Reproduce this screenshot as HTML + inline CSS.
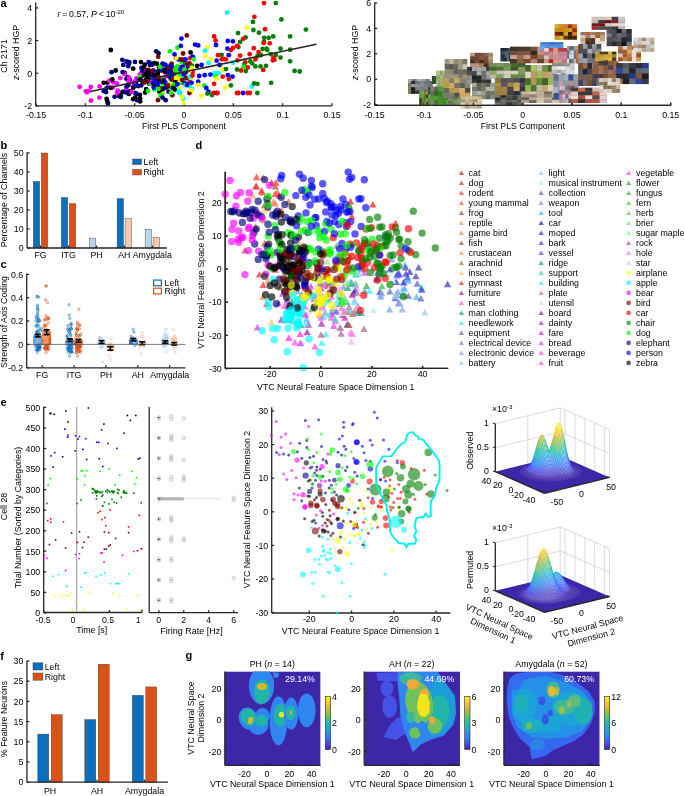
<!DOCTYPE html>
<html><head><meta charset="utf-8"><style>
html,body{margin:0;padding:0;background:#fff;}
body{width:685px;height:796px;overflow:hidden;}
svg{display:block;font-family:"Liberation Sans", sans-serif;font-size:8.8px;will-change:transform;}
</style></head><body>
<svg width="685" height="796" viewBox="0 0 685 796">
<text x="0.5" y="7.3" font-weight="bold" font-size="11">a</text>
<text x="0.6" y="148.7" font-weight="bold" font-size="11">b</text>
<text x="0.6" y="268.2" font-weight="bold" font-size="11">c</text>
<text x="195.4" y="148.9" font-weight="bold" font-size="11">d</text>
<text x="0.4" y="405.8" font-weight="bold" font-size="11">e</text>
<text x="0.2" y="659.7" font-weight="bold" font-size="11">f</text>
<text x="185.4" y="659.3" font-weight="bold" font-size="11">g</text>
<line x1="35.7" y1="105.8" x2="332" y2="105.8" stroke="#262626" stroke-width="1.3"/>
<line x1="35.7" y1="105.8" x2="35.7" y2="2.5" stroke="#262626" stroke-width="1.3"/>
<line x1="36" y1="105.8" x2="36" y2="103.3" stroke="#262626" stroke-width="1.3"/>
<text x="36" y="118.4" text-anchor="middle">-0.15</text>
<line x1="85.3" y1="105.8" x2="85.3" y2="103.3" stroke="#262626" stroke-width="1.3"/>
<text x="85.3" y="118.4" text-anchor="middle">-0.1</text>
<line x1="134.7" y1="105.8" x2="134.7" y2="103.3" stroke="#262626" stroke-width="1.3"/>
<text x="134.7" y="118.4" text-anchor="middle">-0.05</text>
<line x1="184" y1="105.8" x2="184" y2="103.3" stroke="#262626" stroke-width="1.3"/>
<text x="184" y="118.4" text-anchor="middle">0</text>
<line x1="233.3" y1="105.8" x2="233.3" y2="103.3" stroke="#262626" stroke-width="1.3"/>
<text x="233.3" y="118.4" text-anchor="middle">0.05</text>
<line x1="282.7" y1="105.8" x2="282.7" y2="103.3" stroke="#262626" stroke-width="1.3"/>
<text x="282.7" y="118.4" text-anchor="middle">0.1</text>
<line x1="332" y1="105.8" x2="332" y2="103.3" stroke="#262626" stroke-width="1.3"/>
<text x="332" y="118.4" text-anchor="middle">0.15</text>
<line x1="35.7" y1="7.9" x2="38.2" y2="7.9" stroke="#262626" stroke-width="1.3"/>
<text x="32.2" y="11.1" text-anchor="end">4</text>
<line x1="35.7" y1="40.6" x2="38.2" y2="40.6" stroke="#262626" stroke-width="1.3"/>
<text x="32.2" y="43.8" text-anchor="end">2</text>
<line x1="35.7" y1="73.3" x2="38.2" y2="73.3" stroke="#262626" stroke-width="1.3"/>
<text x="32.2" y="76.5" text-anchor="end">0</text>
<line x1="35.7" y1="106" x2="38.2" y2="106" stroke="#262626" stroke-width="1.3"/>
<text x="32.2" y="109.2" text-anchor="end">-2</text>
<text x="184" y="128.6" text-anchor="middle">First PLS Component</text>
<circle cx="168.1" cy="73" r="2.4" fill="#00ffff"/>
<circle cx="183.6" cy="102.5" r="2.4" fill="#ffff00"/>
<circle cx="189.7" cy="79.8" r="2.4" fill="#ff0000"/>
<circle cx="177.5" cy="47.7" r="2.4" fill="#00ff00"/>
<circle cx="162.1" cy="93.5" r="2.4" fill="#00ff00"/>
<circle cx="153.2" cy="85.7" r="2.4" fill="#00ff00"/>
<circle cx="162.7" cy="63.7" r="2.4" fill="#00008b"/>
<circle cx="179.8" cy="92.8" r="2.4" fill="#0000ff"/>
<circle cx="142.6" cy="75.6" r="2.4" fill="#000000"/>
<circle cx="126.4" cy="78.8" r="2.4" fill="#00008b"/>
<circle cx="192" cy="88.8" r="2.4" fill="#00ffff"/>
<circle cx="174" cy="87.9" r="2.4" fill="#ff0000"/>
<circle cx="173.2" cy="79.3" r="2.4" fill="#00ffff"/>
<circle cx="79.6" cy="86.8" r="2.4" fill="#ff00ff"/>
<circle cx="187.7" cy="84.1" r="2.4" fill="#ffff00"/>
<circle cx="168.8" cy="88.2" r="2.4" fill="#ffff00"/>
<circle cx="120.3" cy="78.1" r="2.4" fill="#ff00ff"/>
<circle cx="107.9" cy="103.4" r="2.4" fill="#00008b"/>
<circle cx="152.5" cy="64.5" r="2.4" fill="#00008b"/>
<circle cx="134.6" cy="84.9" r="2.4" fill="#ff00ff"/>
<circle cx="158.1" cy="83.1" r="2.4" fill="#00008b"/>
<circle cx="184.3" cy="78.8" r="2.4" fill="#008000"/>
<circle cx="175.2" cy="85.2" r="2.4" fill="#00008b"/>
<circle cx="136.6" cy="78.5" r="2.4" fill="#ff00ff"/>
<circle cx="163.8" cy="78.8" r="2.4" fill="#800000"/>
<circle cx="153.5" cy="74.9" r="2.4" fill="#000000"/>
<circle cx="149.2" cy="74" r="2.4" fill="#00008b"/>
<circle cx="158.5" cy="53.2" r="2.4" fill="#000000"/>
<circle cx="191.1" cy="67.1" r="2.4" fill="#ff0000"/>
<circle cx="164.5" cy="88" r="2.4" fill="#ffff00"/>
<circle cx="159.8" cy="92.3" r="2.4" fill="#000000"/>
<circle cx="112.9" cy="87.6" r="2.4" fill="#ff00ff"/>
<circle cx="103.8" cy="91.2" r="2.4" fill="#00008b"/>
<circle cx="186.1" cy="71.7" r="2.4" fill="#ffff00"/>
<circle cx="163.1" cy="84.5" r="2.4" fill="#00ff00"/>
<circle cx="190.6" cy="52.4" r="2.4" fill="#000000"/>
<circle cx="179.6" cy="79.4" r="2.4" fill="#0000ff"/>
<circle cx="162.7" cy="88.3" r="2.4" fill="#ffff00"/>
<circle cx="181.2" cy="67.2" r="2.4" fill="#0000ff"/>
<circle cx="168.7" cy="75.1" r="2.4" fill="#00ff00"/>
<circle cx="175.8" cy="74.4" r="2.4" fill="#0000ff"/>
<circle cx="181.2" cy="61.6" r="2.4" fill="#00ff00"/>
<circle cx="129.9" cy="79.8" r="2.4" fill="#00008b"/>
<circle cx="169.9" cy="51.3" r="2.4" fill="#00ff00"/>
<circle cx="186" cy="72.1" r="2.4" fill="#800000"/>
<circle cx="157.2" cy="74.2" r="2.4" fill="#00008b"/>
<circle cx="174.1" cy="84.6" r="2.4" fill="#00ff00"/>
<circle cx="168.9" cy="74.5" r="2.4" fill="#000000"/>
<circle cx="165.6" cy="100.2" r="2.4" fill="#00008b"/>
<circle cx="176.4" cy="80.3" r="2.4" fill="#800000"/>
<circle cx="188.4" cy="85.5" r="2.4" fill="#00ffff"/>
<circle cx="128.9" cy="63.6" r="2.4" fill="#000000"/>
<circle cx="154.1" cy="77.2" r="2.4" fill="#00008b"/>
<circle cx="178.7" cy="77.9" r="2.4" fill="#00ffff"/>
<circle cx="153.1" cy="70.9" r="2.4" fill="#00008b"/>
<circle cx="156.8" cy="63.7" r="2.4" fill="#000000"/>
<circle cx="85.9" cy="91.2" r="2.4" fill="#ff00ff"/>
<circle cx="186.8" cy="84" r="2.4" fill="#800000"/>
<circle cx="176" cy="57.9" r="2.4" fill="#800000"/>
<circle cx="175" cy="89.6" r="2.4" fill="#000000"/>
<circle cx="158.7" cy="79.7" r="2.4" fill="#0000ff"/>
<circle cx="103.7" cy="82.8" r="2.4" fill="#000000"/>
<circle cx="149.3" cy="79.1" r="2.4" fill="#00008b"/>
<circle cx="167.3" cy="87.1" r="2.4" fill="#00ffff"/>
<circle cx="160.7" cy="93.7" r="2.4" fill="#00ff00"/>
<circle cx="107.5" cy="82.6" r="2.4" fill="#000000"/>
<circle cx="185" cy="82.8" r="2.4" fill="#00ffff"/>
<circle cx="155.1" cy="84.3" r="2.4" fill="#800000"/>
<circle cx="158" cy="100.2" r="2.4" fill="#800000"/>
<circle cx="120.9" cy="95" r="2.4" fill="#00008b"/>
<circle cx="109.3" cy="80.7" r="2.4" fill="#ff00ff"/>
<circle cx="190.6" cy="69.6" r="2.4" fill="#00ff00"/>
<circle cx="106.1" cy="92.1" r="2.4" fill="#00008b"/>
<circle cx="146.2" cy="73.4" r="2.4" fill="#000000"/>
<circle cx="158.4" cy="85.1" r="2.4" fill="#00ff00"/>
<circle cx="124.7" cy="72.9" r="2.4" fill="#000000"/>
<circle cx="162.1" cy="78.9" r="2.4" fill="#00ff00"/>
<circle cx="149" cy="83.5" r="2.4" fill="#00008b"/>
<circle cx="182.5" cy="76.2" r="2.4" fill="#800000"/>
<circle cx="171.3" cy="63.6" r="2.4" fill="#00ff00"/>
<circle cx="182.8" cy="74.6" r="2.4" fill="#800000"/>
<circle cx="171.1" cy="65.8" r="2.4" fill="#0000ff"/>
<circle cx="178.5" cy="67.3" r="2.4" fill="#800000"/>
<circle cx="120.8" cy="97" r="2.4" fill="#00008b"/>
<circle cx="167.2" cy="69.8" r="2.4" fill="#000000"/>
<circle cx="182.9" cy="66.7" r="2.4" fill="#0000ff"/>
<circle cx="171.7" cy="64" r="2.4" fill="#800000"/>
<circle cx="122.3" cy="59.8" r="2.4" fill="#00008b"/>
<circle cx="166.7" cy="66.8" r="2.4" fill="#00008b"/>
<circle cx="135.2" cy="86" r="2.4" fill="#00008b"/>
<circle cx="178.7" cy="87.3" r="2.4" fill="#00ffff"/>
<circle cx="168.5" cy="91.6" r="2.4" fill="#00008b"/>
<circle cx="156.3" cy="81.9" r="2.4" fill="#800000"/>
<circle cx="123.3" cy="64.9" r="2.4" fill="#00008b"/>
<circle cx="154.4" cy="89.4" r="2.4" fill="#00ff00"/>
<circle cx="128.4" cy="85.1" r="2.4" fill="#000000"/>
<circle cx="113.1" cy="82.3" r="2.4" fill="#ff00ff"/>
<circle cx="162.7" cy="91.1" r="2.4" fill="#ffff00"/>
<circle cx="191" cy="91.7" r="2.4" fill="#ffff00"/>
<circle cx="183" cy="59.8" r="2.4" fill="#800000"/>
<circle cx="148.6" cy="62.1" r="2.4" fill="#0000ff"/>
<circle cx="170.9" cy="86.4" r="2.4" fill="#0000ff"/>
<circle cx="136" cy="83.1" r="2.4" fill="#000000"/>
<circle cx="115.7" cy="70.5" r="2.4" fill="#000000"/>
<circle cx="157.7" cy="74.4" r="2.4" fill="#000000"/>
<circle cx="176.4" cy="73.6" r="2.4" fill="#00ff00"/>
<circle cx="171" cy="67.3" r="2.4" fill="#000000"/>
<circle cx="162.4" cy="89.3" r="2.4" fill="#000000"/>
<circle cx="86.9" cy="92.3" r="2.4" fill="#ff00ff"/>
<circle cx="152.9" cy="78.6" r="2.4" fill="#00008b"/>
<circle cx="173.6" cy="73.4" r="2.4" fill="#0000ff"/>
<circle cx="190.1" cy="58.1" r="2.4" fill="#ff0000"/>
<circle cx="188.6" cy="84.1" r="2.4" fill="#800000"/>
<circle cx="108.1" cy="86.9" r="2.4" fill="#ff00ff"/>
<circle cx="149.9" cy="75.3" r="2.4" fill="#00008b"/>
<circle cx="185.2" cy="63.2" r="2.4" fill="#008000"/>
<circle cx="183.1" cy="75.3" r="2.4" fill="#000000"/>
<circle cx="147.2" cy="76" r="2.4" fill="#000000"/>
<circle cx="171.2" cy="78.9" r="2.4" fill="#000000"/>
<circle cx="141" cy="62.1" r="2.4" fill="#000000"/>
<circle cx="189.4" cy="93" r="2.4" fill="#800000"/>
<circle cx="99.6" cy="86.5" r="2.4" fill="#ff00ff"/>
<circle cx="116.8" cy="83.3" r="2.4" fill="#ff00ff"/>
<circle cx="146.1" cy="75.6" r="2.4" fill="#000000"/>
<circle cx="174.8" cy="77.5" r="2.4" fill="#800000"/>
<circle cx="138.9" cy="78.7" r="2.4" fill="#00008b"/>
<circle cx="163.1" cy="80.4" r="2.4" fill="#0000ff"/>
<circle cx="145.2" cy="70.4" r="2.4" fill="#ff00ff"/>
<circle cx="141.2" cy="85.4" r="2.4" fill="#00008b"/>
<circle cx="127.6" cy="77.2" r="2.4" fill="#000000"/>
<circle cx="170.9" cy="78.5" r="2.4" fill="#00ff00"/>
<circle cx="135.2" cy="92.8" r="2.4" fill="#00008b"/>
<circle cx="171.2" cy="71.1" r="2.4" fill="#00008b"/>
<circle cx="139.9" cy="94.9" r="2.4" fill="#000000"/>
<circle cx="191.7" cy="65.4" r="2.4" fill="#000000"/>
<circle cx="170.8" cy="85.3" r="2.4" fill="#00ff00"/>
<circle cx="155.5" cy="76.8" r="2.4" fill="#000000"/>
<circle cx="192.6" cy="72" r="2.4" fill="#ff0000"/>
<circle cx="186.8" cy="35.4" r="2.4" fill="#800000"/>
<circle cx="153" cy="80.5" r="2.4" fill="#00ff00"/>
<circle cx="159.4" cy="90.7" r="2.4" fill="#000000"/>
<circle cx="148.2" cy="69.8" r="2.4" fill="#800000"/>
<circle cx="153.7" cy="82.6" r="2.4" fill="#800000"/>
<circle cx="149.7" cy="83.1" r="2.4" fill="#00ff00"/>
<circle cx="151.3" cy="79.8" r="2.4" fill="#00ff00"/>
<circle cx="189.3" cy="67" r="2.4" fill="#00ffff"/>
<circle cx="125.1" cy="91.4" r="2.4" fill="#00008b"/>
<circle cx="110.8" cy="87.8" r="2.4" fill="#000000"/>
<circle cx="181.4" cy="38.6" r="2.4" fill="#0000ff"/>
<circle cx="177.5" cy="66.5" r="2.4" fill="#00ff00"/>
<circle cx="160.1" cy="88.4" r="2.4" fill="#800000"/>
<circle cx="130.5" cy="91.7" r="2.4" fill="#000000"/>
<circle cx="90.9" cy="100.6" r="2.4" fill="#ff00ff"/>
<circle cx="179.1" cy="77.8" r="2.4" fill="#00008b"/>
<circle cx="129" cy="91.4" r="2.4" fill="#000000"/>
<circle cx="140.1" cy="101.4" r="2.4" fill="#000000"/>
<circle cx="173.3" cy="75.8" r="2.4" fill="#0000ff"/>
<circle cx="174.1" cy="68.4" r="2.4" fill="#800000"/>
<circle cx="180.8" cy="45.9" r="2.4" fill="#0000ff"/>
<circle cx="186.8" cy="78" r="2.4" fill="#800000"/>
<circle cx="161.6" cy="81.7" r="2.4" fill="#00008b"/>
<circle cx="183.3" cy="83.1" r="2.4" fill="#800000"/>
<circle cx="126.8" cy="90.6" r="2.4" fill="#00008b"/>
<circle cx="181.3" cy="78" r="2.4" fill="#0000ff"/>
<circle cx="161.8" cy="66.8" r="2.4" fill="#000000"/>
<circle cx="180.1" cy="82.5" r="2.4" fill="#00ff00"/>
<circle cx="163.5" cy="80.9" r="2.4" fill="#800000"/>
<circle cx="122.5" cy="91.9" r="2.4" fill="#000000"/>
<circle cx="141.5" cy="67.9" r="2.4" fill="#00008b"/>
<circle cx="142.1" cy="71.4" r="2.4" fill="#00008b"/>
<circle cx="119.1" cy="95.9" r="2.4" fill="#000000"/>
<circle cx="180.1" cy="71.3" r="2.4" fill="#ff00ff"/>
<circle cx="170.4" cy="79.3" r="2.4" fill="#00ffff"/>
<circle cx="190.6" cy="89.8" r="2.4" fill="#ffff00"/>
<circle cx="153.8" cy="87.6" r="2.4" fill="#0000ff"/>
<circle cx="177.6" cy="79.3" r="2.4" fill="#000000"/>
<circle cx="165.7" cy="76.3" r="2.4" fill="#ff00ff"/>
<circle cx="134.4" cy="82.3" r="2.4" fill="#000000"/>
<circle cx="179.2" cy="79.9" r="2.4" fill="#ffff00"/>
<circle cx="181.4" cy="77.6" r="2.4" fill="#800000"/>
<circle cx="147.7" cy="80.9" r="2.4" fill="#00008b"/>
<circle cx="170.3" cy="66" r="2.4" fill="#0000ff"/>
<circle cx="178.3" cy="59.3" r="2.4" fill="#0000ff"/>
<circle cx="128.2" cy="66.2" r="2.4" fill="#00008b"/>
<circle cx="191.1" cy="76.4" r="2.4" fill="#00ffff"/>
<circle cx="180.2" cy="93.1" r="2.4" fill="#00ffff"/>
<circle cx="146.1" cy="73.7" r="2.4" fill="#000000"/>
<circle cx="177.3" cy="84.2" r="2.4" fill="#0000ff"/>
<circle cx="153.6" cy="70.6" r="2.4" fill="#0000ff"/>
<circle cx="166.8" cy="85.9" r="2.4" fill="#0000ff"/>
<circle cx="148.1" cy="79.5" r="2.4" fill="#000000"/>
<circle cx="151.9" cy="81.1" r="2.4" fill="#ff00ff"/>
<circle cx="182.2" cy="75.8" r="2.4" fill="#00ffff"/>
<circle cx="154.2" cy="63.2" r="2.4" fill="#000000"/>
<circle cx="133.7" cy="85.8" r="2.4" fill="#ff00ff"/>
<circle cx="126.1" cy="89.2" r="2.4" fill="#ff00ff"/>
<circle cx="142.5" cy="81.3" r="2.4" fill="#000000"/>
<circle cx="170.4" cy="73.6" r="2.4" fill="#00008b"/>
<circle cx="147.1" cy="81.5" r="2.4" fill="#800000"/>
<circle cx="167.6" cy="67.2" r="2.4" fill="#800000"/>
<circle cx="161.1" cy="70.5" r="2.4" fill="#800000"/>
<circle cx="139.4" cy="78.1" r="2.4" fill="#00008b"/>
<circle cx="158.4" cy="88.8" r="2.4" fill="#00ff00"/>
<circle cx="151" cy="71.4" r="2.4" fill="#000000"/>
<circle cx="110.8" cy="50" r="2.4" fill="#000000"/>
<circle cx="112.3" cy="79.5" r="2.4" fill="#000000"/>
<circle cx="139.9" cy="74.4" r="2.4" fill="#ff00ff"/>
<circle cx="181.2" cy="59.5" r="2.4" fill="#800000"/>
<circle cx="174.7" cy="68.4" r="2.4" fill="#0000ff"/>
<circle cx="164.5" cy="81.7" r="2.4" fill="#000000"/>
<circle cx="164.6" cy="70.2" r="2.4" fill="#000000"/>
<circle cx="174.9" cy="72.6" r="2.4" fill="#00ffff"/>
<circle cx="117" cy="92.7" r="2.4" fill="#ff00ff"/>
<circle cx="180.1" cy="69" r="2.4" fill="#0000ff"/>
<circle cx="136.9" cy="100.2" r="2.4" fill="#00008b"/>
<circle cx="185.3" cy="83.6" r="2.4" fill="#0000ff"/>
<circle cx="158.2" cy="56.8" r="2.4" fill="#800000"/>
<circle cx="128.9" cy="93.9" r="2.4" fill="#000000"/>
<circle cx="183.1" cy="98.4" r="2.4" fill="#00ffff"/>
<circle cx="154.8" cy="78.9" r="2.4" fill="#0000ff"/>
<circle cx="185.3" cy="85.2" r="2.4" fill="#00ffff"/>
<circle cx="190.9" cy="77.9" r="2.4" fill="#ffff00"/>
<circle cx="135" cy="61.9" r="2.4" fill="#00008b"/>
<circle cx="177.4" cy="73.7" r="2.4" fill="#00ffff"/>
<circle cx="181" cy="74.4" r="2.4" fill="#0000ff"/>
<circle cx="170.5" cy="76.6" r="2.4" fill="#00008b"/>
<circle cx="107.2" cy="101" r="2.4" fill="#000000"/>
<circle cx="160.7" cy="69.5" r="2.4" fill="#0000ff"/>
<circle cx="180" cy="78.1" r="2.4" fill="#ffff00"/>
<circle cx="160.6" cy="96.2" r="2.4" fill="#00ff00"/>
<circle cx="176.2" cy="67.3" r="2.4" fill="#00ff00"/>
<circle cx="88.7" cy="91.1" r="2.4" fill="#ff00ff"/>
<circle cx="182" cy="97" r="2.4" fill="#ffff00"/>
<circle cx="136.6" cy="93.8" r="2.4" fill="#00008b"/>
<circle cx="190.3" cy="63.7" r="2.4" fill="#ffff00"/>
<circle cx="156.2" cy="51.3" r="2.4" fill="#00008b"/>
<circle cx="145.9" cy="80" r="2.4" fill="#000000"/>
<circle cx="144.8" cy="64.7" r="2.4" fill="#000000"/>
<circle cx="179.8" cy="88.3" r="2.4" fill="#ffff00"/>
<circle cx="159" cy="67" r="2.4" fill="#800000"/>
<circle cx="189.4" cy="63.3" r="2.4" fill="#800000"/>
<circle cx="187.8" cy="68.2" r="2.4" fill="#0000ff"/>
<circle cx="161.2" cy="96.8" r="2.4" fill="#00ff00"/>
<circle cx="124.4" cy="73.9" r="2.4" fill="#ff00ff"/>
<circle cx="190.1" cy="70.3" r="2.4" fill="#ffff00"/>
<circle cx="170.8" cy="77.7" r="2.4" fill="#800000"/>
<circle cx="175" cy="80.4" r="2.4" fill="#000000"/>
<circle cx="175.1" cy="77.5" r="2.4" fill="#ffff00"/>
<circle cx="152" cy="70.9" r="2.4" fill="#800000"/>
<circle cx="176.4" cy="58.1" r="2.4" fill="#ffff00"/>
<circle cx="172.3" cy="95.2" r="2.4" fill="#800000"/>
<circle cx="129.3" cy="62.1" r="2.4" fill="#00008b"/>
<circle cx="187.4" cy="64.5" r="2.4" fill="#800000"/>
<circle cx="166.6" cy="87.3" r="2.4" fill="#000000"/>
<circle cx="171.8" cy="79.6" r="2.4" fill="#800000"/>
<circle cx="173.1" cy="88" r="2.4" fill="#000000"/>
<circle cx="133.1" cy="87.7" r="2.4" fill="#000000"/>
<circle cx="165.6" cy="82.9" r="2.4" fill="#0000ff"/>
<circle cx="155.5" cy="81.6" r="2.4" fill="#800000"/>
<circle cx="146.2" cy="89.1" r="2.4" fill="#000000"/>
<circle cx="185.5" cy="59.5" r="2.4" fill="#0000ff"/>
<circle cx="163.9" cy="88.3" r="2.4" fill="#00008b"/>
<circle cx="157.9" cy="71.7" r="2.4" fill="#000000"/>
<circle cx="176.4" cy="71.5" r="2.4" fill="#00ff00"/>
<circle cx="166.3" cy="71.4" r="2.4" fill="#0000ff"/>
<circle cx="126" cy="92.4" r="2.4" fill="#00008b"/>
<circle cx="149.7" cy="62.8" r="2.4" fill="#00008b"/>
<circle cx="177.3" cy="76" r="2.4" fill="#ffff00"/>
<circle cx="174.5" cy="54.3" r="2.4" fill="#0000ff"/>
<circle cx="180.1" cy="74.6" r="2.4" fill="#00ff00"/>
<circle cx="131.6" cy="92.1" r="2.4" fill="#ff00ff"/>
<circle cx="126.6" cy="86.6" r="2.4" fill="#00008b"/>
<circle cx="171" cy="92.9" r="2.4" fill="#00ff00"/>
<circle cx="145.1" cy="92.6" r="2.4" fill="#000000"/>
<circle cx="133.2" cy="68.7" r="2.4" fill="#000000"/>
<circle cx="161.9" cy="65.9" r="2.4" fill="#00ff00"/>
<circle cx="135.2" cy="97.4" r="2.4" fill="#000000"/>
<circle cx="99.4" cy="97.6" r="2.4" fill="#ff00ff"/>
<circle cx="106.8" cy="87.8" r="2.4" fill="#00008b"/>
<circle cx="135.1" cy="84.5" r="2.4" fill="#0000ff"/>
<circle cx="174.5" cy="75.8" r="2.4" fill="#0000ff"/>
<circle cx="189.6" cy="85.9" r="2.4" fill="#00ffff"/>
<circle cx="148" cy="91" r="2.4" fill="#00ff00"/>
<circle cx="191.5" cy="66" r="2.4" fill="#008000"/>
<circle cx="143.7" cy="67.3" r="2.4" fill="#000000"/>
<circle cx="168.8" cy="84.3" r="2.4" fill="#ffff00"/>
<circle cx="122.6" cy="72.1" r="2.4" fill="#00008b"/>
<circle cx="168.1" cy="85.4" r="2.4" fill="#800000"/>
<circle cx="147.4" cy="70.9" r="2.4" fill="#000000"/>
<circle cx="106.6" cy="98.9" r="2.4" fill="#000000"/>
<circle cx="185.6" cy="71" r="2.4" fill="#000000"/>
<circle cx="162.6" cy="97.6" r="2.4" fill="#00008b"/>
<circle cx="90.8" cy="87" r="2.4" fill="#ff00ff"/>
<circle cx="140.1" cy="98.6" r="2.4" fill="#000000"/>
<circle cx="189.8" cy="77" r="2.4" fill="#00ffff"/>
<circle cx="170.4" cy="74.9" r="2.4" fill="#000000"/>
<circle cx="134.6" cy="81.7" r="2.4" fill="#ff00ff"/>
<circle cx="157.6" cy="84.5" r="2.4" fill="#0000ff"/>
<circle cx="178.8" cy="91.2" r="2.4" fill="#00ffff"/>
<circle cx="162.4" cy="64.7" r="2.4" fill="#00008b"/>
<circle cx="154.1" cy="84.4" r="2.4" fill="#000000"/>
<circle cx="176.1" cy="77.7" r="2.4" fill="#ffff00"/>
<circle cx="114.6" cy="96.8" r="2.4" fill="#00008b"/>
<circle cx="133.1" cy="99.2" r="2.4" fill="#000000"/>
<circle cx="183.1" cy="53.5" r="2.4" fill="#800000"/>
<circle cx="192" cy="67.9" r="2.4" fill="#ffff00"/>
<circle cx="139.5" cy="77" r="2.4" fill="#00ff00"/>
<circle cx="164.6" cy="71.7" r="2.4" fill="#000000"/>
<circle cx="169.6" cy="75.8" r="2.4" fill="#00ff00"/>
<circle cx="138.2" cy="86.1" r="2.4" fill="#00008b"/>
<circle cx="160.1" cy="66.8" r="2.4" fill="#00ff00"/>
<circle cx="182.2" cy="79.8" r="2.4" fill="#800000"/>
<circle cx="184.5" cy="69.4" r="2.4" fill="#00ff00"/>
<circle cx="128.9" cy="78" r="2.4" fill="#ff00ff"/>
<circle cx="152.9" cy="83.3" r="2.4" fill="#00008b"/>
<circle cx="117.7" cy="90.7" r="2.4" fill="#ff00ff"/>
<circle cx="169.4" cy="76.7" r="2.4" fill="#00008b"/>
<circle cx="171" cy="73.9" r="2.4" fill="#0000ff"/>
<circle cx="187" cy="85.1" r="2.4" fill="#0000ff"/>
<circle cx="173.7" cy="70.7" r="2.4" fill="#800000"/>
<circle cx="158.1" cy="78.8" r="2.4" fill="#000000"/>
<circle cx="150" cy="65" r="2.4" fill="#00008b"/>
<circle cx="128.5" cy="82" r="2.4" fill="#ff00ff"/>
<circle cx="144.2" cy="82.5" r="2.4" fill="#800000"/>
<circle cx="126.5" cy="61.5" r="2.4" fill="#00008b"/>
<circle cx="193" cy="57.2" r="2.4" fill="#0000ff"/>
<circle cx="140.4" cy="79.2" r="2.4" fill="#000000"/>
<circle cx="154.6" cy="81.4" r="2.4" fill="#0000ff"/>
<circle cx="158.8" cy="77.4" r="2.4" fill="#800000"/>
<circle cx="175" cy="69.8" r="2.4" fill="#00ff00"/>
<circle cx="192.3" cy="56.6" r="2.4" fill="#0000ff"/>
<circle cx="111.6" cy="72.2" r="2.4" fill="#00008b"/>
<circle cx="183.9" cy="74.3" r="2.4" fill="#0000ff"/>
<circle cx="165.3" cy="64.7" r="2.4" fill="#0000ff"/>
<circle cx="264" cy="3.1" r="2.4" fill="#ff0000"/>
<circle cx="275.8" cy="3.1" r="2.4" fill="#008000"/>
<circle cx="227" cy="12.7" r="2.4" fill="#00ffff"/>
<circle cx="254.4" cy="16.8" r="2.4" fill="#ff0000"/>
<circle cx="252.9" cy="21.9" r="2.4" fill="#008000"/>
<circle cx="281.4" cy="19.4" r="2.4" fill="#008000"/>
<circle cx="246.6" cy="27.6" r="2.4" fill="#ffff00"/>
<circle cx="265" cy="29.2" r="2.4" fill="#ff0000"/>
<circle cx="253.4" cy="30" r="2.4" fill="#008000"/>
<circle cx="258.9" cy="32.7" r="2.4" fill="#008000"/>
<circle cx="238" cy="33.1" r="2.4" fill="#008000"/>
<circle cx="305.9" cy="29.6" r="2.4" fill="#008000"/>
<circle cx="214.1" cy="36.4" r="2.4" fill="#ff0000"/>
<circle cx="215.5" cy="40.5" r="2.4" fill="#ff0000"/>
<circle cx="245.6" cy="37.4" r="2.4" fill="#008000"/>
<circle cx="243.1" cy="38.8" r="2.4" fill="#ff0000"/>
<circle cx="264.2" cy="37.8" r="2.4" fill="#008000"/>
<circle cx="268.7" cy="37.8" r="2.4" fill="#008000"/>
<circle cx="273.2" cy="36.4" r="2.4" fill="#008000"/>
<circle cx="290.1" cy="36.4" r="2.4" fill="#008000"/>
<circle cx="264" cy="41.9" r="2.4" fill="#008000"/>
<circle cx="263.6" cy="42.9" r="2.4" fill="#ff0000"/>
<circle cx="269.7" cy="43.3" r="2.4" fill="#ff0000"/>
<circle cx="227.8" cy="40.9" r="2.4" fill="#0000ff"/>
<circle cx="232.9" cy="41.3" r="2.4" fill="#0000ff"/>
<circle cx="216" cy="45" r="2.4" fill="#0000ff"/>
<circle cx="195.1" cy="44.6" r="2.4" fill="#0000ff"/>
<circle cx="198.2" cy="45.4" r="2.4" fill="#0000ff"/>
<circle cx="240.1" cy="41.9" r="2.4" fill="#008000"/>
<circle cx="238.4" cy="47" r="2.4" fill="#008000"/>
<circle cx="237" cy="46" r="2.4" fill="#ff0000"/>
<circle cx="232.9" cy="48" r="2.4" fill="#ff0000"/>
<circle cx="230.9" cy="50.1" r="2.4" fill="#ff0000"/>
<circle cx="227.4" cy="48.6" r="2.4" fill="#0000ff"/>
<circle cx="262.6" cy="49" r="2.4" fill="#008000"/>
<circle cx="266.6" cy="48.6" r="2.4" fill="#008000"/>
<circle cx="267.3" cy="50.1" r="2.4" fill="#008000"/>
<circle cx="280.5" cy="48.6" r="2.4" fill="#008000"/>
<circle cx="290.1" cy="49.7" r="2.4" fill="#008000"/>
<circle cx="253.8" cy="48.2" r="2.4" fill="#ff0000"/>
<circle cx="207.4" cy="47.4" r="2.4" fill="#ffff00"/>
<circle cx="204.9" cy="50.7" r="2.4" fill="#00ffff"/>
<circle cx="205.3" cy="56.2" r="2.4" fill="#ffff00"/>
<circle cx="221.7" cy="54.8" r="2.4" fill="#008000"/>
<circle cx="218" cy="55.2" r="2.4" fill="#ff0000"/>
<circle cx="240.1" cy="55.6" r="2.4" fill="#ff0000"/>
<circle cx="249.7" cy="54.2" r="2.4" fill="#ff0000"/>
<circle cx="228.8" cy="55.2" r="2.4" fill="#0000ff"/>
<circle cx="259.5" cy="54.2" r="2.4" fill="#008000"/>
<circle cx="261.1" cy="55.2" r="2.4" fill="#008000"/>
<circle cx="257.4" cy="56.2" r="2.4" fill="#008000"/>
<circle cx="258.5" cy="52.1" r="2.4" fill="#ff0000"/>
<circle cx="270.7" cy="54.2" r="2.4" fill="#008000"/>
<circle cx="275.8" cy="55.2" r="2.4" fill="#008000"/>
<circle cx="280.5" cy="57.6" r="2.4" fill="#008000"/>
<circle cx="273.4" cy="57.6" r="2.4" fill="#ff0000"/>
<circle cx="274.4" cy="59.7" r="2.4" fill="#ff0000"/>
<circle cx="272.8" cy="60.3" r="2.4" fill="#ff0000"/>
<circle cx="255.4" cy="59.3" r="2.4" fill="#ff0000"/>
<circle cx="290.1" cy="61.3" r="2.4" fill="#008000"/>
<circle cx="211.1" cy="59.3" r="2.4" fill="#ffff00"/>
<circle cx="193.5" cy="59.3" r="2.4" fill="#00ff00"/>
<circle cx="221.7" cy="59.3" r="2.4" fill="#ff0000"/>
<circle cx="223.7" cy="58.9" r="2.4" fill="#ff0000"/>
<circle cx="225.8" cy="59.3" r="2.4" fill="#ff0000"/>
<circle cx="216.6" cy="60.7" r="2.4" fill="#0000ff"/>
<circle cx="208.4" cy="62.9" r="2.4" fill="#00ffff"/>
<circle cx="232.9" cy="62.7" r="2.4" fill="#00ffff"/>
<circle cx="237.4" cy="60.3" r="2.4" fill="#ff0000"/>
<circle cx="250.3" cy="61.3" r="2.4" fill="#008000"/>
<circle cx="252.3" cy="63.4" r="2.4" fill="#008000"/>
<circle cx="245.2" cy="62.3" r="2.4" fill="#ff0000"/>
<circle cx="244.2" cy="65" r="2.4" fill="#008000"/>
<circle cx="255.4" cy="66.4" r="2.4" fill="#008000"/>
<circle cx="260.5" cy="66.4" r="2.4" fill="#008000"/>
<circle cx="266" cy="65.8" r="2.4" fill="#008000"/>
<circle cx="243.5" cy="66.8" r="2.4" fill="#00ff00"/>
<circle cx="247.8" cy="67.4" r="2.4" fill="#ff0000"/>
<circle cx="219.6" cy="65" r="2.4" fill="#0000ff"/>
<circle cx="201.6" cy="65" r="2.4" fill="#0000ff"/>
<circle cx="197.2" cy="65.8" r="2.4" fill="#000000"/>
<circle cx="237" cy="69.5" r="2.4" fill="#008000"/>
<circle cx="241.1" cy="70.5" r="2.4" fill="#ff0000"/>
<circle cx="263.2" cy="69.9" r="2.4" fill="#ff0000"/>
<circle cx="245.8" cy="71.1" r="2.4" fill="#008000"/>
<circle cx="222.7" cy="69.5" r="2.4" fill="#ffff00"/>
<circle cx="226" cy="69.1" r="2.4" fill="#008000"/>
<circle cx="214.5" cy="73.2" r="2.4" fill="#00ffff"/>
<circle cx="218.6" cy="73.2" r="2.4" fill="#00ffff"/>
<circle cx="215.5" cy="76.2" r="2.4" fill="#00ff00"/>
<circle cx="222.7" cy="76.6" r="2.4" fill="#ff0000"/>
<circle cx="216.6" cy="78.7" r="2.4" fill="#ffff00"/>
<circle cx="227.8" cy="75.2" r="2.4" fill="#0000ff"/>
<circle cx="232.5" cy="76.6" r="2.4" fill="#0000ff"/>
<circle cx="228.8" cy="79.1" r="2.4" fill="#ff0000"/>
<circle cx="210.4" cy="74.6" r="2.4" fill="#0000ff"/>
<circle cx="204.7" cy="75.2" r="2.4" fill="#0000ff"/>
<circle cx="199.2" cy="76" r="2.4" fill="#0000ff"/>
<circle cx="192.5" cy="75.6" r="2.4" fill="#ff0000"/>
<circle cx="294.6" cy="70.9" r="2.4" fill="#008000"/>
<circle cx="299.7" cy="71.5" r="2.4" fill="#008000"/>
<circle cx="230.9" cy="85.4" r="2.4" fill="#008000"/>
<circle cx="214.1" cy="83.8" r="2.4" fill="#ff0000"/>
<circle cx="198.2" cy="81.7" r="2.4" fill="#0000ff"/>
<circle cx="191.6" cy="82.8" r="2.4" fill="#0000ff"/>
<circle cx="198.2" cy="84.8" r="2.4" fill="#ffff00"/>
<circle cx="204.3" cy="85.4" r="2.4" fill="#00ff00"/>
<circle cx="206.3" cy="87.9" r="2.4" fill="#0000ff"/>
<circle cx="251.9" cy="86.5" r="2.4" fill="#00ffff"/>
<circle cx="254" cy="83.4" r="2.4" fill="#008000"/>
<circle cx="257.4" cy="83.8" r="2.4" fill="#008000"/>
<circle cx="271.1" cy="82.8" r="2.4" fill="#008000"/>
<circle cx="225.2" cy="87.5" r="2.4" fill="#ffff00"/>
<circle cx="208.4" cy="91.6" r="2.4" fill="#0000ff"/>
<circle cx="207.4" cy="93.6" r="2.4" fill="#008000"/>
<circle cx="211.9" cy="95" r="2.4" fill="#008000"/>
<circle cx="201.2" cy="95.6" r="2.4" fill="#ffff00"/>
<circle cx="213.5" cy="93" r="2.4" fill="#ff0000"/>
<circle cx="216.6" cy="93" r="2.4" fill="#800000"/>
<circle cx="217.6" cy="93" r="2.4" fill="#ff0000"/>
<circle cx="237" cy="93" r="2.4" fill="#ff0000"/>
<circle cx="238.4" cy="93" r="2.4" fill="#ff0000"/>
<circle cx="243.1" cy="93" r="2.4" fill="#0000ff"/>
<circle cx="247.6" cy="93" r="2.4" fill="#ff0000"/>
<circle cx="249.7" cy="93" r="2.4" fill="#ff0000"/>
<circle cx="257.4" cy="93" r="2.4" fill="#008000"/>
<line x1="90.3" y1="91.5" x2="316.5" y2="44.2" stroke="#262626" stroke-width="1.6"/>
<text x="6.8" y="56" text-anchor="middle" transform="rotate(-90 6.8 56)">Ch 2171</text>
<text x="18.7" y="52.5" text-anchor="middle" transform="rotate(-90 18.7 52.5)"><tspan font-style="italic">z</tspan>-scored HGP</text>
<text x="57.5" y="17.4"><tspan font-style="italic">r</tspan> = 0.57, <tspan font-style="italic">P</tspan> &lt; 10<tspan font-size="6" dy="-3.5">-20</tspan></text>
<line x1="374.7" y1="105.3" x2="670.7" y2="105.3" stroke="#262626" stroke-width="1.3"/>
<line x1="374.7" y1="105.3" x2="374.7" y2="2.5" stroke="#262626" stroke-width="1.3"/>
<line x1="374.7" y1="105.3" x2="374.7" y2="102.8" stroke="#262626" stroke-width="1.3"/>
<text x="374.7" y="117.9" text-anchor="middle">-0.15</text>
<line x1="424" y1="105.3" x2="424" y2="102.8" stroke="#262626" stroke-width="1.3"/>
<text x="424" y="117.9" text-anchor="middle">-0.1</text>
<line x1="473.4" y1="105.3" x2="473.4" y2="102.8" stroke="#262626" stroke-width="1.3"/>
<text x="473.4" y="117.9" text-anchor="middle">-0.05</text>
<line x1="522.7" y1="105.3" x2="522.7" y2="102.8" stroke="#262626" stroke-width="1.3"/>
<text x="522.7" y="117.9" text-anchor="middle">0</text>
<line x1="572" y1="105.3" x2="572" y2="102.8" stroke="#262626" stroke-width="1.3"/>
<text x="572" y="117.9" text-anchor="middle">0.05</text>
<line x1="621.3" y1="105.3" x2="621.3" y2="102.8" stroke="#262626" stroke-width="1.3"/>
<text x="621.3" y="117.9" text-anchor="middle">0.1</text>
<line x1="670.7" y1="105.3" x2="670.7" y2="102.8" stroke="#262626" stroke-width="1.3"/>
<text x="670.7" y="117.9" text-anchor="middle">0.15</text>
<line x1="374.7" y1="3" x2="377.2" y2="3" stroke="#262626" stroke-width="1.3"/>
<text x="371.2" y="6.2" text-anchor="end">6</text>
<line x1="374.7" y1="28.4" x2="377.2" y2="28.4" stroke="#262626" stroke-width="1.3"/>
<text x="371.2" y="31.6" text-anchor="end">4</text>
<line x1="374.7" y1="53.8" x2="377.2" y2="53.8" stroke="#262626" stroke-width="1.3"/>
<text x="371.2" y="57" text-anchor="end">2</text>
<line x1="374.7" y1="79.2" x2="377.2" y2="79.2" stroke="#262626" stroke-width="1.3"/>
<text x="371.2" y="82.4" text-anchor="end">0</text>
<line x1="374.7" y1="104.6" x2="377.2" y2="104.6" stroke="#262626" stroke-width="1.3"/>
<text x="371.2" y="107.8" text-anchor="end">-2</text>
<rect x="408" y="79.1" width="22" height="14.8" fill="#8a9098"/>
<rect x="408" y="79.1" width="4.5" height="3.8" fill="#a5adb5"/>
<rect x="408" y="82.8" width="4.5" height="3.8" fill="#6e7e5c"/>
<rect x="408" y="86.5" width="4.5" height="3.8" fill="#768664"/>
<rect x="408" y="90.2" width="4.5" height="3.8" fill="#758563"/>
<rect x="412.4" y="79.1" width="4.5" height="3.8" fill="#6e747c"/>
<rect x="412.4" y="82.8" width="4.5" height="3.8" fill="#70767e"/>
<rect x="412.4" y="86.5" width="4.5" height="3.8" fill="#787e86"/>
<rect x="412.4" y="90.2" width="4.5" height="3.8" fill="#777d85"/>
<rect x="416.8" y="79.1" width="4.5" height="3.8" fill="#b2bac2"/>
<rect x="416.8" y="82.8" width="4.5" height="3.8" fill="#b7bfc7"/>
<rect x="416.8" y="86.5" width="4.5" height="3.8" fill="#878d95"/>
<rect x="416.8" y="90.2" width="4.5" height="3.8" fill="#6e7e5c"/>
<rect x="421.2" y="79.1" width="4.5" height="3.8" fill="#9aa0a8"/>
<rect x="421.2" y="82.8" width="4.5" height="3.8" fill="#797f87"/>
<rect x="421.2" y="86.5" width="4.5" height="3.8" fill="#8f959d"/>
<rect x="421.2" y="90.2" width="4.5" height="3.8" fill="#281e16"/>
<rect x="425.6" y="79.1" width="4.5" height="3.8" fill="#7c828a"/>
<rect x="425.6" y="82.8" width="4.5" height="3.8" fill="#888e96"/>
<rect x="425.6" y="86.5" width="4.5" height="3.8" fill="#828890"/>
<rect x="425.6" y="90.2" width="4.5" height="3.8" fill="#697957"/>
<rect x="411" y="81" width="21.6" height="12.5" fill="#7a8088"/>
<rect x="411" y="81" width="4.4" height="3.2" fill="#332f2b"/>
<rect x="411" y="84.1" width="4.4" height="3.2" fill="#979b9f"/>
<rect x="411" y="87.2" width="4.4" height="3.2" fill="#1e1a16"/>
<rect x="411" y="90.4" width="4.4" height="3.2" fill="#231f1b"/>
<rect x="415.3" y="81" width="4.4" height="3.2" fill="#6c727a"/>
<rect x="415.3" y="84.1" width="4.4" height="3.2" fill="#8c9094"/>
<rect x="415.3" y="87.2" width="4.4" height="3.2" fill="#7f8387"/>
<rect x="415.3" y="90.4" width="4.4" height="3.2" fill="#3b3733"/>
<rect x="419.7" y="81" width="4.4" height="3.2" fill="#82868a"/>
<rect x="419.7" y="84.1" width="4.4" height="3.2" fill="#8a8e92"/>
<rect x="419.7" y="87.2" width="4.4" height="3.2" fill="#7b7b79"/>
<rect x="419.7" y="90.4" width="4.4" height="3.2" fill="#818589"/>
<rect x="424" y="81" width="4.4" height="3.2" fill="#6d737b"/>
<rect x="424" y="84.1" width="4.4" height="3.2" fill="#787c80"/>
<rect x="424" y="87.2" width="4.4" height="3.2" fill="#7b8189"/>
<rect x="424" y="90.4" width="4.4" height="3.2" fill="#302c28"/>
<rect x="428.3" y="81" width="4.4" height="3.2" fill="#6c6c6a"/>
<rect x="428.3" y="84.1" width="4.4" height="3.2" fill="#6e747c"/>
<rect x="428.3" y="87.2" width="4.4" height="3.2" fill="#322e2a"/>
<rect x="428.3" y="90.4" width="4.4" height="3.2" fill="#646462"/>
<rect x="431.9" y="76" width="4.6" height="8" fill="#2a4a2a"/>
<rect x="431.9" y="76" width="1" height="2" fill="#305030"/>
<rect x="431.9" y="78" width="1" height="2" fill="#1a3a1a"/>
<rect x="431.9" y="80" width="1" height="2" fill="#335333"/>
<rect x="431.9" y="82" width="1" height="2" fill="#2d4d2d"/>
<rect x="432.8" y="76" width="1" height="2" fill="#305030"/>
<rect x="432.8" y="78" width="1" height="2" fill="#264626"/>
<rect x="432.8" y="80" width="1" height="2" fill="#3a5a3a"/>
<rect x="432.8" y="82" width="1" height="2" fill="#375737"/>
<rect x="433.7" y="76" width="1" height="2" fill="#3a5a3a"/>
<rect x="433.7" y="78" width="1" height="2" fill="#395939"/>
<rect x="433.7" y="80" width="1" height="2" fill="#1d3d1d"/>
<rect x="433.7" y="82" width="1" height="2" fill="#274727"/>
<rect x="434.6" y="76" width="1" height="2" fill="#436343"/>
<rect x="434.6" y="78" width="1" height="2" fill="#2a4a2a"/>
<rect x="434.6" y="80" width="1" height="2" fill="#294929"/>
<rect x="434.6" y="82" width="1" height="2" fill="#3f5f3f"/>
<rect x="435.5" y="76" width="1" height="2" fill="#274727"/>
<rect x="435.5" y="78" width="1" height="2" fill="#264626"/>
<rect x="435.5" y="80" width="1" height="2" fill="#3f5f3f"/>
<rect x="435.5" y="82" width="1" height="2" fill="#3b5b3b"/>
<rect x="436.4" y="70.7" width="9.9" height="17.1" fill="#a0b070"/>
<rect x="436.4" y="70.7" width="2" height="4.3" fill="#b8c098"/>
<rect x="436.4" y="75" width="2" height="4.3" fill="#97a767"/>
<rect x="436.4" y="79.3" width="2" height="4.3" fill="#b0b890"/>
<rect x="436.4" y="83.5" width="2" height="4.3" fill="#afb78f"/>
<rect x="438.4" y="70.7" width="2" height="4.3" fill="#aebe7e"/>
<rect x="438.4" y="75" width="2" height="4.3" fill="#94aa6a"/>
<rect x="438.4" y="79.3" width="2" height="4.3" fill="#8da363"/>
<rect x="438.4" y="83.5" width="2" height="4.3" fill="#899f5f"/>
<rect x="440.4" y="70.7" width="2" height="4.3" fill="#839959"/>
<rect x="440.4" y="75" width="2" height="4.3" fill="#b3bb93"/>
<rect x="440.4" y="79.3" width="2" height="4.3" fill="#a9b979"/>
<rect x="440.4" y="83.5" width="2" height="4.3" fill="#9bab6b"/>
<rect x="442.4" y="70.7" width="2" height="4.3" fill="#b0c080"/>
<rect x="442.4" y="75" width="2" height="4.3" fill="#97a767"/>
<rect x="442.4" y="79.3" width="2" height="4.3" fill="#8fa565"/>
<rect x="442.4" y="83.5" width="2" height="4.3" fill="#adb58d"/>
<rect x="444.3" y="70.7" width="2" height="4.3" fill="#acb48c"/>
<rect x="444.3" y="75" width="2" height="4.3" fill="#92a262"/>
<rect x="444.3" y="79.3" width="2" height="4.3" fill="#9cac6c"/>
<rect x="444.3" y="83.5" width="2" height="4.3" fill="#8e9e5e"/>
<rect x="419.4" y="90.8" width="11" height="14.8" fill="#4a8a2a"/>
<rect x="419.4" y="90.8" width="2.3" height="3.8" fill="#66a63e"/>
<rect x="419.4" y="94.5" width="2.3" height="3.8" fill="#579737"/>
<rect x="419.4" y="98.2" width="2.3" height="3.8" fill="#2c2212"/>
<rect x="419.4" y="101.9" width="2.3" height="3.8" fill="#362c1c"/>
<rect x="421.6" y="90.8" width="2.3" height="3.8" fill="#ac9474"/>
<rect x="421.6" y="94.5" width="2.3" height="3.8" fill="#9c8464"/>
<rect x="421.6" y="98.2" width="2.3" height="3.8" fill="#519129"/>
<rect x="421.6" y="101.9" width="2.3" height="3.8" fill="#4d8d2d"/>
<rect x="423.8" y="90.8" width="2.3" height="3.8" fill="#549434"/>
<rect x="423.8" y="94.5" width="2.3" height="3.8" fill="#458525"/>
<rect x="423.8" y="98.2" width="2.3" height="3.8" fill="#468626"/>
<rect x="423.8" y="101.9" width="2.3" height="3.8" fill="#b49c7c"/>
<rect x="426" y="90.8" width="2.3" height="3.8" fill="#9f8767"/>
<rect x="426" y="94.5" width="2.3" height="3.8" fill="#423828"/>
<rect x="426" y="98.2" width="2.3" height="3.8" fill="#a38b6b"/>
<rect x="426" y="101.9" width="2.3" height="3.8" fill="#423828"/>
<rect x="428.2" y="90.8" width="2.3" height="3.8" fill="#453b2b"/>
<rect x="428.2" y="94.5" width="2.3" height="3.8" fill="#6cac44"/>
<rect x="428.2" y="98.2" width="2.3" height="3.8" fill="#4b8b2b"/>
<rect x="428.2" y="101.9" width="2.3" height="3.8" fill="#4a8a2a"/>
<rect x="430.4" y="86.7" width="19.7" height="18.2" fill="#4a9a30"/>
<rect x="430.4" y="86.7" width="4" height="4.6" fill="#808080"/>
<rect x="430.4" y="91.2" width="4" height="4.6" fill="#686868"/>
<rect x="430.4" y="95.8" width="4" height="4.6" fill="#4a9828"/>
<rect x="430.4" y="100.3" width="4" height="4.6" fill="#818181"/>
<rect x="434.3" y="86.7" width="4" height="4.6" fill="#606060"/>
<rect x="434.3" y="91.2" width="4" height="4.6" fill="#2b6b19"/>
<rect x="434.3" y="95.8" width="4" height="4.6" fill="#4f9f35"/>
<rect x="434.3" y="100.3" width="4" height="4.6" fill="#3a7a28"/>
<rect x="438.3" y="86.7" width="4" height="4.6" fill="#50a036"/>
<rect x="438.3" y="91.2" width="4" height="4.6" fill="#387826"/>
<rect x="438.3" y="95.8" width="4" height="4.6" fill="#478735"/>
<rect x="438.3" y="100.3" width="4" height="4.6" fill="#409026"/>
<rect x="442.2" y="86.7" width="4" height="4.6" fill="#4f9f35"/>
<rect x="442.2" y="91.2" width="4" height="4.6" fill="#409026"/>
<rect x="442.2" y="95.8" width="4" height="4.6" fill="#428230"/>
<rect x="442.2" y="100.3" width="4" height="4.6" fill="#448432"/>
<rect x="446.1" y="86.7" width="4" height="4.6" fill="#357523"/>
<rect x="446.1" y="91.2" width="4" height="4.6" fill="#30701e"/>
<rect x="446.1" y="95.8" width="4" height="4.6" fill="#39891f"/>
<rect x="446.1" y="100.3" width="4" height="4.6" fill="#59a737"/>
<rect x="444.8" y="59" width="22.4" height="20.9" fill="#a09880"/>
<rect x="444.8" y="59" width="4.5" height="5.3" fill="#98987e"/>
<rect x="444.8" y="64.2" width="4.5" height="5.3" fill="#5e5e54"/>
<rect x="444.8" y="69.4" width="4.5" height="5.3" fill="#909076"/>
<rect x="444.8" y="74.6" width="4.5" height="5.3" fill="#919177"/>
<rect x="449.3" y="59" width="4.5" height="5.3" fill="#beb69e"/>
<rect x="449.3" y="64.2" width="4.5" height="5.3" fill="#55554b"/>
<rect x="449.3" y="69.4" width="4.5" height="5.3" fill="#85856b"/>
<rect x="449.3" y="74.6" width="4.5" height="5.3" fill="#9a9a80"/>
<rect x="453.7" y="59" width="4.5" height="5.3" fill="#938b73"/>
<rect x="453.7" y="64.2" width="4.5" height="5.3" fill="#696959"/>
<rect x="453.7" y="69.4" width="4.5" height="5.3" fill="#616157"/>
<rect x="453.7" y="74.6" width="4.5" height="5.3" fill="#a19981"/>
<rect x="458.2" y="59" width="4.5" height="5.3" fill="#a09880"/>
<rect x="458.2" y="64.2" width="4.5" height="5.3" fill="#99997f"/>
<rect x="458.2" y="69.4" width="4.5" height="5.3" fill="#6b6b61"/>
<rect x="458.2" y="74.6" width="4.5" height="5.3" fill="#777767"/>
<rect x="462.7" y="59" width="4.5" height="5.3" fill="#767666"/>
<rect x="462.7" y="64.2" width="4.5" height="5.3" fill="#cdc5ad"/>
<rect x="462.7" y="69.4" width="4.5" height="5.3" fill="#676757"/>
<rect x="462.7" y="74.6" width="4.5" height="5.3" fill="#999179"/>
<rect x="470.2" y="52.9" width="22.8" height="14" fill="#8a6a50"/>
<rect x="470.2" y="52.9" width="4.6" height="3.6" fill="#c0a080"/>
<rect x="470.2" y="56.4" width="4.6" height="3.6" fill="#684838"/>
<rect x="470.2" y="59.9" width="4.6" height="3.6" fill="#503020"/>
<rect x="470.2" y="63.4" width="4.6" height="3.6" fill="#b79777"/>
<rect x="474.8" y="52.9" width="4.6" height="3.6" fill="#694939"/>
<rect x="474.8" y="56.4" width="4.6" height="3.6" fill="#6c4634"/>
<rect x="474.8" y="59.9" width="4.6" height="3.6" fill="#744e3c"/>
<rect x="474.8" y="63.4" width="4.6" height="3.6" fill="#b69676"/>
<rect x="479.3" y="52.9" width="4.6" height="3.6" fill="#744e3c"/>
<rect x="479.3" y="56.4" width="4.6" height="3.6" fill="#7e5e44"/>
<rect x="479.3" y="59.9" width="4.6" height="3.6" fill="#492919"/>
<rect x="479.3" y="63.4" width="4.6" height="3.6" fill="#9e7e5e"/>
<rect x="483.9" y="52.9" width="4.6" height="3.6" fill="#86664c"/>
<rect x="483.9" y="56.4" width="4.6" height="3.6" fill="#77513f"/>
<rect x="483.9" y="59.9" width="4.6" height="3.6" fill="#6b4b3b"/>
<rect x="483.9" y="63.4" width="4.6" height="3.6" fill="#4b2b1b"/>
<rect x="488.4" y="52.9" width="4.6" height="3.6" fill="#a48464"/>
<rect x="488.4" y="56.4" width="4.6" height="3.6" fill="#be9e7e"/>
<rect x="488.4" y="59.9" width="4.6" height="3.6" fill="#a38363"/>
<rect x="488.4" y="63.4" width="4.6" height="3.6" fill="#714b39"/>
<rect x="443.6" y="78.3" width="26.6" height="19.4" fill="#c8a060"/>
<rect x="443.6" y="78.3" width="5.4" height="4.9" fill="#c19959"/>
<rect x="443.6" y="83.1" width="5.4" height="4.9" fill="#b49c4c"/>
<rect x="443.6" y="88" width="5.4" height="4.9" fill="#66665e"/>
<rect x="443.6" y="92.8" width="5.4" height="4.9" fill="#7a7a72"/>
<rect x="449" y="78.3" width="5.4" height="4.9" fill="#7f7f77"/>
<rect x="449" y="83.1" width="5.4" height="4.9" fill="#cda565"/>
<rect x="449" y="88" width="5.4" height="4.9" fill="#b89050"/>
<rect x="449" y="92.8" width="5.4" height="4.9" fill="#7d7b6b"/>
<rect x="454.3" y="78.3" width="5.4" height="4.9" fill="#c3ab5b"/>
<rect x="454.3" y="83.1" width="5.4" height="4.9" fill="#717169"/>
<rect x="454.3" y="88" width="5.4" height="4.9" fill="#b69e4e"/>
<rect x="454.3" y="92.8" width="5.4" height="4.9" fill="#4d4d43"/>
<rect x="459.6" y="78.3" width="5.4" height="4.9" fill="#848272"/>
<rect x="459.6" y="83.1" width="5.4" height="4.9" fill="#5f5f55"/>
<rect x="459.6" y="88" width="5.4" height="4.9" fill="#d6ae6e"/>
<rect x="459.6" y="92.8" width="5.4" height="4.9" fill="#cea666"/>
<rect x="464.9" y="78.3" width="5.4" height="4.9" fill="#8a8878"/>
<rect x="464.9" y="83.1" width="5.4" height="4.9" fill="#848272"/>
<rect x="464.9" y="88" width="5.4" height="4.9" fill="#4a4a40"/>
<rect x="464.9" y="92.8" width="5.4" height="4.9" fill="#cba363"/>
<rect x="448.2" y="96.9" width="22" height="8" fill="#5a8a40"/>
<rect x="448.2" y="96.9" width="4.5" height="2" fill="#767676"/>
<rect x="448.2" y="98.9" width="4.5" height="2" fill="#86966c"/>
<rect x="448.2" y="100.9" width="4.5" height="2" fill="#4b7b31"/>
<rect x="448.2" y="102.9" width="4.5" height="2" fill="#717171"/>
<rect x="452.6" y="96.9" width="4.5" height="2" fill="#656565"/>
<rect x="452.6" y="98.9" width="4.5" height="2" fill="#629248"/>
<rect x="452.6" y="100.9" width="4.5" height="2" fill="#87976d"/>
<rect x="452.6" y="102.9" width="4.5" height="2" fill="#7b7b7b"/>
<rect x="457" y="96.9" width="4.5" height="2" fill="#5a8a40"/>
<rect x="457" y="98.9" width="4.5" height="2" fill="#84946a"/>
<rect x="457" y="100.9" width="4.5" height="2" fill="#8e9e74"/>
<rect x="457" y="102.9" width="4.5" height="2" fill="#7e8e64"/>
<rect x="461.4" y="96.9" width="4.5" height="2" fill="#85956b"/>
<rect x="461.4" y="98.9" width="4.5" height="2" fill="#636363"/>
<rect x="461.4" y="100.9" width="4.5" height="2" fill="#7b7b7b"/>
<rect x="461.4" y="102.9" width="4.5" height="2" fill="#767676"/>
<rect x="465.8" y="96.9" width="4.5" height="2" fill="#609046"/>
<rect x="465.8" y="98.9" width="4.5" height="2" fill="#98a87e"/>
<rect x="465.8" y="100.9" width="4.5" height="2" fill="#8d9d73"/>
<rect x="465.8" y="102.9" width="4.5" height="2" fill="#6a9a50"/>
<rect x="467.2" y="66.9" width="23.9" height="17.1" fill="#606060"/>
<rect x="467.2" y="66.9" width="4.8" height="4.3" fill="#353535"/>
<rect x="467.2" y="71.2" width="4.8" height="4.3" fill="#4f4f4f"/>
<rect x="467.2" y="75.5" width="4.8" height="4.3" fill="#8e8e8e"/>
<rect x="467.2" y="79.7" width="4.8" height="4.3" fill="#949494"/>
<rect x="472" y="66.9" width="4.8" height="4.3" fill="#a3a3a3"/>
<rect x="472" y="71.2" width="4.8" height="4.3" fill="#454545"/>
<rect x="472" y="75.5" width="4.8" height="4.3" fill="#1e1e1e"/>
<rect x="472" y="79.7" width="4.8" height="4.3" fill="#353535"/>
<rect x="476.7" y="66.9" width="4.8" height="4.3" fill="#a9a9a9"/>
<rect x="476.7" y="71.2" width="4.8" height="4.3" fill="#aeaeae"/>
<rect x="476.7" y="75.5" width="4.8" height="4.3" fill="#262626"/>
<rect x="476.7" y="79.7" width="4.8" height="4.3" fill="#242424"/>
<rect x="481.5" y="66.9" width="4.8" height="4.3" fill="#a2a2a2"/>
<rect x="481.5" y="71.2" width="4.8" height="4.3" fill="#6e6e6e"/>
<rect x="481.5" y="75.5" width="4.8" height="4.3" fill="#717171"/>
<rect x="481.5" y="79.7" width="4.8" height="4.3" fill="#323232"/>
<rect x="486.3" y="66.9" width="4.8" height="4.3" fill="#393939"/>
<rect x="486.3" y="71.2" width="4.8" height="4.3" fill="#aeaeae"/>
<rect x="486.3" y="75.5" width="4.8" height="4.3" fill="#929292"/>
<rect x="486.3" y="79.7" width="4.8" height="4.3" fill="#2f2f2f"/>
<rect x="472.1" y="82.9" width="22.8" height="16.3" fill="#8a9080"/>
<rect x="472.1" y="82.9" width="4.6" height="4.1" fill="#a5ad9d"/>
<rect x="472.1" y="86.9" width="4.6" height="4.1" fill="#737969"/>
<rect x="472.1" y="91" width="4.6" height="4.1" fill="#959d8d"/>
<rect x="472.1" y="95.1" width="4.6" height="4.1" fill="#878d7d"/>
<rect x="476.7" y="82.9" width="4.6" height="4.1" fill="#606656"/>
<rect x="476.7" y="86.9" width="4.6" height="4.1" fill="#616757"/>
<rect x="476.7" y="91" width="4.6" height="4.1" fill="#acb4a4"/>
<rect x="476.7" y="95.1" width="4.6" height="4.1" fill="#797f6f"/>
<rect x="481.2" y="82.9" width="4.6" height="4.1" fill="#6d7363"/>
<rect x="481.2" y="86.9" width="4.6" height="4.1" fill="#727868"/>
<rect x="481.2" y="91" width="4.6" height="4.1" fill="#959d8d"/>
<rect x="481.2" y="95.1" width="4.6" height="4.1" fill="#858b7b"/>
<rect x="485.8" y="82.9" width="4.6" height="4.1" fill="#595f4f"/>
<rect x="485.8" y="86.9" width="4.6" height="4.1" fill="#adb5a5"/>
<rect x="485.8" y="91" width="4.6" height="4.1" fill="#6c7262"/>
<rect x="485.8" y="95.1" width="4.6" height="4.1" fill="#5f6555"/>
<rect x="490.3" y="82.9" width="4.6" height="4.1" fill="#979d8d"/>
<rect x="490.3" y="86.9" width="4.6" height="4.1" fill="#abb3a3"/>
<rect x="490.3" y="91" width="4.6" height="4.1" fill="#707666"/>
<rect x="490.3" y="95.1" width="4.6" height="4.1" fill="#858b7b"/>
<rect x="460.7" y="96.5" width="20.9" height="12" fill="#c8b890"/>
<rect x="460.7" y="96.5" width="4.2" height="3" fill="#c7b78f"/>
<rect x="460.7" y="99.5" width="4.2" height="3" fill="#9a9272"/>
<rect x="460.7" y="102.5" width="4.2" height="3" fill="#dcd4bc"/>
<rect x="460.7" y="105.5" width="4.2" height="3" fill="#dfd7bf"/>
<rect x="464.9" y="96.5" width="4.2" height="3" fill="#d5c59d"/>
<rect x="464.9" y="99.5" width="4.2" height="3" fill="#c3b38b"/>
<rect x="464.9" y="102.5" width="4.2" height="3" fill="#a8a080"/>
<rect x="464.9" y="105.5" width="4.2" height="3" fill="#aaa282"/>
<rect x="469.1" y="96.5" width="4.2" height="3" fill="#cbbb93"/>
<rect x="469.1" y="99.5" width="4.2" height="3" fill="#aea686"/>
<rect x="469.1" y="102.5" width="4.2" height="3" fill="#d0c098"/>
<rect x="469.1" y="105.5" width="4.2" height="3" fill="#ccbc94"/>
<rect x="473.2" y="96.5" width="4.2" height="3" fill="#d1c199"/>
<rect x="473.2" y="99.5" width="4.2" height="3" fill="#918969"/>
<rect x="473.2" y="102.5" width="4.2" height="3" fill="#d0c8b0"/>
<rect x="473.2" y="105.5" width="4.2" height="3" fill="#c8b890"/>
<rect x="477.4" y="96.5" width="4.2" height="3" fill="#c7b78f"/>
<rect x="477.4" y="99.5" width="4.2" height="3" fill="#d7cfb7"/>
<rect x="477.4" y="102.5" width="4.2" height="3" fill="#cebe96"/>
<rect x="477.4" y="105.5" width="4.2" height="3" fill="#afa787"/>
<rect x="489.2" y="63.1" width="36.1" height="15.2" fill="#6a8a50"/>
<rect x="489.2" y="63.1" width="7.3" height="3.8" fill="#788e56"/>
<rect x="489.2" y="66.9" width="7.3" height="3.8" fill="#426230"/>
<rect x="489.2" y="70.7" width="7.3" height="3.8" fill="#91a76f"/>
<rect x="489.2" y="74.5" width="7.3" height="3.8" fill="#b8b8a0"/>
<rect x="496.4" y="63.1" width="7.3" height="3.8" fill="#7b9b61"/>
<rect x="496.4" y="66.9" width="7.3" height="3.8" fill="#4d6d3b"/>
<rect x="496.4" y="70.7" width="7.3" height="3.8" fill="#c7c7af"/>
<rect x="496.4" y="74.5" width="7.3" height="3.8" fill="#879d65"/>
<rect x="503.6" y="63.1" width="7.3" height="3.8" fill="#6e8e54"/>
<rect x="503.6" y="66.9" width="7.3" height="3.8" fill="#7d935b"/>
<rect x="503.6" y="70.7" width="7.3" height="3.8" fill="#d1d1b9"/>
<rect x="503.6" y="74.5" width="7.3" height="3.8" fill="#cfcfb7"/>
<rect x="510.8" y="63.1" width="7.3" height="3.8" fill="#476735"/>
<rect x="510.8" y="66.9" width="7.3" height="3.8" fill="#385826"/>
<rect x="510.8" y="70.7" width="7.3" height="3.8" fill="#d4d4bc"/>
<rect x="510.8" y="74.5" width="7.3" height="3.8" fill="#64844a"/>
<rect x="518" y="63.1" width="7.3" height="3.8" fill="#3d5d2b"/>
<rect x="518" y="66.9" width="7.3" height="3.8" fill="#839961"/>
<rect x="518" y="70.7" width="7.3" height="3.8" fill="#829860"/>
<rect x="518" y="74.5" width="7.3" height="3.8" fill="#68884e"/>
<rect x="494.9" y="78.3" width="31.1" height="17.1" fill="#505058"/>
<rect x="494.9" y="78.3" width="6.3" height="4.3" fill="#937333"/>
<rect x="494.9" y="82.6" width="6.3" height="4.3" fill="#ac8c4c"/>
<rect x="494.9" y="86.9" width="6.3" height="4.3" fill="#a18141"/>
<rect x="494.9" y="91.1" width="6.3" height="4.3" fill="#a18141"/>
<rect x="501.1" y="78.3" width="6.3" height="4.3" fill="#54545c"/>
<rect x="501.1" y="82.6" width="6.3" height="4.3" fill="#595961"/>
<rect x="501.1" y="86.9" width="6.3" height="4.3" fill="#a78747"/>
<rect x="501.1" y="91.1" width="6.3" height="4.3" fill="#a18141"/>
<rect x="507.3" y="78.3" width="6.3" height="4.3" fill="#5a5a62"/>
<rect x="507.3" y="82.6" width="6.3" height="4.3" fill="#a38343"/>
<rect x="507.3" y="86.9" width="6.3" height="4.3" fill="#46464e"/>
<rect x="507.3" y="91.1" width="6.3" height="4.3" fill="#42424a"/>
<rect x="513.5" y="78.3" width="6.3" height="4.3" fill="#4c4c54"/>
<rect x="513.5" y="82.6" width="6.3" height="4.3" fill="#cba353"/>
<rect x="513.5" y="86.9" width="6.3" height="4.3" fill="#cda555"/>
<rect x="513.5" y="91.1" width="6.3" height="4.3" fill="#2f2f37"/>
<rect x="519.8" y="78.3" width="6.3" height="4.3" fill="#2f2f37"/>
<rect x="519.8" y="82.6" width="6.3" height="4.3" fill="#494951"/>
<rect x="519.8" y="86.9" width="6.3" height="4.3" fill="#34343c"/>
<rect x="519.8" y="91.1" width="6.3" height="4.3" fill="#5a5a62"/>
<rect x="494.9" y="95.4" width="28.5" height="9.5" fill="#505050"/>
<rect x="494.9" y="95.4" width="5.7" height="2.4" fill="#797971"/>
<rect x="494.9" y="97.8" width="5.7" height="2.4" fill="#272727"/>
<rect x="494.9" y="100.1" width="5.7" height="2.4" fill="#484848"/>
<rect x="494.9" y="102.5" width="5.7" height="2.4" fill="#75756d"/>
<rect x="500.6" y="95.4" width="5.7" height="2.4" fill="#272727"/>
<rect x="500.6" y="97.8" width="5.7" height="2.4" fill="#5f5f57"/>
<rect x="500.6" y="100.1" width="5.7" height="2.4" fill="#73736b"/>
<rect x="500.6" y="102.5" width="5.7" height="2.4" fill="#696961"/>
<rect x="506.3" y="95.4" width="5.7" height="2.4" fill="#595959"/>
<rect x="506.3" y="97.8" width="5.7" height="2.4" fill="#494949"/>
<rect x="506.3" y="100.1" width="5.7" height="2.4" fill="#62625a"/>
<rect x="506.3" y="102.5" width="5.7" height="2.4" fill="#363636"/>
<rect x="512" y="95.4" width="5.7" height="2.4" fill="#3f3f3f"/>
<rect x="512" y="97.8" width="5.7" height="2.4" fill="#3d3d3d"/>
<rect x="512" y="100.1" width="5.7" height="2.4" fill="#707068"/>
<rect x="512" y="102.5" width="5.7" height="2.4" fill="#545454"/>
<rect x="517.6" y="95.4" width="5.7" height="2.4" fill="#65655d"/>
<rect x="517.6" y="97.8" width="5.7" height="2.4" fill="#787870"/>
<rect x="517.6" y="100.1" width="5.7" height="2.4" fill="#4f4f4f"/>
<rect x="517.6" y="102.5" width="5.7" height="2.4" fill="#73736b"/>
<rect x="500.6" y="48" width="10.2" height="13.3" fill="#404858"/>
<rect x="500.6" y="48" width="2.1" height="3.4" fill="#1e2434"/>
<rect x="500.6" y="51.3" width="2.1" height="3.4" fill="#3d4555"/>
<rect x="500.6" y="54.6" width="2.1" height="3.4" fill="#333b4b"/>
<rect x="500.6" y="57.9" width="2.1" height="3.4" fill="#353d4d"/>
<rect x="502.6" y="48" width="2.1" height="3.4" fill="#181e2e"/>
<rect x="502.6" y="51.3" width="2.1" height="3.4" fill="#4c5464"/>
<rect x="502.6" y="54.6" width="2.1" height="3.4" fill="#202636"/>
<rect x="502.6" y="57.9" width="2.1" height="3.4" fill="#2b3141"/>
<rect x="504.7" y="48" width="2.1" height="3.4" fill="#1e2434"/>
<rect x="504.7" y="51.3" width="2.1" height="3.4" fill="#636b7b"/>
<rect x="504.7" y="54.6" width="2.1" height="3.4" fill="#464e5e"/>
<rect x="504.7" y="57.9" width="2.1" height="3.4" fill="#1d2333"/>
<rect x="506.7" y="48" width="2.1" height="3.4" fill="#383e4e"/>
<rect x="506.7" y="51.3" width="2.1" height="3.4" fill="#535b6b"/>
<rect x="506.7" y="54.6" width="2.1" height="3.4" fill="#697181"/>
<rect x="506.7" y="57.9" width="2.1" height="3.4" fill="#666e7e"/>
<rect x="508.8" y="48" width="2.1" height="3.4" fill="#4d5565"/>
<rect x="508.8" y="51.3" width="2.1" height="3.4" fill="#474f5f"/>
<rect x="508.8" y="54.6" width="2.1" height="3.4" fill="#232939"/>
<rect x="508.8" y="57.9" width="2.1" height="3.4" fill="#353b4b"/>
<rect x="510.1" y="46.8" width="34.2" height="16.3" fill="#6a4a38"/>
<rect x="510.1" y="46.8" width="6.9" height="4.1" fill="#413127"/>
<rect x="510.1" y="50.9" width="6.9" height="4.1" fill="#6e4e3c"/>
<rect x="510.1" y="55" width="6.9" height="4.1" fill="#ce9e8e"/>
<rect x="510.1" y="59.1" width="6.9" height="4.1" fill="#44342a"/>
<rect x="516.9" y="46.8" width="6.9" height="4.1" fill="#44342a"/>
<rect x="516.9" y="50.9" width="6.9" height="4.1" fill="#785846"/>
<rect x="516.9" y="55" width="6.9" height="4.1" fill="#9b6b51"/>
<rect x="516.9" y="59.1" width="6.9" height="4.1" fill="#8f5f45"/>
<rect x="523.7" y="46.8" width="6.9" height="4.1" fill="#4a3a30"/>
<rect x="523.7" y="50.9" width="6.9" height="4.1" fill="#85553b"/>
<rect x="523.7" y="55" width="6.9" height="4.1" fill="#c99989"/>
<rect x="523.7" y="59.1" width="6.9" height="4.1" fill="#79492f"/>
<rect x="530.6" y="46.8" width="6.9" height="4.1" fill="#735341"/>
<rect x="530.6" y="50.9" width="6.9" height="4.1" fill="#38281e"/>
<rect x="530.6" y="55" width="6.9" height="4.1" fill="#79492f"/>
<rect x="530.6" y="59.1" width="6.9" height="4.1" fill="#b28272"/>
<rect x="537.4" y="46.8" width="6.9" height="4.1" fill="#c59585"/>
<rect x="537.4" y="50.9" width="6.9" height="4.1" fill="#bc8c7c"/>
<rect x="537.4" y="55" width="6.9" height="4.1" fill="#9a6a50"/>
<rect x="537.4" y="59.1" width="6.9" height="4.1" fill="#624230"/>
<rect x="540.4" y="42.3" width="22.8" height="7.6" fill="#4080d0"/>
<rect x="540.4" y="42.3" width="4.6" height="1.9" fill="#4787d7"/>
<rect x="540.4" y="44.2" width="4.6" height="1.9" fill="#5e96de"/>
<rect x="540.4" y="46.1" width="4.6" height="1.9" fill="#6da5ed"/>
<rect x="540.4" y="48" width="4.6" height="1.9" fill="#6ca4ec"/>
<rect x="545" y="42.3" width="4.6" height="1.9" fill="#4181d1"/>
<rect x="545" y="44.2" width="4.6" height="1.9" fill="#558dd5"/>
<rect x="545" y="46.1" width="4.6" height="1.9" fill="#4b8bdb"/>
<rect x="545" y="48" width="4.6" height="1.9" fill="#6aa2ea"/>
<rect x="549.5" y="42.3" width="4.6" height="1.9" fill="#2e6ebe"/>
<rect x="549.5" y="44.2" width="4.6" height="1.9" fill="#4f87cf"/>
<rect x="549.5" y="46.1" width="4.6" height="1.9" fill="#669ee6"/>
<rect x="549.5" y="48" width="4.6" height="1.9" fill="#2f6fbf"/>
<rect x="554.1" y="42.3" width="4.6" height="1.9" fill="#3474c4"/>
<rect x="554.1" y="44.2" width="4.6" height="1.9" fill="#4c8cdc"/>
<rect x="554.1" y="46.1" width="4.6" height="1.9" fill="#649ce4"/>
<rect x="554.1" y="48" width="4.6" height="1.9" fill="#4383d3"/>
<rect x="558.6" y="42.3" width="4.6" height="1.9" fill="#3171c1"/>
<rect x="558.6" y="44.2" width="4.6" height="1.9" fill="#5c94dc"/>
<rect x="558.6" y="46.1" width="4.6" height="1.9" fill="#558dd5"/>
<rect x="558.6" y="48" width="4.6" height="1.9" fill="#5b93db"/>
<rect x="544.2" y="48" width="22.8" height="15.2" fill="#c08090"/>
<rect x="544.2" y="48" width="4.6" height="3.8" fill="#e8d8d8"/>
<rect x="544.2" y="51.7" width="4.6" height="3.8" fill="#b67686"/>
<rect x="544.2" y="55.5" width="4.6" height="3.8" fill="#d6c6c6"/>
<rect x="544.2" y="59.3" width="4.6" height="3.8" fill="#c99979"/>
<rect x="548.8" y="48" width="4.6" height="3.8" fill="#c14151"/>
<rect x="548.8" y="51.7" width="4.6" height="3.8" fill="#c48494"/>
<rect x="548.8" y="55.5" width="4.6" height="3.8" fill="#be8e6e"/>
<rect x="548.8" y="59.3" width="4.6" height="3.8" fill="#a42434"/>
<rect x="553.3" y="48" width="4.6" height="3.8" fill="#d1a181"/>
<rect x="553.3" y="51.7" width="4.6" height="3.8" fill="#ce9e7e"/>
<rect x="553.3" y="55.5" width="4.6" height="3.8" fill="#ce8e9e"/>
<rect x="553.3" y="59.3" width="4.6" height="3.8" fill="#ce9e7e"/>
<rect x="557.9" y="48" width="4.6" height="3.8" fill="#bb3b4b"/>
<rect x="557.9" y="51.7" width="4.6" height="3.8" fill="#c48494"/>
<rect x="557.9" y="55.5" width="4.6" height="3.8" fill="#c88898"/>
<rect x="557.9" y="59.3" width="4.6" height="3.8" fill="#d191a1"/>
<rect x="562.4" y="48" width="4.6" height="3.8" fill="#b73747"/>
<rect x="562.4" y="51.7" width="4.6" height="3.8" fill="#c48494"/>
<rect x="562.4" y="55.5" width="4.6" height="3.8" fill="#cd8d9d"/>
<rect x="562.4" y="59.3" width="4.6" height="3.8" fill="#b18161"/>
<rect x="525.2" y="65" width="28.5" height="26.6" fill="#6a8a40"/>
<rect x="525.2" y="65" width="5.7" height="6.7" fill="#45652b"/>
<rect x="525.2" y="71.7" width="5.7" height="6.7" fill="#ddd5bd"/>
<rect x="525.2" y="78.3" width="5.7" height="6.7" fill="#49692f"/>
<rect x="525.2" y="85" width="5.7" height="6.7" fill="#94b454"/>
<rect x="530.9" y="65" width="5.7" height="6.7" fill="#a5c565"/>
<rect x="530.9" y="71.7" width="5.7" height="6.7" fill="#b89868"/>
<rect x="530.9" y="78.3" width="5.7" height="6.7" fill="#b39363"/>
<rect x="530.9" y="85" width="5.7" height="6.7" fill="#4f6f35"/>
<rect x="536.6" y="65" width="5.7" height="6.7" fill="#c7bfa7"/>
<rect x="536.6" y="71.7" width="5.7" height="6.7" fill="#9cbc5c"/>
<rect x="536.6" y="78.3" width="5.7" height="6.7" fill="#65853b"/>
<rect x="536.6" y="85" width="5.7" height="6.7" fill="#bfb79f"/>
<rect x="542.3" y="65" width="5.7" height="6.7" fill="#6f8f45"/>
<rect x="542.3" y="71.7" width="5.7" height="6.7" fill="#be9e6e"/>
<rect x="542.3" y="78.3" width="5.7" height="6.7" fill="#426228"/>
<rect x="542.3" y="85" width="5.7" height="6.7" fill="#c5a575"/>
<rect x="548" y="65" width="5.7" height="6.7" fill="#426228"/>
<rect x="548" y="71.7" width="5.7" height="6.7" fill="#c6a676"/>
<rect x="548" y="78.3" width="5.7" height="6.7" fill="#99b959"/>
<rect x="548" y="85" width="5.7" height="6.7" fill="#d8d0b8"/>
<rect x="521.4" y="91.6" width="38" height="11.4" fill="#a09080"/>
<rect x="521.4" y="91.6" width="7.6" height="2.9" fill="#c5b59d"/>
<rect x="521.4" y="94.4" width="7.6" height="2.9" fill="#a49484"/>
<rect x="521.4" y="97.3" width="7.6" height="2.9" fill="#655d55"/>
<rect x="521.4" y="100.1" width="7.6" height="2.9" fill="#b1a191"/>
<rect x="529" y="91.6" width="7.6" height="2.9" fill="#d8c8b0"/>
<rect x="529" y="94.4" width="7.6" height="2.9" fill="#918171"/>
<rect x="529" y="97.3" width="7.6" height="2.9" fill="#bcac94"/>
<rect x="529" y="100.1" width="7.6" height="2.9" fill="#6d655d"/>
<rect x="536.6" y="91.6" width="7.6" height="2.9" fill="#bfaf97"/>
<rect x="536.6" y="94.4" width="7.6" height="2.9" fill="#bfaf97"/>
<rect x="536.6" y="97.3" width="7.6" height="2.9" fill="#cdbda5"/>
<rect x="536.6" y="100.1" width="7.6" height="2.9" fill="#d6c6ae"/>
<rect x="544.2" y="91.6" width="7.6" height="2.9" fill="#726a62"/>
<rect x="544.2" y="94.4" width="7.6" height="2.9" fill="#958575"/>
<rect x="544.2" y="97.3" width="7.6" height="2.9" fill="#bcac94"/>
<rect x="544.2" y="100.1" width="7.6" height="2.9" fill="#a09080"/>
<rect x="551.8" y="91.6" width="7.6" height="2.9" fill="#c8b8a0"/>
<rect x="551.8" y="94.4" width="7.6" height="2.9" fill="#beae96"/>
<rect x="551.8" y="97.3" width="7.6" height="2.9" fill="#776f67"/>
<rect x="551.8" y="100.1" width="7.6" height="2.9" fill="#d4c4ac"/>
<rect x="551.8" y="63.1" width="22.8" height="13.3" fill="#d0d0d0"/>
<rect x="551.8" y="63.1" width="4.6" height="3.4" fill="#878787"/>
<rect x="551.8" y="66.5" width="4.6" height="3.4" fill="#dcdcdc"/>
<rect x="551.8" y="69.8" width="4.6" height="3.4" fill="#bebebe"/>
<rect x="551.8" y="73.1" width="4.6" height="3.4" fill="#a0a0a0"/>
<rect x="556.4" y="63.1" width="4.6" height="3.4" fill="#858585"/>
<rect x="556.4" y="66.5" width="4.6" height="3.4" fill="#ededed"/>
<rect x="556.4" y="69.8" width="4.6" height="3.4" fill="#9f9f9f"/>
<rect x="556.4" y="73.1" width="4.6" height="3.4" fill="#ededed"/>
<rect x="560.9" y="63.1" width="4.6" height="3.4" fill="#8f8f8f"/>
<rect x="560.9" y="66.5" width="4.6" height="3.4" fill="#f0f0f0"/>
<rect x="560.9" y="69.8" width="4.6" height="3.4" fill="#c0c0c0"/>
<rect x="560.9" y="73.1" width="4.6" height="3.4" fill="#878787"/>
<rect x="565.5" y="63.1" width="4.6" height="3.4" fill="#919191"/>
<rect x="565.5" y="66.5" width="4.6" height="3.4" fill="#d8d8d8"/>
<rect x="565.5" y="69.8" width="4.6" height="3.4" fill="#dbdbdb"/>
<rect x="565.5" y="73.1" width="4.6" height="3.4" fill="#dddddd"/>
<rect x="570" y="63.1" width="4.6" height="3.4" fill="#cacaca"/>
<rect x="570" y="66.5" width="4.6" height="3.4" fill="#c4c4c4"/>
<rect x="570" y="69.8" width="4.6" height="3.4" fill="#dcdcdc"/>
<rect x="570" y="73.1" width="4.6" height="3.4" fill="#e8e8e8"/>
<rect x="553.7" y="74.5" width="24.7" height="24.7" fill="#7080a0"/>
<rect x="553.7" y="74.5" width="5" height="6.2" fill="#5f6f8f"/>
<rect x="553.7" y="80.7" width="5" height="6.2" fill="#7c8cac"/>
<rect x="553.7" y="86.9" width="5" height="6.2" fill="#abb3c3"/>
<rect x="553.7" y="93" width="5" height="6.2" fill="#345494"/>
<rect x="558.6" y="74.5" width="5" height="6.2" fill="#9ba3b3"/>
<rect x="558.6" y="80.7" width="5" height="6.2" fill="#be9e9e"/>
<rect x="558.6" y="86.9" width="5" height="6.2" fill="#8191b1"/>
<rect x="558.6" y="93" width="5" height="6.2" fill="#345494"/>
<rect x="563.6" y="74.5" width="5" height="6.2" fill="#a5adbd"/>
<rect x="563.6" y="80.7" width="5" height="6.2" fill="#939bab"/>
<rect x="563.6" y="86.9" width="5" height="6.2" fill="#9aa2b2"/>
<rect x="563.6" y="93" width="5" height="6.2" fill="#4565a5"/>
<rect x="568.5" y="74.5" width="5" height="6.2" fill="#315191"/>
<rect x="568.5" y="80.7" width="5" height="6.2" fill="#af8f8f"/>
<rect x="568.5" y="86.9" width="5" height="6.2" fill="#aab2c2"/>
<rect x="568.5" y="93" width="5" height="6.2" fill="#c1a1a1"/>
<rect x="573.4" y="74.5" width="5" height="6.2" fill="#979faf"/>
<rect x="573.4" y="80.7" width="5" height="6.2" fill="#8f97a7"/>
<rect x="573.4" y="86.9" width="5" height="6.2" fill="#b39393"/>
<rect x="573.4" y="93" width="5" height="6.2" fill="#9199a9"/>
<rect x="567" y="46.1" width="11.4" height="17.1" fill="#a0a8b0"/>
<rect x="567" y="46.1" width="2.3" height="4.3" fill="#9ea6ae"/>
<rect x="567" y="50.3" width="2.3" height="4.3" fill="#656d75"/>
<rect x="567" y="54.6" width="2.3" height="4.3" fill="#697179"/>
<rect x="567" y="58.9" width="2.3" height="4.3" fill="#dae2ea"/>
<rect x="569.3" y="46.1" width="2.3" height="4.3" fill="#565e66"/>
<rect x="569.3" y="50.3" width="2.3" height="4.3" fill="#a9b1b9"/>
<rect x="569.3" y="54.6" width="2.3" height="4.3" fill="#d7dfe7"/>
<rect x="569.3" y="58.9" width="2.3" height="4.3" fill="#565e66"/>
<rect x="571.5" y="46.1" width="2.3" height="4.3" fill="#575f67"/>
<rect x="571.5" y="50.3" width="2.3" height="4.3" fill="#cdd5dd"/>
<rect x="571.5" y="54.6" width="2.3" height="4.3" fill="#d9e1e9"/>
<rect x="571.5" y="58.9" width="2.3" height="4.3" fill="#6e767e"/>
<rect x="573.8" y="46.1" width="2.3" height="4.3" fill="#99a1a9"/>
<rect x="573.8" y="50.3" width="2.3" height="4.3" fill="#697179"/>
<rect x="573.8" y="54.6" width="2.3" height="4.3" fill="#666e76"/>
<rect x="573.8" y="58.9" width="2.3" height="4.3" fill="#b0b8c0"/>
<rect x="576.1" y="46.1" width="2.3" height="4.3" fill="#b1b9c1"/>
<rect x="576.1" y="50.3" width="2.3" height="4.3" fill="#a5adb5"/>
<rect x="576.1" y="54.6" width="2.3" height="4.3" fill="#707880"/>
<rect x="576.1" y="58.9" width="2.3" height="4.3" fill="#596169"/>
<rect x="576.5" y="46.1" width="7.6" height="17.1" fill="#e06020"/>
<rect x="576.5" y="46.1" width="1.6" height="4.3" fill="#e99919"/>
<rect x="576.5" y="50.3" width="1.6" height="4.3" fill="#e06020"/>
<rect x="576.5" y="54.6" width="1.6" height="4.3" fill="#ea6a2a"/>
<rect x="576.5" y="58.9" width="1.6" height="4.3" fill="#d45414"/>
<rect x="578" y="46.1" width="1.6" height="4.3" fill="#cf4f1f"/>
<rect x="578" y="50.3" width="1.6" height="4.3" fill="#db5b1b"/>
<rect x="578" y="54.6" width="1.6" height="4.3" fill="#f1a121"/>
<rect x="578" y="58.9" width="1.6" height="4.3" fill="#bc3c0c"/>
<rect x="579.5" y="46.1" width="1.6" height="4.3" fill="#ee6e2e"/>
<rect x="579.5" y="50.3" width="1.6" height="4.3" fill="#d15111"/>
<rect x="579.5" y="54.6" width="1.6" height="4.3" fill="#bc3c0c"/>
<rect x="579.5" y="58.9" width="1.6" height="4.3" fill="#d05020"/>
<rect x="581" y="46.1" width="1.6" height="4.3" fill="#e49414"/>
<rect x="581" y="50.3" width="1.6" height="4.3" fill="#d65616"/>
<rect x="581" y="54.6" width="1.6" height="4.3" fill="#ce4e0e"/>
<rect x="581" y="58.9" width="1.6" height="4.3" fill="#c84818"/>
<rect x="582.5" y="46.1" width="1.6" height="4.3" fill="#da5a1a"/>
<rect x="582.5" y="50.3" width="1.6" height="4.3" fill="#f3a323"/>
<rect x="582.5" y="54.6" width="1.6" height="4.3" fill="#b53505"/>
<rect x="582.5" y="58.9" width="1.6" height="4.3" fill="#ef6f2f"/>
<rect x="559.4" y="85.9" width="15.2" height="17.1" fill="#a08090"/>
<rect x="559.4" y="85.9" width="3.1" height="4.3" fill="#d4c4cc"/>
<rect x="559.4" y="90.2" width="3.1" height="4.3" fill="#7e6e7e"/>
<rect x="559.4" y="94.4" width="3.1" height="4.3" fill="#a68696"/>
<rect x="559.4" y="98.7" width="3.1" height="4.3" fill="#af8f9f"/>
<rect x="562.4" y="85.9" width="3.1" height="4.3" fill="#c5b5bd"/>
<rect x="562.4" y="90.2" width="3.1" height="4.3" fill="#9b7b8b"/>
<rect x="562.4" y="94.4" width="3.1" height="4.3" fill="#d0c0c8"/>
<rect x="562.4" y="98.7" width="3.1" height="4.3" fill="#b6a6ae"/>
<rect x="565.5" y="85.9" width="3.1" height="4.3" fill="#7e6e7e"/>
<rect x="565.5" y="90.2" width="3.1" height="4.3" fill="#b090a0"/>
<rect x="565.5" y="94.4" width="3.1" height="4.3" fill="#807080"/>
<rect x="565.5" y="98.7" width="3.1" height="4.3" fill="#c1b1b9"/>
<rect x="568.5" y="85.9" width="3.1" height="4.3" fill="#6e5e6e"/>
<rect x="568.5" y="90.2" width="3.1" height="4.3" fill="#a28292"/>
<rect x="568.5" y="94.4" width="3.1" height="4.3" fill="#d3c3cb"/>
<rect x="568.5" y="98.7" width="3.1" height="4.3" fill="#5f4f5f"/>
<rect x="571.5" y="85.9" width="3.1" height="4.3" fill="#695969"/>
<rect x="571.5" y="90.2" width="3.1" height="4.3" fill="#a78797"/>
<rect x="571.5" y="94.4" width="3.1" height="4.3" fill="#b090a0"/>
<rect x="571.5" y="98.7" width="3.1" height="4.3" fill="#a28292"/>
<rect x="570.8" y="87.8" width="36.1" height="15.2" fill="#c06050"/>
<rect x="570.8" y="87.8" width="7.3" height="3.8" fill="#404040"/>
<rect x="570.8" y="91.6" width="7.3" height="3.8" fill="#dbcbcb"/>
<rect x="570.8" y="95.4" width="7.3" height="3.8" fill="#eadada"/>
<rect x="570.8" y="99.2" width="7.3" height="3.8" fill="#b75747"/>
<rect x="578" y="87.8" width="7.3" height="3.8" fill="#ca6a5a"/>
<rect x="578" y="91.6" width="7.3" height="3.8" fill="#3b3b3b"/>
<rect x="578" y="95.4" width="7.3" height="3.8" fill="#aa4a3a"/>
<rect x="578" y="99.2" width="7.3" height="3.8" fill="#303030"/>
<rect x="585.2" y="87.8" width="7.3" height="3.8" fill="#363636"/>
<rect x="585.2" y="91.6" width="7.3" height="3.8" fill="#353535"/>
<rect x="585.2" y="95.4" width="7.3" height="3.8" fill="#eadada"/>
<rect x="585.2" y="99.2" width="7.3" height="3.8" fill="#b05040"/>
<rect x="592.4" y="87.8" width="7.3" height="3.8" fill="#cebebe"/>
<rect x="592.4" y="91.6" width="7.3" height="3.8" fill="#bf5f4f"/>
<rect x="592.4" y="95.4" width="7.3" height="3.8" fill="#4f4f4f"/>
<rect x="592.4" y="99.2" width="7.3" height="3.8" fill="#b35343"/>
<rect x="599.6" y="87.8" width="7.3" height="3.8" fill="#4b4b4b"/>
<rect x="599.6" y="91.6" width="7.3" height="3.8" fill="#e5d5d5"/>
<rect x="599.6" y="95.4" width="7.3" height="3.8" fill="#dfcfcf"/>
<rect x="599.6" y="99.2" width="7.3" height="3.8" fill="#d5c5c5"/>
<rect x="554.8" y="24.4" width="22" height="15.2" fill="#c07020"/>
<rect x="554.8" y="24.4" width="4.5" height="3.8" fill="#dcac2c"/>
<rect x="554.8" y="28.2" width="4.5" height="3.8" fill="#bf8f0f"/>
<rect x="554.8" y="32" width="4.5" height="3.8" fill="#921a0a"/>
<rect x="554.8" y="35.8" width="4.5" height="3.8" fill="#c89818"/>
<rect x="559.2" y="24.4" width="4.5" height="3.8" fill="#c89818"/>
<rect x="559.2" y="28.2" width="4.5" height="3.8" fill="#db7b1b"/>
<rect x="559.2" y="32" width="4.5" height="3.8" fill="#442404"/>
<rect x="559.2" y="35.8" width="4.5" height="3.8" fill="#ddad2d"/>
<rect x="563.6" y="24.4" width="4.5" height="3.8" fill="#cd7d2d"/>
<rect x="563.6" y="28.2" width="4.5" height="3.8" fill="#c69616"/>
<rect x="563.6" y="32" width="4.5" height="3.8" fill="#d4a424"/>
<rect x="563.6" y="35.8" width="4.5" height="3.8" fill="#5c3c1c"/>
<rect x="568" y="24.4" width="4.5" height="3.8" fill="#a52d1d"/>
<rect x="568" y="28.2" width="4.5" height="3.8" fill="#ca9a1a"/>
<rect x="568" y="32" width="4.5" height="3.8" fill="#3e1e00"/>
<rect x="568" y="35.8" width="4.5" height="3.8" fill="#3f1f00"/>
<rect x="572.4" y="24.4" width="4.5" height="3.8" fill="#ca7a2a"/>
<rect x="572.4" y="28.2" width="4.5" height="3.8" fill="#9f2717"/>
<rect x="572.4" y="32" width="4.5" height="3.8" fill="#de7e1e"/>
<rect x="572.4" y="35.8" width="4.5" height="3.8" fill="#432303"/>
<rect x="580.6" y="32" width="24.3" height="12.1" fill="#c8a880"/>
<rect x="580.6" y="32" width="4.9" height="3.1" fill="#9d6d4d"/>
<rect x="580.6" y="35" width="4.9" height="3.1" fill="#d3cbc3"/>
<rect x="580.6" y="38.1" width="4.9" height="3.1" fill="#c2a27a"/>
<rect x="580.6" y="41.1" width="4.9" height="3.1" fill="#d8b890"/>
<rect x="585.5" y="32" width="4.9" height="3.1" fill="#996949"/>
<rect x="585.5" y="35" width="4.9" height="3.1" fill="#af7f5f"/>
<rect x="585.5" y="38.1" width="4.9" height="3.1" fill="#5e3e2e"/>
<rect x="585.5" y="41.1" width="4.9" height="3.1" fill="#462616"/>
<rect x="590.4" y="32" width="4.9" height="3.1" fill="#ab7b5b"/>
<rect x="590.4" y="35" width="4.9" height="3.1" fill="#d0c8c0"/>
<rect x="590.4" y="38.1" width="4.9" height="3.1" fill="#4e2e1e"/>
<rect x="590.4" y="41.1" width="4.9" height="3.1" fill="#4d2d1d"/>
<rect x="595.2" y="32" width="4.9" height="3.1" fill="#9a6a4a"/>
<rect x="595.2" y="35" width="4.9" height="3.1" fill="#966646"/>
<rect x="595.2" y="38.1" width="4.9" height="3.1" fill="#f1e9e1"/>
<rect x="595.2" y="41.1" width="4.9" height="3.1" fill="#e7dfd7"/>
<rect x="600.1" y="32" width="4.9" height="3.1" fill="#ac7c5c"/>
<rect x="600.1" y="35" width="4.9" height="3.1" fill="#c3a37b"/>
<rect x="600.1" y="38.1" width="4.9" height="3.1" fill="#c2a27a"/>
<rect x="600.1" y="41.1" width="4.9" height="3.1" fill="#ebe3db"/>
<rect x="578.4" y="44.2" width="22.8" height="19" fill="#707880"/>
<rect x="578.4" y="44.2" width="4.6" height="4.8" fill="#4c4c54"/>
<rect x="578.4" y="48.9" width="4.6" height="4.8" fill="#4e4e56"/>
<rect x="578.4" y="53.6" width="4.6" height="4.8" fill="#9ba3ab"/>
<rect x="578.4" y="58.4" width="4.6" height="4.8" fill="#9098a0"/>
<rect x="582.9" y="44.2" width="4.6" height="4.8" fill="#99a1a9"/>
<rect x="582.9" y="48.9" width="4.6" height="4.8" fill="#4b4b53"/>
<rect x="582.9" y="53.6" width="4.6" height="4.8" fill="#303038"/>
<rect x="582.9" y="58.4" width="4.6" height="4.8" fill="#9ba3ab"/>
<rect x="587.5" y="44.2" width="4.6" height="4.8" fill="#414149"/>
<rect x="587.5" y="48.9" width="4.6" height="4.8" fill="#a3abb3"/>
<rect x="587.5" y="53.6" width="4.6" height="4.8" fill="#646c74"/>
<rect x="587.5" y="58.4" width="4.6" height="4.8" fill="#6b737b"/>
<rect x="592" y="44.2" width="4.6" height="4.8" fill="#929aa2"/>
<rect x="592" y="48.9" width="4.6" height="4.8" fill="#767e86"/>
<rect x="592" y="53.6" width="4.6" height="4.8" fill="#303038"/>
<rect x="592" y="58.4" width="4.6" height="4.8" fill="#666e76"/>
<rect x="596.6" y="44.2" width="4.6" height="4.8" fill="#4f4f57"/>
<rect x="596.6" y="48.9" width="4.6" height="4.8" fill="#818991"/>
<rect x="596.6" y="53.6" width="4.6" height="4.8" fill="#3c3c44"/>
<rect x="596.6" y="58.4" width="4.6" height="4.8" fill="#35353d"/>
<rect x="578.4" y="63.1" width="22.8" height="22.8" fill="#505060"/>
<rect x="578.4" y="63.1" width="4.6" height="5.7" fill="#784e2e"/>
<rect x="578.4" y="68.8" width="4.6" height="5.7" fill="#5a5a6a"/>
<rect x="578.4" y="74.5" width="4.6" height="5.7" fill="#865c3c"/>
<rect x="578.4" y="80.2" width="4.6" height="5.7" fill="#424252"/>
<rect x="582.9" y="63.1" width="4.6" height="5.7" fill="#986e4e"/>
<rect x="582.9" y="68.8" width="4.6" height="5.7" fill="#22222a"/>
<rect x="582.9" y="74.5" width="4.6" height="5.7" fill="#616171"/>
<rect x="582.9" y="80.2" width="4.6" height="5.7" fill="#6c6c72"/>
<rect x="587.5" y="63.1" width="4.6" height="5.7" fill="#292931"/>
<rect x="587.5" y="68.8" width="4.6" height="5.7" fill="#484858"/>
<rect x="587.5" y="74.5" width="4.6" height="5.7" fill="#845a3a"/>
<rect x="587.5" y="80.2" width="4.6" height="5.7" fill="#7a5030"/>
<rect x="592" y="63.1" width="4.6" height="5.7" fill="#838389"/>
<rect x="592" y="68.8" width="4.6" height="5.7" fill="#875d3d"/>
<rect x="592" y="74.5" width="4.6" height="5.7" fill="#4d4d5d"/>
<rect x="592" y="80.2" width="4.6" height="5.7" fill="#424252"/>
<rect x="596.6" y="63.1" width="4.6" height="5.7" fill="#8e6444"/>
<rect x="596.6" y="68.8" width="4.6" height="5.7" fill="#966c4c"/>
<rect x="596.6" y="74.5" width="4.6" height="5.7" fill="#7f7f85"/>
<rect x="596.6" y="80.2" width="4.6" height="5.7" fill="#75757b"/>
<rect x="591.7" y="16.8" width="33.4" height="12.9" fill="#c8c0b8"/>
<rect x="591.7" y="16.8" width="6.7" height="3.3" fill="#cbc3bb"/>
<rect x="591.7" y="20.1" width="6.7" height="3.3" fill="#c1b9b1"/>
<rect x="591.7" y="23.3" width="6.7" height="3.3" fill="#771717"/>
<rect x="591.7" y="26.5" width="6.7" height="3.3" fill="#8d2d2d"/>
<rect x="598.3" y="16.8" width="6.7" height="3.3" fill="#cec6be"/>
<rect x="598.3" y="20.1" width="6.7" height="3.3" fill="#3a3a42"/>
<rect x="598.3" y="23.3" width="6.7" height="3.3" fill="#6e0e0e"/>
<rect x="598.3" y="26.5" width="6.7" height="3.3" fill="#4b4b53"/>
<rect x="605" y="16.8" width="6.7" height="3.3" fill="#d2cac2"/>
<rect x="605" y="20.1" width="6.7" height="3.3" fill="#711111"/>
<rect x="605" y="23.3" width="6.7" height="3.3" fill="#d0c8c0"/>
<rect x="605" y="26.5" width="6.7" height="3.3" fill="#484850"/>
<rect x="611.7" y="16.8" width="6.7" height="3.3" fill="#3e3e46"/>
<rect x="611.7" y="20.1" width="6.7" height="3.3" fill="#802020"/>
<rect x="611.7" y="23.3" width="6.7" height="3.3" fill="#ded6ce"/>
<rect x="611.7" y="26.5" width="6.7" height="3.3" fill="#33333b"/>
<rect x="618.4" y="16.8" width="6.7" height="3.3" fill="#d0c8c0"/>
<rect x="618.4" y="20.1" width="6.7" height="3.3" fill="#c0b8b0"/>
<rect x="618.4" y="23.3" width="6.7" height="3.3" fill="#e5ddd5"/>
<rect x="618.4" y="26.5" width="6.7" height="3.3" fill="#bdb5ad"/>
<rect x="606.8" y="29" width="24.7" height="17.1" fill="#383840"/>
<rect x="606.8" y="29" width="5" height="4.3" fill="#53535b"/>
<rect x="606.8" y="33.2" width="5" height="4.3" fill="#79797f"/>
<rect x="606.8" y="37.5" width="5" height="4.3" fill="#4f4f57"/>
<rect x="606.8" y="41.8" width="5" height="4.3" fill="#44444c"/>
<rect x="611.8" y="29" width="5" height="4.3" fill="#4d4d55"/>
<rect x="611.8" y="33.2" width="5" height="4.3" fill="#4d4d55"/>
<rect x="611.8" y="37.5" width="5" height="4.3" fill="#58585e"/>
<rect x="611.8" y="41.8" width="5" height="4.3" fill="#2a2a34"/>
<rect x="616.7" y="29" width="5" height="4.3" fill="#15151f"/>
<rect x="616.7" y="33.2" width="5" height="4.3" fill="#6b6b71"/>
<rect x="616.7" y="37.5" width="5" height="4.3" fill="#5d5d65"/>
<rect x="616.7" y="41.8" width="5" height="4.3" fill="#414149"/>
<rect x="621.6" y="29" width="5" height="4.3" fill="#68686e"/>
<rect x="621.6" y="33.2" width="5" height="4.3" fill="#5c5c62"/>
<rect x="621.6" y="37.5" width="5" height="4.3" fill="#24242e"/>
<rect x="621.6" y="41.8" width="5" height="4.3" fill="#15151f"/>
<rect x="626.6" y="29" width="5" height="4.3" fill="#282830"/>
<rect x="626.6" y="33.2" width="5" height="4.3" fill="#3d3d45"/>
<rect x="626.6" y="37.5" width="5" height="4.3" fill="#2f2f39"/>
<rect x="626.6" y="41.8" width="5" height="4.3" fill="#737379"/>
<rect x="595.4" y="51.7" width="20.9" height="11.4" fill="#d0b040"/>
<rect x="595.4" y="51.7" width="4.2" height="2.9" fill="#bb9b3b"/>
<rect x="595.4" y="54.6" width="4.2" height="2.9" fill="#b09030"/>
<rect x="595.4" y="57.4" width="4.2" height="2.9" fill="#bf9f3f"/>
<rect x="595.4" y="60.3" width="4.2" height="2.9" fill="#dcbc4c"/>
<rect x="599.6" y="51.7" width="4.2" height="2.9" fill="#4a3a1a"/>
<rect x="599.6" y="54.6" width="4.2" height="2.9" fill="#ba9a3a"/>
<rect x="599.6" y="57.4" width="4.2" height="2.9" fill="#caaa3a"/>
<rect x="599.6" y="60.3" width="4.2" height="2.9" fill="#b49434"/>
<rect x="603.8" y="51.7" width="4.2" height="2.9" fill="#4f3f1f"/>
<rect x="603.8" y="54.6" width="4.2" height="2.9" fill="#cdad3d"/>
<rect x="603.8" y="57.4" width="4.2" height="2.9" fill="#d0b040"/>
<rect x="603.8" y="60.3" width="4.2" height="2.9" fill="#4b3b1b"/>
<rect x="608" y="51.7" width="4.2" height="2.9" fill="#cdad3d"/>
<rect x="608" y="54.6" width="4.2" height="2.9" fill="#c7a737"/>
<rect x="608" y="57.4" width="4.2" height="2.9" fill="#dbbb4b"/>
<rect x="608" y="60.3" width="4.2" height="2.9" fill="#c3a333"/>
<rect x="612.1" y="51.7" width="4.2" height="2.9" fill="#3b2b0b"/>
<rect x="612.1" y="54.6" width="4.2" height="2.9" fill="#a48424"/>
<rect x="612.1" y="57.4" width="4.2" height="2.9" fill="#4c3c1c"/>
<rect x="612.1" y="60.3" width="4.2" height="2.9" fill="#4e3e1e"/>
<rect x="593.5" y="61.2" width="24.7" height="17.1" fill="#8a6040"/>
<rect x="593.5" y="61.2" width="5" height="4.3" fill="#926242"/>
<rect x="593.5" y="65.5" width="5" height="4.3" fill="#865c3c"/>
<rect x="593.5" y="69.8" width="5" height="4.3" fill="#885e3e"/>
<rect x="593.5" y="74" width="5" height="4.3" fill="#433b43"/>
<rect x="598.5" y="61.2" width="5" height="4.3" fill="#463e46"/>
<rect x="598.5" y="65.5" width="5" height="4.3" fill="#a37353"/>
<rect x="598.5" y="69.8" width="5" height="4.3" fill="#a67656"/>
<rect x="598.5" y="74" width="5" height="4.3" fill="#443c44"/>
<rect x="603.4" y="61.2" width="5" height="4.3" fill="#3f373f"/>
<rect x="603.4" y="65.5" width="5" height="4.3" fill="#855b3b"/>
<rect x="603.4" y="69.8" width="5" height="4.3" fill="#8b6141"/>
<rect x="603.4" y="74" width="5" height="4.3" fill="#784e2e"/>
<rect x="608.3" y="61.2" width="5" height="4.3" fill="#825838"/>
<rect x="608.3" y="65.5" width="5" height="4.3" fill="#484048"/>
<rect x="608.3" y="69.8" width="5" height="4.3" fill="#a17151"/>
<rect x="608.3" y="74" width="5" height="4.3" fill="#916747"/>
<rect x="613.3" y="61.2" width="5" height="4.3" fill="#976747"/>
<rect x="613.3" y="65.5" width="5" height="4.3" fill="#9c6c4c"/>
<rect x="613.3" y="69.8" width="5" height="4.3" fill="#8e5e3e"/>
<rect x="613.3" y="74" width="5" height="4.3" fill="#8d6343"/>
<rect x="618.2" y="46.1" width="22.8" height="15.2" fill="#d09858"/>
<rect x="618.2" y="46.1" width="4.6" height="3.8" fill="#af6f3f"/>
<rect x="618.2" y="49.8" width="4.6" height="3.8" fill="#9c5c2c"/>
<rect x="618.2" y="53.6" width="4.6" height="3.8" fill="#d1c9c1"/>
<rect x="618.2" y="57.4" width="4.6" height="3.8" fill="#985828"/>
<rect x="622.8" y="46.1" width="4.6" height="3.8" fill="#d9d1c9"/>
<rect x="622.8" y="49.8" width="4.6" height="3.8" fill="#9e5e2e"/>
<rect x="622.8" y="53.6" width="4.6" height="3.8" fill="#985828"/>
<rect x="622.8" y="57.4" width="4.6" height="3.8" fill="#c08848"/>
<rect x="627.3" y="46.1" width="4.6" height="3.8" fill="#bf8747"/>
<rect x="627.3" y="49.8" width="4.6" height="3.8" fill="#dba363"/>
<rect x="627.3" y="53.6" width="4.6" height="3.8" fill="#bf8747"/>
<rect x="627.3" y="57.4" width="4.6" height="3.8" fill="#a76737"/>
<rect x="631.9" y="46.1" width="4.6" height="3.8" fill="#a36333"/>
<rect x="631.9" y="49.8" width="4.6" height="3.8" fill="#eee6de"/>
<rect x="631.9" y="53.6" width="4.6" height="3.8" fill="#ebe3db"/>
<rect x="631.9" y="57.4" width="4.6" height="3.8" fill="#ebe3db"/>
<rect x="636.4" y="46.1" width="4.6" height="3.8" fill="#af6f3f"/>
<rect x="636.4" y="49.8" width="4.6" height="3.8" fill="#c38b4b"/>
<rect x="636.4" y="53.6" width="4.6" height="3.8" fill="#915121"/>
<rect x="636.4" y="57.4" width="4.6" height="3.8" fill="#d19959"/>
<rect x="633.4" y="37.7" width="20.9" height="14" fill="#d8d8d8"/>
<rect x="633.4" y="37.7" width="4.2" height="3.6" fill="#dcdcdc"/>
<rect x="633.4" y="41.2" width="4.2" height="3.6" fill="#c2c2c2"/>
<rect x="633.4" y="44.7" width="4.2" height="3.6" fill="#b79777"/>
<rect x="633.4" y="48.2" width="4.2" height="3.6" fill="#dfdfdf"/>
<rect x="637.6" y="37.7" width="4.2" height="3.6" fill="#bebebe"/>
<rect x="637.6" y="41.2" width="4.2" height="3.6" fill="#c4c4c4"/>
<rect x="637.6" y="44.7" width="4.2" height="3.6" fill="#a98969"/>
<rect x="637.6" y="48.2" width="4.2" height="3.6" fill="#d2d2d2"/>
<rect x="641.7" y="37.7" width="4.2" height="3.6" fill="#a38363"/>
<rect x="641.7" y="41.2" width="4.2" height="3.6" fill="#d6d6d6"/>
<rect x="641.7" y="44.7" width="4.2" height="3.6" fill="#9e7e5e"/>
<rect x="641.7" y="48.2" width="4.2" height="3.6" fill="#c1a181"/>
<rect x="645.9" y="37.7" width="4.2" height="3.6" fill="#cacaca"/>
<rect x="645.9" y="41.2" width="4.2" height="3.6" fill="#d8d8d8"/>
<rect x="645.9" y="44.7" width="4.2" height="3.6" fill="#b9b9b9"/>
<rect x="645.9" y="48.2" width="4.2" height="3.6" fill="#b7b7b7"/>
<rect x="650.1" y="37.7" width="4.2" height="3.6" fill="#b6b6b6"/>
<rect x="650.1" y="41.2" width="4.2" height="3.6" fill="#ba9a7a"/>
<rect x="650.1" y="44.7" width="4.2" height="3.6" fill="#cecece"/>
<rect x="650.1" y="48.2" width="4.2" height="3.6" fill="#be9e7e"/>
<rect x="616.3" y="63.1" width="32.3" height="20.9" fill="#505868"/>
<rect x="616.3" y="63.1" width="6.5" height="5.3" fill="#36363c"/>
<rect x="616.3" y="68.3" width="6.5" height="5.3" fill="#3545a5"/>
<rect x="616.3" y="73.6" width="6.5" height="5.3" fill="#28282e"/>
<rect x="616.3" y="78.8" width="6.5" height="5.3" fill="#996f4f"/>
<rect x="622.8" y="63.1" width="6.5" height="5.3" fill="#525a6a"/>
<rect x="622.8" y="68.3" width="6.5" height="5.3" fill="#626878"/>
<rect x="622.8" y="73.6" width="6.5" height="5.3" fill="#29292f"/>
<rect x="622.8" y="78.8" width="6.5" height="5.3" fill="#1f1f25"/>
<rect x="629.2" y="63.1" width="6.5" height="5.3" fill="#3a3a40"/>
<rect x="629.2" y="68.3" width="6.5" height="5.3" fill="#24242a"/>
<rect x="629.2" y="73.6" width="6.5" height="5.3" fill="#273797"/>
<rect x="629.2" y="78.8" width="6.5" height="5.3" fill="#646a7a"/>
<rect x="635.7" y="63.1" width="6.5" height="5.3" fill="#2b2b31"/>
<rect x="635.7" y="68.3" width="6.5" height="5.3" fill="#5e6676"/>
<rect x="635.7" y="73.6" width="6.5" height="5.3" fill="#7f5535"/>
<rect x="635.7" y="78.8" width="6.5" height="5.3" fill="#3141a1"/>
<rect x="642.1" y="63.1" width="6.5" height="5.3" fill="#293999"/>
<rect x="642.1" y="68.3" width="6.5" height="5.3" fill="#626878"/>
<rect x="642.1" y="73.6" width="6.5" height="5.3" fill="#1c1c22"/>
<rect x="642.1" y="78.8" width="6.5" height="5.3" fill="#39393f"/>
<rect x="599.2" y="78.3" width="20.9" height="14.4" fill="#d0c8b8"/>
<rect x="599.2" y="78.3" width="4.2" height="3.7" fill="#d4ccbc"/>
<rect x="599.2" y="81.9" width="4.2" height="3.7" fill="#8e765e"/>
<rect x="599.2" y="85.5" width="4.2" height="3.7" fill="#ebe3db"/>
<rect x="599.2" y="89.1" width="4.2" height="3.7" fill="#cec6be"/>
<rect x="603.4" y="78.3" width="4.2" height="3.7" fill="#c4bcac"/>
<rect x="603.4" y="81.9" width="4.2" height="3.7" fill="#7e664e"/>
<rect x="603.4" y="85.5" width="4.2" height="3.7" fill="#846c54"/>
<rect x="603.4" y="89.1" width="4.2" height="3.7" fill="#ded6ce"/>
<rect x="607.6" y="78.3" width="4.2" height="3.7" fill="#ddd5cd"/>
<rect x="607.6" y="81.9" width="4.2" height="3.7" fill="#ebe3db"/>
<rect x="607.6" y="85.5" width="4.2" height="3.7" fill="#846c54"/>
<rect x="607.6" y="89.1" width="4.2" height="3.7" fill="#dad2c2"/>
<rect x="611.8" y="78.3" width="4.2" height="3.7" fill="#917961"/>
<rect x="611.8" y="81.9" width="4.2" height="3.7" fill="#ddd5c5"/>
<rect x="611.8" y="85.5" width="4.2" height="3.7" fill="#9b836b"/>
<rect x="611.8" y="89.1" width="4.2" height="3.7" fill="#9f876f"/>
<rect x="615.9" y="78.3" width="4.2" height="3.7" fill="#c6beae"/>
<rect x="615.9" y="81.9" width="4.2" height="3.7" fill="#dbd3c3"/>
<rect x="615.9" y="85.5" width="4.2" height="3.7" fill="#beb6a6"/>
<rect x="615.9" y="89.1" width="4.2" height="3.7" fill="#947c64"/>
<line x1="374.7" y1="105.3" x2="670.7" y2="105.3" stroke="#262626" stroke-width="1.3"/>
<line x1="424" y1="105.3" x2="424" y2="102.8" stroke="#262626" stroke-width="1.3"/>
<line x1="473.4" y1="105.3" x2="473.4" y2="102.8" stroke="#262626" stroke-width="1.3"/>
<line x1="522.7" y1="105.3" x2="522.7" y2="102.8" stroke="#262626" stroke-width="1.3"/>
<line x1="572" y1="105.3" x2="572" y2="102.8" stroke="#262626" stroke-width="1.3"/>
<line x1="621.3" y1="105.3" x2="621.3" y2="102.8" stroke="#262626" stroke-width="1.3"/>
<line x1="670.7" y1="105.3" x2="670.7" y2="102.8" stroke="#262626" stroke-width="1.3"/>
<text x="522.8" y="128.6" text-anchor="middle">First PLS Component</text>
<text x="358.3" y="52.5" text-anchor="middle" transform="rotate(-90 358.3 52.5)"><tspan font-style="italic">z</tspan>-scored HGP</text>
<rect x="33.3" y="181.5" width="6.4" height="66.5" fill="#0b6fbd" stroke="#3a3a3a" stroke-width="0.4"/>
<rect x="41.3" y="153" width="6.4" height="95" fill="#d95319" stroke="#3a3a3a" stroke-width="0.4"/>
<rect x="61.3" y="197.5" width="6.4" height="50.5" fill="#0b6fbd" stroke="#3a3a3a" stroke-width="0.4"/>
<rect x="69.3" y="203.7" width="6.4" height="44.3" fill="#d95319" stroke="#3a3a3a" stroke-width="0.4"/>
<rect x="89.3" y="238.1" width="6.4" height="9.9" fill="#b9d4ec" stroke="#3a3a3a" stroke-width="0.4"/>
<rect x="117.1" y="198.6" width="6.4" height="49.4" fill="#0b6fbd" stroke="#3a3a3a" stroke-width="0.4"/>
<rect x="125.1" y="218.6" width="6.4" height="29.4" fill="#f6c8ae" stroke="#3a3a3a" stroke-width="0.4"/>
<rect x="145.1" y="229.2" width="6.4" height="18.8" fill="#b9d4ec" stroke="#3a3a3a" stroke-width="0.4"/>
<rect x="153.1" y="237.4" width="6.4" height="10.6" fill="#f6c8ae" stroke="#3a3a3a" stroke-width="0.4"/>
<line x1="27.1" y1="248" x2="166.9" y2="248" stroke="#262626" stroke-width="1.3"/>
<line x1="27.1" y1="248" x2="27.1" y2="152.2" stroke="#262626" stroke-width="1.3"/>
<line x1="40.5" y1="248" x2="40.5" y2="245.5" stroke="#262626" stroke-width="1.3"/>
<text x="40.5" y="257.5" text-anchor="middle">FG</text>
<line x1="68.5" y1="248" x2="68.5" y2="245.5" stroke="#262626" stroke-width="1.3"/>
<text x="68.5" y="257.5" text-anchor="middle">ITG</text>
<line x1="96.5" y1="248" x2="96.5" y2="245.5" stroke="#262626" stroke-width="1.3"/>
<text x="96.5" y="257.5" text-anchor="middle">PH</text>
<line x1="124.3" y1="248" x2="124.3" y2="245.5" stroke="#262626" stroke-width="1.3"/>
<text x="124.3" y="257.5" text-anchor="middle">AH</text>
<line x1="152.3" y1="248" x2="152.3" y2="245.5" stroke="#262626" stroke-width="1.3"/>
<text x="152.3" y="257.5" text-anchor="middle">Amygdala</text>
<line x1="27.1" y1="248" x2="29.6" y2="248" stroke="#262626" stroke-width="1.3"/>
<text x="23.6" y="251.2" text-anchor="end">0</text>
<line x1="27.1" y1="229" x2="29.6" y2="229" stroke="#262626" stroke-width="1.3"/>
<text x="23.6" y="232.2" text-anchor="end">10</text>
<line x1="27.1" y1="210" x2="29.6" y2="210" stroke="#262626" stroke-width="1.3"/>
<text x="23.6" y="213.2" text-anchor="end">20</text>
<line x1="27.1" y1="191" x2="29.6" y2="191" stroke="#262626" stroke-width="1.3"/>
<text x="23.6" y="194.2" text-anchor="end">30</text>
<line x1="27.1" y1="172" x2="29.6" y2="172" stroke="#262626" stroke-width="1.3"/>
<text x="23.6" y="175.2" text-anchor="end">40</text>
<line x1="27.1" y1="153" x2="29.6" y2="153" stroke="#262626" stroke-width="1.3"/>
<text x="23.6" y="156.2" text-anchor="end">50</text>
<text x="7.3" y="200" text-anchor="middle" transform="rotate(-90 7.3 200)">Percentage of Channels</text>
<rect x="132.6" y="159" width="9" height="5.6" fill="#0b6fbd" stroke="#3a3a3a" stroke-width="0.4"/>
<rect x="132.6" y="169.4" width="9" height="5.6" fill="#d95319" stroke="#3a3a3a" stroke-width="0.4"/>
<text x="143.5" y="164.7">Left</text>
<text x="143.5" y="175">Right</text>
<rect x="33.4" y="335.6" width="8.8" height="8.8" fill="#0b6fbd"/>
<circle cx="37.4" cy="296.5" r="1.15" fill="none" stroke="#0b6fbd" stroke-width=".6"/>
<circle cx="37.4" cy="352.6" r="1.15" fill="none" stroke="#0b6fbd" stroke-width=".6"/>
<circle cx="35.8" cy="325.4" r="1.15" fill="none" stroke="#0b6fbd" stroke-width=".6"/>
<circle cx="39.7" cy="342.8" r="1.15" fill="none" stroke="#7fb3e0" stroke-width=".6"/>
<circle cx="37.4" cy="313.2" r="1.15" fill="none" stroke="#0b6fbd" stroke-width=".6"/>
<circle cx="35.1" cy="342.7" r="1.15" fill="none" stroke="#7fb3e0" stroke-width=".6"/>
<circle cx="38.5" cy="341.5" r="1.15" fill="none" stroke="#7fb3e0" stroke-width=".6"/>
<circle cx="36" cy="349.9" r="1.15" fill="none" stroke="#0b6fbd" stroke-width=".6"/>
<circle cx="38" cy="345.7" r="1.15" fill="none" stroke="#0b6fbd" stroke-width=".6"/>
<circle cx="37.5" cy="305.2" r="1.15" fill="none" stroke="#0b6fbd" stroke-width=".6"/>
<circle cx="38.1" cy="318.7" r="1.15" fill="none" stroke="#0b6fbd" stroke-width=".6"/>
<circle cx="40.7" cy="340.4" r="1.15" fill="none" stroke="#7fb3e0" stroke-width=".6"/>
<circle cx="39.2" cy="350.1" r="1.15" fill="none" stroke="#0b6fbd" stroke-width=".6"/>
<circle cx="37.6" cy="309.1" r="1.15" fill="none" stroke="#0b6fbd" stroke-width=".6"/>
<circle cx="39.4" cy="346.7" r="1.15" fill="none" stroke="#0b6fbd" stroke-width=".6"/>
<circle cx="38.5" cy="325.5" r="1.15" fill="none" stroke="#0b6fbd" stroke-width=".6"/>
<circle cx="37.1" cy="325.2" r="1.15" fill="none" stroke="#0b6fbd" stroke-width=".6"/>
<circle cx="35.5" cy="339.4" r="1.15" fill="none" stroke="#7fb3e0" stroke-width=".6"/>
<circle cx="38.5" cy="335.3" r="1.15" fill="none" stroke="#0b6fbd" stroke-width=".6"/>
<circle cx="38.3" cy="334.9" r="1.15" fill="none" stroke="#0b6fbd" stroke-width=".6"/>
<circle cx="40.6" cy="330.6" r="1.15" fill="none" stroke="#0b6fbd" stroke-width=".6"/>
<circle cx="40.1" cy="347.8" r="1.15" fill="none" stroke="#0b6fbd" stroke-width=".6"/>
<circle cx="38.4" cy="345.4" r="1.15" fill="none" stroke="#0b6fbd" stroke-width=".6"/>
<circle cx="37.1" cy="350.1" r="1.15" fill="none" stroke="#0b6fbd" stroke-width=".6"/>
<circle cx="39.9" cy="344.8" r="1.15" fill="none" stroke="#0b6fbd" stroke-width=".6"/>
<circle cx="34.4" cy="337.2" r="1.15" fill="none" stroke="#7fb3e0" stroke-width=".6"/>
<circle cx="35.7" cy="345.1" r="1.15" fill="none" stroke="#0b6fbd" stroke-width=".6"/>
<circle cx="38.2" cy="339" r="1.15" fill="none" stroke="#7fb3e0" stroke-width=".6"/>
<circle cx="38.6" cy="334.7" r="1.15" fill="none" stroke="#0b6fbd" stroke-width=".6"/>
<circle cx="35.4" cy="338.3" r="1.15" fill="none" stroke="#7fb3e0" stroke-width=".6"/>
<circle cx="38.3" cy="319.8" r="1.15" fill="none" stroke="#0b6fbd" stroke-width=".6"/>
<circle cx="40.5" cy="337.7" r="1.15" fill="none" stroke="#7fb3e0" stroke-width=".6"/>
<circle cx="37" cy="341" r="1.15" fill="none" stroke="#7fb3e0" stroke-width=".6"/>
<circle cx="37.5" cy="349.4" r="1.15" fill="none" stroke="#0b6fbd" stroke-width=".6"/>
<circle cx="35.9" cy="335" r="1.15" fill="none" stroke="#0b6fbd" stroke-width=".6"/>
<circle cx="36.4" cy="338.2" r="1.15" fill="none" stroke="#7fb3e0" stroke-width=".6"/>
<circle cx="39.8" cy="320.5" r="1.15" fill="none" stroke="#0b6fbd" stroke-width=".6"/>
<circle cx="37.1" cy="341.8" r="1.15" fill="none" stroke="#7fb3e0" stroke-width=".6"/>
<circle cx="40.6" cy="329.9" r="1.15" fill="none" stroke="#0b6fbd" stroke-width=".6"/>
<circle cx="40.6" cy="338.3" r="1.15" fill="none" stroke="#7fb3e0" stroke-width=".6"/>
<circle cx="38.4" cy="332.6" r="1.15" fill="none" stroke="#0b6fbd" stroke-width=".6"/>
<circle cx="36.2" cy="331.9" r="1.15" fill="none" stroke="#0b6fbd" stroke-width=".6"/>
<circle cx="40.4" cy="344.7" r="1.15" fill="none" stroke="#0b6fbd" stroke-width=".6"/>
<circle cx="37.8" cy="335.6" r="1.15" fill="none" stroke="#0b6fbd" stroke-width=".6"/>
<circle cx="37.2" cy="335.5" r="1.15" fill="none" stroke="#0b6fbd" stroke-width=".6"/>
<circle cx="36.8" cy="345.2" r="1.15" fill="none" stroke="#0b6fbd" stroke-width=".6"/>
<circle cx="40.2" cy="347.3" r="1.15" fill="none" stroke="#0b6fbd" stroke-width=".6"/>
<circle cx="37.8" cy="347.8" r="1.15" fill="none" stroke="#0b6fbd" stroke-width=".6"/>
<circle cx="36.3" cy="334.4" r="1.15" fill="none" stroke="#0b6fbd" stroke-width=".6"/>
<circle cx="37.7" cy="349.4" r="1.15" fill="none" stroke="#0b6fbd" stroke-width=".6"/>
<circle cx="36.4" cy="318.1" r="1.15" fill="none" stroke="#0b6fbd" stroke-width=".6"/>
<circle cx="38.6" cy="340.7" r="1.15" fill="none" stroke="#7fb3e0" stroke-width=".6"/>
<circle cx="37.4" cy="331.9" r="1.15" fill="none" stroke="#0b6fbd" stroke-width=".6"/>
<circle cx="36.6" cy="343.5" r="1.15" fill="none" stroke="#7fb3e0" stroke-width=".6"/>
<circle cx="39.8" cy="335.7" r="1.15" fill="none" stroke="#7fb3e0" stroke-width=".6"/>
<circle cx="39.7" cy="342.3" r="1.15" fill="none" stroke="#7fb3e0" stroke-width=".6"/>
<circle cx="36.1" cy="316.2" r="1.15" fill="none" stroke="#0b6fbd" stroke-width=".6"/>
<circle cx="37.9" cy="314.8" r="1.15" fill="none" stroke="#0b6fbd" stroke-width=".6"/>
<circle cx="36.3" cy="337.7" r="1.15" fill="none" stroke="#7fb3e0" stroke-width=".6"/>
<circle cx="40.3" cy="343.3" r="1.15" fill="none" stroke="#7fb3e0" stroke-width=".6"/>
<circle cx="39.8" cy="336.8" r="1.15" fill="none" stroke="#7fb3e0" stroke-width=".6"/>
<circle cx="36.3" cy="343" r="1.15" fill="none" stroke="#7fb3e0" stroke-width=".6"/>
<circle cx="37.4" cy="306.8" r="1.15" fill="none" stroke="#0b6fbd" stroke-width=".6"/>
<circle cx="35.8" cy="342.4" r="1.15" fill="none" stroke="#7fb3e0" stroke-width=".6"/>
<circle cx="38.7" cy="297.2" r="1.15" fill="none" stroke="#0b6fbd" stroke-width=".6"/>
<circle cx="36.7" cy="345.5" r="1.15" fill="none" stroke="#0b6fbd" stroke-width=".6"/>
<circle cx="38.3" cy="347.8" r="1.15" fill="none" stroke="#0b6fbd" stroke-width=".6"/>
<circle cx="37.6" cy="334.5" r="1.15" fill="none" stroke="#0b6fbd" stroke-width=".6"/>
<circle cx="38.4" cy="321.2" r="1.15" fill="none" stroke="#0b6fbd" stroke-width=".6"/>
<circle cx="38.3" cy="348.7" r="1.15" fill="none" stroke="#0b6fbd" stroke-width=".6"/>
<circle cx="39.5" cy="337.8" r="1.15" fill="none" stroke="#7fb3e0" stroke-width=".6"/>
<circle cx="36.1" cy="320.8" r="1.15" fill="none" stroke="#0b6fbd" stroke-width=".6"/>
<circle cx="39.6" cy="337.7" r="1.15" fill="none" stroke="#7fb3e0" stroke-width=".6"/>
<circle cx="36.7" cy="326.8" r="1.15" fill="none" stroke="#0b6fbd" stroke-width=".6"/>
<circle cx="37.9" cy="311.2" r="1.15" fill="none" stroke="#0b6fbd" stroke-width=".6"/>
<circle cx="36.7" cy="339" r="1.15" fill="none" stroke="#7fb3e0" stroke-width=".6"/>
<circle cx="36.6" cy="342.5" r="1.15" fill="none" stroke="#7fb3e0" stroke-width=".6"/>
<circle cx="38" cy="330.3" r="1.15" fill="none" stroke="#0b6fbd" stroke-width=".6"/>
<circle cx="37.6" cy="322" r="1.15" fill="none" stroke="#0b6fbd" stroke-width=".6"/>
<circle cx="36.9" cy="341" r="1.15" fill="none" stroke="#7fb3e0" stroke-width=".6"/>
<circle cx="39.3" cy="341.5" r="1.15" fill="none" stroke="#7fb3e0" stroke-width=".6"/>
<circle cx="38.4" cy="339.5" r="1.15" fill="none" stroke="#7fb3e0" stroke-width=".6"/>
<circle cx="34.6" cy="337.2" r="1.15" fill="none" stroke="#7fb3e0" stroke-width=".6"/>
<circle cx="36.1" cy="337.5" r="1.15" fill="none" stroke="#7fb3e0" stroke-width=".6"/>
<circle cx="37.5" cy="340" r="1.15" fill="none" stroke="#7fb3e0" stroke-width=".6"/>
<circle cx="40.2" cy="327.9" r="1.15" fill="none" stroke="#0b6fbd" stroke-width=".6"/>
<circle cx="39.5" cy="321.2" r="1.15" fill="none" stroke="#0b6fbd" stroke-width=".6"/>
<circle cx="38" cy="317.5" r="1.15" fill="none" stroke="#0b6fbd" stroke-width=".6"/>
<circle cx="36.9" cy="296.5" r="1.15" fill="none" stroke="#0b6fbd" stroke-width=".6"/>
<circle cx="39.5" cy="341.8" r="1.15" fill="none" stroke="#7fb3e0" stroke-width=".6"/>
<circle cx="37.3" cy="336.9" r="1.15" fill="none" stroke="#7fb3e0" stroke-width=".6"/>
<circle cx="38" cy="308.9" r="1.15" fill="none" stroke="#0b6fbd" stroke-width=".6"/>
<circle cx="39.2" cy="338.6" r="1.15" fill="none" stroke="#7fb3e0" stroke-width=".6"/>
<circle cx="38.7" cy="337.8" r="1.15" fill="none" stroke="#7fb3e0" stroke-width=".6"/>
<circle cx="37.7" cy="339.6" r="1.15" fill="none" stroke="#7fb3e0" stroke-width=".6"/>
<circle cx="40.4" cy="340.3" r="1.15" fill="none" stroke="#7fb3e0" stroke-width=".6"/>
<circle cx="37.1" cy="331.8" r="1.15" fill="none" stroke="#0b6fbd" stroke-width=".6"/>
<circle cx="37.1" cy="338.7" r="1.15" fill="none" stroke="#7fb3e0" stroke-width=".6"/>
<circle cx="39.5" cy="347.6" r="1.15" fill="none" stroke="#0b6fbd" stroke-width=".6"/>
<circle cx="35.9" cy="339.9" r="1.15" fill="none" stroke="#7fb3e0" stroke-width=".6"/>
<circle cx="36.5" cy="339.3" r="1.15" fill="none" stroke="#7fb3e0" stroke-width=".6"/>
<circle cx="39.3" cy="349.5" r="1.15" fill="none" stroke="#0b6fbd" stroke-width=".6"/>
<circle cx="35.6" cy="346.5" r="1.15" fill="none" stroke="#0b6fbd" stroke-width=".6"/>
<circle cx="39.4" cy="348" r="1.15" fill="none" stroke="#0b6fbd" stroke-width=".6"/>
<circle cx="38.8" cy="347.3" r="1.15" fill="none" stroke="#0b6fbd" stroke-width=".6"/>
<circle cx="37.5" cy="349.6" r="1.15" fill="none" stroke="#0b6fbd" stroke-width=".6"/>
<circle cx="36.6" cy="344.1" r="1.15" fill="none" stroke="#7fb3e0" stroke-width=".6"/>
<circle cx="39.5" cy="340.8" r="1.15" fill="none" stroke="#7fb3e0" stroke-width=".6"/>
<circle cx="40.7" cy="335.9" r="1.15" fill="none" stroke="#7fb3e0" stroke-width=".6"/>
<circle cx="35.8" cy="343.7" r="1.15" fill="none" stroke="#7fb3e0" stroke-width=".6"/>
<line x1="37.8" y1="336.9" x2="37.8" y2="334.4" stroke="#000" stroke-width="1.6"/>
<line x1="34.8" y1="336.9" x2="40.8" y2="336.9" stroke="#000" stroke-width="1.6"/>
<line x1="34.8" y1="334.4" x2="40.8" y2="334.4" stroke="#000" stroke-width="1.6"/>
<rect x="42.2" y="332.3" width="8.8" height="12.1" fill="#d95319"/>
<circle cx="45.8" cy="286" r="1.15" fill="none" stroke="#d95319" stroke-width=".6"/>
<circle cx="46.2" cy="352.6" r="1.15" fill="none" stroke="#d95319" stroke-width=".6"/>
<circle cx="43.9" cy="338.6" r="1.15" fill="none" stroke="#f0a078" stroke-width=".6"/>
<circle cx="45.4" cy="318.6" r="1.15" fill="none" stroke="#d95319" stroke-width=".6"/>
<circle cx="46" cy="326" r="1.15" fill="none" stroke="#d95319" stroke-width=".6"/>
<circle cx="45.3" cy="329.8" r="1.15" fill="none" stroke="#d95319" stroke-width=".6"/>
<circle cx="43.7" cy="328.2" r="1.15" fill="none" stroke="#d95319" stroke-width=".6"/>
<circle cx="45.7" cy="299.9" r="1.15" fill="none" stroke="#d95319" stroke-width=".6"/>
<circle cx="49.9" cy="333.5" r="1.15" fill="none" stroke="#f0a078" stroke-width=".6"/>
<circle cx="44.6" cy="337.4" r="1.15" fill="none" stroke="#f0a078" stroke-width=".6"/>
<circle cx="46.7" cy="331.9" r="1.15" fill="none" stroke="#d95319" stroke-width=".6"/>
<circle cx="46.1" cy="347.5" r="1.15" fill="none" stroke="#d95319" stroke-width=".6"/>
<circle cx="46.8" cy="332.1" r="1.15" fill="none" stroke="#d95319" stroke-width=".6"/>
<circle cx="44" cy="338.1" r="1.15" fill="none" stroke="#f0a078" stroke-width=".6"/>
<circle cx="45.7" cy="346.9" r="1.15" fill="none" stroke="#d95319" stroke-width=".6"/>
<circle cx="44.9" cy="349.3" r="1.15" fill="none" stroke="#d95319" stroke-width=".6"/>
<circle cx="46.8" cy="342.7" r="1.15" fill="none" stroke="#f0a078" stroke-width=".6"/>
<circle cx="48.5" cy="349" r="1.15" fill="none" stroke="#d95319" stroke-width=".6"/>
<circle cx="47.3" cy="335.5" r="1.15" fill="none" stroke="#f0a078" stroke-width=".6"/>
<circle cx="48.3" cy="317.6" r="1.15" fill="none" stroke="#d95319" stroke-width=".6"/>
<circle cx="44.8" cy="338.3" r="1.15" fill="none" stroke="#f0a078" stroke-width=".6"/>
<circle cx="43.2" cy="331.6" r="1.15" fill="none" stroke="#d95319" stroke-width=".6"/>
<circle cx="46.8" cy="349" r="1.15" fill="none" stroke="#d95319" stroke-width=".6"/>
<circle cx="46.5" cy="347.1" r="1.15" fill="none" stroke="#d95319" stroke-width=".6"/>
<circle cx="47" cy="340.2" r="1.15" fill="none" stroke="#f0a078" stroke-width=".6"/>
<circle cx="46" cy="315.7" r="1.15" fill="none" stroke="#d95319" stroke-width=".6"/>
<circle cx="47.4" cy="337.9" r="1.15" fill="none" stroke="#f0a078" stroke-width=".6"/>
<circle cx="48" cy="339.3" r="1.15" fill="none" stroke="#f0a078" stroke-width=".6"/>
<circle cx="49.4" cy="335.3" r="1.15" fill="none" stroke="#f0a078" stroke-width=".6"/>
<circle cx="45.7" cy="347.5" r="1.15" fill="none" stroke="#d95319" stroke-width=".6"/>
<circle cx="46.3" cy="342.8" r="1.15" fill="none" stroke="#f0a078" stroke-width=".6"/>
<circle cx="48.2" cy="318.1" r="1.15" fill="none" stroke="#d95319" stroke-width=".6"/>
<circle cx="45.3" cy="348.4" r="1.15" fill="none" stroke="#d95319" stroke-width=".6"/>
<circle cx="44.8" cy="348.3" r="1.15" fill="none" stroke="#d95319" stroke-width=".6"/>
<circle cx="45.4" cy="338.4" r="1.15" fill="none" stroke="#f0a078" stroke-width=".6"/>
<circle cx="43.7" cy="332.9" r="1.15" fill="none" stroke="#f0a078" stroke-width=".6"/>
<circle cx="48.1" cy="343.8" r="1.15" fill="none" stroke="#f0a078" stroke-width=".6"/>
<circle cx="47.4" cy="302.6" r="1.15" fill="none" stroke="#d95319" stroke-width=".6"/>
<circle cx="45.4" cy="335.8" r="1.15" fill="none" stroke="#f0a078" stroke-width=".6"/>
<circle cx="44.8" cy="347.2" r="1.15" fill="none" stroke="#d95319" stroke-width=".6"/>
<circle cx="44" cy="326.1" r="1.15" fill="none" stroke="#d95319" stroke-width=".6"/>
<circle cx="44.8" cy="331" r="1.15" fill="none" stroke="#d95319" stroke-width=".6"/>
<circle cx="43.7" cy="334" r="1.15" fill="none" stroke="#f0a078" stroke-width=".6"/>
<circle cx="46.2" cy="337.8" r="1.15" fill="none" stroke="#f0a078" stroke-width=".6"/>
<circle cx="47" cy="345.5" r="1.15" fill="none" stroke="#d95319" stroke-width=".6"/>
<circle cx="45" cy="338" r="1.15" fill="none" stroke="#f0a078" stroke-width=".6"/>
<circle cx="44.2" cy="342.5" r="1.15" fill="none" stroke="#f0a078" stroke-width=".6"/>
<circle cx="48" cy="333.8" r="1.15" fill="none" stroke="#f0a078" stroke-width=".6"/>
<circle cx="43.5" cy="334.3" r="1.15" fill="none" stroke="#f0a078" stroke-width=".6"/>
<circle cx="44.5" cy="333.4" r="1.15" fill="none" stroke="#f0a078" stroke-width=".6"/>
<circle cx="45.3" cy="338.5" r="1.15" fill="none" stroke="#f0a078" stroke-width=".6"/>
<circle cx="45.8" cy="335.6" r="1.15" fill="none" stroke="#f0a078" stroke-width=".6"/>
<circle cx="44.7" cy="348.2" r="1.15" fill="none" stroke="#d95319" stroke-width=".6"/>
<circle cx="46.2" cy="346.1" r="1.15" fill="none" stroke="#d95319" stroke-width=".6"/>
<circle cx="45.3" cy="332.6" r="1.15" fill="none" stroke="#f0a078" stroke-width=".6"/>
<circle cx="48.3" cy="335.2" r="1.15" fill="none" stroke="#f0a078" stroke-width=".6"/>
<circle cx="46.9" cy="340.9" r="1.15" fill="none" stroke="#f0a078" stroke-width=".6"/>
<circle cx="48.6" cy="318.8" r="1.15" fill="none" stroke="#d95319" stroke-width=".6"/>
<circle cx="47.5" cy="341.7" r="1.15" fill="none" stroke="#f0a078" stroke-width=".6"/>
<circle cx="47.8" cy="348.2" r="1.15" fill="none" stroke="#d95319" stroke-width=".6"/>
<circle cx="47" cy="347" r="1.15" fill="none" stroke="#d95319" stroke-width=".6"/>
<circle cx="46.3" cy="342.5" r="1.15" fill="none" stroke="#f0a078" stroke-width=".6"/>
<circle cx="48.4" cy="323.1" r="1.15" fill="none" stroke="#d95319" stroke-width=".6"/>
<circle cx="47.3" cy="346.9" r="1.15" fill="none" stroke="#d95319" stroke-width=".6"/>
<circle cx="48.9" cy="345.5" r="1.15" fill="none" stroke="#d95319" stroke-width=".6"/>
<circle cx="47.6" cy="349.5" r="1.15" fill="none" stroke="#d95319" stroke-width=".6"/>
<circle cx="47.6" cy="319.2" r="1.15" fill="none" stroke="#d95319" stroke-width=".6"/>
<circle cx="45" cy="331.7" r="1.15" fill="none" stroke="#d95319" stroke-width=".6"/>
<circle cx="48.6" cy="336.9" r="1.15" fill="none" stroke="#f0a078" stroke-width=".6"/>
<circle cx="45.8" cy="331.5" r="1.15" fill="none" stroke="#d95319" stroke-width=".6"/>
<circle cx="44.2" cy="337" r="1.15" fill="none" stroke="#f0a078" stroke-width=".6"/>
<circle cx="43.8" cy="336.8" r="1.15" fill="none" stroke="#f0a078" stroke-width=".6"/>
<circle cx="44.6" cy="325" r="1.15" fill="none" stroke="#d95319" stroke-width=".6"/>
<circle cx="45.4" cy="345.6" r="1.15" fill="none" stroke="#d95319" stroke-width=".6"/>
<circle cx="47.6" cy="342.2" r="1.15" fill="none" stroke="#f0a078" stroke-width=".6"/>
<circle cx="45.5" cy="320.3" r="1.15" fill="none" stroke="#d95319" stroke-width=".6"/>
<circle cx="44.3" cy="344" r="1.15" fill="none" stroke="#f0a078" stroke-width=".6"/>
<circle cx="48" cy="344.5" r="1.15" fill="none" stroke="#d95319" stroke-width=".6"/>
<circle cx="47" cy="329.8" r="1.15" fill="none" stroke="#d95319" stroke-width=".6"/>
<circle cx="43.6" cy="336.9" r="1.15" fill="none" stroke="#f0a078" stroke-width=".6"/>
<circle cx="44.3" cy="320.1" r="1.15" fill="none" stroke="#d95319" stroke-width=".6"/>
<circle cx="44.5" cy="341.6" r="1.15" fill="none" stroke="#f0a078" stroke-width=".6"/>
<circle cx="45.7" cy="324.9" r="1.15" fill="none" stroke="#d95319" stroke-width=".6"/>
<circle cx="49.2" cy="332" r="1.15" fill="none" stroke="#d95319" stroke-width=".6"/>
<circle cx="48.6" cy="349.2" r="1.15" fill="none" stroke="#d95319" stroke-width=".6"/>
<circle cx="47.4" cy="330.6" r="1.15" fill="none" stroke="#d95319" stroke-width=".6"/>
<circle cx="45.1" cy="343.2" r="1.15" fill="none" stroke="#f0a078" stroke-width=".6"/>
<circle cx="46.3" cy="348.7" r="1.15" fill="none" stroke="#d95319" stroke-width=".6"/>
<circle cx="46.4" cy="286" r="1.15" fill="none" stroke="#d95319" stroke-width=".6"/>
<circle cx="45.7" cy="345.3" r="1.15" fill="none" stroke="#d95319" stroke-width=".6"/>
<line x1="46.6" y1="334.6" x2="46.6" y2="329.9" stroke="#000" stroke-width="1.6"/>
<line x1="43.6" y1="334.6" x2="49.6" y2="334.6" stroke="#000" stroke-width="1.6"/>
<line x1="43.6" y1="329.9" x2="49.6" y2="329.9" stroke="#000" stroke-width="1.6"/>
<rect x="65.3" y="340.2" width="8.8" height="4.2" fill="#0b6fbd"/>
<circle cx="68.9" cy="304.7" r="1.15" fill="none" stroke="#0b6fbd" stroke-width=".6"/>
<circle cx="69.6" cy="356.1" r="1.15" fill="none" stroke="#0b6fbd" stroke-width=".6"/>
<circle cx="71" cy="324" r="1.15" fill="none" stroke="#0b6fbd" stroke-width=".6"/>
<circle cx="72.7" cy="343.3" r="1.15" fill="none" stroke="#7fb3e0" stroke-width=".6"/>
<circle cx="68.4" cy="340.4" r="1.15" fill="none" stroke="#7fb3e0" stroke-width=".6"/>
<circle cx="71.4" cy="329.1" r="1.15" fill="none" stroke="#0b6fbd" stroke-width=".6"/>
<circle cx="70.5" cy="348.4" r="1.15" fill="none" stroke="#0b6fbd" stroke-width=".6"/>
<circle cx="71.3" cy="323.7" r="1.15" fill="none" stroke="#0b6fbd" stroke-width=".6"/>
<circle cx="67.9" cy="342.6" r="1.15" fill="none" stroke="#7fb3e0" stroke-width=".6"/>
<circle cx="70.9" cy="336.1" r="1.15" fill="none" stroke="#0b6fbd" stroke-width=".6"/>
<circle cx="72.1" cy="340" r="1.15" fill="none" stroke="#0b6fbd" stroke-width=".6"/>
<circle cx="69.6" cy="351.2" r="1.15" fill="none" stroke="#0b6fbd" stroke-width=".6"/>
<circle cx="67.2" cy="335.6" r="1.15" fill="none" stroke="#0b6fbd" stroke-width=".6"/>
<circle cx="67.7" cy="337.7" r="1.15" fill="none" stroke="#0b6fbd" stroke-width=".6"/>
<circle cx="67.6" cy="345.1" r="1.15" fill="none" stroke="#0b6fbd" stroke-width=".6"/>
<circle cx="66.8" cy="341.1" r="1.15" fill="none" stroke="#7fb3e0" stroke-width=".6"/>
<circle cx="67.9" cy="349.8" r="1.15" fill="none" stroke="#0b6fbd" stroke-width=".6"/>
<circle cx="70.3" cy="350" r="1.15" fill="none" stroke="#0b6fbd" stroke-width=".6"/>
<circle cx="67.5" cy="347.9" r="1.15" fill="none" stroke="#0b6fbd" stroke-width=".6"/>
<circle cx="71.5" cy="339.4" r="1.15" fill="none" stroke="#0b6fbd" stroke-width=".6"/>
<circle cx="71.4" cy="339.8" r="1.15" fill="none" stroke="#0b6fbd" stroke-width=".6"/>
<circle cx="71" cy="325.3" r="1.15" fill="none" stroke="#0b6fbd" stroke-width=".6"/>
<circle cx="71.1" cy="328.3" r="1.15" fill="none" stroke="#0b6fbd" stroke-width=".6"/>
<circle cx="71.2" cy="341.8" r="1.15" fill="none" stroke="#7fb3e0" stroke-width=".6"/>
<circle cx="71.7" cy="352.1" r="1.15" fill="none" stroke="#0b6fbd" stroke-width=".6"/>
<circle cx="71.9" cy="351.3" r="1.15" fill="none" stroke="#0b6fbd" stroke-width=".6"/>
<circle cx="70.6" cy="340.9" r="1.15" fill="none" stroke="#7fb3e0" stroke-width=".6"/>
<circle cx="72.9" cy="342.2" r="1.15" fill="none" stroke="#7fb3e0" stroke-width=".6"/>
<circle cx="67.1" cy="343.7" r="1.15" fill="none" stroke="#7fb3e0" stroke-width=".6"/>
<circle cx="67.8" cy="329.3" r="1.15" fill="none" stroke="#0b6fbd" stroke-width=".6"/>
<circle cx="66.7" cy="342.2" r="1.15" fill="none" stroke="#7fb3e0" stroke-width=".6"/>
<circle cx="68.3" cy="352.4" r="1.15" fill="none" stroke="#0b6fbd" stroke-width=".6"/>
<circle cx="68.9" cy="344.9" r="1.15" fill="none" stroke="#0b6fbd" stroke-width=".6"/>
<circle cx="69.5" cy="347.5" r="1.15" fill="none" stroke="#0b6fbd" stroke-width=".6"/>
<circle cx="70.5" cy="352.2" r="1.15" fill="none" stroke="#0b6fbd" stroke-width=".6"/>
<circle cx="71.1" cy="347.6" r="1.15" fill="none" stroke="#0b6fbd" stroke-width=".6"/>
<circle cx="67" cy="343.4" r="1.15" fill="none" stroke="#7fb3e0" stroke-width=".6"/>
<circle cx="69" cy="339.8" r="1.15" fill="none" stroke="#0b6fbd" stroke-width=".6"/>
<circle cx="69.8" cy="318.4" r="1.15" fill="none" stroke="#0b6fbd" stroke-width=".6"/>
<circle cx="68.9" cy="345.6" r="1.15" fill="none" stroke="#0b6fbd" stroke-width=".6"/>
<circle cx="67.9" cy="328.9" r="1.15" fill="none" stroke="#0b6fbd" stroke-width=".6"/>
<circle cx="70.3" cy="344.9" r="1.15" fill="none" stroke="#0b6fbd" stroke-width=".6"/>
<circle cx="68.9" cy="345.8" r="1.15" fill="none" stroke="#0b6fbd" stroke-width=".6"/>
<circle cx="70.6" cy="351.6" r="1.15" fill="none" stroke="#0b6fbd" stroke-width=".6"/>
<circle cx="69.7" cy="347.9" r="1.15" fill="none" stroke="#0b6fbd" stroke-width=".6"/>
<circle cx="72.8" cy="342.7" r="1.15" fill="none" stroke="#7fb3e0" stroke-width=".6"/>
<circle cx="72.1" cy="348.6" r="1.15" fill="none" stroke="#0b6fbd" stroke-width=".6"/>
<circle cx="67" cy="336.3" r="1.15" fill="none" stroke="#0b6fbd" stroke-width=".6"/>
<circle cx="71.4" cy="342.8" r="1.15" fill="none" stroke="#7fb3e0" stroke-width=".6"/>
<circle cx="71.3" cy="340.1" r="1.15" fill="none" stroke="#0b6fbd" stroke-width=".6"/>
<circle cx="69.3" cy="315.2" r="1.15" fill="none" stroke="#0b6fbd" stroke-width=".6"/>
<circle cx="67.1" cy="341.7" r="1.15" fill="none" stroke="#7fb3e0" stroke-width=".6"/>
<circle cx="69.6" cy="331.8" r="1.15" fill="none" stroke="#0b6fbd" stroke-width=".6"/>
<circle cx="68.7" cy="340.9" r="1.15" fill="none" stroke="#7fb3e0" stroke-width=".6"/>
<circle cx="71.4" cy="339.9" r="1.15" fill="none" stroke="#0b6fbd" stroke-width=".6"/>
<circle cx="72.1" cy="347.5" r="1.15" fill="none" stroke="#0b6fbd" stroke-width=".6"/>
<circle cx="69" cy="347.5" r="1.15" fill="none" stroke="#0b6fbd" stroke-width=".6"/>
<circle cx="68.4" cy="344.1" r="1.15" fill="none" stroke="#7fb3e0" stroke-width=".6"/>
<circle cx="69.7" cy="333.2" r="1.15" fill="none" stroke="#0b6fbd" stroke-width=".6"/>
<circle cx="70.6" cy="328.3" r="1.15" fill="none" stroke="#0b6fbd" stroke-width=".6"/>
<circle cx="71.6" cy="343.6" r="1.15" fill="none" stroke="#7fb3e0" stroke-width=".6"/>
<circle cx="70.2" cy="343.3" r="1.15" fill="none" stroke="#7fb3e0" stroke-width=".6"/>
<circle cx="68.3" cy="341" r="1.15" fill="none" stroke="#7fb3e0" stroke-width=".6"/>
<circle cx="68.8" cy="348.6" r="1.15" fill="none" stroke="#0b6fbd" stroke-width=".6"/>
<circle cx="71.9" cy="344.5" r="1.15" fill="none" stroke="#0b6fbd" stroke-width=".6"/>
<circle cx="69.8" cy="329.9" r="1.15" fill="none" stroke="#0b6fbd" stroke-width=".6"/>
<circle cx="66.9" cy="344.3" r="1.15" fill="none" stroke="#7fb3e0" stroke-width=".6"/>
<circle cx="69.1" cy="339.3" r="1.15" fill="none" stroke="#0b6fbd" stroke-width=".6"/>
<circle cx="67.9" cy="341.8" r="1.15" fill="none" stroke="#7fb3e0" stroke-width=".6"/>
<circle cx="70.7" cy="334.5" r="1.15" fill="none" stroke="#0b6fbd" stroke-width=".6"/>
<circle cx="67.9" cy="325.6" r="1.15" fill="none" stroke="#0b6fbd" stroke-width=".6"/>
<circle cx="68.1" cy="340.8" r="1.15" fill="none" stroke="#7fb3e0" stroke-width=".6"/>
<circle cx="67.5" cy="348.9" r="1.15" fill="none" stroke="#0b6fbd" stroke-width=".6"/>
<circle cx="69.5" cy="340" r="1.15" fill="none" stroke="#0b6fbd" stroke-width=".6"/>
<circle cx="72" cy="352.2" r="1.15" fill="none" stroke="#0b6fbd" stroke-width=".6"/>
<circle cx="70" cy="345.3" r="1.15" fill="none" stroke="#0b6fbd" stroke-width=".6"/>
<circle cx="69.1" cy="350.2" r="1.15" fill="none" stroke="#0b6fbd" stroke-width=".6"/>
<circle cx="72.4" cy="344.8" r="1.15" fill="none" stroke="#0b6fbd" stroke-width=".6"/>
<circle cx="67.1" cy="343.6" r="1.15" fill="none" stroke="#7fb3e0" stroke-width=".6"/>
<circle cx="68.9" cy="331.8" r="1.15" fill="none" stroke="#0b6fbd" stroke-width=".6"/>
<line x1="69.7" y1="341.6" x2="69.7" y2="338.8" stroke="#000" stroke-width="1.6"/>
<line x1="66.7" y1="341.6" x2="72.7" y2="341.6" stroke="#000" stroke-width="1.6"/>
<line x1="66.7" y1="338.8" x2="72.7" y2="338.8" stroke="#000" stroke-width="1.6"/>
<rect x="74.1" y="340.9" width="8.8" height="3.5" fill="#d95319"/>
<circle cx="78.9" cy="309.4" r="1.15" fill="none" stroke="#d95319" stroke-width=".6"/>
<circle cx="77.6" cy="356.1" r="1.15" fill="none" stroke="#d95319" stroke-width=".6"/>
<circle cx="80.4" cy="347" r="1.15" fill="none" stroke="#d95319" stroke-width=".6"/>
<circle cx="79.2" cy="346.3" r="1.15" fill="none" stroke="#d95319" stroke-width=".6"/>
<circle cx="77.9" cy="349.9" r="1.15" fill="none" stroke="#d95319" stroke-width=".6"/>
<circle cx="79.4" cy="340.1" r="1.15" fill="none" stroke="#d95319" stroke-width=".6"/>
<circle cx="77" cy="346.8" r="1.15" fill="none" stroke="#d95319" stroke-width=".6"/>
<circle cx="77.2" cy="349.2" r="1.15" fill="none" stroke="#d95319" stroke-width=".6"/>
<circle cx="80.6" cy="334.4" r="1.15" fill="none" stroke="#d95319" stroke-width=".6"/>
<circle cx="78.2" cy="347.8" r="1.15" fill="none" stroke="#d95319" stroke-width=".6"/>
<circle cx="79.9" cy="325.3" r="1.15" fill="none" stroke="#d95319" stroke-width=".6"/>
<circle cx="76.5" cy="345.3" r="1.15" fill="none" stroke="#d95319" stroke-width=".6"/>
<circle cx="76.9" cy="328.6" r="1.15" fill="none" stroke="#d95319" stroke-width=".6"/>
<circle cx="76.5" cy="352.3" r="1.15" fill="none" stroke="#d95319" stroke-width=".6"/>
<circle cx="79.3" cy="325" r="1.15" fill="none" stroke="#d95319" stroke-width=".6"/>
<circle cx="78.9" cy="341.9" r="1.15" fill="none" stroke="#f0a078" stroke-width=".6"/>
<circle cx="76.3" cy="329" r="1.15" fill="none" stroke="#d95319" stroke-width=".6"/>
<circle cx="76" cy="333.9" r="1.15" fill="none" stroke="#d95319" stroke-width=".6"/>
<circle cx="80.4" cy="334.6" r="1.15" fill="none" stroke="#d95319" stroke-width=".6"/>
<circle cx="78.5" cy="335.8" r="1.15" fill="none" stroke="#d95319" stroke-width=".6"/>
<circle cx="81.2" cy="340.7" r="1.15" fill="none" stroke="#d95319" stroke-width=".6"/>
<circle cx="75.5" cy="337.8" r="1.15" fill="none" stroke="#d95319" stroke-width=".6"/>
<circle cx="79" cy="346.8" r="1.15" fill="none" stroke="#d95319" stroke-width=".6"/>
<circle cx="76.1" cy="344.4" r="1.15" fill="none" stroke="#d95319" stroke-width=".6"/>
<circle cx="79.6" cy="350.5" r="1.15" fill="none" stroke="#d95319" stroke-width=".6"/>
<circle cx="79" cy="351.7" r="1.15" fill="none" stroke="#d95319" stroke-width=".6"/>
<circle cx="79.3" cy="341.6" r="1.15" fill="none" stroke="#f0a078" stroke-width=".6"/>
<circle cx="77.4" cy="326.4" r="1.15" fill="none" stroke="#d95319" stroke-width=".6"/>
<circle cx="80.5" cy="352.3" r="1.15" fill="none" stroke="#d95319" stroke-width=".6"/>
<circle cx="77.4" cy="322.3" r="1.15" fill="none" stroke="#d95319" stroke-width=".6"/>
<circle cx="76.2" cy="349.7" r="1.15" fill="none" stroke="#d95319" stroke-width=".6"/>
<circle cx="79.6" cy="336.2" r="1.15" fill="none" stroke="#d95319" stroke-width=".6"/>
<circle cx="76.4" cy="332" r="1.15" fill="none" stroke="#d95319" stroke-width=".6"/>
<circle cx="76.2" cy="349.3" r="1.15" fill="none" stroke="#d95319" stroke-width=".6"/>
<circle cx="78.2" cy="339.1" r="1.15" fill="none" stroke="#d95319" stroke-width=".6"/>
<circle cx="79.5" cy="343.1" r="1.15" fill="none" stroke="#f0a078" stroke-width=".6"/>
<circle cx="80.8" cy="346.2" r="1.15" fill="none" stroke="#d95319" stroke-width=".6"/>
<circle cx="80" cy="339.1" r="1.15" fill="none" stroke="#d95319" stroke-width=".6"/>
<circle cx="75.8" cy="344.7" r="1.15" fill="none" stroke="#d95319" stroke-width=".6"/>
<circle cx="79.3" cy="348.1" r="1.15" fill="none" stroke="#d95319" stroke-width=".6"/>
<circle cx="80.6" cy="345.5" r="1.15" fill="none" stroke="#d95319" stroke-width=".6"/>
<circle cx="76.3" cy="335" r="1.15" fill="none" stroke="#d95319" stroke-width=".6"/>
<circle cx="80.1" cy="345.6" r="1.15" fill="none" stroke="#d95319" stroke-width=".6"/>
<circle cx="77" cy="345.9" r="1.15" fill="none" stroke="#d95319" stroke-width=".6"/>
<circle cx="77.6" cy="330" r="1.15" fill="none" stroke="#d95319" stroke-width=".6"/>
<circle cx="76.2" cy="352.5" r="1.15" fill="none" stroke="#d95319" stroke-width=".6"/>
<circle cx="79.6" cy="328.8" r="1.15" fill="none" stroke="#d95319" stroke-width=".6"/>
<circle cx="78.6" cy="346.4" r="1.15" fill="none" stroke="#d95319" stroke-width=".6"/>
<circle cx="81.2" cy="342.9" r="1.15" fill="none" stroke="#f0a078" stroke-width=".6"/>
<circle cx="78.3" cy="346.5" r="1.15" fill="none" stroke="#d95319" stroke-width=".6"/>
<circle cx="76.6" cy="347.9" r="1.15" fill="none" stroke="#d95319" stroke-width=".6"/>
<circle cx="77.2" cy="352.3" r="1.15" fill="none" stroke="#d95319" stroke-width=".6"/>
<circle cx="77.1" cy="347.1" r="1.15" fill="none" stroke="#d95319" stroke-width=".6"/>
<circle cx="81.7" cy="341.3" r="1.15" fill="none" stroke="#f0a078" stroke-width=".6"/>
<circle cx="76.7" cy="346.1" r="1.15" fill="none" stroke="#d95319" stroke-width=".6"/>
<circle cx="75.6" cy="341.1" r="1.15" fill="none" stroke="#f0a078" stroke-width=".6"/>
<circle cx="77.8" cy="328.9" r="1.15" fill="none" stroke="#d95319" stroke-width=".6"/>
<circle cx="75.5" cy="341.2" r="1.15" fill="none" stroke="#f0a078" stroke-width=".6"/>
<circle cx="78.1" cy="347.1" r="1.15" fill="none" stroke="#d95319" stroke-width=".6"/>
<circle cx="79.4" cy="340" r="1.15" fill="none" stroke="#d95319" stroke-width=".6"/>
<circle cx="79.3" cy="347.8" r="1.15" fill="none" stroke="#d95319" stroke-width=".6"/>
<circle cx="76.6" cy="335.4" r="1.15" fill="none" stroke="#d95319" stroke-width=".6"/>
<circle cx="77.3" cy="323.8" r="1.15" fill="none" stroke="#d95319" stroke-width=".6"/>
<circle cx="78.5" cy="348.3" r="1.15" fill="none" stroke="#d95319" stroke-width=".6"/>
<circle cx="79.6" cy="345.7" r="1.15" fill="none" stroke="#d95319" stroke-width=".6"/>
<circle cx="78.2" cy="347" r="1.15" fill="none" stroke="#d95319" stroke-width=".6"/>
<circle cx="78.8" cy="351.5" r="1.15" fill="none" stroke="#d95319" stroke-width=".6"/>
<circle cx="80.5" cy="350.8" r="1.15" fill="none" stroke="#d95319" stroke-width=".6"/>
<circle cx="76" cy="339.9" r="1.15" fill="none" stroke="#d95319" stroke-width=".6"/>
<circle cx="77.4" cy="329.5" r="1.15" fill="none" stroke="#d95319" stroke-width=".6"/>
<line x1="78.5" y1="342.2" x2="78.5" y2="339.6" stroke="#000" stroke-width="1.6"/>
<line x1="75.5" y1="342.2" x2="81.5" y2="342.2" stroke="#000" stroke-width="1.6"/>
<line x1="75.5" y1="339.6" x2="81.5" y2="339.6" stroke="#000" stroke-width="1.6"/>
<rect x="97.2" y="342.1" width="8.8" height="2.3" fill="#b6d3ec"/>
<circle cx="99.3" cy="337.4" r="1.15" fill="none" stroke="#9cc6ea" stroke-width=".6"/>
<circle cx="102.4" cy="361.9" r="1.15" fill="none" stroke="#9cc6ea" stroke-width=".6"/>
<circle cx="101" cy="347.4" r="1.15" fill="none" stroke="#9cc6ea" stroke-width=".6"/>
<circle cx="102.5" cy="340.3" r="1.15" fill="none" stroke="#9cc6ea" stroke-width=".6"/>
<circle cx="103" cy="340" r="1.15" fill="none" stroke="#9cc6ea" stroke-width=".6"/>
<circle cx="100.1" cy="340.4" r="1.15" fill="none" stroke="#9cc6ea" stroke-width=".6"/>
<circle cx="101" cy="341.8" r="1.15" fill="none" stroke="#9cc6ea" stroke-width=".6"/>
<circle cx="100.7" cy="337.4" r="1.15" fill="none" stroke="#9cc6ea" stroke-width=".6"/>
<circle cx="99.2" cy="339.4" r="1.15" fill="none" stroke="#9cc6ea" stroke-width=".6"/>
<circle cx="99.2" cy="338.1" r="1.15" fill="none" stroke="#9cc6ea" stroke-width=".6"/>
<circle cx="102.7" cy="346.6" r="1.15" fill="none" stroke="#9cc6ea" stroke-width=".6"/>
<circle cx="101.2" cy="347" r="1.15" fill="none" stroke="#9cc6ea" stroke-width=".6"/>
<line x1="101.6" y1="343.5" x2="101.6" y2="340.7" stroke="#000" stroke-width="1.6"/>
<line x1="98.6" y1="343.5" x2="104.6" y2="343.5" stroke="#000" stroke-width="1.6"/>
<line x1="98.6" y1="340.7" x2="104.6" y2="340.7" stroke="#000" stroke-width="1.6"/>
<rect x="106" y="344.4" width="8.8" height="4.1" fill="#f4c6ad"/>
<circle cx="111.4" cy="338.6" r="1.15" fill="none" stroke="#f2b89a" stroke-width=".6"/>
<circle cx="110.5" cy="359.6" r="1.15" fill="none" stroke="#f2b89a" stroke-width=".6"/>
<circle cx="110" cy="346.1" r="1.15" fill="none" stroke="#f2b89a" stroke-width=".6"/>
<circle cx="109.6" cy="355.7" r="1.15" fill="none" stroke="#f2b89a" stroke-width=".6"/>
<circle cx="110.7" cy="350.7" r="1.15" fill="none" stroke="#f2b89a" stroke-width=".6"/>
<circle cx="113.5" cy="347.2" r="1.15" fill="none" stroke="#f2b89a" stroke-width=".6"/>
<circle cx="109.9" cy="348.9" r="1.15" fill="none" stroke="#f2b89a" stroke-width=".6"/>
<circle cx="108.5" cy="346.9" r="1.15" fill="none" stroke="#f2b89a" stroke-width=".6"/>
<circle cx="110.5" cy="343.8" r="1.15" fill="none" stroke="#f2b89a" stroke-width=".6"/>
<circle cx="113.1" cy="349.8" r="1.15" fill="none" stroke="#f2b89a" stroke-width=".6"/>
<circle cx="109.8" cy="344.3" r="1.15" fill="none" stroke="#f2b89a" stroke-width=".6"/>
<circle cx="111.2" cy="345.6" r="1.15" fill="none" stroke="#f2b89a" stroke-width=".6"/>
<line x1="110.4" y1="350.2" x2="110.4" y2="346.7" stroke="#000" stroke-width="1.6"/>
<line x1="107.4" y1="350.2" x2="113.4" y2="350.2" stroke="#000" stroke-width="1.6"/>
<line x1="107.4" y1="346.7" x2="113.4" y2="346.7" stroke="#000" stroke-width="1.6"/>
<rect x="129" y="339.7" width="8.8" height="4.7" fill="#0b6fbd"/>
<circle cx="133.2" cy="329.2" r="1.15" fill="none" stroke="#0b6fbd" stroke-width=".6"/>
<circle cx="135" cy="345.6" r="1.15" fill="none" stroke="#0b6fbd" stroke-width=".6"/>
<circle cx="130.8" cy="339.4" r="1.15" fill="none" stroke="#0b6fbd" stroke-width=".6"/>
<circle cx="134.2" cy="342.5" r="1.15" fill="none" stroke="#7fb3e0" stroke-width=".6"/>
<circle cx="133.9" cy="332.1" r="1.15" fill="none" stroke="#0b6fbd" stroke-width=".6"/>
<circle cx="134.7" cy="342.1" r="1.15" fill="none" stroke="#7fb3e0" stroke-width=".6"/>
<circle cx="130.1" cy="340.6" r="1.15" fill="none" stroke="#7fb3e0" stroke-width=".6"/>
<circle cx="135.8" cy="342.3" r="1.15" fill="none" stroke="#7fb3e0" stroke-width=".6"/>
<circle cx="132.3" cy="337.7" r="1.15" fill="none" stroke="#0b6fbd" stroke-width=".6"/>
<circle cx="135.7" cy="340.9" r="1.15" fill="none" stroke="#7fb3e0" stroke-width=".6"/>
<circle cx="134.4" cy="338.2" r="1.15" fill="none" stroke="#0b6fbd" stroke-width=".6"/>
<circle cx="132.9" cy="339" r="1.15" fill="none" stroke="#0b6fbd" stroke-width=".6"/>
<circle cx="134.8" cy="344.2" r="1.15" fill="none" stroke="#7fb3e0" stroke-width=".6"/>
<circle cx="134.3" cy="342.5" r="1.15" fill="none" stroke="#7fb3e0" stroke-width=".6"/>
<circle cx="132.3" cy="339.9" r="1.15" fill="none" stroke="#7fb3e0" stroke-width=".6"/>
<circle cx="134.9" cy="340.9" r="1.15" fill="none" stroke="#7fb3e0" stroke-width=".6"/>
<circle cx="133.4" cy="341.6" r="1.15" fill="none" stroke="#7fb3e0" stroke-width=".6"/>
<circle cx="134.5" cy="343" r="1.15" fill="none" stroke="#7fb3e0" stroke-width=".6"/>
<circle cx="134.1" cy="340.8" r="1.15" fill="none" stroke="#7fb3e0" stroke-width=".6"/>
<circle cx="135.4" cy="340.5" r="1.15" fill="none" stroke="#7fb3e0" stroke-width=".6"/>
<circle cx="131.4" cy="341.6" r="1.15" fill="none" stroke="#7fb3e0" stroke-width=".6"/>
<circle cx="133.4" cy="342.2" r="1.15" fill="none" stroke="#7fb3e0" stroke-width=".6"/>
<circle cx="130.9" cy="336.4" r="1.15" fill="none" stroke="#0b6fbd" stroke-width=".6"/>
<circle cx="135.5" cy="339.8" r="1.15" fill="none" stroke="#7fb3e0" stroke-width=".6"/>
<circle cx="134.8" cy="342.6" r="1.15" fill="none" stroke="#7fb3e0" stroke-width=".6"/>
<line x1="133.4" y1="340.9" x2="133.4" y2="338.6" stroke="#000" stroke-width="1.6"/>
<line x1="130.4" y1="340.9" x2="136.4" y2="340.9" stroke="#000" stroke-width="1.6"/>
<line x1="130.4" y1="338.6" x2="136.4" y2="338.6" stroke="#000" stroke-width="1.6"/>
<rect x="137.8" y="343.2" width="8.8" height="1.2" fill="#f4c6ad"/>
<circle cx="142.2" cy="332.7" r="1.15" fill="none" stroke="#f2b89a" stroke-width=".6"/>
<circle cx="141.3" cy="353.7" r="1.15" fill="none" stroke="#f2b89a" stroke-width=".6"/>
<circle cx="144.2" cy="344.1" r="1.15" fill="none" stroke="#f2b89a" stroke-width=".6"/>
<circle cx="143.2" cy="336.5" r="1.15" fill="none" stroke="#f2b89a" stroke-width=".6"/>
<circle cx="143" cy="344.3" r="1.15" fill="none" stroke="#f2b89a" stroke-width=".6"/>
<circle cx="144.1" cy="340.5" r="1.15" fill="none" stroke="#f2b89a" stroke-width=".6"/>
<circle cx="142.9" cy="346" r="1.15" fill="none" stroke="#f2b89a" stroke-width=".6"/>
<circle cx="143.7" cy="343.3" r="1.15" fill="none" stroke="#f2b89a" stroke-width=".6"/>
<circle cx="144.6" cy="342.7" r="1.15" fill="none" stroke="#f2b89a" stroke-width=".6"/>
<circle cx="143" cy="343.4" r="1.15" fill="none" stroke="#f2b89a" stroke-width=".6"/>
<circle cx="139.8" cy="347.4" r="1.15" fill="none" stroke="#f2b89a" stroke-width=".6"/>
<circle cx="144.9" cy="343.5" r="1.15" fill="none" stroke="#f2b89a" stroke-width=".6"/>
<circle cx="144.9" cy="346.6" r="1.15" fill="none" stroke="#f2b89a" stroke-width=".6"/>
<circle cx="141.1" cy="336.5" r="1.15" fill="none" stroke="#f2b89a" stroke-width=".6"/>
<circle cx="139.5" cy="341.4" r="1.15" fill="none" stroke="#f2b89a" stroke-width=".6"/>
<circle cx="141.1" cy="342.2" r="1.15" fill="none" stroke="#f2b89a" stroke-width=".6"/>
<circle cx="139.7" cy="344.9" r="1.15" fill="none" stroke="#f2b89a" stroke-width=".6"/>
<circle cx="141.3" cy="343.1" r="1.15" fill="none" stroke="#f2b89a" stroke-width=".6"/>
<circle cx="139.6" cy="344.9" r="1.15" fill="none" stroke="#f2b89a" stroke-width=".6"/>
<circle cx="140.4" cy="341.9" r="1.15" fill="none" stroke="#f2b89a" stroke-width=".6"/>
<line x1="142.2" y1="344.6" x2="142.2" y2="341.8" stroke="#000" stroke-width="1.6"/>
<line x1="139.2" y1="344.6" x2="145.2" y2="344.6" stroke="#000" stroke-width="1.6"/>
<line x1="139.2" y1="341.8" x2="145.2" y2="341.8" stroke="#000" stroke-width="1.6"/>
<rect x="160.9" y="342.1" width="8.8" height="2.3" fill="#b6d3ec"/>
<circle cx="166.1" cy="329.2" r="1.15" fill="none" stroke="#9cc6ea" stroke-width=".6"/>
<circle cx="166.2" cy="351.4" r="1.15" fill="none" stroke="#9cc6ea" stroke-width=".6"/>
<circle cx="164.5" cy="336.7" r="1.15" fill="none" stroke="#9cc6ea" stroke-width=".6"/>
<circle cx="166.9" cy="335" r="1.15" fill="none" stroke="#9cc6ea" stroke-width=".6"/>
<circle cx="162.7" cy="344.2" r="1.15" fill="none" stroke="#9cc6ea" stroke-width=".6"/>
<circle cx="163.3" cy="345.2" r="1.15" fill="none" stroke="#9cc6ea" stroke-width=".6"/>
<circle cx="162.3" cy="339.9" r="1.15" fill="none" stroke="#9cc6ea" stroke-width=".6"/>
<circle cx="163.4" cy="347.8" r="1.15" fill="none" stroke="#9cc6ea" stroke-width=".6"/>
<circle cx="166" cy="340.4" r="1.15" fill="none" stroke="#9cc6ea" stroke-width=".6"/>
<circle cx="166.6" cy="338.1" r="1.15" fill="none" stroke="#9cc6ea" stroke-width=".6"/>
<circle cx="165.2" cy="333.1" r="1.15" fill="none" stroke="#9cc6ea" stroke-width=".6"/>
<circle cx="167.2" cy="340.5" r="1.15" fill="none" stroke="#9cc6ea" stroke-width=".6"/>
<circle cx="165" cy="345.6" r="1.15" fill="none" stroke="#9cc6ea" stroke-width=".6"/>
<circle cx="167.5" cy="338" r="1.15" fill="none" stroke="#9cc6ea" stroke-width=".6"/>
<circle cx="165.9" cy="345.8" r="1.15" fill="none" stroke="#9cc6ea" stroke-width=".6"/>
<circle cx="165.5" cy="343.3" r="1.15" fill="none" stroke="#9cc6ea" stroke-width=".6"/>
<circle cx="163.3" cy="339.7" r="1.15" fill="none" stroke="#9cc6ea" stroke-width=".6"/>
<circle cx="164.9" cy="339.5" r="1.15" fill="none" stroke="#9cc6ea" stroke-width=".6"/>
<circle cx="165.1" cy="335.4" r="1.15" fill="none" stroke="#9cc6ea" stroke-width=".6"/>
<circle cx="167" cy="338.1" r="1.15" fill="none" stroke="#9cc6ea" stroke-width=".6"/>
<circle cx="163.7" cy="339.4" r="1.15" fill="none" stroke="#9cc6ea" stroke-width=".6"/>
<circle cx="163.8" cy="342.2" r="1.15" fill="none" stroke="#9cc6ea" stroke-width=".6"/>
<circle cx="167.5" cy="341.7" r="1.15" fill="none" stroke="#9cc6ea" stroke-width=".6"/>
<circle cx="162.3" cy="341.8" r="1.15" fill="none" stroke="#9cc6ea" stroke-width=".6"/>
<circle cx="165.6" cy="341.8" r="1.15" fill="none" stroke="#9cc6ea" stroke-width=".6"/>
<line x1="165.3" y1="343.2" x2="165.3" y2="340.9" stroke="#000" stroke-width="1.6"/>
<line x1="162.3" y1="343.2" x2="168.3" y2="343.2" stroke="#000" stroke-width="1.6"/>
<line x1="162.3" y1="340.9" x2="168.3" y2="340.9" stroke="#000" stroke-width="1.6"/>
<rect x="169.7" y="343.8" width="8.8" height="0.6" fill="#f4c6ad"/>
<circle cx="173.4" cy="329.2" r="1.15" fill="none" stroke="#f2b89a" stroke-width=".6"/>
<circle cx="175.2" cy="352.6" r="1.15" fill="none" stroke="#f2b89a" stroke-width=".6"/>
<circle cx="173.2" cy="339" r="1.15" fill="none" stroke="#f2b89a" stroke-width=".6"/>
<circle cx="175.2" cy="340.6" r="1.15" fill="none" stroke="#f2b89a" stroke-width=".6"/>
<circle cx="173.8" cy="340.2" r="1.15" fill="none" stroke="#f2b89a" stroke-width=".6"/>
<circle cx="175.9" cy="338.9" r="1.15" fill="none" stroke="#f2b89a" stroke-width=".6"/>
<circle cx="171.8" cy="339.5" r="1.15" fill="none" stroke="#f2b89a" stroke-width=".6"/>
<circle cx="172.7" cy="339.2" r="1.15" fill="none" stroke="#f2b89a" stroke-width=".6"/>
<circle cx="173" cy="339.8" r="1.15" fill="none" stroke="#f2b89a" stroke-width=".6"/>
<circle cx="172.5" cy="342.8" r="1.15" fill="none" stroke="#f2b89a" stroke-width=".6"/>
<circle cx="176.2" cy="342.2" r="1.15" fill="none" stroke="#f2b89a" stroke-width=".6"/>
<circle cx="174.1" cy="341.5" r="1.15" fill="none" stroke="#f2b89a" stroke-width=".6"/>
<circle cx="173.1" cy="345" r="1.15" fill="none" stroke="#f2b89a" stroke-width=".6"/>
<circle cx="174.1" cy="346.1" r="1.15" fill="none" stroke="#f2b89a" stroke-width=".6"/>
<circle cx="176.2" cy="346.4" r="1.15" fill="none" stroke="#f2b89a" stroke-width=".6"/>
<circle cx="174.4" cy="336.2" r="1.15" fill="none" stroke="#f2b89a" stroke-width=".6"/>
<circle cx="173.9" cy="348.6" r="1.15" fill="none" stroke="#f2b89a" stroke-width=".6"/>
<circle cx="174.7" cy="336.9" r="1.15" fill="none" stroke="#f2b89a" stroke-width=".6"/>
<circle cx="174.9" cy="342.5" r="1.15" fill="none" stroke="#f2b89a" stroke-width=".6"/>
<circle cx="173.6" cy="338.7" r="1.15" fill="none" stroke="#f2b89a" stroke-width=".6"/>
<line x1="174.1" y1="345" x2="174.1" y2="342.6" stroke="#000" stroke-width="1.6"/>
<line x1="171.1" y1="345" x2="177.1" y2="345" stroke="#000" stroke-width="1.6"/>
<line x1="171.1" y1="342.6" x2="177.1" y2="342.6" stroke="#000" stroke-width="1.6"/>
<line x1="26.7" y1="344.4" x2="185.5" y2="344.4" stroke="#444" stroke-width="0.7"/>
<line x1="26.7" y1="367.8" x2="185.5" y2="367.8" stroke="#262626" stroke-width="1.3"/>
<line x1="26.7" y1="367.8" x2="26.7" y2="273.8" stroke="#262626" stroke-width="1.3"/>
<line x1="42.2" y1="367.8" x2="42.2" y2="365.3" stroke="#262626" stroke-width="1.3"/>
<text x="42.2" y="378.3" text-anchor="middle">FG</text>
<line x1="74.1" y1="367.8" x2="74.1" y2="365.3" stroke="#262626" stroke-width="1.3"/>
<text x="74.1" y="378.3" text-anchor="middle">ITG</text>
<line x1="106" y1="367.8" x2="106" y2="365.3" stroke="#262626" stroke-width="1.3"/>
<text x="106" y="378.3" text-anchor="middle">PH</text>
<line x1="137.8" y1="367.8" x2="137.8" y2="365.3" stroke="#262626" stroke-width="1.3"/>
<text x="137.8" y="378.3" text-anchor="middle">AH</text>
<line x1="169.7" y1="367.8" x2="169.7" y2="365.3" stroke="#262626" stroke-width="1.3"/>
<text x="169.7" y="378.3" text-anchor="middle">Amygdala</text>
<line x1="26.7" y1="274.3" x2="29.2" y2="274.3" stroke="#262626" stroke-width="1.3"/>
<text x="23.2" y="277.5" text-anchor="end">0.6</text>
<line x1="26.7" y1="297.7" x2="29.2" y2="297.7" stroke="#262626" stroke-width="1.3"/>
<text x="23.2" y="300.9" text-anchor="end">0.4</text>
<line x1="26.7" y1="321" x2="29.2" y2="321" stroke="#262626" stroke-width="1.3"/>
<text x="23.2" y="324.2" text-anchor="end">0.2</text>
<line x1="26.7" y1="344.4" x2="29.2" y2="344.4" stroke="#262626" stroke-width="1.3"/>
<text x="23.2" y="347.6" text-anchor="end">0</text>
<line x1="26.7" y1="367.8" x2="29.2" y2="367.8" stroke="#262626" stroke-width="1.3"/>
<text x="23.2" y="370.9" text-anchor="end">-0.2</text>
<text x="7.3" y="322" text-anchor="middle" transform="rotate(-90 7.3 322)">Strength of Axis Coding</text>
<rect x="153.6" y="280.1" width="7.8" height="5.7" fill="none" stroke="#0b6fbd" stroke-width="1.2"/>
<rect x="153.6" y="288.2" width="7.8" height="5.7" fill="none" stroke="#d95319" stroke-width="1.2"/>
<text x="164.6" y="286.2">Left</text>
<text x="164.6" y="294.3">Right</text>
<line x1="225.2" y1="368.4" x2="448.2" y2="368.4" stroke="#262626" stroke-width="1.3"/>
<line x1="225.2" y1="368.4" x2="225.2" y2="171.8" stroke="#262626" stroke-width="1.3"/>
<line x1="270.2" y1="368.4" x2="270.2" y2="365.9" stroke="#262626" stroke-width="1.3"/>
<text x="270.2" y="377.3" text-anchor="middle">-20</text>
<line x1="321" y1="368.4" x2="321" y2="365.9" stroke="#262626" stroke-width="1.3"/>
<text x="321" y="377.3" text-anchor="middle">0</text>
<line x1="371.8" y1="368.4" x2="371.8" y2="365.9" stroke="#262626" stroke-width="1.3"/>
<text x="371.8" y="377.3" text-anchor="middle">20</text>
<line x1="422.6" y1="368.4" x2="422.6" y2="365.9" stroke="#262626" stroke-width="1.3"/>
<text x="422.6" y="377.3" text-anchor="middle">40</text>
<line x1="225.2" y1="202.8" x2="227.7" y2="202.8" stroke="#262626" stroke-width="1.3"/>
<text x="221.7" y="206" text-anchor="end">20</text>
<line x1="225.2" y1="236" x2="227.7" y2="236" stroke="#262626" stroke-width="1.3"/>
<text x="221.7" y="239.2" text-anchor="end">10</text>
<line x1="225.2" y1="269.1" x2="227.7" y2="269.1" stroke="#262626" stroke-width="1.3"/>
<text x="221.7" y="272.3" text-anchor="end">0</text>
<line x1="225.2" y1="302.2" x2="227.7" y2="302.2" stroke="#262626" stroke-width="1.3"/>
<text x="221.7" y="305.4" text-anchor="end">-10</text>
<line x1="225.2" y1="335.4" x2="227.7" y2="335.4" stroke="#262626" stroke-width="1.3"/>
<text x="221.7" y="338.6" text-anchor="end">-20</text>
<line x1="225.2" y1="368.6" x2="227.7" y2="368.6" stroke="#262626" stroke-width="1.3"/>
<text x="221.7" y="371.8" text-anchor="end">-30</text>
<text x="335.8" y="390" text-anchor="middle">VTC Neural Feature Space Dimension 1</text>
<text x="203.5" y="270" text-anchor="middle" transform="rotate(-90 203.5 270)">VTC Neural Feature Space Dimension 2</text>
<path d="M458.8,175L461.4,170.4L464,175Z" fill="#d46464"/>
<text x="468.6" y="176">cat</text>
<path d="M458.8,185L461.4,180.4L464,185Z" fill="#e87070"/>
<text x="468.6" y="186">dog</text>
<path d="M458.8,195L461.4,190.4L464,195Z" fill="#f27a72"/>
<text x="468.6" y="196">rodent</text>
<path d="M458.8,205L461.4,200.4L464,205Z" fill="#f48a7c"/>
<text x="468.6" y="206">young mammal</text>
<path d="M458.8,215L461.4,210.4L464,215Z" fill="#c87a72"/>
<text x="468.6" y="216">frog</text>
<path d="M458.8,225L461.4,220.4L464,225Z" fill="#f8b4a2"/>
<text x="468.6" y="226">reptile</text>
<path d="M458.8,235L461.4,230.4L464,235Z" fill="#f8a282"/>
<text x="468.6" y="236">game bird</text>
<path d="M458.8,245L461.4,240.4L464,245Z" fill="#b68a6a"/>
<text x="468.6" y="246">fish</text>
<path d="M458.8,255L461.4,250.4L464,255Z" fill="#f8b888"/>
<text x="468.6" y="256">crustacean</text>
<path d="M458.8,265L461.4,260.4L464,265Z" fill="#c8a27a"/>
<text x="468.6" y="266">arachnid</text>
<path d="M458.8,275L461.4,270.4L464,275Z" fill="#f8da92"/>
<text x="468.6" y="276">insect</text>
<path d="M458.8,285L461.4,280.4L464,285Z" fill="#f86a6a"/>
<text x="468.6" y="286">gymnast</text>
<path d="M458.8,295L461.4,290.4L464,295Z" fill="#c062c0"/>
<text x="468.6" y="296">furniture</text>
<path d="M458.8,305L461.4,300.4L464,305Z" fill="#f88af2"/>
<text x="468.6" y="306">nest</text>
<path d="M458.8,315L461.4,310.4L464,315Z" fill="#5ac2a2"/>
<text x="468.6" y="316">man clothing</text>
<path d="M458.8,325L461.4,320.4L464,325Z" fill="#72f0f8"/>
<text x="468.6" y="326">needlework</text>
<path d="M458.8,335L461.4,330.4L464,335Z" fill="#8a9ac8"/>
<text x="468.6" y="336">equipment</text>
<path d="M458.8,345L461.4,340.4L464,345Z" fill="#9ab2e2"/>
<text x="468.6" y="346">electrical device</text>
<path d="M458.8,355L461.4,350.4L464,355Z" fill="#aac2f2"/>
<text x="468.6" y="356">electronic device</text>
<path d="M458.8,365L461.4,360.4L464,365Z" fill="#bad8f8"/>
<text x="468.6" y="366">battery</text>
<path d="M538.6,175L541.2,170.4L543.8,175Z" fill="#b2dcf8"/>
<text x="548.6" y="176">light</text>
<path d="M538.6,185L541.2,180.4L543.8,185Z" fill="#caf2f8"/>
<text x="548.6" y="186">musical instrument</text>
<path d="M538.6,195L541.2,190.4L543.8,195Z" fill="#8e8ad8"/>
<text x="548.6" y="196">collection</text>
<path d="M538.6,205L541.2,200.4L543.8,205Z" fill="#a2b2e2"/>
<text x="548.6" y="206">weapon</text>
<path d="M538.6,215L541.2,210.4L543.8,215Z" fill="#7acaf8"/>
<text x="548.6" y="216">tool</text>
<path d="M538.6,225L541.2,220.4L543.8,225Z" fill="#5c5ad8"/>
<text x="548.6" y="226">car</text>
<path d="M538.6,235L541.2,230.4L543.8,235Z" fill="#6a68f0"/>
<text x="548.6" y="236">moped</text>
<path d="M538.6,245L541.2,240.4L543.8,245Z" fill="#7272f8"/>
<text x="548.6" y="246">bark</text>
<path d="M538.6,255L541.2,250.4L543.8,255Z" fill="#8282f8"/>
<text x="548.6" y="256">vessel</text>
<path d="M538.6,265L541.2,260.4L543.8,265Z" fill="#52c2a2"/>
<text x="548.6" y="266">ridge</text>
<path d="M538.6,275L541.2,270.4L543.8,275Z" fill="#62eaca"/>
<text x="548.6" y="276">support</text>
<path d="M538.6,285L541.2,280.4L543.8,285Z" fill="#72f2f8"/>
<text x="548.6" y="286">building</text>
<path d="M538.6,295L541.2,290.4L543.8,295Z" fill="#d8a2b2"/>
<text x="548.6" y="296">plate</text>
<path d="M538.6,305L541.2,300.4L543.8,305Z" fill="#f8daf2"/>
<text x="548.6" y="306">utensil</text>
<path d="M538.6,315L541.2,310.4L543.8,315Z" fill="#c25ac8"/>
<text x="548.6" y="316">board</text>
<path d="M538.6,325L541.2,320.4L543.8,325Z" fill="#d262e2"/>
<text x="548.6" y="326">dainty</text>
<path d="M538.6,335L541.2,330.4L543.8,335Z" fill="#e262f2"/>
<text x="548.6" y="336">fare</text>
<path d="M538.6,345L541.2,340.4L543.8,345Z" fill="#f272f2"/>
<text x="548.6" y="346">bread</text>
<path d="M538.6,355L541.2,350.4L543.8,355Z" fill="#f47af4"/>
<text x="548.6" y="356">beverage</text>
<path d="M538.6,365L541.2,360.4L543.8,365Z" fill="#f882f8"/>
<text x="548.6" y="366">fruit</text>
<path d="M626,175L628.6,170.4L631.2,175Z" fill="#f882f2"/>
<text x="636" y="176">vegetable</text>
<path d="M626,185L628.6,180.4L631.2,185Z" fill="#72c272"/>
<text x="636" y="186">flower</text>
<path d="M626,195L628.6,190.4L631.2,195Z" fill="#70d272"/>
<text x="636" y="196">fungus</text>
<path d="M626,205L628.6,200.4L631.2,205Z" fill="#7ede7e"/>
<text x="636" y="206">fern</text>
<path d="M626,215L628.6,210.4L631.2,215Z" fill="#8ae88a"/>
<text x="636" y="216">herb</text>
<path d="M626,225L628.6,220.4L631.2,225Z" fill="#9aec9a"/>
<text x="636" y="226">brier</text>
<path d="M626,235L628.6,230.4L631.2,235Z" fill="#b2f2b2"/>
<text x="636" y="236">sugar maple</text>
<path d="M626,245L628.6,240.4L631.2,245Z" fill="#c88ac8"/>
<text x="636" y="246">rock</text>
<path d="M626,255L628.6,250.4L631.2,255Z" fill="#f6a2f2"/>
<text x="636" y="256">hole</text>
<path d="M626,265L628.6,260.4L631.2,265Z" fill="#f8caf6"/>
<text x="636" y="266">star</text>
<circle cx="628.6" cy="272.9" r="2.3" fill="#ffff58"/>
<text x="636" y="276">airplane</text>
<circle cx="628.6" cy="282.9" r="2.3" fill="#58ffff"/>
<text x="636" y="286">apple</text>
<circle cx="628.6" cy="292.9" r="2.3" fill="#ff58ff"/>
<text x="636" y="296">bear</text>
<circle cx="628.6" cy="302.9" r="2.3" fill="#ac5858"/>
<text x="636" y="306">bird</text>
<circle cx="628.6" cy="312.9" r="2.3" fill="#ff5858"/>
<text x="636" y="316">car</text>
<circle cx="628.6" cy="322.9" r="2.3" fill="#58ac58"/>
<text x="636" y="326">chair</text>
<circle cx="628.6" cy="332.9" r="2.3" fill="#58ff58"/>
<text x="636" y="336">dog</text>
<circle cx="628.6" cy="342.9" r="2.3" fill="#5858ac"/>
<text x="636" y="346">elephant</text>
<circle cx="628.6" cy="352.9" r="2.3" fill="#5858ff"/>
<text x="636" y="356">person</text>
<circle cx="628.6" cy="362.9" r="2.3" fill="#585858"/>
<text x="636" y="366">zebra</text>
<g fill-opacity=".8">
<path d="M252.9,180.2L256.6,173.5L260.3,180.2Z" fill="#ff4a3a"/>
<path d="M335.9,300.7L339.6,294.1L343.3,300.7Z" fill="#81e781"/>
<path d="M303.4,335.2L307.1,328.5L310.8,335.2Z" fill="#b331ba"/>
<path d="M351.3,314L355,307.3L358.7,314Z" fill="#6d81ba"/>
<path d="M241.1,253.5L244.8,246.9L248.5,253.5Z" fill="#ef594f"/>
<path d="M267.7,325.4L271.4,318.7L275.1,325.4Z" fill="#f6d177"/>
<path d="M302.7,322.5L306.4,315.8L310.1,322.5Z" fill="#59bdf6"/>
<path d="M421.1,315.4L424.8,308.7L428.5,315.4Z" fill="#9fd3f6"/>
<path d="M277,247.3L280.7,240.6L284.4,247.3Z" fill="#f16d5b"/>
<path d="M392.2,297.9L395.9,291.2L399.6,297.9Z" fill="#6d81ba"/>
<path d="M259.4,288L263.1,281.3L266.8,288Z" fill="#f64545"/>
<path d="M336.5,293.4L340.2,286.7L343.9,293.4Z" fill="#ba6dba"/>
<path d="M332.4,314.4L336.1,307.8L339.8,314.4Z" fill="#4f4ff6"/>
<path d="M352.3,277.4L356,270.7L359.7,277.4Z" fill="#27b38b"/>
<path d="M373.9,275.7L377.6,269.1L381.3,275.7Z" fill="#6363f6"/>
<path d="M354.2,309.1L357.9,302.5L361.6,309.1Z" fill="#c07890"/>
<path d="M288,304.3L291.7,297.6L295.4,304.3Z" fill="#31b38b"/>
<path d="M293,305.1L296.7,298.5L300.4,305.1Z" fill="#ce8b9f"/>
<path d="M263.1,307.1L266.8,300.4L270.5,307.1Z" fill="#e24c4c"/>
<path d="M361,293.9L364.7,287.2L368.4,293.9Z" fill="#59bdf6"/>
<path d="M248.6,198.5L252.3,191.8L256,198.5Z" fill="#f6a66a"/>
<path d="M348.2,336.7L351.9,330L355.6,336.7Z" fill="#f663ef"/>
<path d="M277.2,290.7L280.9,284.1L284.6,290.7Z" fill="#ba8b59"/>
<path d="M318.3,308.7L322,302L325.7,308.7Z" fill="#db3bef"/>
<path d="M293.7,288.8L297.4,282.1L301.1,288.8Z" fill="#ba6dba"/>
<path d="M351.1,305L354.8,298.3L358.5,305Z" fill="#4fecf6"/>
<path d="M337.9,299.6L341.6,292.9L345.3,299.6Z" fill="#3331ce"/>
<path d="M306.2,313.9L309.9,307.2L313.6,313.9Z" fill="#f6d1ef"/>
<path d="M316,318.1L319.7,311.4L323.4,318.1Z" fill="#f663ef"/>
<path d="M304.6,327.8L308.3,321.2L312,327.8Z" fill="#b331ba"/>
<path d="M271.6,189.6L275.3,182.9L279,189.6Z" fill="#a46d45"/>
<path d="M386.2,272.5L389.9,265.9L393.6,272.5Z" fill="#3331ce"/>
<path d="M393.4,278.8L397.1,272.2L400.8,278.8Z" fill="#95b3ef"/>
<path d="M336.3,330.1L340,323.5L343.7,330.1Z" fill="#9fd3f6"/>
<path d="M353.7,311.3L357.4,304.7L361.1,311.3Z" fill="#f6bdf4"/>
<path d="M327.7,316.9L331.4,310.3L335.1,316.9Z" fill="#b331ba"/>
<path d="M307.1,289.5L310.8,282.8L314.5,289.5Z" fill="#db3bef"/>
<path d="M347.5,344.8L351.2,338.1L354.9,344.8Z" fill="#f6bdf4"/>
<path d="M305.9,270.9L309.6,264.3L313.3,270.9Z" fill="#f6d177"/>
<path d="M317.3,291.2L321,284.5L324.7,291.2Z" fill="#b03bb0"/>
<path d="M260.4,213.6L264.1,206.9L267.8,213.6Z" fill="#f6d177"/>
<path d="M346.8,204.5L350.5,197.8L354.2,204.5Z" fill="#ff3030"/>
<path d="M400.9,298.2L404.6,291.6L408.3,298.2Z" fill="#819fdb"/>
<path d="M402.3,276.8L406,270.1L409.7,276.8Z" fill="#4f4ff6"/>
<path d="M377,299.5L380.7,292.8L384.4,299.5Z" fill="#60a0f0"/>
<path d="M362.9,244.3L366.6,237.6L370.3,244.3Z" fill="#5ed65e"/>
<path d="M311.7,298.3L315.4,291.6L319.1,298.3Z" fill="#ce8b9f"/>
<path d="M323.5,277.4L327.2,270.7L330.9,277.4Z" fill="#f16d5b"/>
<path d="M319.1,299.6L322.8,292.9L326.5,299.6Z" fill="#6de26d"/>
<path d="M252.3,189.3L256,182.6L259.7,189.3Z" fill="#c93d3d"/>
<path d="M301.1,309.6L304.8,303L308.5,309.6Z" fill="#f663f6"/>
<path d="M394.7,275.5L398.4,268.9L402.1,275.5Z" fill="#6d81ba"/>
<path d="M385,276.9L388.7,270.2L392.4,276.9Z" fill="#bdeff6"/>
<path d="M394.1,295L397.8,288.3L401.5,295Z" fill="#819fdb"/>
<path d="M316.7,285.7L320.4,279.1L324.1,285.7Z" fill="#a46d45"/>
<path d="M260.9,246.5L264.6,239.8L268.3,246.5Z" fill="#ef594f"/>
<path d="M328.7,285.4L332.4,278.7L336.1,285.4Z" fill="#4542ec"/>
<path d="M379.4,277.3L383.1,270.7L386.8,277.3Z" fill="#a9cef6"/>
<path d="M291.2,290.8L294.9,284.2L298.6,290.8Z" fill="#9fef9f"/>
<path d="M443.9,287.2L447.6,280.6L451.3,287.2Z" fill="#5050c0"/>
<path d="M297.4,328.1L301.1,321.4L304.8,328.1Z" fill="#27b38b"/>
<path d="M406.1,275L409.8,268.3L413.5,275Z" fill="#5050c0"/>
<path d="M331,290.3L334.7,283.7L338.4,290.3Z" fill="#f663ef"/>
<path d="M277.8,322.8L281.5,316.1L285.2,322.8Z" fill="#b03bb0"/>
<path d="M298.6,252.5L302.3,245.8L306,252.5Z" fill="#f6a66a"/>
<path d="M277.9,213.7L281.6,207L285.3,213.7Z" fill="#ef594f"/>
<path d="M340.1,299.5L343.8,292.9L347.5,299.5Z" fill="#ba6dba"/>
<path d="M348.2,286.9L351.9,280.2L355.6,286.9Z" fill="#4fb34f"/>
<path d="M292.5,292.5L296.2,285.8L299.9,292.5Z" fill="#f68b63"/>
<path d="M374.7,282.1L378.4,275.4L382.1,282.1Z" fill="#a9cef6"/>
<path d="M331.8,268L335.5,261.4L339.2,268Z" fill="#ba8b59"/>
<path d="M392,226.4L395.7,219.7L399.4,226.4Z" fill="#ff3030"/>
<path d="M311.6,281.3L315.3,274.6L319,281.3Z" fill="#4cc74f"/>
<path d="M315.8,279.3L319.5,272.7L323.2,279.3Z" fill="#4542ec"/>
<path d="M343.7,327.9L347.4,321.2L351.1,327.9Z" fill="#f6a18b"/>
<path d="M331.1,294.4L334.8,287.8L338.5,294.4Z" fill="#4feff6"/>
<path d="M289.3,250.6L293,243.9L296.7,250.6Z" fill="#f64545"/>
<path d="M391.5,301.3L395.2,294.7L398.9,301.3Z" fill="#6363f6"/>
<path d="M313.6,304.3L317.3,297.6L321,304.3Z" fill="#5ed65e"/>
<path d="M291.5,286.4L295.2,279.7L298.9,286.4Z" fill="#31b38b"/>
<path d="M326.8,293L330.5,286.4L334.2,293Z" fill="#c73bdb"/>
<path d="M320,306.3L323.7,299.6L327.4,306.3Z" fill="#4fecf6"/>
<path d="M404.6,298.9L408.3,292.2L412,298.9Z" fill="#726dce"/>
<path d="M298.1,298L301.8,291.3L305.5,298Z" fill="#6363f6"/>
<path d="M297.6,309.7L301.3,303L305,309.7Z" fill="#f48bef"/>
<path d="M321.5,315.8L325.2,309.2L328.9,315.8Z" fill="#726dce"/>
<path d="M350.6,303.2L354.3,296.5L358,303.2Z" fill="#a9cef6"/>
<path d="M273.5,195.5L277.2,188.8L280.9,195.5Z" fill="#f16d5b"/>
<path d="M280.3,283.3L284,276.6L287.7,283.3Z" fill="#31b38b"/>
<path d="M413.5,286.8L417.2,280.2L420.9,286.8Z" fill="#726dce"/>
<path d="M285.6,280.7L289.3,274.1L293,280.7Z" fill="#a46d45"/>
<path d="M283.2,303.5L286.9,296.9L290.6,303.5Z" fill="#c73bdb"/>
<path d="M255.7,277.6L259.4,270.9L263.1,277.6Z" fill="#e24c4c"/>
<path d="M386.2,294.5L389.9,287.8L393.6,294.5Z" fill="#6d81ba"/>
<path d="M353.6,291.6L357.3,284.9L361,291.6Z" fill="#f6d1ef"/>
<path d="M271.5,206.6L275.2,199.9L278.9,206.6Z" fill="#f16d5b"/>
<path d="M264.1,211.3L267.8,204.7L271.5,211.3Z" fill="#f6a18b"/>
<path d="M305.8,295.6L309.5,288.9L313.2,295.6Z" fill="#31b38b"/>
<path d="M334.9,262.5L338.6,255.9L342.3,262.5Z" fill="#81e781"/>
<path d="M296.8,246.4L300.5,239.8L304.2,246.4Z" fill="#f6d177"/>
<path d="M267.9,185.9L271.6,179.2L275.3,185.9Z" fill="#c93d3d"/>
<path d="M324.3,301L328,294.3L331.7,301Z" fill="#c73bdb"/>
<path d="M300.1,288.7L303.8,282L307.5,288.7Z" fill="#ef4fef"/>
<path d="M400,285.4L403.7,278.7L407.4,285.4Z" fill="#3331ce"/>
<path d="M331,270.6L334.7,263.9L338.4,270.6Z" fill="#6de26d"/>
<path d="M362.9,288.9L366.6,282.3L370.3,288.9Z" fill="#4fb34f"/>
<path d="M289.8,284.2L293.5,277.6L297.2,284.2Z" fill="#ba594f"/>
<path d="M377.8,294.4L381.5,287.7L385.2,294.4Z" fill="#bdeff6"/>
<path d="M291.2,276.7L294.9,270L298.6,276.7Z" fill="#f68b63"/>
<path d="M253.7,330.6L257.4,323.9L261.1,330.6Z" fill="#f040f0"/>
<path d="M412.8,300L416.5,293.3L420.2,300Z" fill="#59bdf6"/>
<path d="M258.5,195.4L262.2,188.8L265.9,195.4Z" fill="#ff4a3a"/>
<path d="M398.1,292.8L401.8,286.1L405.5,292.8Z" fill="#9fd3f6"/>
<path d="M335.1,298.3L338.8,291.6L342.5,298.3Z" fill="#3be5bd"/>
<path d="M348,219.4L351.7,212.7L355.4,219.4Z" fill="#ff3030"/>
<path d="M329.2,311.4L332.9,304.7L336.6,311.4Z" fill="#4cc74f"/>
<path d="M339,318.1L342.7,311.5L346.4,318.1Z" fill="#ba594f"/>
<path d="M387.9,262.3L391.6,255.6L395.3,262.3Z" fill="#8b9fdb"/>
<path d="M299.6,193.8L303.3,187.2L307,193.8Z" fill="#ff4a3a"/>
<path d="M336.6,331L340.3,324.4L344,331Z" fill="#c07890"/>
<path d="M315.3,291.9L319,285.3L322.7,291.9Z" fill="#6363f6"/>
<path d="M319.4,319.8L323.1,313.2L326.8,319.8Z" fill="#3be5bd"/>
<path d="M351.7,286.6L355.4,279.9L359.1,286.6Z" fill="#5ed65e"/>
<path d="M315.9,282L319.6,275.3L323.3,282Z" fill="#f663ef"/>
<path d="M259.4,180.6L263.1,173.9L266.8,180.6Z" fill="#f68b63"/>
<path d="M284.2,323L287.9,316.4L291.6,323Z" fill="#ef594f"/>
<path d="M403.8,280.6L407.5,273.9L411.2,280.6Z" fill="#4542ec"/>
<path d="M331.7,323.7L335.4,317L339.1,323.7Z" fill="#f159f1"/>
<path d="M395.5,277.6L399.2,270.9L402.9,277.6Z" fill="#5050c0"/>
<path d="M308,297.4L311.7,290.8L315.4,297.4Z" fill="#f663ef"/>
<path d="M281,309L284.7,302.4L288.4,309Z" fill="#f159f1"/>
<path d="M295.9,255.1L299.6,248.5L303.3,255.1Z" fill="#c93d3d"/>
<path d="M291.2,345.4L294.9,338.8L298.6,345.4Z" fill="#f663f6"/>
<path d="M341.2,320.8L344.9,314.2L348.6,320.8Z" fill="#c73bdb"/>
<path d="M417.5,290.7L421.2,284.1L424.9,290.7Z" fill="#20d8a0"/>
<path d="M401.2,268L404.9,261.3L408.6,268Z" fill="#59bdf6"/>
<path d="M339.6,290.3L343.3,283.6L347,290.3Z" fill="#819fdb"/>
<path d="M376.1,295.1L379.8,288.5L383.5,295.1Z" fill="#4f4ff6"/>
<path d="M325.4,318.3L329.1,311.6L332.8,318.3Z" fill="#4fecf6"/>
<path d="M264.3,203L268,196.4L271.7,203Z" fill="#ba8b59"/>
<path d="M349.3,316.4L353,309.7L356.7,316.4Z" fill="#f68b63"/>
<path d="M269.7,205.3L273.4,198.6L277.1,205.3Z" fill="#f68b63"/>
<path d="M345.4,310L349.1,303.3L352.8,310Z" fill="#c07890"/>
<path d="M377.8,296.5L381.5,289.8L385.2,296.5Z" fill="#8b9fdb"/>
<path d="M295,263.9L298.7,257.2L302.4,263.9Z" fill="#f6a18b"/>
<path d="M344,291L347.7,284.3L351.4,291Z" fill="#31b38b"/>
<path d="M327.6,285.1L331.3,278.5L335,285.1Z" fill="#6d81ba"/>
<path d="M284.8,204.7L288.5,198L292.2,204.7Z" fill="#ba8b59"/>
<path d="M284.7,309.7L288.4,303L292.1,309.7Z" fill="#b331ba"/>
<path d="M276.3,217.5L280,210.9L283.7,217.5Z" fill="#f6a18b"/>
<path d="M343.6,327.5L347.3,320.9L351,327.5Z" fill="#5050c0"/>
<path d="M351.6,293.6L355.3,286.9L359,293.6Z" fill="#4f4ff6"/>
<path d="M322,337.3L325.7,330.6L329.4,337.3Z" fill="#4fecf6"/>
<path d="M310.7,301.9L314.4,295.2L318.1,301.9Z" fill="#c73bdb"/>
<path d="M321.4,287.1L325.1,280.5L328.8,287.1Z" fill="#5ed65e"/>
<path d="M311.3,349.5L315,342.9L318.7,349.5Z" fill="#f159f1"/>
<path d="M253.8,216.5L257.5,209.8L261.2,216.5Z" fill="#f6a66a"/>
<path d="M271.4,197L275.1,190.4L278.8,197Z" fill="#ff4a3a"/>
<path d="M293.3,263.4L297,256.8L300.7,263.4Z" fill="#f68b63"/>
<path d="M337.4,336.7L341.1,330.1L344.8,336.7Z" fill="#ba6dba"/>
<path d="M312.1,290L315.8,283.4L319.5,290Z" fill="#f6d1ef"/>
<path d="M369.7,313.1L373.4,306.4L377.1,313.1Z" fill="#bdeff6"/>
<path d="M315.8,254.3L319.5,247.7L323.2,254.3Z" fill="#6de26d"/>
<path d="M344.2,315.1L347.9,308.5L351.6,315.1Z" fill="#4fb34f"/>
<path d="M337.9,311.3L341.6,304.6L345.3,311.3Z" fill="#ce8b9f"/>
<path d="M325.8,253.4L329.5,246.7L333.2,253.4Z" fill="#4fb34f"/>
<path d="M342.8,304.8L346.5,298.2L350.2,304.8Z" fill="#27b38b"/>
<path d="M303.3,299.3L307,292.6L310.7,299.3Z" fill="#f66def"/>
<path d="M308.5,296.5L312.2,289.9L315.9,296.5Z" fill="#6de26d"/>
<path d="M330,329L333.7,322.3L337.4,329Z" fill="#f159f1"/>
<path d="M317.1,320.7L320.8,314L324.5,320.7Z" fill="#f66def"/>
<path d="M308.9,311.7L312.6,305L316.3,311.7Z" fill="#4fb34f"/>
<path d="M287.3,322.7L291,316L294.7,322.7Z" fill="#ce8b9f"/>
<path d="M272.2,185.8L275.9,179.1L279.6,185.8Z" fill="#ff4a3a"/>
<path d="M345.3,327.9L349,321.3L352.7,327.9Z" fill="#ba594f"/>
<path d="M347.7,286.2L351.4,279.6L355.1,286.2Z" fill="#726dce"/>
<path d="M318,302.5L321.7,295.8L325.4,302.5Z" fill="#b03bb0"/>
<path d="M357.7,316.1L361.4,309.5L365.1,316.1Z" fill="#40a8f0"/>
<path d="M354.3,276.5L358,269.9L361.7,276.5Z" fill="#4feff6"/>
<path d="M264.1,283.8L267.8,277.1L271.5,283.8Z" fill="#f6a66a"/>
<path d="M414.9,270.6L418.6,263.9L422.3,270.6Z" fill="#5050c0"/>
<path d="M284.7,265L288.4,258.3L292.1,265Z" fill="#f6a18b"/>
<path d="M268.2,256.5L271.9,249.9L275.6,256.5Z" fill="#ba8b59"/>
<path d="M395.1,306.2L398.8,299.5L402.5,306.2Z" fill="#6363f6"/>
<path d="M297.8,277.4L301.5,270.8L305.2,277.4Z" fill="#f64545"/>
<path d="M377.9,268.8L381.6,262.2L385.3,268.8Z" fill="#6de26d"/>
<path d="M331.2,310L334.9,303.4L338.6,310Z" fill="#f6bdf4"/>
<path d="M324.3,284.2L328,277.5L331.7,284.2Z" fill="#4cc74f"/>
<path d="M354.5,271.8L358.2,265.1L361.9,271.8Z" fill="#9fef9f"/>
<path d="M295,310L298.7,303.3L302.4,310Z" fill="#ef4fef"/>
<path d="M354.2,275.6L357.9,269L361.6,275.6Z" fill="#9fd3f6"/>
<path d="M275.4,198.7L279.1,192L282.8,198.7Z" fill="#ff4a3a"/>
<path d="M320.8,288.2L324.5,281.6L328.2,288.2Z" fill="#f663f6"/>
<path d="M321.6,315.7L325.3,309.1L329,315.7Z" fill="#9fd3f6"/>
<path d="M323.5,264.5L327.2,257.8L330.9,264.5Z" fill="#9fef9f"/>
<path d="M331.3,322.3L335,315.6L338.7,322.3Z" fill="#3be5bd"/>
<path d="M320.4,280.1L324.1,273.5L327.8,280.1Z" fill="#27b38b"/>
<path d="M333,248.8L336.7,242.2L340.4,248.8Z" fill="#4cc74f"/>
<path d="M293.7,294.4L297.4,287.8L301.1,294.4Z" fill="#8b9fdb"/>
<path d="M329.6,290.5L333.3,283.8L337,290.5Z" fill="#5ed65e"/>
<path d="M339,300.4L342.7,293.7L346.4,300.4Z" fill="#59bdf6"/>
<path d="M393.3,277.6L397,270.9L400.7,277.6Z" fill="#4f4ff6"/>
<path d="M412.2,279.3L415.9,272.7L419.6,279.3Z" fill="#5050c0"/>
<path d="M301.8,300.7L305.5,294.1L309.2,300.7Z" fill="#f66def"/>
<path d="M252,230.2L255.7,223.5L259.4,230.2Z" fill="#ba594f"/>
<path d="M259.3,300.1L263,293.4L266.7,300.1Z" fill="#ff9050"/>
<path d="M271.9,218.1L275.6,211.5L279.3,218.1Z" fill="#a46d45"/>
<path d="M401.7,270.6L405.4,263.9L409.1,270.6Z" fill="#5050c0"/>
<path d="M339.2,316L342.9,309.3L346.6,316Z" fill="#f6d1ef"/>
<path d="M417.2,301.6L420.9,295L424.6,301.6Z" fill="#726dce"/>
<path d="M400.8,291.6L404.5,285L408.2,291.6Z" fill="#40a8f0"/>
<path d="M265.3,199.3L269,192.6L272.7,199.3Z" fill="#ef594f"/>
<path d="M346.6,285.3L350.3,278.6L354,285.3Z" fill="#3be5bd"/>
<path d="M259.8,223.4L263.5,216.7L267.2,223.4Z" fill="#f6d177"/>
<path d="M340.6,303.1L344.3,296.4L348,303.1Z" fill="#f66def"/>
<path d="M286.8,318.8L290.5,312.2L294.2,318.8Z" fill="#ef594f"/>
<path d="M398.1,298.6L401.8,292L405.5,298.6Z" fill="#60a0f0"/>
<path d="M352.1,288.6L355.8,281.9L359.5,288.6Z" fill="#95b3ef"/>
<path d="M279,296.7L282.7,290L286.4,296.7Z" fill="#db3bef"/>
<path d="M325.1,282.1L328.8,275.5L332.5,282.1Z" fill="#f6a66a"/>
<path d="M274.8,306.2L278.5,299.5L282.2,306.2Z" fill="#f159f1"/>
<path d="M378.2,289.2L381.9,282.5L385.6,289.2Z" fill="#4cc74f"/>
<path d="M318,311.3L321.7,304.7L325.4,311.3Z" fill="#f48bef"/>
<path d="M392.5,285.1L396.2,278.5L399.9,285.1Z" fill="#4542ec"/>
<path d="M360.9,275.8L364.6,269.2L368.3,275.8Z" fill="#ef4fef"/>
<path d="M404.3,283.4L408,276.7L411.7,283.4Z" fill="#40a8f0"/>
<path d="M317.8,326.8L321.5,320.1L325.2,326.8Z" fill="#b03bb0"/>
<path d="M348.9,317L352.6,310.4L356.3,317Z" fill="#c07890"/>
<path d="M398.4,297.4L402.1,290.8L405.8,297.4Z" fill="#a9cef6"/>
<path d="M260.2,256.5L263.9,249.9L267.6,256.5Z" fill="#f6a66a"/>
<path d="M278.3,283.3L282,276.6L285.7,283.3Z" fill="#f6d177"/>
<path d="M286.6,309.3L290.3,302.6L294,309.3Z" fill="#ef4fef"/>
<path d="M317.4,337.8L321.1,331.2L324.8,337.8Z" fill="#c07090"/>
<path d="M323.8,301.1L327.5,294.5L331.2,301.1Z" fill="#f663f6"/>
<path d="M257.8,193.8L261.5,187.1L265.2,193.8Z" fill="#f64545"/>
<path d="M336.1,306.9L339.8,300.2L343.5,306.9Z" fill="#b03bb0"/>
<path d="M327.4,299.4L331.1,292.7L334.8,299.4Z" fill="#ef4fef"/>
<path d="M418,292.8L421.7,286.1L425.4,292.8Z" fill="#4542ec"/>
<path d="M377,272.2L380.7,265.5L384.4,272.2Z" fill="#819fdb"/>
<path d="M398.6,312.4L402.3,305.7L406,312.4Z" fill="#95b3ef"/>
<path d="M260.9,208.3L264.6,201.6L268.3,208.3Z" fill="#e24c4c"/>
<path d="M343.3,286.2L347,279.5L350.7,286.2Z" fill="#81e781"/>
<path d="M285.1,341L288.8,334.4L292.5,341Z" fill="#f040f0"/>
<path d="M391.7,298.8L395.4,292.1L399.1,298.8Z" fill="#a9cef6"/>
<path d="M373.2,281.7L376.9,275L380.6,281.7Z" fill="#3331ce"/>
<path d="M327.6,289.8L331.3,283.1L335,289.8Z" fill="#8b9fdb"/>
<path d="M340.5,303.3L344.2,296.6L347.9,303.3Z" fill="#bdeff6"/>
<path d="M296.4,337L300.1,330.4L303.8,337Z" fill="#f040f0"/>
<path d="M354.8,316.1L358.5,309.5L362.2,316.1Z" fill="#27b38b"/>
<path d="M345.7,312.9L349.4,306.2L353.1,312.9Z" fill="#95b3ef"/>
<path d="M296.8,346.3L300.5,339.6L304.2,346.3Z" fill="#db3bef"/>
<path d="M340.6,314.4L344.3,307.8L348,314.4Z" fill="#f66def"/>
<path d="M357.5,272.5L361.2,265.8L364.9,272.5Z" fill="#8b9fdb"/>
<path d="M281.9,286.1L285.6,279.4L289.3,286.1Z" fill="#f16d5b"/>
<path d="M338.6,306.9L342.3,300.2L346,306.9Z" fill="#81e781"/>
<path d="M335.7,290.8L339.4,284.1L343.1,290.8Z" fill="#f6bdf4"/>
<path d="M301.8,317.8L305.5,311.1L309.2,317.8Z" fill="#db3bef"/>
<path d="M335.7,250.1L339.4,243.4L343.1,250.1Z" fill="#f6a18b"/>
<path d="M316.6,297.4L320.3,290.8L324,297.4Z" fill="#f48bef"/>
<path d="M345.2,268.4L348.9,261.7L352.6,268.4Z" fill="#c93d3d"/>
<path d="M365.8,293.9L369.5,287.2L373.2,293.9Z" fill="#4feff6"/>
<path d="M318.2,345.8L321.9,339.2L325.6,345.8Z" fill="#40f0f0"/>
<path d="M396.1,306.4L399.8,299.8L403.5,306.4Z" fill="#95b3ef"/>
<path d="M290.3,256.8L294,250.1L297.7,256.8Z" fill="#f64545"/>
<path d="M360.3,331.9L364,325.2L367.7,331.9Z" fill="#c07890"/>
<path d="M327.6,320.7L331.3,314L335,320.7Z" fill="#f663f6"/>
<path d="M321.4,300.6L325.1,293.9L328.8,300.6Z" fill="#819fdb"/>
<path d="M263.4,204.4L267.1,197.7L270.8,204.4Z" fill="#a46d45"/>
<path d="M350.1,295.7L353.8,289L357.5,295.7Z" fill="#3331ce"/>
<path d="M389.2,283.7L392.9,277L396.6,283.7Z" fill="#bdeff6"/>
<path d="M290.9,278.1L294.6,271.4L298.3,278.1Z" fill="#ba8b59"/>
<path d="M271.9,273.1L275.6,266.4L279.3,273.1Z" fill="#f16d5b"/>
<path d="M353.5,296.3L357.2,289.6L360.9,296.3Z" fill="#ce8b9f"/>
<path d="M346.3,259.8L350,253.1L353.7,259.8Z" fill="#a46d45"/>
<path d="M324.3,302.9L328,296.2L331.7,302.9Z" fill="#4fecf6"/>
<path d="M252.5,189.4L256.2,182.7L259.9,189.4Z" fill="#f64545"/>
<path d="M385.8,312.6L389.5,306L393.2,312.6Z" fill="#80b0f8"/>
<path d="M332.9,305.7L336.6,299L340.3,305.7Z" fill="#4feff6"/>
<path d="M346.9,335.5L350.6,328.8L354.3,335.5Z" fill="#f48bef"/>
<path d="M316.6,282.4L320.3,275.8L324,282.4Z" fill="#81e781"/>
<path d="M302.3,326.5L306,319.9L309.7,326.5Z" fill="#4feff6"/>
<path d="M323.4,303.5L327.1,296.9L330.8,303.5Z" fill="#3be5bd"/>
<path d="M348.6,297.8L352.3,291.1L356,297.8Z" fill="#b331ba"/>
<path d="M238,216.9L241.7,210.3L245.4,216.9Z" fill="#ba594f"/>
<path d="M275.5,215.4L279.2,208.7L282.9,215.4Z" fill="#e24c4c"/>
<path d="M305,251.2L308.7,244.6L312.4,251.2Z" fill="#9fef9f"/>
<path d="M369.1,207.6L372.8,201L376.5,207.6Z" fill="#ff3030"/>
<path d="M324.2,289L327.9,282.4L331.6,289Z" fill="#ba594f"/>
<path d="M290.4,278.1L294.1,271.5L297.8,278.1Z" fill="#c93d3d"/>
<path d="M340.7,300.5L344.4,293.8L348.1,300.5Z" fill="#9fef9f"/>
<path d="M298.7,303.1L302.4,296.4L306.1,303.1Z" fill="#e24c4c"/>
<path d="M325.6,272.8L329.3,266.1L333,272.8Z" fill="#c93d3d"/>
<path d="M292.6,279.5L296.3,272.8L300,279.5Z" fill="#e24c4c"/>
<path d="M324.8,292.7L328.5,286L332.2,292.7Z" fill="#f6d1ef"/>
</g><g fill-opacity=".65">
<circle cx="331.6" cy="305.4" r="3.7" fill="#ffff00"/>
<circle cx="361.5" cy="266" r="3.7" fill="#008000"/>
<circle cx="341.9" cy="243.4" r="3.7" fill="#0000ff"/>
<circle cx="322.1" cy="251.3" r="3.7" fill="#00ff00"/>
<circle cx="435.3" cy="248" r="3.7" fill="#008000"/>
<circle cx="325.6" cy="276" r="3.7" fill="#ffff00"/>
<circle cx="349.5" cy="179.3" r="3.7" fill="#0000ff"/>
<circle cx="265.8" cy="274.1" r="3.7" fill="#ff00ff"/>
<circle cx="311.4" cy="186.1" r="3.7" fill="#0000ff"/>
<circle cx="367.6" cy="243" r="3.7" fill="#008000"/>
<circle cx="324.7" cy="252.8" r="3.7" fill="#ff0000"/>
<circle cx="379.4" cy="238.3" r="3.7" fill="#008000"/>
<circle cx="287.2" cy="351.7" r="3.7" fill="#00ffff"/>
<circle cx="358.5" cy="266.8" r="3.7" fill="#0000ff"/>
<circle cx="253.8" cy="232.7" r="3.7" fill="#000080"/>
<circle cx="341.8" cy="279.6" r="3.7" fill="#800000"/>
<circle cx="280.3" cy="256.9" r="3.7" fill="#000080"/>
<circle cx="360.3" cy="310.5" r="3.7" fill="#ff0000"/>
<circle cx="272" cy="268.4" r="3.7" fill="#00ff00"/>
<circle cx="294.4" cy="308.3" r="3.7" fill="#00ffff"/>
<circle cx="277.3" cy="235.7" r="3.7" fill="#000080"/>
<circle cx="299.3" cy="221.6" r="3.7" fill="#00ff00"/>
<circle cx="318.6" cy="290.2" r="3.7" fill="#ffff00"/>
<circle cx="362.4" cy="246.2" r="3.7" fill="#008000"/>
<circle cx="291.1" cy="264.6" r="3.7" fill="#000000"/>
<circle cx="284.9" cy="283.1" r="3.7" fill="#000000"/>
<circle cx="360.9" cy="253.6" r="3.7" fill="#ff0000"/>
<circle cx="258.6" cy="251.1" r="3.7" fill="#ff00ff"/>
<circle cx="303.1" cy="302.7" r="3.7" fill="#00ffff"/>
<circle cx="297.6" cy="279.4" r="3.7" fill="#000000"/>
<circle cx="388.3" cy="233.8" r="3.7" fill="#008000"/>
<circle cx="335.5" cy="283.3" r="3.7" fill="#ffff00"/>
<circle cx="377" cy="263.3" r="3.7" fill="#008000"/>
<circle cx="283.1" cy="258.7" r="3.7" fill="#000000"/>
<circle cx="356.4" cy="242.9" r="3.7" fill="#ff0000"/>
<circle cx="275.9" cy="213.4" r="3.7" fill="#000080"/>
<circle cx="377.3" cy="280.3" r="3.7" fill="#ff0000"/>
<circle cx="347.6" cy="260.6" r="3.7" fill="#008000"/>
<circle cx="320.5" cy="297.9" r="3.7" fill="#ffff00"/>
<circle cx="295.1" cy="268.3" r="3.7" fill="#000000"/>
<circle cx="304.7" cy="296.3" r="3.7" fill="#ffff00"/>
<circle cx="276.8" cy="266.2" r="3.7" fill="#ff00ff"/>
<circle cx="292.5" cy="305.7" r="3.7" fill="#00ffff"/>
<circle cx="280" cy="265.5" r="3.7" fill="#000000"/>
<circle cx="290.7" cy="221.8" r="3.7" fill="#0000ff"/>
<circle cx="262.2" cy="330.8" r="3.7" fill="#00ffff"/>
<circle cx="298.2" cy="216" r="3.7" fill="#0000ff"/>
<circle cx="307.6" cy="191.7" r="3.7" fill="#00ff00"/>
<circle cx="274.6" cy="225.8" r="3.7" fill="#00ff00"/>
<circle cx="299.3" cy="312" r="3.7" fill="#00ffff"/>
<circle cx="352" cy="244.6" r="3.7" fill="#00ff00"/>
<circle cx="258.2" cy="259.4" r="3.7" fill="#000080"/>
<circle cx="338.8" cy="224.6" r="3.7" fill="#0000ff"/>
<circle cx="361.1" cy="226.4" r="3.7" fill="#0000ff"/>
<circle cx="290" cy="221.1" r="3.7" fill="#000000"/>
<circle cx="279.5" cy="279.1" r="3.7" fill="#000080"/>
<circle cx="307.1" cy="265.4" r="3.7" fill="#0000ff"/>
<circle cx="319.3" cy="280.5" r="3.7" fill="#ffff00"/>
<circle cx="294.3" cy="256.8" r="3.7" fill="#000080"/>
<circle cx="302.5" cy="250.6" r="3.7" fill="#000000"/>
<circle cx="270.7" cy="255" r="3.7" fill="#00ff00"/>
<circle cx="305.5" cy="288" r="3.7" fill="#800000"/>
<circle cx="274.2" cy="268.3" r="3.7" fill="#000000"/>
<circle cx="361.3" cy="258.2" r="3.7" fill="#ff0000"/>
<circle cx="316.5" cy="263.3" r="3.7" fill="#000000"/>
<circle cx="305.4" cy="230.2" r="3.7" fill="#00ff00"/>
<circle cx="277.4" cy="252.3" r="3.7" fill="#000080"/>
<circle cx="274.3" cy="339.7" r="3.7" fill="#00ffff"/>
<circle cx="275.1" cy="267.5" r="3.7" fill="#000000"/>
<circle cx="268.1" cy="265.1" r="3.7" fill="#ff00ff"/>
<circle cx="385.9" cy="236.6" r="3.7" fill="#0000ff"/>
<circle cx="272.9" cy="279.1" r="3.7" fill="#00ffff"/>
<circle cx="385.3" cy="278.3" r="3.7" fill="#ff0000"/>
<circle cx="342.9" cy="198.9" r="3.7" fill="#0000ff"/>
<circle cx="306.3" cy="248.9" r="3.7" fill="#800000"/>
<circle cx="319.4" cy="352.5" r="3.7" fill="#00ffff"/>
<circle cx="233.6" cy="223.2" r="3.7" fill="#ff00ff"/>
<circle cx="378.1" cy="263.5" r="3.7" fill="#008000"/>
<circle cx="310.5" cy="249.8" r="3.7" fill="#00ff00"/>
<circle cx="303.2" cy="178.2" r="3.7" fill="#0000ff"/>
<circle cx="384.2" cy="245.5" r="3.7" fill="#008000"/>
<circle cx="401.1" cy="258.6" r="3.7" fill="#008000"/>
<circle cx="309" cy="338.9" r="3.7" fill="#00ffff"/>
<circle cx="340.2" cy="260.5" r="3.7" fill="#ff0000"/>
<circle cx="336.6" cy="210.4" r="3.7" fill="#0000ff"/>
<circle cx="336.3" cy="266.6" r="3.7" fill="#00ff00"/>
<circle cx="290.8" cy="314.6" r="3.7" fill="#800000"/>
<circle cx="320.1" cy="303.7" r="3.7" fill="#ffff00"/>
<circle cx="346.4" cy="226.4" r="3.7" fill="#0000ff"/>
<circle cx="274.4" cy="283" r="3.7" fill="#000000"/>
<circle cx="276.3" cy="303.7" r="3.7" fill="#000080"/>
<circle cx="240.4" cy="192.5" r="3.7" fill="#ff00ff"/>
<circle cx="326.2" cy="240.2" r="3.7" fill="#00ff00"/>
<circle cx="323.9" cy="299.5" r="3.7" fill="#ffff00"/>
<circle cx="290.6" cy="243" r="3.7" fill="#000000"/>
<circle cx="385.9" cy="241.3" r="3.7" fill="#008000"/>
<circle cx="238.1" cy="239.3" r="3.7" fill="#ff00ff"/>
<circle cx="338.4" cy="268.9" r="3.7" fill="#ffff00"/>
<circle cx="280.1" cy="254.5" r="3.7" fill="#000000"/>
<circle cx="267" cy="255" r="3.7" fill="#000000"/>
<circle cx="286.8" cy="285" r="3.7" fill="#000000"/>
<circle cx="256.2" cy="229.1" r="3.7" fill="#000080"/>
<circle cx="295.8" cy="195.6" r="3.7" fill="#0000ff"/>
<circle cx="296.5" cy="225.7" r="3.7" fill="#0000ff"/>
<circle cx="293.6" cy="271.6" r="3.7" fill="#000080"/>
<circle cx="317.7" cy="268.1" r="3.7" fill="#800000"/>
<circle cx="348.2" cy="172.1" r="3.7" fill="#0000ff"/>
<circle cx="386" cy="245.9" r="3.7" fill="#008000"/>
<circle cx="388" cy="236.5" r="3.7" fill="#008000"/>
<circle cx="291" cy="270.1" r="3.7" fill="#800000"/>
<circle cx="299.6" cy="313.2" r="3.7" fill="#00ffff"/>
<circle cx="346.5" cy="222.8" r="3.7" fill="#0000ff"/>
<circle cx="334.7" cy="221.6" r="3.7" fill="#0000ff"/>
<circle cx="314" cy="277.4" r="3.7" fill="#000000"/>
<circle cx="305.7" cy="197.3" r="3.7" fill="#0000ff"/>
<circle cx="241.5" cy="237.4" r="3.7" fill="#ff00ff"/>
<circle cx="277.3" cy="211.3" r="3.7" fill="#000080"/>
<circle cx="252.5" cy="235.8" r="3.7" fill="#ff00ff"/>
<circle cx="352.3" cy="271.4" r="3.7" fill="#00ff00"/>
<circle cx="376.7" cy="248.8" r="3.7" fill="#008000"/>
<circle cx="369.7" cy="219.4" r="3.7" fill="#008000"/>
<circle cx="380.7" cy="246.6" r="3.7" fill="#ff0000"/>
<circle cx="261.4" cy="216.6" r="3.7" fill="#000080"/>
<circle cx="315.2" cy="217.9" r="3.7" fill="#0000ff"/>
<circle cx="290.7" cy="286.7" r="3.7" fill="#000000"/>
<circle cx="329.5" cy="254.1" r="3.7" fill="#00ff00"/>
<circle cx="304.4" cy="283.6" r="3.7" fill="#000000"/>
<circle cx="346.3" cy="270.8" r="3.7" fill="#00ff00"/>
<circle cx="294.9" cy="270.9" r="3.7" fill="#000000"/>
<circle cx="345.9" cy="248.4" r="3.7" fill="#0000ff"/>
<circle cx="288.1" cy="232.7" r="3.7" fill="#00ff00"/>
<circle cx="326.4" cy="202.5" r="3.7" fill="#0000ff"/>
<circle cx="379.4" cy="274.3" r="3.7" fill="#008000"/>
<circle cx="315.8" cy="217.4" r="3.7" fill="#0000ff"/>
<circle cx="254.7" cy="244" r="3.7" fill="#000080"/>
<circle cx="298.4" cy="323.1" r="3.7" fill="#00ffff"/>
<circle cx="364.4" cy="243.4" r="3.7" fill="#ff0000"/>
<circle cx="301" cy="312.2" r="3.7" fill="#00ffff"/>
<circle cx="323" cy="255" r="3.7" fill="#800000"/>
<circle cx="280.7" cy="261.5" r="3.7" fill="#000000"/>
<circle cx="299.7" cy="272.6" r="3.7" fill="#800000"/>
<circle cx="256.4" cy="213.1" r="3.7" fill="#ff00ff"/>
<circle cx="415.7" cy="254.8" r="3.7" fill="#008000"/>
<circle cx="277.5" cy="328.4" r="3.7" fill="#00ffff"/>
<circle cx="290.3" cy="253.6" r="3.7" fill="#000000"/>
<circle cx="382" cy="226.9" r="3.7" fill="#008000"/>
<circle cx="281.2" cy="197.3" r="3.7" fill="#000080"/>
<circle cx="342.4" cy="301.7" r="3.7" fill="#00ff00"/>
<circle cx="279.7" cy="242.1" r="3.7" fill="#000000"/>
<circle cx="320.6" cy="304.1" r="3.7" fill="#ffff00"/>
<circle cx="327.5" cy="201.3" r="3.7" fill="#0000ff"/>
<circle cx="341" cy="209.8" r="3.7" fill="#0000ff"/>
<circle cx="285.6" cy="217.4" r="3.7" fill="#000080"/>
<circle cx="264.6" cy="179.6" r="3.7" fill="#000080"/>
<circle cx="253.3" cy="218.2" r="3.7" fill="#ff00ff"/>
<circle cx="268.2" cy="236.1" r="3.7" fill="#00ff00"/>
<circle cx="338.5" cy="213.3" r="3.7" fill="#0000ff"/>
<circle cx="331.3" cy="207.3" r="3.7" fill="#0000ff"/>
<circle cx="286.7" cy="297.5" r="3.7" fill="#000000"/>
<circle cx="371.5" cy="227.6" r="3.7" fill="#ff0000"/>
<circle cx="285.4" cy="271.2" r="3.7" fill="#000000"/>
<circle cx="291.4" cy="316.4" r="3.7" fill="#00ffff"/>
<circle cx="329.7" cy="249.6" r="3.7" fill="#00ff00"/>
<circle cx="286.1" cy="280.2" r="3.7" fill="#000000"/>
<circle cx="280.7" cy="178.8" r="3.7" fill="#0000ff"/>
<circle cx="302" cy="306.5" r="3.7" fill="#00ffff"/>
<circle cx="285.6" cy="318.6" r="3.7" fill="#00ffff"/>
<circle cx="408.7" cy="250.8" r="3.7" fill="#008000"/>
<circle cx="358.8" cy="198.9" r="3.7" fill="#0000ff"/>
<circle cx="291.6" cy="233.9" r="3.7" fill="#00ff00"/>
<circle cx="322.7" cy="193.5" r="3.7" fill="#0000ff"/>
<circle cx="333.3" cy="289.9" r="3.7" fill="#800000"/>
<circle cx="350.7" cy="221.6" r="3.7" fill="#0000ff"/>
<circle cx="284.8" cy="291.4" r="3.7" fill="#000000"/>
<circle cx="293.1" cy="265.5" r="3.7" fill="#000000"/>
<circle cx="379.4" cy="254.6" r="3.7" fill="#ff0000"/>
<circle cx="288.2" cy="255.7" r="3.7" fill="#000000"/>
<circle cx="301.4" cy="259.5" r="3.7" fill="#800000"/>
<circle cx="316.2" cy="225.4" r="3.7" fill="#0000ff"/>
<circle cx="365.8" cy="207.7" r="3.7" fill="#0000ff"/>
<circle cx="242.9" cy="237.4" r="3.7" fill="#ff00ff"/>
<circle cx="364.7" cy="268.3" r="3.7" fill="#ff0000"/>
<circle cx="291" cy="235.3" r="3.7" fill="#000000"/>
<circle cx="309.3" cy="262.7" r="3.7" fill="#000080"/>
<circle cx="269.2" cy="232.2" r="3.7" fill="#000080"/>
<circle cx="290.2" cy="254.6" r="3.7" fill="#000000"/>
<circle cx="381.8" cy="266.3" r="3.7" fill="#008000"/>
<circle cx="268.6" cy="244.3" r="3.7" fill="#000000"/>
<circle cx="268.7" cy="307.1" r="3.7" fill="#00ffff"/>
<circle cx="327.1" cy="276.3" r="3.7" fill="#ff0000"/>
<circle cx="345.6" cy="204.2" r="3.7" fill="#0000ff"/>
<circle cx="230.8" cy="211.4" r="3.7" fill="#000080"/>
<circle cx="398.6" cy="266.3" r="3.7" fill="#008000"/>
<circle cx="302.7" cy="260.1" r="3.7" fill="#800000"/>
<circle cx="308.8" cy="264.9" r="3.7" fill="#00ff00"/>
<circle cx="385.5" cy="234.9" r="3.7" fill="#008000"/>
<circle cx="283.8" cy="278.8" r="3.7" fill="#800000"/>
<circle cx="267.2" cy="246.8" r="3.7" fill="#000080"/>
<circle cx="299.7" cy="251.3" r="3.7" fill="#000080"/>
<circle cx="370.2" cy="253" r="3.7" fill="#ff0000"/>
<circle cx="265.6" cy="294.8" r="3.7" fill="#000000"/>
<circle cx="281.6" cy="175.5" r="3.7" fill="#0000ff"/>
<circle cx="367.4" cy="262.4" r="3.7" fill="#ff0000"/>
<circle cx="302.2" cy="266.5" r="3.7" fill="#000000"/>
<circle cx="383.5" cy="273.5" r="3.7" fill="#008000"/>
<circle cx="369.7" cy="257.5" r="3.7" fill="#008000"/>
<circle cx="345" cy="262.5" r="3.7" fill="#ff0000"/>
<circle cx="322.7" cy="183.7" r="3.7" fill="#0000ff"/>
<circle cx="272.7" cy="215" r="3.7" fill="#000080"/>
<circle cx="306.9" cy="273.5" r="3.7" fill="#800000"/>
<circle cx="298.7" cy="271.9" r="3.7" fill="#000000"/>
<circle cx="282.4" cy="266.8" r="3.7" fill="#000000"/>
<circle cx="375.7" cy="250.2" r="3.7" fill="#ff0000"/>
<circle cx="236.4" cy="195.7" r="3.7" fill="#ff00ff"/>
<circle cx="333.2" cy="237.6" r="3.7" fill="#ff0000"/>
<circle cx="318.7" cy="249.2" r="3.7" fill="#0000ff"/>
<circle cx="379.7" cy="255.3" r="3.7" fill="#0000ff"/>
<circle cx="295.4" cy="312.9" r="3.7" fill="#00ffff"/>
<circle cx="280.2" cy="213.9" r="3.7" fill="#000000"/>
<circle cx="351.7" cy="256.2" r="3.7" fill="#ff0000"/>
<circle cx="317.2" cy="272.6" r="3.7" fill="#800000"/>
<circle cx="308.7" cy="248.2" r="3.7" fill="#00ff00"/>
<circle cx="289.6" cy="257.3" r="3.7" fill="#000000"/>
<circle cx="315.7" cy="251.8" r="3.7" fill="#00ff00"/>
<circle cx="360.9" cy="198.7" r="3.7" fill="#0000ff"/>
<circle cx="292" cy="222.5" r="3.7" fill="#000000"/>
<circle cx="366.1" cy="229" r="3.7" fill="#ff0000"/>
<circle cx="284.8" cy="204.5" r="3.7" fill="#000080"/>
<circle cx="303.4" cy="258.1" r="3.7" fill="#0000ff"/>
<circle cx="286.3" cy="313.9" r="3.7" fill="#00ffff"/>
<circle cx="285.1" cy="253.9" r="3.7" fill="#000080"/>
<circle cx="369.3" cy="247.3" r="3.7" fill="#008000"/>
<circle cx="281.3" cy="222.1" r="3.7" fill="#000000"/>
<circle cx="249.1" cy="227.2" r="3.7" fill="#ff00ff"/>
<circle cx="287.7" cy="313.4" r="3.7" fill="#00ffff"/>
<circle cx="331.4" cy="207.3" r="3.7" fill="#0000ff"/>
<circle cx="359.2" cy="249.7" r="3.7" fill="#008000"/>
<circle cx="347.3" cy="261.1" r="3.7" fill="#ff0000"/>
<circle cx="312.1" cy="296.6" r="3.7" fill="#00ffff"/>
<circle cx="248.5" cy="228.6" r="3.7" fill="#ff00ff"/>
<circle cx="278.2" cy="238.4" r="3.7" fill="#000000"/>
<circle cx="296.7" cy="309.6" r="3.7" fill="#00ffff"/>
<circle cx="267.9" cy="206.9" r="3.7" fill="#000080"/>
<circle cx="290.8" cy="271.8" r="3.7" fill="#000000"/>
<circle cx="367.4" cy="228.4" r="3.7" fill="#00ff00"/>
<circle cx="362.8" cy="261.1" r="3.7" fill="#008000"/>
<circle cx="300.2" cy="250.1" r="3.7" fill="#000000"/>
<circle cx="275.6" cy="229.7" r="3.7" fill="#000080"/>
<circle cx="319.4" cy="232.5" r="3.7" fill="#00ff00"/>
<circle cx="350.1" cy="211.6" r="3.7" fill="#0000ff"/>
<circle cx="380.1" cy="248.3" r="3.7" fill="#00ff00"/>
<circle cx="396.6" cy="232.2" r="3.7" fill="#008000"/>
<circle cx="245.3" cy="213.4" r="3.7" fill="#000080"/>
<circle cx="255" cy="210.1" r="3.7" fill="#000080"/>
<circle cx="298.5" cy="237.1" r="3.7" fill="#000000"/>
<circle cx="330.7" cy="203.7" r="3.7" fill="#0000ff"/>
<circle cx="325.7" cy="211.9" r="3.7" fill="#0000ff"/>
<circle cx="289.3" cy="255.4" r="3.7" fill="#800000"/>
<circle cx="410.6" cy="252.3" r="3.7" fill="#ff0000"/>
<circle cx="248.5" cy="250.7" r="3.7" fill="#ff00ff"/>
<circle cx="326.9" cy="221.4" r="3.7" fill="#0000ff"/>
<circle cx="372.1" cy="239.1" r="3.7" fill="#00ff00"/>
<circle cx="265.9" cy="256.1" r="3.7" fill="#000080"/>
<circle cx="396.5" cy="267.2" r="3.7" fill="#008000"/>
<circle cx="346.9" cy="212.3" r="3.7" fill="#0000ff"/>
<circle cx="377.3" cy="245.7" r="3.7" fill="#008000"/>
<circle cx="287" cy="249.4" r="3.7" fill="#000000"/>
<circle cx="324.4" cy="231.4" r="3.7" fill="#0000ff"/>
<circle cx="325.6" cy="223.8" r="3.7" fill="#00ff00"/>
<circle cx="297.5" cy="323.5" r="3.7" fill="#00ffff"/>
<circle cx="301.9" cy="270.2" r="3.7" fill="#000000"/>
<circle cx="283.6" cy="253.2" r="3.7" fill="#800000"/>
<circle cx="296.2" cy="286" r="3.7" fill="#000000"/>
<circle cx="363.7" cy="295.3" r="3.7" fill="#ff0000"/>
<circle cx="277.7" cy="286.1" r="3.7" fill="#000000"/>
<circle cx="238.6" cy="242.3" r="3.7" fill="#ff00ff"/>
<circle cx="261.9" cy="254.6" r="3.7" fill="#000080"/>
<circle cx="343.9" cy="276" r="3.7" fill="#00ff00"/>
<circle cx="267.6" cy="205.2" r="3.7" fill="#00ff00"/>
<circle cx="288.9" cy="311.1" r="3.7" fill="#00ffff"/>
<circle cx="306.5" cy="277.1" r="3.7" fill="#000000"/>
<circle cx="340.6" cy="257" r="3.7" fill="#ff0000"/>
<circle cx="341.1" cy="293.9" r="3.7" fill="#ffff00"/>
<circle cx="283.8" cy="268.6" r="3.7" fill="#000080"/>
<circle cx="288" cy="328.3" r="3.7" fill="#00ffff"/>
<circle cx="287.3" cy="267" r="3.7" fill="#000000"/>
<circle cx="341.9" cy="221.2" r="3.7" fill="#00ff00"/>
<circle cx="284.8" cy="320.2" r="3.7" fill="#00ffff"/>
<circle cx="268.2" cy="302" r="3.7" fill="#00ffff"/>
<circle cx="311.4" cy="180.4" r="3.7" fill="#0000ff"/>
<circle cx="304.9" cy="285.4" r="3.7" fill="#0000ff"/>
<circle cx="408" cy="241.8" r="3.7" fill="#008000"/>
<circle cx="312" cy="277.4" r="3.7" fill="#ffff00"/>
<circle cx="399.4" cy="239.1" r="3.7" fill="#008000"/>
<circle cx="290.4" cy="249.9" r="3.7" fill="#000080"/>
<circle cx="357.8" cy="257.5" r="3.7" fill="#ff0000"/>
<circle cx="377.6" cy="217.3" r="3.7" fill="#008000"/>
<circle cx="250.1" cy="218.3" r="3.7" fill="#000080"/>
<circle cx="304.9" cy="277.9" r="3.7" fill="#ffff00"/>
<circle cx="310" cy="205" r="3.7" fill="#0000ff"/>
<circle cx="307.6" cy="221.4" r="3.7" fill="#00ff00"/>
<circle cx="299.2" cy="316.4" r="3.7" fill="#00ffff"/>
<circle cx="327" cy="269.8" r="3.7" fill="#800000"/>
<circle cx="270.2" cy="250.5" r="3.7" fill="#00ff00"/>
<circle cx="379.7" cy="227.1" r="3.7" fill="#008000"/>
<circle cx="400.1" cy="252.7" r="3.7" fill="#ff0000"/>
<circle cx="272.7" cy="328.4" r="3.7" fill="#00ffff"/>
<circle cx="380.4" cy="267.9" r="3.7" fill="#008000"/>
<circle cx="306.6" cy="277.7" r="3.7" fill="#800000"/>
<circle cx="323.9" cy="271.4" r="3.7" fill="#800000"/>
<circle cx="266" cy="258.8" r="3.7" fill="#000080"/>
<circle cx="347.6" cy="225.2" r="3.7" fill="#ff0000"/>
<circle cx="279.8" cy="242.7" r="3.7" fill="#00ff00"/>
<circle cx="308.3" cy="292.3" r="3.7" fill="#800000"/>
<circle cx="329.6" cy="279.6" r="3.7" fill="#ffff00"/>
<circle cx="333.9" cy="206.8" r="3.7" fill="#0000ff"/>
<circle cx="395.3" cy="227.8" r="3.7" fill="#008000"/>
<circle cx="401.2" cy="246.1" r="3.7" fill="#008000"/>
<circle cx="315.2" cy="260.9" r="3.7" fill="#00ff00"/>
<circle cx="394" cy="267.8" r="3.7" fill="#008000"/>
<circle cx="321" cy="268.8" r="3.7" fill="#0000ff"/>
<circle cx="330.2" cy="293.4" r="3.7" fill="#800000"/>
<circle cx="305.4" cy="252" r="3.7" fill="#000000"/>
<circle cx="386.1" cy="262.5" r="3.7" fill="#ff0000"/>
<circle cx="368.4" cy="251.2" r="3.7" fill="#00ff00"/>
<circle cx="289.5" cy="249.8" r="3.7" fill="#000000"/>
<circle cx="374.5" cy="256.2" r="3.7" fill="#008000"/>
<circle cx="320.7" cy="254" r="3.7" fill="#000000"/>
<circle cx="304" cy="247.3" r="3.7" fill="#000000"/>
<circle cx="232.1" cy="229.3" r="3.7" fill="#ff00ff"/>
<circle cx="358.6" cy="251.2" r="3.7" fill="#008000"/>
<circle cx="350" cy="244.1" r="3.7" fill="#ff0000"/>
<circle cx="341.1" cy="276.8" r="3.7" fill="#ff0000"/>
<circle cx="297.5" cy="248.3" r="3.7" fill="#000000"/>
<circle cx="334.2" cy="269.5" r="3.7" fill="#800000"/>
<circle cx="422.1" cy="233.1" r="3.7" fill="#008000"/>
<circle cx="318.3" cy="290.3" r="3.7" fill="#ffff00"/>
<circle cx="350.7" cy="247.2" r="3.7" fill="#0000ff"/>
<circle cx="339.6" cy="248.9" r="3.7" fill="#0000ff"/>
<circle cx="264.6" cy="276.2" r="3.7" fill="#202020"/>
<circle cx="327.8" cy="295.5" r="3.7" fill="#ffff00"/>
<circle cx="234.3" cy="210.8" r="3.7" fill="#000080"/>
<circle cx="295.3" cy="277.7" r="3.7" fill="#800000"/>
<circle cx="297.2" cy="299.6" r="3.7" fill="#00ffff"/>
<circle cx="301.2" cy="218.5" r="3.7" fill="#00ff00"/>
<circle cx="303.7" cy="299.9" r="3.7" fill="#00ffff"/>
<circle cx="265.4" cy="253.4" r="3.7" fill="#00ff00"/>
<circle cx="293.3" cy="236" r="3.7" fill="#00ff00"/>
<circle cx="374.4" cy="267.8" r="3.7" fill="#ff0000"/>
<circle cx="289.9" cy="284.3" r="3.7" fill="#000000"/>
<circle cx="347" cy="269.8" r="3.7" fill="#ff0000"/>
<circle cx="348.8" cy="207.6" r="3.7" fill="#008000"/>
<circle cx="340.5" cy="234" r="3.7" fill="#00ff00"/>
<circle cx="323.5" cy="236.3" r="3.7" fill="#00ff00"/>
<circle cx="235.9" cy="206.1" r="3.7" fill="#ff00ff"/>
<circle cx="376.3" cy="250.5" r="3.7" fill="#008000"/>
<circle cx="258.4" cy="215" r="3.7" fill="#000080"/>
<circle cx="267" cy="198.9" r="3.7" fill="#000080"/>
<circle cx="307.9" cy="232.6" r="3.7" fill="#0000ff"/>
<circle cx="373.8" cy="244" r="3.7" fill="#ff0000"/>
<circle cx="231.6" cy="241.6" r="3.7" fill="#ff00ff"/>
<circle cx="318.7" cy="198.9" r="3.7" fill="#0000ff"/>
<circle cx="362.1" cy="264.1" r="3.7" fill="#ff0000"/>
<circle cx="300.3" cy="277.5" r="3.7" fill="#000080"/>
<circle cx="296.7" cy="287.4" r="3.7" fill="#000000"/>
<circle cx="405.8" cy="248.7" r="3.7" fill="#0000ff"/>
<circle cx="238.8" cy="212.6" r="3.7" fill="#000080"/>
<circle cx="364.3" cy="179.7" r="3.7" fill="#0000ff"/>
<circle cx="330.8" cy="229" r="3.7" fill="#00ff00"/>
<circle cx="385.1" cy="261.9" r="3.7" fill="#ff0000"/>
<circle cx="303.3" cy="298" r="3.7" fill="#ffff00"/>
<circle cx="324.3" cy="198.3" r="3.7" fill="#0000ff"/>
<circle cx="286.3" cy="264.2" r="3.7" fill="#000000"/>
<circle cx="267.9" cy="196.5" r="3.7" fill="#00ff00"/>
<circle cx="314.7" cy="199.2" r="3.7" fill="#0000ff"/>
<circle cx="320.6" cy="262.2" r="3.7" fill="#800000"/>
<circle cx="281.8" cy="244.6" r="3.7" fill="#000000"/>
<circle cx="340.6" cy="206.4" r="3.7" fill="#0000ff"/>
<circle cx="355" cy="233.9" r="3.7" fill="#0000ff"/>
<circle cx="301.9" cy="265.1" r="3.7" fill="#800000"/>
<circle cx="293.7" cy="270" r="3.7" fill="#800000"/>
<circle cx="298.9" cy="324" r="3.7" fill="#00ffff"/>
<circle cx="296.8" cy="300.3" r="3.7" fill="#00ffff"/>
<circle cx="301.3" cy="231.2" r="3.7" fill="#00ff00"/>
<circle cx="314.3" cy="307.3" r="3.7" fill="#000000"/>
<circle cx="348.2" cy="211.4" r="3.7" fill="#0000ff"/>
<circle cx="331.9" cy="214.9" r="3.7" fill="#0000ff"/>
<circle cx="351.7" cy="177.4" r="3.7" fill="#0000ff"/>
<circle cx="339" cy="255.9" r="3.7" fill="#00ff00"/>
<circle cx="238.8" cy="231" r="3.7" fill="#ff00ff"/>
<circle cx="306.4" cy="295.9" r="3.7" fill="#ffff00"/>
<circle cx="309" cy="194.9" r="3.7" fill="#0000ff"/>
<circle cx="250.8" cy="212.5" r="3.7" fill="#000080"/>
<circle cx="298.2" cy="260.3" r="3.7" fill="#800000"/>
<circle cx="387.9" cy="241.2" r="3.7" fill="#008000"/>
<circle cx="289.6" cy="317.7" r="3.7" fill="#00ffff"/>
<circle cx="393.1" cy="255" r="3.7" fill="#008000"/>
<circle cx="297.6" cy="311.8" r="3.7" fill="#00ffff"/>
<circle cx="278.3" cy="234.4" r="3.7" fill="#000000"/>
<circle cx="294.5" cy="248" r="3.7" fill="#00ff00"/>
<circle cx="399" cy="239.8" r="3.7" fill="#008000"/>
<circle cx="334.5" cy="233.8" r="3.7" fill="#0000ff"/>
<circle cx="291" cy="275.7" r="3.7" fill="#00ff00"/>
<circle cx="311.6" cy="220.2" r="3.7" fill="#00ff00"/>
<circle cx="289.3" cy="316" r="3.7" fill="#00ffff"/>
<circle cx="225.1" cy="194.1" r="3.7" fill="#ff00ff"/>
<circle cx="291.7" cy="321.2" r="3.7" fill="#00ffff"/>
<circle cx="282.1" cy="234.7" r="3.7" fill="#000000"/>
<circle cx="303.3" cy="367.8" r="3.7" fill="#00ffff"/>
<circle cx="336.1" cy="262.4" r="3.7" fill="#ff0000"/>
<circle cx="247.7" cy="201.3" r="3.7" fill="#ff00ff"/>
<circle cx="291.4" cy="275.9" r="3.7" fill="#000000"/>
<circle cx="298.1" cy="322.3" r="3.7" fill="#00ffff"/>
<circle cx="364.5" cy="239.8" r="3.7" fill="#008000"/>
<circle cx="280.4" cy="249.5" r="3.7" fill="#00ff00"/>
<circle cx="369.9" cy="228.4" r="3.7" fill="#008000"/>
<circle cx="270.2" cy="285.6" r="3.7" fill="#000000"/>
<circle cx="269.5" cy="185.3" r="3.7" fill="#ff00ff"/>
<circle cx="365.7" cy="258.8" r="3.7" fill="#008000"/>
<circle cx="287.2" cy="291.8" r="3.7" fill="#800000"/>
<circle cx="292.7" cy="293.1" r="3.7" fill="#ffff00"/>
<circle cx="336.7" cy="279.1" r="3.7" fill="#800000"/>
<circle cx="361.8" cy="248.8" r="3.7" fill="#ff0000"/>
<circle cx="230" cy="180.4" r="3.7" fill="#ff00ff"/>
<circle cx="306" cy="212.9" r="3.7" fill="#0000ff"/>
<circle cx="390.3" cy="237.9" r="3.7" fill="#008000"/>
<circle cx="335.8" cy="260.3" r="3.7" fill="#0000ff"/>
<circle cx="282.2" cy="259" r="3.7" fill="#000000"/>
<circle cx="390.2" cy="255.5" r="3.7" fill="#008000"/>
<circle cx="309.2" cy="232.3" r="3.7" fill="#00ff00"/>
<circle cx="297.3" cy="307.9" r="3.7" fill="#000000"/>
<circle cx="264.1" cy="254.2" r="3.7" fill="#000080"/>
<circle cx="312.3" cy="187.6" r="3.7" fill="#0000ff"/>
<circle cx="284.8" cy="192.5" r="3.7" fill="#00ff00"/>
<circle cx="276.2" cy="216.2" r="3.7" fill="#000080"/>
<circle cx="289.8" cy="306" r="3.7" fill="#000000"/>
<circle cx="292.9" cy="294.6" r="3.7" fill="#00ffff"/>
<circle cx="244.9" cy="274.6" r="3.7" fill="#ff00ff"/>
<circle cx="258.2" cy="201.3" r="3.7" fill="#000080"/>
<circle cx="370.9" cy="251.4" r="3.7" fill="#008000"/>
<circle cx="232.5" cy="211.7" r="3.7" fill="#000080"/>
<circle cx="298.4" cy="269.4" r="3.7" fill="#800000"/>
<circle cx="295.6" cy="240.2" r="3.7" fill="#000080"/>
<circle cx="296.5" cy="327.9" r="3.7" fill="#00ffff"/>
<circle cx="296.4" cy="219.2" r="3.7" fill="#000000"/>
<circle cx="243.6" cy="213.8" r="3.7" fill="#000080"/>
<circle cx="378.6" cy="267.3" r="3.7" fill="#008000"/>
<circle cx="245.9" cy="211.3" r="3.7" fill="#000080"/>
<circle cx="328.9" cy="279.8" r="3.7" fill="#ffff00"/>
<circle cx="291.2" cy="248.5" r="3.7" fill="#000080"/>
<circle cx="247.3" cy="212.5" r="3.7" fill="#000080"/>
<circle cx="321" cy="299.4" r="3.7" fill="#ffff00"/>
<circle cx="317.2" cy="230" r="3.7" fill="#00ff00"/>
<circle cx="390" cy="284.5" r="3.7" fill="#008000"/>
<circle cx="408.5" cy="228.7" r="3.7" fill="#ff0000"/>
<circle cx="299.5" cy="174.2" r="3.7" fill="#0000ff"/>
<circle cx="353.2" cy="267.9" r="3.7" fill="#008000"/>
<circle cx="346.8" cy="245.3" r="3.7" fill="#00ff00"/>
<circle cx="262.2" cy="218.8" r="3.7" fill="#ff00ff"/>
<circle cx="290.4" cy="219.8" r="3.7" fill="#000080"/>
<circle cx="305" cy="189.5" r="3.7" fill="#00ff00"/>
<circle cx="291.2" cy="285.1" r="3.7" fill="#ffff00"/>
<circle cx="311.3" cy="226.3" r="3.7" fill="#0000ff"/>
<circle cx="330.3" cy="252.8" r="3.7" fill="#00ff00"/>
<circle cx="345.2" cy="233.7" r="3.7" fill="#00ff00"/>
<circle cx="316.4" cy="302" r="3.7" fill="#ffff00"/>
<circle cx="370.3" cy="272.5" r="3.7" fill="#008000"/>
<circle cx="305.5" cy="281.6" r="3.7" fill="#000080"/>
<circle cx="271.7" cy="297" r="3.7" fill="#000000"/>
<circle cx="301.8" cy="190.2" r="3.7" fill="#0000ff"/>
<circle cx="242.4" cy="222.4" r="3.7" fill="#000080"/>
<circle cx="345.1" cy="253.3" r="3.7" fill="#ff0000"/>
<circle cx="249.1" cy="192.7" r="3.7" fill="#ff00ff"/>
<circle cx="392.2" cy="226.9" r="3.7" fill="#ff0000"/>
<circle cx="335.8" cy="215.6" r="3.7" fill="#0000ff"/>
<circle cx="291.3" cy="309.9" r="3.7" fill="#00ffff"/>
<circle cx="287.3" cy="271" r="3.7" fill="#000000"/>
<circle cx="298.5" cy="325.3" r="3.7" fill="#00ffff"/>
<circle cx="252.3" cy="239.9" r="3.7" fill="#ff00ff"/>
<circle cx="344.4" cy="253.7" r="3.7" fill="#00ff00"/>
<circle cx="329.4" cy="223.1" r="3.7" fill="#0000ff"/>
<circle cx="252" cy="209.4" r="3.7" fill="#000080"/>
<circle cx="318.5" cy="268.6" r="3.7" fill="#800000"/>
<circle cx="270" cy="266.2" r="3.7" fill="#000000"/>
<circle cx="290.3" cy="318" r="3.7" fill="#00ffff"/>
<circle cx="318.4" cy="313.7" r="3.7" fill="#ffff00"/>
<circle cx="293.7" cy="265.3" r="3.7" fill="#000000"/>
<circle cx="299.5" cy="253" r="3.7" fill="#000000"/>
<circle cx="413.3" cy="211.2" r="3.7" fill="#008000"/>
<circle cx="403.3" cy="296.7" r="3.7" fill="#008000"/>
<circle cx="303.2" cy="254.2" r="3.7" fill="#000080"/>
<circle cx="319.7" cy="237.8" r="3.7" fill="#00ff00"/>
<circle cx="299.5" cy="263" r="3.7" fill="#000000"/>
<circle cx="292.2" cy="206.6" r="3.7" fill="#000000"/>
<circle cx="310.5" cy="276.2" r="3.7" fill="#800000"/>
<circle cx="342.8" cy="261.3" r="3.7" fill="#008000"/>
<circle cx="267.9" cy="224.2" r="3.7" fill="#000080"/>
</g>
<line x1="225.2" y1="368.4" x2="448.2" y2="368.4" stroke="#262626" stroke-width="1.3"/>
<line x1="225.2" y1="368.4" x2="225.2" y2="171.8" stroke="#262626" stroke-width="1.3"/>
<line x1="270.2" y1="368.4" x2="270.2" y2="365.9" stroke="#262626" stroke-width="1.3"/>
<line x1="321" y1="368.4" x2="321" y2="365.9" stroke="#262626" stroke-width="1.3"/>
<line x1="371.8" y1="368.4" x2="371.8" y2="365.9" stroke="#262626" stroke-width="1.3"/>
<line x1="422.6" y1="368.4" x2="422.6" y2="365.9" stroke="#262626" stroke-width="1.3"/>
<line x1="225.2" y1="202.8" x2="227.7" y2="202.8" stroke="#262626" stroke-width="1.3"/>
<line x1="225.2" y1="236" x2="227.7" y2="236" stroke="#262626" stroke-width="1.3"/>
<line x1="225.2" y1="269.1" x2="227.7" y2="269.1" stroke="#262626" stroke-width="1.3"/>
<line x1="225.2" y1="302.2" x2="227.7" y2="302.2" stroke="#262626" stroke-width="1.3"/>
<line x1="225.2" y1="335.4" x2="227.7" y2="335.4" stroke="#262626" stroke-width="1.3"/>
<line x1="225.2" y1="368.6" x2="227.7" y2="368.6" stroke="#262626" stroke-width="1.3"/>
<line x1="43.7" y1="612.5" x2="142" y2="612.5" stroke="#262626" stroke-width="1.3"/>
<line x1="43.7" y1="612.5" x2="43.7" y2="406.7" stroke="#262626" stroke-width="1.3"/>
<line x1="43.7" y1="612.5" x2="43.7" y2="610" stroke="#262626" stroke-width="1.3"/>
<line x1="109.4" y1="612.5" x2="109.4" y2="610" stroke="#262626" stroke-width="1.3"/>
<line x1="43.7" y1="612.9" x2="46.2" y2="612.9" stroke="#262626" stroke-width="1.3"/>
<text x="40.2" y="616.1" text-anchor="end">0</text>
<line x1="43.7" y1="592.4" x2="46.2" y2="592.4" stroke="#262626" stroke-width="1.3"/>
<text x="40.2" y="595.6" text-anchor="end">50</text>
<line x1="43.7" y1="571.8" x2="46.2" y2="571.8" stroke="#262626" stroke-width="1.3"/>
<text x="40.2" y="575" text-anchor="end">100</text>
<line x1="43.7" y1="551.2" x2="46.2" y2="551.2" stroke="#262626" stroke-width="1.3"/>
<text x="40.2" y="554.5" text-anchor="end">150</text>
<line x1="43.7" y1="530.7" x2="46.2" y2="530.7" stroke="#262626" stroke-width="1.3"/>
<text x="40.2" y="533.9" text-anchor="end">200</text>
<line x1="43.7" y1="510.1" x2="46.2" y2="510.1" stroke="#262626" stroke-width="1.3"/>
<text x="40.2" y="513.4" text-anchor="end">250</text>
<line x1="43.7" y1="489.6" x2="46.2" y2="489.6" stroke="#262626" stroke-width="1.3"/>
<text x="40.2" y="492.8" text-anchor="end">300</text>
<line x1="43.7" y1="469" x2="46.2" y2="469" stroke="#262626" stroke-width="1.3"/>
<text x="40.2" y="472.2" text-anchor="end">350</text>
<line x1="43.7" y1="448.5" x2="46.2" y2="448.5" stroke="#262626" stroke-width="1.3"/>
<text x="40.2" y="451.7" text-anchor="end">400</text>
<line x1="43.7" y1="427.9" x2="46.2" y2="427.9" stroke="#262626" stroke-width="1.3"/>
<text x="40.2" y="431.1" text-anchor="end">450</text>
<line x1="43.7" y1="407.4" x2="46.2" y2="407.4" stroke="#262626" stroke-width="1.3"/>
<text x="40.2" y="410.6" text-anchor="end">500</text>
<text x="43.1" y="622.6" text-anchor="middle">-0.5</text>
<text x="72.9" y="622.6" text-anchor="middle">0</text>
<text x="108" y="622.6" text-anchor="middle">0.5</text>
<text x="138.3" y="622.6" text-anchor="middle">1</text>
<line x1="142" y1="612.5" x2="142" y2="609.5" stroke="#262626" stroke-width="1.3"/>
<text x="91.7" y="633.2" text-anchor="middle">Time [s]</text>
<text x="7.2" y="506.5" text-anchor="middle" transform="rotate(-90 7.2 506.5)">Cell 28</text>
<text x="21.3" y="517.5" text-anchor="middle" transform="rotate(-90 21.3 517.5)">Trial Number (Sorted by Categories)</text>
<line x1="149.2" y1="612.7" x2="237.9" y2="612.7" stroke="#262626" stroke-width="1.3"/>
<line x1="149.2" y1="612.7" x2="149.2" y2="406.7" stroke="#262626" stroke-width="1.3"/>
<line x1="158.8" y1="612.7" x2="158.8" y2="610.2" stroke="#262626" stroke-width="1.3"/>
<text x="158.8" y="622.8" text-anchor="middle">0</text>
<line x1="183.7" y1="612.7" x2="183.7" y2="610.2" stroke="#262626" stroke-width="1.3"/>
<text x="183.7" y="622.8" text-anchor="middle">2</text>
<line x1="208.6" y1="612.7" x2="208.6" y2="610.2" stroke="#262626" stroke-width="1.3"/>
<text x="208.6" y="622.8" text-anchor="middle">4</text>
<line x1="233.6" y1="612.7" x2="233.6" y2="610.2" stroke="#262626" stroke-width="1.3"/>
<text x="233.6" y="622.8" text-anchor="middle">6</text>
<text x="191.5" y="633.8" text-anchor="middle" font-size="9">Firing Rate [Hz]</text>
<line x1="271.7" y1="613" x2="450.4" y2="613" stroke="#262626" stroke-width="1.3"/>
<line x1="271.7" y1="613" x2="271.7" y2="407.2" stroke="#262626" stroke-width="1.3"/>
<line x1="309.3" y1="613" x2="309.3" y2="610.5" stroke="#262626" stroke-width="1.3"/>
<text x="309.3" y="622.2" text-anchor="middle">-20</text>
<line x1="351.6" y1="613" x2="351.6" y2="610.5" stroke="#262626" stroke-width="1.3"/>
<text x="351.6" y="622.2" text-anchor="middle">0</text>
<line x1="393.9" y1="613" x2="393.9" y2="610.5" stroke="#262626" stroke-width="1.3"/>
<text x="393.9" y="622.2" text-anchor="middle">20</text>
<line x1="436.2" y1="613" x2="436.2" y2="610.5" stroke="#262626" stroke-width="1.3"/>
<text x="436.2" y="622.2" text-anchor="middle">40</text>
<line x1="271.7" y1="411" x2="274.2" y2="411" stroke="#262626" stroke-width="1.3"/>
<text x="268.2" y="414.2" text-anchor="end">30</text>
<line x1="271.7" y1="444.6" x2="274.2" y2="444.6" stroke="#262626" stroke-width="1.3"/>
<text x="268.2" y="447.8" text-anchor="end">20</text>
<line x1="271.7" y1="478.2" x2="274.2" y2="478.2" stroke="#262626" stroke-width="1.3"/>
<text x="268.2" y="481.4" text-anchor="end">10</text>
<line x1="271.7" y1="511.8" x2="274.2" y2="511.8" stroke="#262626" stroke-width="1.3"/>
<text x="268.2" y="515" text-anchor="end">0</text>
<line x1="271.7" y1="545.4" x2="274.2" y2="545.4" stroke="#262626" stroke-width="1.3"/>
<text x="268.2" y="548.6" text-anchor="end">-10</text>
<line x1="271.7" y1="579" x2="274.2" y2="579" stroke="#262626" stroke-width="1.3"/>
<text x="268.2" y="582.2" text-anchor="end">-20</text>
<line x1="271.7" y1="612.6" x2="274.2" y2="612.6" stroke="#262626" stroke-width="1.3"/>
<text x="268.2" y="615.8" text-anchor="end">-30</text>
<text x="360.6" y="633.6" text-anchor="middle">VTC Neural Feature Space Dimension 1</text>
<text x="249.7" y="509.6" text-anchor="middle" transform="rotate(-90 249.7 509.6)">VTC Neural Feature Space Dimension 2</text>
<line x1="76.6" y1="407" x2="76.6" y2="612" stroke="#aaaaaa" stroke-width="1.3"/>
<rect x="49.2" y="412.7" width="1.6" height="1.6" fill="#000000"/>
<rect x="50.2" y="412.7" width="1.6" height="1.6" fill="#000000"/>
<rect x="53.5" y="413.5" width="1.6" height="1.6" fill="#000000"/>
<rect x="65" y="410.2" width="1.6" height="1.6" fill="#000000"/>
<rect x="67.3" y="421" width="1.6" height="1.6" fill="#000000"/>
<rect x="87.6" y="407.2" width="1.6" height="1.6" fill="#000000"/>
<rect x="103.1" y="423.3" width="1.6" height="1.6" fill="#000000"/>
<rect x="126.6" y="414.7" width="1.6" height="1.6" fill="#000000"/>
<rect x="129.5" y="419.6" width="1.6" height="1.6" fill="#000000"/>
<rect x="135" y="414.7" width="1.6" height="1.6" fill="#000000"/>
<rect x="64" y="428.3" width="1.6" height="1.6" fill="#0000ff"/>
<rect x="67.1" y="434.5" width="1.6" height="1.6" fill="#0000ff"/>
<rect x="66.8" y="436.4" width="1.6" height="1.6" fill="#0000ff"/>
<rect x="74.8" y="434.9" width="1.6" height="1.6" fill="#0000ff"/>
<rect x="78.7" y="435.7" width="1.6" height="1.6" fill="#0000ff"/>
<rect x="77.2" y="438.3" width="1.6" height="1.6" fill="#0000ff"/>
<rect x="84.9" y="437.8" width="1.6" height="1.6" fill="#0000ff"/>
<rect x="100.8" y="429.1" width="1.6" height="1.6" fill="#0000ff"/>
<rect x="123.2" y="432.3" width="1.6" height="1.6" fill="#0000ff"/>
<rect x="95.9" y="441.5" width="1.6" height="1.6" fill="#0000ff"/>
<rect x="97.9" y="441.5" width="1.6" height="1.6" fill="#0000ff"/>
<rect x="107.1" y="442.7" width="1.6" height="1.6" fill="#0000ff"/>
<rect x="82.1" y="448.6" width="1.6" height="1.6" fill="#0000ff"/>
<rect x="116.1" y="447.6" width="1.6" height="1.6" fill="#0000ff"/>
<rect x="74.5" y="450.1" width="1.6" height="1.6" fill="#0000ff"/>
<rect x="53.8" y="451.8" width="1.6" height="1.6" fill="#00008b"/>
<rect x="50.2" y="455.1" width="1.6" height="1.6" fill="#00008b"/>
<rect x="61.9" y="455.9" width="1.6" height="1.6" fill="#00008b"/>
<rect x="52.4" y="466.2" width="1.6" height="1.6" fill="#00008b"/>
<rect x="85.8" y="458.7" width="1.6" height="1.6" fill="#00008b"/>
<rect x="98.4" y="457.9" width="1.6" height="1.6" fill="#00008b"/>
<rect x="102" y="465.7" width="1.6" height="1.6" fill="#00008b"/>
<rect x="137.3" y="458.2" width="1.6" height="1.6" fill="#00008b"/>
<rect x="139.1" y="457.4" width="1.6" height="1.6" fill="#00008b"/>
<rect x="49.6" y="477.7" width="1.6" height="1.6" fill="#00ff00"/>
<rect x="47.3" y="484.3" width="1.6" height="1.6" fill="#00ff00"/>
<rect x="80.3" y="470.2" width="1.6" height="1.6" fill="#00ff00"/>
<rect x="81.8" y="470" width="1.6" height="1.6" fill="#00ff00"/>
<rect x="86" y="469.9" width="1.6" height="1.6" fill="#00ff00"/>
<rect x="99.4" y="470.6" width="1.6" height="1.6" fill="#00ff00"/>
<rect x="108.5" y="468.3" width="1.6" height="1.6" fill="#00ff00"/>
<rect x="131.5" y="470.6" width="1.6" height="1.6" fill="#00ff00"/>
<rect x="118.9" y="474.3" width="1.6" height="1.6" fill="#00ff00"/>
<rect x="135.8" y="476.9" width="1.6" height="1.6" fill="#00ff00"/>
<rect x="133.9" y="483.2" width="1.6" height="1.6" fill="#00ff00"/>
<rect x="83.7" y="484.3" width="1.6" height="1.6" fill="#00ff00"/>
<rect x="84.1" y="474.8" width="1.6" height="1.6" fill="#00ff00"/>
<rect x="114.3" y="484.3" width="1.6" height="1.6" fill="#00ff00"/>
<rect x="76.4" y="478.1" width="1.6" height="1.6" fill="#00ff00"/>
<rect x="95.9" y="495" width="1.6" height="1.6" fill="#008000"/>
<rect x="95.6" y="498.1" width="1.6" height="1.6" fill="#008000"/>
<rect x="102" y="494.2" width="1.6" height="1.6" fill="#008000"/>
<rect x="111.2" y="498.5" width="1.6" height="1.6" fill="#008000"/>
<rect x="120.4" y="496.5" width="1.6" height="1.6" fill="#008000"/>
<rect x="80.3" y="499.1" width="1.6" height="1.6" fill="#008000"/>
<rect x="46.1" y="502.7" width="1.6" height="1.6" fill="#008000"/>
<rect x="76.4" y="502.7" width="1.6" height="1.6" fill="#008000"/>
<rect x="103.6" y="501.6" width="1.6" height="1.6" fill="#008000"/>
<rect x="108.2" y="503.1" width="1.6" height="1.6" fill="#008000"/>
<rect x="113.5" y="501.6" width="1.6" height="1.6" fill="#008000"/>
<rect x="115.8" y="502.2" width="1.6" height="1.6" fill="#008000"/>
<rect x="102" y="505" width="1.6" height="1.6" fill="#008000"/>
<rect x="140.4" y="501.9" width="1.6" height="1.6" fill="#008000"/>
<rect x="133" y="492.4" width="1.6" height="1.6" fill="#008000"/>
<rect x="108" y="490.2" width="1.6" height="1.6" fill="#008000"/>
<rect x="122.5" y="491.2" width="1.6" height="1.6" fill="#008000"/>
<rect x="91.5" y="487.8" width="1.6" height="1.6" fill="#008000"/>
<rect x="94.2" y="490.7" width="1.6" height="1.6" fill="#008000"/>
<rect x="111.3" y="490.4" width="1.6" height="1.6" fill="#008000"/>
<rect x="105" y="490.4" width="1.6" height="1.6" fill="#008000"/>
<rect x="116.7" y="488.6" width="1.6" height="1.6" fill="#008000"/>
<rect x="97" y="491.4" width="1.6" height="1.6" fill="#008000"/>
<rect x="99.9" y="492" width="1.6" height="1.6" fill="#008000"/>
<rect x="124.6" y="491.8" width="1.6" height="1.6" fill="#008000"/>
<rect x="112.6" y="490.9" width="1.6" height="1.6" fill="#008000"/>
<rect x="118.2" y="489.4" width="1.6" height="1.6" fill="#008000"/>
<rect x="95" y="490.2" width="1.6" height="1.6" fill="#008000"/>
<rect x="117.5" y="492.7" width="1.6" height="1.6" fill="#008000"/>
<rect x="106.5" y="491.6" width="1.6" height="1.6" fill="#008000"/>
<rect x="98.9" y="491.3" width="1.6" height="1.6" fill="#008000"/>
<rect x="101.4" y="491" width="1.6" height="1.6" fill="#008000"/>
<rect x="123.2" y="489.9" width="1.6" height="1.6" fill="#008000"/>
<rect x="123" y="492" width="1.6" height="1.6" fill="#008000"/>
<rect x="109" y="491.2" width="1.6" height="1.6" fill="#008000"/>
<rect x="92.2" y="488" width="1.6" height="1.6" fill="#008000"/>
<rect x="95.4" y="492.1" width="1.6" height="1.6" fill="#008000"/>
<rect x="112.8" y="492" width="1.6" height="1.6" fill="#008000"/>
<rect x="123.6" y="492" width="1.6" height="1.6" fill="#008000"/>
<rect x="98.6" y="491.3" width="1.6" height="1.6" fill="#008000"/>
<rect x="110.8" y="490.7" width="1.6" height="1.6" fill="#008000"/>
<rect x="91.9" y="492.1" width="1.6" height="1.6" fill="#008000"/>
<rect x="124.5" y="491.5" width="1.6" height="1.6" fill="#008000"/>
<rect x="106.4" y="489.1" width="1.6" height="1.6" fill="#008000"/>
<rect x="94.7" y="491.9" width="1.6" height="1.6" fill="#008000"/>
<rect x="112.2" y="491.6" width="1.6" height="1.6" fill="#008000"/>
<rect x="125.8" y="492.4" width="1.6" height="1.6" fill="#008000"/>
<rect x="93.3" y="488.9" width="1.6" height="1.6" fill="#008000"/>
<rect x="96.7" y="490.1" width="1.6" height="1.6" fill="#008000"/>
<rect x="101" y="495.6" width="1.6" height="1.6" fill="#008000"/>
<rect x="95.7" y="490.6" width="1.6" height="1.6" fill="#008000"/>
<rect x="116.7" y="491.7" width="1.6" height="1.6" fill="#008000"/>
<rect x="113.3" y="490.4" width="1.6" height="1.6" fill="#008000"/>
<rect x="46.9" y="519.8" width="1.6" height="1.6" fill="#ff0000"/>
<rect x="49.9" y="518" width="1.6" height="1.6" fill="#ff0000"/>
<rect x="49.9" y="521.4" width="1.6" height="1.6" fill="#ff0000"/>
<rect x="62.7" y="521.1" width="1.6" height="1.6" fill="#ff0000"/>
<rect x="97.1" y="511.9" width="1.6" height="1.6" fill="#ff0000"/>
<rect x="99.3" y="510.6" width="1.6" height="1.6" fill="#ff0000"/>
<rect x="109.2" y="509.1" width="1.6" height="1.6" fill="#ff0000"/>
<rect x="101" y="518.8" width="1.6" height="1.6" fill="#ff0000"/>
<rect x="104.2" y="516.8" width="1.6" height="1.6" fill="#ff0000"/>
<rect x="105.1" y="524.9" width="1.6" height="1.6" fill="#ff0000"/>
<rect x="127.8" y="526.1" width="1.6" height="1.6" fill="#ff0000"/>
<rect x="138.5" y="514.6" width="1.6" height="1.6" fill="#ff0000"/>
<rect x="70.8" y="532.3" width="1.6" height="1.6" fill="#800000"/>
<rect x="78.7" y="531" width="1.6" height="1.6" fill="#800000"/>
<rect x="54.8" y="539.1" width="1.6" height="1.6" fill="#800000"/>
<rect x="48.6" y="543.7" width="1.6" height="1.6" fill="#800000"/>
<rect x="64.8" y="547.1" width="1.6" height="1.6" fill="#800000"/>
<rect x="87.5" y="536.4" width="1.6" height="1.6" fill="#800000"/>
<rect x="76.6" y="541.6" width="1.6" height="1.6" fill="#800000"/>
<rect x="83.2" y="541.4" width="1.6" height="1.6" fill="#800000"/>
<rect x="81.7" y="546.7" width="1.6" height="1.6" fill="#800000"/>
<rect x="103.6" y="531.2" width="1.6" height="1.6" fill="#800000"/>
<rect x="108" y="531.8" width="1.6" height="1.6" fill="#800000"/>
<rect x="127.8" y="531.9" width="1.6" height="1.6" fill="#800000"/>
<rect x="114.9" y="537.6" width="1.6" height="1.6" fill="#800000"/>
<rect x="107.9" y="545.3" width="1.6" height="1.6" fill="#800000"/>
<rect x="109.4" y="544.1" width="1.6" height="1.6" fill="#800000"/>
<rect x="103.6" y="548.3" width="1.6" height="1.6" fill="#800000"/>
<rect x="105.4" y="548.3" width="1.6" height="1.6" fill="#800000"/>
<rect x="136.7" y="549.9" width="1.6" height="1.6" fill="#800000"/>
<rect x="140.7" y="548" width="1.6" height="1.6" fill="#800000"/>
<rect x="43.5" y="555.2" width="1.6" height="1.6" fill="#ff00ff"/>
<rect x="46.1" y="557.5" width="1.6" height="1.6" fill="#ff00ff"/>
<rect x="74.8" y="553.6" width="1.6" height="1.6" fill="#ff00ff"/>
<rect x="78.7" y="552.9" width="1.6" height="1.6" fill="#ff00ff"/>
<rect x="78.3" y="557.8" width="1.6" height="1.6" fill="#ff00ff"/>
<rect x="100.1" y="552.3" width="1.6" height="1.6" fill="#ff00ff"/>
<rect x="101.3" y="552" width="1.6" height="1.6" fill="#ff00ff"/>
<rect x="103.3" y="561.2" width="1.6" height="1.6" fill="#ff00ff"/>
<rect x="121.7" y="554.5" width="1.6" height="1.6" fill="#ff00ff"/>
<rect x="133" y="550.6" width="1.6" height="1.6" fill="#ff00ff"/>
<rect x="64.8" y="569.8" width="1.6" height="1.6" fill="#ff00ff"/>
<rect x="52.2" y="575.5" width="1.6" height="1.6" fill="#00ffff"/>
<rect x="57.6" y="573.9" width="1.6" height="1.6" fill="#00ffff"/>
<rect x="66" y="585.4" width="1.6" height="1.6" fill="#00ffff"/>
<rect x="84.1" y="572.1" width="1.6" height="1.6" fill="#00ffff"/>
<rect x="85.2" y="572.1" width="1.6" height="1.6" fill="#00ffff"/>
<rect x="95.3" y="575.6" width="1.6" height="1.6" fill="#00ffff"/>
<rect x="99.9" y="574.4" width="1.6" height="1.6" fill="#00ffff"/>
<rect x="103.9" y="572.1" width="1.6" height="1.6" fill="#00ffff"/>
<rect x="127.8" y="573.2" width="1.6" height="1.6" fill="#00ffff"/>
<rect x="80.3" y="586.5" width="1.6" height="1.6" fill="#00ffff"/>
<rect x="109.7" y="582.8" width="1.6" height="1.6" fill="#00ffff"/>
<rect x="114.8" y="582.8" width="1.6" height="1.6" fill="#00ffff"/>
<rect x="115.8" y="582.8" width="1.6" height="1.6" fill="#00ffff"/>
<rect x="116.9" y="582.8" width="1.6" height="1.6" fill="#00ffff"/>
<rect x="118.1" y="582.8" width="1.6" height="1.6" fill="#00ffff"/>
<rect x="54.8" y="594.6" width="1.6" height="1.6" fill="#ffff00"/>
<rect x="61.4" y="594.6" width="1.6" height="1.6" fill="#ffff00"/>
<rect x="65" y="594.6" width="1.6" height="1.6" fill="#ffff00"/>
<rect x="68.3" y="594.6" width="1.6" height="1.6" fill="#ffff00"/>
<rect x="70.6" y="592.3" width="1.6" height="1.6" fill="#ffff00"/>
<rect x="74.8" y="600.5" width="1.6" height="1.6" fill="#ffff00"/>
<rect x="88.2" y="591.6" width="1.6" height="1.6" fill="#ffff00"/>
<rect x="111.9" y="592.6" width="1.6" height="1.6" fill="#ffff00"/>
<rect x="118.1" y="594.6" width="1.6" height="1.6" fill="#ffff00"/>
<rect x="136.7" y="594.3" width="1.6" height="1.6" fill="#ffff00"/>
<rect x="71.4" y="609" width="1.6" height="1.6" fill="#ffff00"/>
<rect x="83.7" y="608.9" width="1.6" height="1.6" fill="#ffff00"/>
<rect x="126.3" y="608.1" width="1.6" height="1.6" fill="#ffff00"/>
<rect x="139.1" y="610" width="1.6" height="1.6" fill="#ffff00"/>
<rect x="101.7" y="505" width="1.6" height="1.6" fill="#008000"/>
<circle cx="158.8" cy="417.6" r="1.9" fill="none" stroke="#9a9a9a" stroke-width="0.6"/>
<circle cx="158.8" cy="417.6" r="0.8" fill="#000"/>
<circle cx="171.3" cy="416.1" r="1.6" fill="none" stroke="#9a9a9a" stroke-width="0.55"/>
<circle cx="171.3" cy="419.1" r="1.6" fill="none" stroke="#9a9a9a" stroke-width="0.55"/>
<circle cx="183.7" cy="418.4" r="1.6" fill="none" stroke="#9a9a9a" stroke-width="0.55"/>
<circle cx="158.8" cy="437.9" r="1.9" fill="none" stroke="#9a9a9a" stroke-width="0.6"/>
<circle cx="158.8" cy="437.9" r="0.8" fill="#000"/>
<circle cx="171.3" cy="435.9" r="1.6" fill="none" stroke="#9a9a9a" stroke-width="0.55"/>
<circle cx="171.3" cy="437.9" r="1.6" fill="none" stroke="#9a9a9a" stroke-width="0.55"/>
<circle cx="171.3" cy="439.9" r="1.6" fill="none" stroke="#9a9a9a" stroke-width="0.55"/>
<circle cx="183.7" cy="437.9" r="1.6" fill="none" stroke="#9a9a9a" stroke-width="0.55"/>
<circle cx="158.8" cy="458.2" r="1.9" fill="none" stroke="#9a9a9a" stroke-width="0.6"/>
<circle cx="158.8" cy="458.2" r="0.8" fill="#000"/>
<circle cx="171.3" cy="456.2" r="1.6" fill="none" stroke="#9a9a9a" stroke-width="0.55"/>
<circle cx="171.3" cy="458.2" r="1.6" fill="none" stroke="#9a9a9a" stroke-width="0.55"/>
<circle cx="171.3" cy="460.2" r="1.6" fill="none" stroke="#9a9a9a" stroke-width="0.55"/>
<circle cx="183.7" cy="460" r="1.6" fill="none" stroke="#9a9a9a" stroke-width="0.55"/>
<circle cx="158.8" cy="478.5" r="1.9" fill="none" stroke="#9a9a9a" stroke-width="0.6"/>
<circle cx="158.8" cy="478.5" r="0.8" fill="#000"/>
<circle cx="171.3" cy="477" r="1.6" fill="none" stroke="#9a9a9a" stroke-width="0.55"/>
<circle cx="171.3" cy="480" r="1.6" fill="none" stroke="#9a9a9a" stroke-width="0.55"/>
<circle cx="183.7" cy="476.5" r="1.6" fill="none" stroke="#9a9a9a" stroke-width="0.55"/>
<circle cx="183.7" cy="478.5" r="1.6" fill="none" stroke="#9a9a9a" stroke-width="0.55"/>
<circle cx="183.7" cy="480.5" r="1.6" fill="none" stroke="#9a9a9a" stroke-width="0.55"/>
<line x1="183.7" y1="498.8" x2="221.1" y2="498.8" stroke="#e2e2e2" stroke-width="1.0"/>
<rect x="158.8" y="497.2" width="24.9" height="3.2" fill="#b4b4b4"/>
<circle cx="158.8" cy="498.8" r="1.9" fill="none" stroke="#9a9a9a" stroke-width="0.6"/>
<circle cx="158.8" cy="498.8" r="0.8" fill="#000"/>
<circle cx="233.6" cy="497.6" r="1.6" fill="none" stroke="#9a9a9a" stroke-width="0.55"/>
<circle cx="233.6" cy="500" r="1.6" fill="none" stroke="#9a9a9a" stroke-width="0.55"/>
<circle cx="158.8" cy="519.1" r="1.9" fill="none" stroke="#9a9a9a" stroke-width="0.6"/>
<circle cx="158.8" cy="519.1" r="0.8" fill="#000"/>
<circle cx="171.3" cy="517.1" r="1.6" fill="none" stroke="#9a9a9a" stroke-width="0.55"/>
<circle cx="171.3" cy="519.1" r="1.6" fill="none" stroke="#9a9a9a" stroke-width="0.55"/>
<circle cx="171.3" cy="521.1" r="1.6" fill="none" stroke="#9a9a9a" stroke-width="0.55"/>
<circle cx="158.8" cy="539.4" r="1.9" fill="none" stroke="#9a9a9a" stroke-width="0.6"/>
<circle cx="158.8" cy="539.4" r="0.8" fill="#000"/>
<circle cx="171.3" cy="537.4" r="1.6" fill="none" stroke="#9a9a9a" stroke-width="0.55"/>
<circle cx="171.3" cy="539.4" r="1.6" fill="none" stroke="#9a9a9a" stroke-width="0.55"/>
<circle cx="171.3" cy="541.4" r="1.6" fill="none" stroke="#9a9a9a" stroke-width="0.55"/>
<circle cx="183.7" cy="538.4" r="1.6" fill="none" stroke="#9a9a9a" stroke-width="0.55"/>
<circle cx="183.7" cy="540.4" r="1.6" fill="none" stroke="#9a9a9a" stroke-width="0.55"/>
<circle cx="158.8" cy="559.7" r="1.9" fill="none" stroke="#9a9a9a" stroke-width="0.6"/>
<circle cx="158.8" cy="559.7" r="0.8" fill="#000"/>
<circle cx="171.3" cy="558.5" r="1.6" fill="none" stroke="#9a9a9a" stroke-width="0.55"/>
<circle cx="171.3" cy="560.9" r="1.6" fill="none" stroke="#9a9a9a" stroke-width="0.55"/>
<circle cx="158.8" cy="580" r="1.9" fill="none" stroke="#9a9a9a" stroke-width="0.6"/>
<circle cx="158.8" cy="580" r="0.8" fill="#000"/>
<circle cx="171.3" cy="578.8" r="1.6" fill="none" stroke="#9a9a9a" stroke-width="0.55"/>
<circle cx="171.3" cy="581.2" r="1.6" fill="none" stroke="#9a9a9a" stroke-width="0.55"/>
<circle cx="233.6" cy="578" r="1.6" fill="none" stroke="#9a9a9a" stroke-width="0.55"/>
<circle cx="158.8" cy="600.3" r="1.9" fill="none" stroke="#9a9a9a" stroke-width="0.6"/>
<circle cx="158.8" cy="600.3" r="0.8" fill="#000"/>
<circle cx="171.3" cy="599.1" r="1.6" fill="none" stroke="#9a9a9a" stroke-width="0.55"/>
<circle cx="171.3" cy="601.5" r="1.6" fill="none" stroke="#9a9a9a" stroke-width="0.55"/>
<circle cx="276.3" cy="421.5" r="1.5" fill="#ff00ff" fill-opacity="0.62"/>
<circle cx="308.5" cy="426.4" r="1.5" fill="#ff00ff" fill-opacity="0.62"/>
<circle cx="285.6" cy="434" r="1.5" fill="#ff00ff" fill-opacity="0.62"/>
<circle cx="281.2" cy="437.1" r="1.5" fill="#ff00ff" fill-opacity="0.62"/>
<circle cx="290.5" cy="443.3" r="1.5" fill="#ff00ff" fill-opacity="0.62"/>
<circle cx="281.2" cy="447.5" r="1.5" fill="#ff00ff" fill-opacity="0.62"/>
<circle cx="279.2" cy="454.5" r="1.5" fill="#ff00ff" fill-opacity="0.62"/>
<circle cx="291.8" cy="470.6" r="1.5" fill="#ff00ff" fill-opacity="0.62"/>
<circle cx="283.6" cy="473.9" r="1.5" fill="#ff00ff" fill-opacity="0.62"/>
<circle cx="286.9" cy="479.6" r="1.5" fill="#ff00ff" fill-opacity="0.62"/>
<circle cx="296.1" cy="477.8" r="1.5" fill="#ff00ff" fill-opacity="0.62"/>
<circle cx="294" cy="493.7" r="1.5" fill="#ff00ff" fill-opacity="0.62"/>
<circle cx="298.1" cy="495.1" r="1.5" fill="#ff00ff" fill-opacity="0.62"/>
<circle cx="294.1" cy="499.4" r="1.5" fill="#ff00ff" fill-opacity="0.62"/>
<circle cx="327.8" cy="454.1" r="1.5" fill="#ff00ff" fill-opacity="0.62"/>
<circle cx="325.4" cy="481.3" r="1.5" fill="#ff00ff" fill-opacity="0.62"/>
<circle cx="321.2" cy="480.9" r="1.5" fill="#ff00ff" fill-opacity="0.62"/>
<circle cx="303.7" cy="467.9" r="1.5" fill="#ff00ff" fill-opacity="0.62"/>
<circle cx="271.3" cy="435.1" r="1.5" fill="#ff00ff" fill-opacity="0.62"/>
<circle cx="305.4" cy="420.6" r="1.5" fill="#00008b" fill-opacity="0.62"/>
<circle cx="306.7" cy="440.6" r="1.5" fill="#00008b" fill-opacity="0.62"/>
<circle cx="299.7" cy="443.3" r="1.5" fill="#00008b" fill-opacity="0.62"/>
<circle cx="306.9" cy="447.5" r="1.5" fill="#00008b" fill-opacity="0.62"/>
<circle cx="297.4" cy="451.8" r="1.5" fill="#00008b" fill-opacity="0.62"/>
<circle cx="276.6" cy="452.5" r="1.5" fill="#00008b" fill-opacity="0.62"/>
<circle cx="283.5" cy="454.1" r="1.5" fill="#00008b" fill-opacity="0.62"/>
<circle cx="288.7" cy="455.1" r="1.5" fill="#00008b" fill-opacity="0.62"/>
<circle cx="301.9" cy="458.2" r="1.5" fill="#00008b" fill-opacity="0.62"/>
<circle cx="309.9" cy="457.5" r="1.5" fill="#00008b" fill-opacity="0.62"/>
<circle cx="313.5" cy="456.2" r="1.5" fill="#00008b" fill-opacity="0.62"/>
<circle cx="310.2" cy="468.1" r="1.5" fill="#00008b" fill-opacity="0.62"/>
<circle cx="312" cy="467" r="1.5" fill="#00008b" fill-opacity="0.62"/>
<circle cx="316.5" cy="470.3" r="1.5" fill="#00008b" fill-opacity="0.62"/>
<circle cx="314.6" cy="473" r="1.5" fill="#00008b" fill-opacity="0.62"/>
<circle cx="320.1" cy="469.3" r="1.5" fill="#00008b" fill-opacity="0.62"/>
<circle cx="316.8" cy="475.6" r="1.5" fill="#00008b" fill-opacity="0.62"/>
<circle cx="315.5" cy="480.2" r="1.5" fill="#00008b" fill-opacity="0.62"/>
<circle cx="322.8" cy="476.3" r="1.5" fill="#00008b" fill-opacity="0.62"/>
<circle cx="312.5" cy="483.9" r="1.5" fill="#00008b" fill-opacity="0.62"/>
<circle cx="299.3" cy="487.9" r="1.5" fill="#00008b" fill-opacity="0.62"/>
<circle cx="301.7" cy="500.7" r="1.5" fill="#00008b" fill-opacity="0.62"/>
<circle cx="312" cy="488.1" r="1.5" fill="#00008b" fill-opacity="0.62"/>
<circle cx="325.4" cy="493.1" r="1.5" fill="#00008b" fill-opacity="0.62"/>
<circle cx="329.4" cy="480.2" r="1.5" fill="#00008b" fill-opacity="0.62"/>
<circle cx="331.4" cy="485.2" r="1.5" fill="#00008b" fill-opacity="0.62"/>
<circle cx="321.5" cy="446.6" r="1.5" fill="#00008b" fill-opacity="0.62"/>
<circle cx="323" cy="459.4" r="1.5" fill="#00008b" fill-opacity="0.62"/>
<circle cx="326.1" cy="461.1" r="1.5" fill="#00008b" fill-opacity="0.62"/>
<circle cx="326.7" cy="463.1" r="1.5" fill="#00008b" fill-opacity="0.62"/>
<circle cx="334.4" cy="492.1" r="1.5" fill="#00008b" fill-opacity="0.62"/>
<circle cx="338" cy="452.2" r="1.5" fill="#00008b" fill-opacity="0.62"/>
<circle cx="341.5" cy="455.1" r="1.5" fill="#00008b" fill-opacity="0.62"/>
<circle cx="345.9" cy="449.2" r="1.5" fill="#00008b" fill-opacity="0.62"/>
<circle cx="344.2" cy="446.3" r="1.5" fill="#00008b" fill-opacity="0.62"/>
<circle cx="347.2" cy="467" r="1.5" fill="#00008b" fill-opacity="0.62"/>
<circle cx="345.5" cy="470.6" r="1.5" fill="#00008b" fill-opacity="0.62"/>
<circle cx="354.7" cy="472.3" r="1.5" fill="#00008b" fill-opacity="0.62"/>
<circle cx="357.1" cy="475.9" r="1.5" fill="#00008b" fill-opacity="0.62"/>
<circle cx="353.9" cy="458.6" r="1.5" fill="#00008b" fill-opacity="0.62"/>
<circle cx="318.6" cy="419.8" r="1.5" fill="#0000ff" fill-opacity="0.62"/>
<circle cx="343.6" cy="422.2" r="1.5" fill="#0000ff" fill-opacity="0.62"/>
<circle cx="343.6" cy="427.2" r="1.5" fill="#0000ff" fill-opacity="0.62"/>
<circle cx="352.5" cy="424.8" r="1.5" fill="#0000ff" fill-opacity="0.62"/>
<circle cx="353.1" cy="423.5" r="1.5" fill="#0000ff" fill-opacity="0.62"/>
<circle cx="342.3" cy="436" r="1.5" fill="#0000ff" fill-opacity="0.62"/>
<circle cx="339.3" cy="439" r="1.5" fill="#0000ff" fill-opacity="0.62"/>
<circle cx="321.5" cy="434" r="1.5" fill="#00ff00" fill-opacity="0.62"/>
<circle cx="307.6" cy="438.7" r="1.5" fill="#00ff00" fill-opacity="0.62"/>
<circle cx="308.5" cy="449.5" r="1.5" fill="#00ff00" fill-opacity="0.62"/>
<circle cx="316.8" cy="452.5" r="1.5" fill="#00ff00" fill-opacity="0.62"/>
<circle cx="313.9" cy="462.8" r="1.5" fill="#00ff00" fill-opacity="0.62"/>
<circle cx="330.4" cy="452.5" r="1.5" fill="#00ff00" fill-opacity="0.62"/>
<circle cx="330.7" cy="454.5" r="1.5" fill="#00ff00" fill-opacity="0.62"/>
<circle cx="344.8" cy="455.5" r="1.5" fill="#00ff00" fill-opacity="0.62"/>
<circle cx="351.2" cy="451.8" r="1.5" fill="#00ff00" fill-opacity="0.62"/>
<circle cx="342.3" cy="467.7" r="1.5" fill="#00ff00" fill-opacity="0.62"/>
<circle cx="329.6" cy="471.6" r="1.5" fill="#00ff00" fill-opacity="0.62"/>
<circle cx="336.2" cy="484.2" r="1.5" fill="#00ff00" fill-opacity="0.62"/>
<circle cx="332.3" cy="488.7" r="1.5" fill="#00ff00" fill-opacity="0.62"/>
<circle cx="331.8" cy="492.4" r="1.5" fill="#00ff00" fill-opacity="0.62"/>
<circle cx="349.8" cy="477.3" r="1.5" fill="#00ff00" fill-opacity="0.62"/>
<circle cx="353.4" cy="478.2" r="1.5" fill="#00ff00" fill-opacity="0.62"/>
<circle cx="356.8" cy="483.8" r="1.5" fill="#00ff00" fill-opacity="0.62"/>
<circle cx="312.9" cy="475.9" r="1.5" fill="#00ff00" fill-opacity="0.62"/>
<circle cx="312.2" cy="483.9" r="1.5" fill="#00ff00" fill-opacity="0.62"/>
<circle cx="316.8" cy="467" r="1.5" fill="#000000" fill-opacity="0.62"/>
<circle cx="308.3" cy="480.9" r="1.5" fill="#000000" fill-opacity="0.62"/>
<circle cx="310.2" cy="480" r="1.5" fill="#000000" fill-opacity="0.62"/>
<circle cx="307.9" cy="496.1" r="1.5" fill="#000000" fill-opacity="0.62"/>
<circle cx="309.6" cy="496.3" r="1.5" fill="#000000" fill-opacity="0.62"/>
<circle cx="314.6" cy="499.7" r="1.5" fill="#000000" fill-opacity="0.62"/>
<circle cx="316.5" cy="497.4" r="1.5" fill="#000000" fill-opacity="0.62"/>
<circle cx="329.1" cy="488.1" r="1.5" fill="#000000" fill-opacity="0.62"/>
<circle cx="336.6" cy="495" r="1.5" fill="#000000" fill-opacity="0.62"/>
<circle cx="332" cy="500" r="1.5" fill="#000000" fill-opacity="0.62"/>
<circle cx="325.8" cy="504.6" r="1.5" fill="#000000" fill-opacity="0.62"/>
<circle cx="359.7" cy="500.3" r="1.5" fill="#000000" fill-opacity="0.62"/>
<circle cx="349.8" cy="499" r="1.5" fill="#ffff00" fill-opacity="0.62"/>
<circle cx="351.8" cy="502.9" r="1.5" fill="#ffff00" fill-opacity="0.62"/>
<circle cx="346.3" cy="507.9" r="1.5" fill="#ffff00" fill-opacity="0.62"/>
<circle cx="435.3" cy="475.1" r="1.5" fill="#008000" fill-opacity="0.62"/>
<circle cx="447" cy="490.4" r="1.5" fill="#008000" fill-opacity="0.62"/>
<circle cx="396.6" cy="473.6" r="1.5" fill="#008000" fill-opacity="0.62"/>
<circle cx="394.4" cy="488.9" r="1.5" fill="#008000" fill-opacity="0.62"/>
<circle cx="425.1" cy="484.6" r="1.5" fill="#008000" fill-opacity="0.62"/>
<circle cx="398.8" cy="507.2" r="1.5" fill="#008000" fill-opacity="0.62"/>
<circle cx="413.4" cy="494.3" r="1.5" fill="#008000" fill-opacity="0.62"/>
<circle cx="397.3" cy="460.5" r="1.5" fill="#ff0000" fill-opacity="0.62"/>
<circle cx="411.2" cy="468.5" r="1.5" fill="#ff0000" fill-opacity="0.62"/>
<circle cx="424.3" cy="470.3" r="1.5" fill="#ff0000" fill-opacity="0.62"/>
<circle cx="384.2" cy="477.3" r="1.5" fill="#ff0000" fill-opacity="0.62"/>
<circle cx="390" cy="479.7" r="1.5" fill="#ff0000" fill-opacity="0.62"/>
<circle cx="380.5" cy="479.5" r="1.5" fill="#ff0000" fill-opacity="0.62"/>
<circle cx="398.8" cy="484.6" r="1.5" fill="#ff0000" fill-opacity="0.62"/>
<circle cx="389.7" cy="486" r="1.5" fill="#ff0000" fill-opacity="0.62"/>
<circle cx="401.1" cy="492.3" r="1.5" fill="#ff0000" fill-opacity="0.62"/>
<circle cx="391.8" cy="493.3" r="1.5" fill="#ff0000" fill-opacity="0.62"/>
<circle cx="388.6" cy="496.7" r="1.5" fill="#ff0000" fill-opacity="0.62"/>
<circle cx="397.6" cy="498.4" r="1.5" fill="#ff0000" fill-opacity="0.62"/>
<circle cx="400.3" cy="498.4" r="1.5" fill="#ff0000" fill-opacity="0.62"/>
<circle cx="414.9" cy="499.2" r="1.5" fill="#ff0000" fill-opacity="0.62"/>
<circle cx="393.7" cy="502.5" r="1.5" fill="#ff0000" fill-opacity="0.62"/>
<circle cx="368.1" cy="497.7" r="1.5" fill="#ff0000" fill-opacity="0.62"/>
<circle cx="378.4" cy="505.7" r="1.5" fill="#ff0000" fill-opacity="0.62"/>
<circle cx="381" cy="507.2" r="1.5" fill="#ff0000" fill-opacity="0.62"/>
<circle cx="426.8" cy="494.1" r="1.5" fill="#ff0000" fill-opacity="0.62"/>
<circle cx="374.4" cy="412.3" r="1.5" fill="#0000ff" fill-opacity="0.62"/>
<circle cx="377.2" cy="418.1" r="1.5" fill="#0000ff" fill-opacity="0.62"/>
<circle cx="370.3" cy="440.3" r="1.5" fill="#0000ff" fill-opacity="0.62"/>
<circle cx="383.5" cy="440" r="1.5" fill="#0000ff" fill-opacity="0.62"/>
<circle cx="372.2" cy="444.9" r="1.5" fill="#0000ff" fill-opacity="0.62"/>
<circle cx="388.9" cy="449.2" r="1.5" fill="#0000ff" fill-opacity="0.62"/>
<circle cx="362.3" cy="446.3" r="1.5" fill="#0000ff" fill-opacity="0.62"/>
<circle cx="364.1" cy="452.7" r="1.5" fill="#0000ff" fill-opacity="0.62"/>
<circle cx="365.9" cy="460.5" r="1.5" fill="#0000ff" fill-opacity="0.62"/>
<circle cx="370.3" cy="461.2" r="1.5" fill="#0000ff" fill-opacity="0.62"/>
<circle cx="384.9" cy="461.2" r="1.5" fill="#0000ff" fill-opacity="0.62"/>
<circle cx="397.3" cy="462.7" r="1.5" fill="#0000ff" fill-opacity="0.62"/>
<circle cx="385.7" cy="480.9" r="1.5" fill="#0000ff" fill-opacity="0.62"/>
<circle cx="380.5" cy="479.7" r="1.5" fill="#0000ff" fill-opacity="0.62"/>
<circle cx="368.1" cy="488.9" r="1.5" fill="#0000ff" fill-opacity="0.62"/>
<circle cx="372.5" cy="498.4" r="1.5" fill="#0000ff" fill-opacity="0.62"/>
<circle cx="365.9" cy="490.4" r="1.5" fill="#ffff00" fill-opacity="0.62"/>
<circle cx="361.6" cy="502.8" r="1.5" fill="#ffff00" fill-opacity="0.62"/>
<circle cx="362.3" cy="505.7" r="1.5" fill="#ffff00" fill-opacity="0.62"/>
<circle cx="322.3" cy="546.2" r="1.5" fill="#00ffff" fill-opacity="0.62"/>
<circle cx="323.6" cy="549.9" r="1.5" fill="#00ffff" fill-opacity="0.62"/>
<circle cx="323.9" cy="551.3" r="1.5" fill="#00ffff" fill-opacity="0.62"/>
<circle cx="330.1" cy="549.2" r="1.5" fill="#00ffff" fill-opacity="0.62"/>
<circle cx="321.4" cy="555.9" r="1.5" fill="#00ffff" fill-opacity="0.62"/>
<circle cx="324.6" cy="555.5" r="1.5" fill="#00ffff" fill-opacity="0.62"/>
<circle cx="327.8" cy="552.7" r="1.5" fill="#00ffff" fill-opacity="0.62"/>
<circle cx="330.6" cy="553.4" r="1.5" fill="#00ffff" fill-opacity="0.62"/>
<circle cx="314.9" cy="559.6" r="1.5" fill="#00ffff" fill-opacity="0.62"/>
<circle cx="318.7" cy="559.3" r="1.5" fill="#00ffff" fill-opacity="0.62"/>
<circle cx="326" cy="558.9" r="1.5" fill="#00ffff" fill-opacity="0.62"/>
<circle cx="327.8" cy="560" r="1.5" fill="#00ffff" fill-opacity="0.62"/>
<circle cx="330.8" cy="558.2" r="1.5" fill="#00ffff" fill-opacity="0.62"/>
<circle cx="319.5" cy="564.2" r="1.5" fill="#00ffff" fill-opacity="0.62"/>
<circle cx="335" cy="565.8" r="1.5" fill="#00ffff" fill-opacity="0.62"/>
<circle cx="311.8" cy="572.5" r="1.5" fill="#00ffff" fill-opacity="0.62"/>
<circle cx="315.3" cy="572.1" r="1.5" fill="#00ffff" fill-opacity="0.62"/>
<circle cx="327.8" cy="572.1" r="1.5" fill="#00ffff" fill-opacity="0.62"/>
<circle cx="329.7" cy="572.7" r="1.5" fill="#00ffff" fill-opacity="0.62"/>
<circle cx="312.9" cy="583.5" r="1.5" fill="#00ffff" fill-opacity="0.62"/>
<circle cx="341.9" cy="582.7" r="1.5" fill="#00ffff" fill-opacity="0.62"/>
<circle cx="351.3" cy="563.5" r="1.5" fill="#00ffff" fill-opacity="0.62"/>
<circle cx="349.9" cy="542.6" r="1.5" fill="#00ffff" fill-opacity="0.62"/>
<circle cx="323.2" cy="596.2" r="1.5" fill="#00ffff" fill-opacity="0.62"/>
<circle cx="350.2" cy="596.5" r="1.5" fill="#00ffff" fill-opacity="0.62"/>
<circle cx="337.1" cy="612.8" r="1.5" fill="#00ffff" fill-opacity="0.62"/>
<circle cx="322.3" cy="537.2" r="1.5" fill="#00ffff" fill-opacity="0.62"/>
<circle cx="328.1" cy="539.3" r="1.5" fill="#00ffff" fill-opacity="0.62"/>
<circle cx="311.5" cy="527.4" r="1.5" fill="#00ffff" fill-opacity="0.62"/>
<circle cx="347.7" cy="513.3" r="1.5" fill="#00ffff" fill-opacity="0.62"/>
<circle cx="341.2" cy="509.1" r="1.5" fill="#ffff00" fill-opacity="0.62"/>
<circle cx="346.3" cy="508" r="1.5" fill="#ffff00" fill-opacity="0.62"/>
<circle cx="349.9" cy="534.3" r="1.5" fill="#ffff00" fill-opacity="0.62"/>
<circle cx="354.3" cy="535.7" r="1.5" fill="#ffff00" fill-opacity="0.62"/>
<circle cx="358.5" cy="534.3" r="1.5" fill="#ffff00" fill-opacity="0.62"/>
<circle cx="335" cy="549" r="1.5" fill="#ffff00" fill-opacity="0.62"/>
<circle cx="342.2" cy="548.1" r="1.5" fill="#ffff00" fill-opacity="0.62"/>
<circle cx="344.7" cy="538.9" r="1.5" fill="#ffff00" fill-opacity="0.62"/>
<circle cx="332.9" cy="538.9" r="1.5" fill="#ffff00" fill-opacity="0.62"/>
<circle cx="340.8" cy="534" r="1.5" fill="#ffff00" fill-opacity="0.62"/>
<circle cx="341.9" cy="531.5" r="1.5" fill="#ffff00" fill-opacity="0.62"/>
<circle cx="345.3" cy="523" r="1.5" fill="#ffff00" fill-opacity="0.62"/>
<circle cx="327" cy="519.5" r="1.5" fill="#800000" fill-opacity="0.62"/>
<circle cx="328.8" cy="520.2" r="1.5" fill="#800000" fill-opacity="0.62"/>
<circle cx="330.8" cy="522.3" r="1.5" fill="#800000" fill-opacity="0.62"/>
<circle cx="327" cy="526" r="1.5" fill="#800000" fill-opacity="0.62"/>
<circle cx="350.6" cy="521.6" r="1.5" fill="#800000" fill-opacity="0.62"/>
<circle cx="354.6" cy="512.6" r="1.5" fill="#800000" fill-opacity="0.62"/>
<circle cx="330.8" cy="535.4" r="1.5" fill="#800000" fill-opacity="0.62"/>
<circle cx="329.4" cy="510.3" r="1.5" fill="#800000" fill-opacity="0.62"/>
<circle cx="341.9" cy="507.8" r="1.5" fill="#800000" fill-opacity="0.62"/>
<circle cx="304.6" cy="518.8" r="1.5" fill="#000000" fill-opacity="0.62"/>
<circle cx="312.2" cy="521.6" r="1.5" fill="#000000" fill-opacity="0.62"/>
<circle cx="314" cy="520.2" r="1.5" fill="#000000" fill-opacity="0.62"/>
<circle cx="322.3" cy="512.6" r="1.5" fill="#000000" fill-opacity="0.62"/>
<circle cx="322.8" cy="516.3" r="1.5" fill="#000000" fill-opacity="0.62"/>
<circle cx="330.1" cy="515.8" r="1.5" fill="#000000" fill-opacity="0.62"/>
<circle cx="319.1" cy="536.1" r="1.5" fill="#000000" fill-opacity="0.62"/>
<circle cx="340.5" cy="537.1" r="1.5" fill="#000000" fill-opacity="0.62"/>
<circle cx="332.9" cy="533.3" r="1.5" fill="#000000" fill-opacity="0.62"/>
<circle cx="325.3" cy="523" r="1.5" fill="#000000" fill-opacity="0.62"/>
<circle cx="331.5" cy="523.7" r="1.5" fill="#000000" fill-opacity="0.62"/>
<circle cx="322.5" cy="529.9" r="1.5" fill="#000000" fill-opacity="0.62"/>
<circle cx="325.3" cy="531.3" r="1.5" fill="#000000" fill-opacity="0.62"/>
<circle cx="328.1" cy="532" r="1.5" fill="#000000" fill-opacity="0.62"/>
<circle cx="337.7" cy="518.8" r="1.5" fill="#000000" fill-opacity="0.62"/>
<circle cx="343.3" cy="520.9" r="1.5" fill="#000000" fill-opacity="0.62"/>
<circle cx="348.8" cy="509.8" r="1.5" fill="#0000ff" fill-opacity="0.62"/>
<circle cx="353.6" cy="528.5" r="1.5" fill="#0000ff" fill-opacity="0.62"/>
<circle cx="315.6" cy="523" r="1.5" fill="#0000ff" fill-opacity="0.62"/>
<circle cx="316.3" cy="515" r="1.5" fill="#ff00ff" fill-opacity="0.62"/>
<circle cx="322.5" cy="525.5" r="1.5" fill="#ff00ff" fill-opacity="0.62"/>
<circle cx="320.5" cy="510.5" r="1.5" fill="#ff00ff" fill-opacity="0.62"/>
<circle cx="333.6" cy="514" r="1.5" fill="#ff00ff" fill-opacity="0.62"/>
<circle cx="319.1" cy="528.2" r="1.5" fill="#ff00ff" fill-opacity="0.62"/>
<circle cx="399.5" cy="507.2" r="1.5" fill="#008000" fill-opacity="0.62"/>
<circle cx="358.2" cy="508.2" r="1.5" fill="#008000" fill-opacity="0.62"/>
<circle cx="390.3" cy="506.8" r="1.5" fill="#008000" fill-opacity="0.62"/>
<circle cx="375.4" cy="514.5" r="1.5" fill="#008000" fill-opacity="0.62"/>
<circle cx="363.8" cy="508.6" r="1.5" fill="#ff0000" fill-opacity="0.62"/>
<circle cx="378.1" cy="506.8" r="1.5" fill="#ff0000" fill-opacity="0.62"/>
<circle cx="381.3" cy="506.8" r="1.5" fill="#ff0000" fill-opacity="0.62"/>
<circle cx="390.8" cy="510.1" r="1.5" fill="#ff0000" fill-opacity="0.62"/>
<circle cx="393" cy="507.6" r="1.5" fill="#ff0000" fill-opacity="0.62"/>
<circle cx="363.5" cy="522.2" r="1.5" fill="#ff0000" fill-opacity="0.62"/>
<circle cx="377.6" cy="527.2" r="1.5" fill="#ff0000" fill-opacity="0.62"/>
<circle cx="357.6" cy="527.6" r="1.5" fill="#ff0000" fill-opacity="0.62"/>
<circle cx="409" cy="512.3" r="1.5" fill="#ff0000" fill-opacity="0.62"/>
<circle cx="361.6" cy="506.8" r="1.5" fill="#ffff00" fill-opacity="0.62"/>
<circle cx="370.3" cy="507.9" r="1.5" fill="#ffff00" fill-opacity="0.62"/>
<circle cx="382.7" cy="510.1" r="1.5" fill="#ffff00" fill-opacity="0.62"/>
<circle cx="363.8" cy="513.8" r="1.5" fill="#ffff00" fill-opacity="0.62"/>
<circle cx="366.7" cy="520.3" r="1.5" fill="#ffff00" fill-opacity="0.62"/>
<circle cx="370.3" cy="524" r="1.5" fill="#ffff00" fill-opacity="0.62"/>
<circle cx="376.2" cy="522.2" r="1.5" fill="#ffff00" fill-opacity="0.62"/>
<circle cx="366.7" cy="529.5" r="1.5" fill="#ffff00" fill-opacity="0.62"/>
<circle cx="359.4" cy="533.9" r="1.5" fill="#ffff00" fill-opacity="0.62"/>
<circle cx="355" cy="535.7" r="1.5" fill="#ffff00" fill-opacity="0.62"/>
<circle cx="392.2" cy="550.5" r="1.5" fill="#ffff00" fill-opacity="0.62"/>
<circle cx="398.1" cy="510.1" r="1.5" fill="#ffff00" fill-opacity="0.62"/>
<circle cx="365.5" cy="518.4" r="1.5" fill="#00ffff" fill-opacity="0.62"/>
<circle cx="371.8" cy="528.4" r="1.5" fill="#00ffff" fill-opacity="0.62"/>
<circle cx="362" cy="530.1" r="1.5" fill="#00ffff" fill-opacity="0.62"/>
<circle cx="360.5" cy="538.3" r="1.5" fill="#00ffff" fill-opacity="0.62"/>
<circle cx="364.5" cy="541.8" r="1.5" fill="#00ffff" fill-opacity="0.62"/>
<circle cx="365.2" cy="545.1" r="1.5" fill="#00ffff" fill-opacity="0.62"/>
<circle cx="364.1" cy="547.6" r="1.5" fill="#00ffff" fill-opacity="0.62"/>
<circle cx="384.9" cy="574.3" r="1.5" fill="#00ffff" fill-opacity="0.62"/>
<circle cx="368.4" cy="533.2" r="1.5" fill="#800000" fill-opacity="0.62"/>
<circle cx="356.5" cy="524" r="1.5" fill="#800000" fill-opacity="0.62"/>
<circle cx="355" cy="512.3" r="1.5" fill="#800000" fill-opacity="0.62"/>
<circle cx="363" cy="544.7" r="1.5" fill="#000000" fill-opacity="0.62"/>
<circle cx="334.4" cy="480.2" r="2.4" fill="#00008b" fill-opacity="0.6"/>
<circle cx="348.5" cy="485.5" r="2.4" fill="#0000ff" fill-opacity="0.6"/>
<circle cx="347.5" cy="490.8" r="2.4" fill="#00ff00" fill-opacity="0.6"/>
<circle cx="352.5" cy="481.5" r="2.4" fill="#ff0000" fill-opacity="0.6"/>
<circle cx="337.7" cy="519.1" r="2.4" fill="#000000" fill-opacity="0.6"/>
<circle cx="390" cy="488.9" r="2.5" fill="#ffff00" fill-opacity="0.6"/>
<circle cx="297.1" cy="460.2" r="2.6" fill="#ff00ff" fill-opacity="0.6"/>
<circle cx="303" cy="494.7" r="2.6" fill="#ff00ff" fill-opacity="0.6"/>
<circle cx="305" cy="506.6" r="2.6" fill="#ff00ff" fill-opacity="0.6"/>
<circle cx="322.1" cy="466.6" r="2.6" fill="#ff00ff" fill-opacity="0.6"/>
<circle cx="309.6" cy="491.4" r="2.6" fill="#00008b" fill-opacity="0.6"/>
<circle cx="338" cy="465.7" r="2.6" fill="#00008b" fill-opacity="0.6"/>
<circle cx="356.8" cy="442.2" r="2.6" fill="#0000ff" fill-opacity="0.6"/>
<circle cx="356" cy="462" r="2.6" fill="#0000ff" fill-opacity="0.6"/>
<circle cx="293.5" cy="451.6" r="2.6" fill="#00ff00" fill-opacity="0.6"/>
<circle cx="332.4" cy="449.9" r="2.6" fill="#00ff00" fill-opacity="0.6"/>
<circle cx="320.1" cy="476.9" r="2.6" fill="#00ff00" fill-opacity="0.6"/>
<circle cx="306.3" cy="462.8" r="2.6" fill="#000000" fill-opacity="0.6"/>
<circle cx="320.1" cy="494.1" r="2.6" fill="#000000" fill-opacity="0.6"/>
<circle cx="319.5" cy="485.5" r="2.6" fill="#8000c0" fill-opacity="0.6"/>
<circle cx="320.1" cy="490.8" r="2.6" fill="#800000" fill-opacity="0.6"/>
<circle cx="334.7" cy="503.3" r="2.6" fill="#800000" fill-opacity="0.6"/>
<circle cx="402.4" cy="462.7" r="2.6" fill="#ff0000" fill-opacity="0.6"/>
<circle cx="372.5" cy="502.1" r="2.6" fill="#ff0000" fill-opacity="0.6"/>
<circle cx="381.3" cy="501.4" r="2.6" fill="#ff0000" fill-opacity="0.6"/>
<circle cx="339.8" cy="551.7" r="2.6" fill="#800000" fill-opacity="0.6"/>
<circle cx="310.8" cy="505.7" r="2.6" fill="#800000" fill-opacity="0.6"/>
<circle cx="317" cy="506.1" r="2.6" fill="#800000" fill-opacity="0.6"/>
<circle cx="337.7" cy="506.7" r="2.6" fill="#800000" fill-opacity="0.6"/>
<circle cx="355.4" cy="525.7" r="2.6" fill="#800000" fill-opacity="0.6"/>
<circle cx="323.6" cy="531" r="2.6" fill="#000000" fill-opacity="0.6"/>
<circle cx="304.8" cy="507.1" r="2.6" fill="#ff00ff" fill-opacity="0.6"/>
<circle cx="338" cy="472.6" r="2.8" fill="#00ff00" fill-opacity="0.6"/>
<circle cx="339.7" cy="479.2" r="2.8" fill="#00ff00" fill-opacity="0.6"/>
<circle cx="322.8" cy="499.6" r="2.8" fill="#800000" fill-opacity="0.6"/>
<circle cx="310.9" cy="503.3" r="2.8" fill="#800000" fill-opacity="0.6"/>
<circle cx="316.8" cy="505.3" r="2.8" fill="#800000" fill-opacity="0.6"/>
<circle cx="333.1" cy="499.4" r="2.8" fill="#800000" fill-opacity="0.6"/>
<circle cx="370.3" cy="468.8" r="2.8" fill="#0000ff" fill-opacity="0.6"/>
<circle cx="362.6" cy="476.2" r="2.8" fill="#00ff00" fill-opacity="0.6"/>
<circle cx="308.7" cy="550.2" r="2.8" fill="#00ffff" fill-opacity="0.6"/>
<circle cx="337.7" cy="540.7" r="2.8" fill="#ffff00" fill-opacity="0.6"/>
<circle cx="347.1" cy="553.8" r="2.8" fill="#ffff00" fill-opacity="0.6"/>
<circle cx="354.3" cy="524.4" r="2.8" fill="#ffff00" fill-opacity="0.6"/>
<circle cx="401.4" cy="521.4" r="2.8" fill="#008000" fill-opacity="0.6"/>
<circle cx="408.7" cy="509.1" r="2.8" fill="#008000" fill-opacity="0.6"/>
<circle cx="385.4" cy="518.1" r="2.8" fill="#ff0000" fill-opacity="0.6"/>
<circle cx="345.6" cy="489.5" r="3" fill="#00ff00" fill-opacity="0.6"/>
<circle cx="337.3" cy="504.6" r="3" fill="#800000" fill-opacity="0.6"/>
<circle cx="405.4" cy="501.4" r="3" fill="#008000" fill-opacity="0.6"/>
<circle cx="408.3" cy="508.6" r="3" fill="#008000" fill-opacity="0.6"/>
<circle cx="402.9" cy="466.6" r="3" fill="#008000" fill-opacity="0.6"/>
<circle cx="369.6" cy="481.6" r="3" fill="#ff0000" fill-opacity="0.6"/>
<circle cx="356.8" cy="442.2" r="3" fill="#0000ff" fill-opacity="0.6"/>
<circle cx="356.8" cy="461.9" r="3" fill="#0000ff" fill-opacity="0.6"/>
<circle cx="302.9" cy="574.5" r="3" fill="#00ffff" fill-opacity="0.6"/>
<circle cx="338" cy="569.3" r="3" fill="#00ffff" fill-opacity="0.6"/>
<circle cx="403.9" cy="529.8" r="3" fill="#00ffff" fill-opacity="0.6"/>
<circle cx="374.7" cy="517.8" r="3" fill="#008000" fill-opacity="0.6"/>
<circle cx="386.1" cy="525.4" r="3" fill="#ff0000" fill-opacity="0.6"/>
<circle cx="305.6" cy="475.6" r="3.2" fill="#00008b" fill-opacity="0.6"/>
<circle cx="369.9" cy="464.6" r="3.5" fill="#00ff00" fill-opacity="0.6"/>
<circle cx="315.3" cy="531" r="3.5" fill="#800000" fill-opacity="0.6"/>
<circle cx="340.2" cy="525.7" r="3.5" fill="#0000ff" fill-opacity="0.6"/>
<circle cx="341" cy="498.7" r="3.8" fill="#000000" fill-opacity="0.6"/>
<circle cx="400.5" cy="477.7" r="3.8" fill="#008000" fill-opacity="0.6"/>
<circle cx="386.4" cy="492.2" r="3.8" fill="#008000" fill-opacity="0.6"/>
<circle cx="430.9" cy="494.1" r="3.8" fill="#008000" fill-opacity="0.6"/>
<circle cx="428.3" cy="452.4" r="3.8" fill="#008000" fill-opacity="0.6"/>
<circle cx="401.7" cy="513.8" r="3.8" fill="#008000" fill-opacity="0.6"/>
<circle cx="385.7" cy="498.4" r="4" fill="#008000" fill-opacity="0.6"/>
<circle cx="406.1" cy="488.9" r="4" fill="#008000" fill-opacity="0.6"/>
<circle cx="410.5" cy="483.8" r="4" fill="#008000" fill-opacity="0.6"/>
<circle cx="408.3" cy="494.8" r="4" fill="#008000" fill-opacity="0.6"/>
<circle cx="418.5" cy="486" r="5" fill="#008000" fill-opacity="0.6"/>
<circle cx="387.8" cy="471.4" r="5.8" fill="#008000" fill-opacity="0.6"/>
<circle cx="375.4" cy="489.4" r="6" fill="#008000" fill-opacity="0.6"/>
<circle cx="414.1" cy="474.3" r="6.2" fill="#008000" fill-opacity="0.6"/>
<circle cx="395.9" cy="521.8" r="6.2" fill="#00ffff" fill-opacity="0.6"/>
<path d="M409.7,432.4L413.1,432.4L415.6,435.7L417.8,436.4L419.2,439.3L422.9,439.5L426.5,444.4L429.5,447.3L433.8,453.2L438.9,460.5L439.7,466.3L439.4,480.9L436,488.2L435,495.5L430.9,501.4L430.6,510L430.9,516.4L428,516.7L425.8,513.5L423.6,516.7L416.3,518.1L414.6,526.2L416.3,531.3L414.1,535.7L416.3,540L414.9,543.7L408.3,543.7L406.4,547.3L404.6,543.7L398.8,543L395.1,539.3L392.2,535.7L390,531.3L390,526.9L389.3,518.1L387.1,510.8L386.4,505L384.2,501.4L381.3,495.5L378.4,489.7L376.2,482.4L376.2,467.8L378.4,463.4L382.7,456.4L391.5,456.1L398.1,447.3L401.7,443.7L404.6,442.7L406.1,438.6L407.6,434.2Z" fill="none" stroke="#00f0f0" stroke-width="1.9" stroke-linejoin="round"/>
<path d="M495.3,447.7L560.2,431.8L609.5,453.4" fill="none" stroke="#cccccc" stroke-width="0.7"/>
<path d="M495.3,423.7L560.2,407.8L609.5,429.4" fill="none" stroke="#cccccc" stroke-width="0.7"/>
<line x1="527.8" y1="463.8" x2="527.8" y2="415.8" stroke="#cccccc" stroke-width="0.7"/>
<line x1="565.1" y1="458" x2="565.1" y2="410" stroke="#cccccc" stroke-width="0.7"/>
<line x1="575" y1="462.3" x2="575" y2="414.3" stroke="#cccccc" stroke-width="0.7"/>
<line x1="584.9" y1="466.6" x2="584.9" y2="418.6" stroke="#cccccc" stroke-width="0.7"/>
<line x1="594.7" y1="470.9" x2="594.7" y2="422.9" stroke="#cccccc" stroke-width="0.7"/>
<line x1="604.6" y1="475.2" x2="604.6" y2="427.2" stroke="#cccccc" stroke-width="0.7"/>
<line x1="560.2" y1="455.8" x2="560.2" y2="407.8" stroke="#cccccc" stroke-width="0.7"/>
<line x1="609.5" y1="477.4" x2="609.5" y2="429.4" stroke="#cccccc" stroke-width="0.7"/>
<path d="M495.3,471.7L560.2,455.8L609.5,477.4L544.6,493.3Z" fill="#3e26a8"/>
<defs><linearGradient id="sg0" gradientUnits="userSpaceOnUse" x1="0" y1="473.3" x2="0" y2="425.3"><stop offset="0.00" stop-color="#8778c9"/><stop offset="0.20" stop-color="#82a6fd"/><stop offset="0.40" stop-color="#70cde4"/><stop offset="0.60" stop-color="#94dcab"/><stop offset="0.80" stop-color="#edd380"/><stop offset="1.00" stop-color="#fbfd6a"/></linearGradient></defs>
<path d="M522.1,467.6 523.7,467.1 525.4,466.5 527.0,466.0 528.6,465.5 530.2,465.1 531.9,464.7 533.5,464.4 535.1,464.0 536.7,463.7 538.3,463.3 540.0,462.9 541.6,462.6 543.2,462.3 544.8,461.9 546.5,461.6 546.5,462.0 522.1,467.9Z" fill="url(#sg0)"/>
<path d="M522.1,467.6 523.7,467.1 525.4,466.5 527.0,466.0 528.6,465.5 530.2,465.1 531.9,464.7 533.5,464.4 535.1,464.0 536.7,463.7 538.3,463.3 540.0,462.9 541.6,462.6 543.2,462.3 544.8,461.9 546.5,461.6" fill="none" stroke="#3e26a8" stroke-width="0.7"/>
<path d="M521.5,468.4 523.2,467.9 524.8,467.3 526.4,466.7 528.0,466.1 529.6,465.6 531.3,465.2 532.9,464.8 534.5,464.5 536.1,464.2 537.8,463.9 539.4,463.6 541.0,463.2 542.6,462.9 544.2,462.6 545.9,462.2 547.5,461.9 549.1,461.6 550.7,461.3 550.7,461.6 521.5,468.8Z" fill="url(#sg0)"/>
<path d="M521.5,468.4 523.2,467.9 524.8,467.3 526.4,466.7 528.0,466.1 529.6,465.6 531.3,465.2 532.9,464.8 534.5,464.5 536.1,464.2 537.8,463.9 539.4,463.6 541.0,463.2 542.6,462.9 544.2,462.6 545.9,462.2 547.5,461.9 549.1,461.6 550.7,461.3" fill="none" stroke="#3e26a8" stroke-width="0.7"/>
<path d="M520.9,469.3 522.6,468.7 524.2,468.1 525.8,467.4 527.4,466.7 529.0,465.9 530.7,465.3 532.3,464.9 533.9,464.7 535.5,464.6 537.2,464.3 538.8,464.1 540.4,463.7 542.0,463.4 543.6,463.1 545.3,462.8 546.9,462.5 548.5,462.2 550.1,462.0 551.8,461.7 553.4,461.4 553.4,461.7 520.9,469.6Z" fill="url(#sg0)"/>
<path d="M520.9,469.3 522.6,468.7 524.2,468.1 525.8,467.4 527.4,466.7 529.0,465.9 530.7,465.3 532.3,464.9 533.9,464.7 535.5,464.6 537.2,464.3 538.8,464.1 540.4,463.7 542.0,463.4 543.6,463.1 545.3,462.8 546.9,462.5 548.5,462.2 550.1,462.0 551.8,461.7 553.4,461.4" fill="none" stroke="#3e26a8" stroke-width="0.7"/>
<path d="M520.3,470.2 522.0,469.6 523.6,469.0 525.2,468.3 526.8,467.4 528.4,466.4 530.1,465.4 531.7,464.7 533.3,464.4 534.9,464.3 536.6,464.4 538.2,464.3 539.8,464.1 541.4,463.9 543.1,463.6 544.7,463.3 546.3,463.0 547.9,462.7 549.5,462.5 551.2,462.3 552.8,462.0 554.4,461.7 556.0,461.4 556.0,461.7 520.3,470.5Z" fill="url(#sg0)"/>
<path d="M520.3,470.2 522.0,469.6 523.6,469.0 525.2,468.3 526.8,467.4 528.4,466.4" fill="none" stroke="#3e26a8" stroke-width="0.7"/>
<path d="M528.4,466.4 530.1,465.4 531.7,464.7 533.3,464.4 534.9,464.3" fill="none" stroke="#4745f0" stroke-width="0.7"/>
<path d="M534.9,464.3 536.6,464.4 538.2,464.3 539.8,464.1 541.4,463.9 543.1,463.6 544.7,463.3 546.3,463.0 547.9,462.7 549.5,462.5 551.2,462.3 552.8,462.0 554.4,461.7 556.0,461.4" fill="none" stroke="#3e26a8" stroke-width="0.7"/>
<path d="M519.7,471.0 521.4,470.5 523.0,470.0 524.6,469.2 526.2,468.3 527.9,467.1 529.5,465.7 531.1,464.3 532.7,463.5 534.3,463.3 536.0,463.6 537.6,463.9 539.2,464.2 540.8,464.1 542.5,463.9 544.1,463.6 545.7,463.3 547.3,463.1 548.9,462.9 550.6,462.7 552.2,462.5 553.8,462.3 555.4,462.1 557.1,461.8 557.1,462.2 519.7,471.3Z" fill="url(#sg0)"/>
<path d="M519.7,471.0 521.4,470.5 523.0,470.0 524.6,469.2 526.2,468.3 527.9,467.1" fill="none" stroke="#3e26a8" stroke-width="0.7"/>
<path d="M527.9,467.1 529.5,465.7 531.1,464.3 532.7,463.5 534.3,463.3 536.0,463.6 537.6,463.9 539.2,464.2" fill="none" stroke="#4745f0" stroke-width="0.7"/>
<path d="M539.2,464.2 540.8,464.1 542.5,463.9 544.1,463.6 545.7,463.3 547.3,463.1 548.9,462.9 550.6,462.7 552.2,462.5 553.8,462.3 555.4,462.1 557.1,461.8" fill="none" stroke="#3e26a8" stroke-width="0.7"/>
<path d="M520.8,471.4 522.4,470.9 524.0,470.2 525.6,469.4 527.3,468.2 528.9,466.5 530.5,464.5 532.1,462.6 533.7,461.6 535.4,461.5 537.0,462.3 538.6,463.2 540.2,463.8 541.9,463.9 543.5,463.7 545.1,463.4 546.7,463.1 548.4,462.9 550.0,462.9 551.6,462.8 553.2,462.8 554.8,462.6 556.5,462.4 558.1,462.2 559.7,461.9 559.7,462.2 520.8,471.8Z" fill="url(#sg0)"/>
<path d="M520.8,471.4 522.4,470.9 524.0,470.2 525.6,469.4 527.3,468.2" fill="none" stroke="#3e26a8" stroke-width="0.7"/>
<path d="M527.3,468.2 528.9,466.5 530.5,464.5 532.1,462.6 533.7,461.6 535.4,461.5 537.0,462.3 538.6,463.2 540.2,463.8 541.9,463.9 543.5,463.7 545.1,463.4" fill="none" stroke="#4745f0" stroke-width="0.7"/>
<path d="M545.1,463.4 546.7,463.1 548.4,462.9 550.0,462.9 551.6,462.8 553.2,462.8 554.8,462.6 556.5,462.4 558.1,462.2 559.7,461.9" fill="none" stroke="#3e26a8" stroke-width="0.7"/>
<path d="M520.2,472.3 521.8,471.8 523.4,471.2 525.0,470.5 526.7,469.5 528.3,467.9 529.9,465.5 531.5,462.7 533.2,460.1 534.8,458.7 536.4,458.9 538.0,460.3 539.6,462.0 541.3,463.1 542.9,463.5 544.5,463.3 546.1,462.9 547.8,462.6 549.4,462.5 551.0,462.6 552.6,462.8 554.2,462.9 555.9,462.9 557.5,462.7 559.1,462.5 560.7,462.3 562.4,462.0 562.4,462.3 520.2,472.6Z" fill="url(#sg0)"/>
<path d="M520.2,472.3 521.8,471.8 523.4,471.2 525.0,470.5 526.7,469.5" fill="none" stroke="#3e26a8" stroke-width="0.7"/>
<path d="M526.7,469.5 528.3,467.9 529.9,465.5 531.5,462.7" fill="none" stroke="#4745f0" stroke-width="0.7"/>
<path d="M531.5,462.7 533.2,460.1 534.8,458.7 536.4,458.9 538.0,460.3" fill="none" stroke="#3670fc" stroke-width="0.7"/>
<path d="M538.0,460.3 539.6,462.0 541.3,463.1 542.9,463.5 544.5,463.3 546.1,462.9 547.8,462.6 549.4,462.5 551.0,462.6" fill="none" stroke="#4745f0" stroke-width="0.7"/>
<path d="M551.0,462.6 552.6,462.8 554.2,462.9 555.9,462.9 557.5,462.7 559.1,462.5 560.7,462.3 562.4,462.0" fill="none" stroke="#3e26a8" stroke-width="0.7"/>
<path d="M521.2,472.7 522.8,472.2 524.4,471.6 526.1,470.7 527.7,469.5 529.3,467.4 530.9,464.2 532.6,460.3 534.2,456.8 535.8,455.0 537.4,455.6 539.0,457.8 540.7,460.4 542.3,462.1 543.9,462.7 545.5,462.5 547.2,462.0 548.8,461.6 550.4,461.7 552.0,462.1 553.7,462.5 555.3,462.9 556.9,463.0 558.5,463.0 560.1,462.9 561.8,462.7 563.4,462.4 563.4,462.7 521.2,473.1Z" fill="url(#sg0)"/>
<path d="M521.2,472.7 522.8,472.2 524.4,471.6 526.1,470.7 527.7,469.5" fill="none" stroke="#3e26a8" stroke-width="0.7"/>
<path d="M527.7,469.5 529.3,467.4 530.9,464.2" fill="none" stroke="#4745f0" stroke-width="0.7"/>
<path d="M530.9,464.2 532.6,460.3" fill="none" stroke="#3670fc" stroke-width="0.7"/>
<path d="M532.6,460.3 534.2,456.8 535.8,455.0 537.4,455.6" fill="none" stroke="#2494e8" stroke-width="0.7"/>
<path d="M537.4,455.6 539.0,457.8 540.7,460.4" fill="none" stroke="#3670fc" stroke-width="0.7"/>
<path d="M540.7,460.4 542.3,462.1 543.9,462.7 545.5,462.5 547.2,462.0 548.8,461.6 550.4,461.7 552.0,462.1 553.7,462.5" fill="none" stroke="#4745f0" stroke-width="0.7"/>
<path d="M553.7,462.5 555.3,462.9 556.9,463.0 558.5,463.0 560.1,462.9 561.8,462.7 563.4,462.4" fill="none" stroke="#3e26a8" stroke-width="0.7"/>
<path d="M520.6,473.6 522.2,473.1 523.9,472.6 525.5,471.9 527.1,471.0 528.7,469.4 530.3,466.7 532.0,462.6 533.6,457.5 535.2,452.8 536.8,450.6 538.5,451.5 540.1,454.7 541.7,458.4 543.3,460.8 544.9,461.6 546.6,461.2 548.2,460.4 549.8,460.0 551.4,460.2 553.1,461.0 554.7,461.9 556.3,462.7 557.9,463.1 559.5,463.3 561.2,463.2 562.8,463.0 564.4,462.8 566.0,462.5 566.0,462.8 520.6,473.9Z" fill="url(#sg0)"/>
<path d="M520.6,473.6 522.2,473.1 523.9,472.6 525.5,471.9 527.1,471.0" fill="none" stroke="#3e26a8" stroke-width="0.7"/>
<path d="M527.1,471.0 528.7,469.4 530.3,466.7" fill="none" stroke="#4745f0" stroke-width="0.7"/>
<path d="M530.3,466.7 532.0,462.6" fill="none" stroke="#3670fc" stroke-width="0.7"/>
<path d="M532.0,462.6 533.6,457.5" fill="none" stroke="#2494e8" stroke-width="0.7"/>
<path d="M533.6,457.5 535.2,452.8 536.8,450.6 538.5,451.5" fill="none" stroke="#19aed4" stroke-width="0.7"/>
<path d="M538.5,451.5 540.1,454.7" fill="none" stroke="#2494e8" stroke-width="0.7"/>
<path d="M540.1,454.7 541.7,458.4 543.3,460.8" fill="none" stroke="#3670fc" stroke-width="0.7"/>
<path d="M543.3,460.8 544.9,461.6 546.6,461.2 548.2,460.4 549.8,460.0 551.4,460.2 553.1,461.0 554.7,461.9 556.3,462.7" fill="none" stroke="#4745f0" stroke-width="0.7"/>
<path d="M556.3,462.7 557.9,463.1 559.5,463.3 561.2,463.2 562.8,463.0 564.4,462.8 566.0,462.5" fill="none" stroke="#3e26a8" stroke-width="0.7"/>
<path d="M521.6,474.1 523.3,473.5 524.9,472.9 526.5,472.2 528.1,471.2 529.7,469.3 531.4,466.0 533.0,460.8 534.6,454.3 536.2,448.5 537.9,445.7 539.5,447.1 541.1,451.4 542.7,456.1 544.3,459.2 546.0,460.0 547.6,459.2 549.2,457.9 550.8,457.3 552.5,457.8 554.1,459.2 555.7,460.9 557.3,462.3 558.9,463.1 560.6,463.5 562.2,463.5 563.8,463.4 565.4,463.2 567.1,462.9 567.1,463.2 521.6,474.4Z" fill="url(#sg0)"/>
<path d="M521.6,474.1 523.3,473.5 524.9,472.9 526.5,472.2 528.1,471.2" fill="none" stroke="#3e26a8" stroke-width="0.7"/>
<path d="M528.1,471.2 529.7,469.3 531.4,466.0" fill="none" stroke="#4745f0" stroke-width="0.7"/>
<path d="M531.4,466.0 533.0,460.8" fill="none" stroke="#3670fc" stroke-width="0.7"/>
<path d="M533.0,460.8 534.6,454.3" fill="none" stroke="#19aed4" stroke-width="0.7"/>
<path d="M534.6,454.3 536.2,448.5 537.9,445.7 539.5,447.1" fill="none" stroke="#20beac" stroke-width="0.7"/>
<path d="M539.5,447.1 541.1,451.4" fill="none" stroke="#19aed4" stroke-width="0.7"/>
<path d="M541.1,451.4 542.7,456.1" fill="none" stroke="#2494e8" stroke-width="0.7"/>
<path d="M542.7,456.1 544.3,459.2 546.0,460.0 547.6,459.2 549.2,457.9 550.8,457.3 552.5,457.8" fill="none" stroke="#3670fc" stroke-width="0.7"/>
<path d="M552.5,457.8 554.1,459.2 555.7,460.9 557.3,462.3" fill="none" stroke="#4745f0" stroke-width="0.7"/>
<path d="M557.3,462.3 558.9,463.1 560.6,463.5 562.2,463.5 563.8,463.4 565.4,463.2 567.1,462.9" fill="none" stroke="#3e26a8" stroke-width="0.7"/>
<path d="M522.7,474.5 524.3,473.9 525.9,473.3 527.5,472.6 529.1,471.4 530.8,469.2 532.4,465.3 534.0,459.1 535.6,451.4 537.3,444.4 538.9,441.1 540.5,442.8 542.1,448.1 543.8,453.8 545.4,457.3 547.0,457.9 548.6,456.4 550.2,454.5 551.9,453.6 553.5,454.5 555.1,456.7 556.7,459.4 558.4,461.6 560.0,463.0 561.6,463.7 563.2,463.9 564.8,463.8 566.5,463.6 568.1,463.3 568.1,463.7 522.7,474.8Z" fill="url(#sg0)"/>
<path d="M522.7,474.5 524.3,473.9 525.9,473.3 527.5,472.6 529.1,471.4" fill="none" stroke="#3e26a8" stroke-width="0.7"/>
<path d="M529.1,471.4 530.8,469.2 532.4,465.3" fill="none" stroke="#4745f0" stroke-width="0.7"/>
<path d="M532.4,465.3 534.0,459.1" fill="none" stroke="#2494e8" stroke-width="0.7"/>
<path d="M534.0,459.1 535.6,451.4" fill="none" stroke="#19aed4" stroke-width="0.7"/>
<path d="M535.6,451.4 537.3,444.4 538.9,441.1 540.5,442.8" fill="none" stroke="#52c678" stroke-width="0.7"/>
<path d="M540.5,442.8 542.1,448.1" fill="none" stroke="#20beac" stroke-width="0.7"/>
<path d="M542.1,448.1 543.8,453.8" fill="none" stroke="#2494e8" stroke-width="0.7"/>
<path d="M543.8,453.8 545.4,457.3 547.0,457.9" fill="none" stroke="#3670fc" stroke-width="0.7"/>
<path d="M547.0,457.9 548.6,456.4 550.2,454.5 551.9,453.6 553.5,454.5" fill="none" stroke="#2494e8" stroke-width="0.7"/>
<path d="M553.5,454.5 555.1,456.7" fill="none" stroke="#3670fc" stroke-width="0.7"/>
<path d="M555.1,456.7 556.7,459.4 558.4,461.6 560.0,463.0" fill="none" stroke="#4745f0" stroke-width="0.7"/>
<path d="M560.0,463.0 561.6,463.7 563.2,463.9 564.8,463.8 566.5,463.6 568.1,463.3" fill="none" stroke="#3e26a8" stroke-width="0.7"/>
<path d="M523.7,474.9 525.3,474.3 526.9,473.7 528.6,472.9 530.2,471.6 531.8,469.2 533.4,464.8 535.0,457.8 536.7,449.0 538.3,441.0 539.9,437.3 541.5,439.4 543.2,445.4 544.8,451.8 546.4,455.4 548.0,455.4 549.6,452.9 551.3,450.0 552.9,448.8 554.5,450.1 556.1,453.4 557.8,457.4 559.4,460.7 561.0,462.8 562.6,463.8 564.2,464.2 565.9,464.2 567.5,464.0 569.1,463.8 569.1,464.1 523.7,475.3Z" fill="url(#sg0)"/>
<path d="M523.7,474.9 525.3,474.3 526.9,473.7 528.6,472.9 530.2,471.6" fill="none" stroke="#3e26a8" stroke-width="0.7"/>
<path d="M530.2,471.6 531.8,469.2" fill="none" stroke="#4745f0" stroke-width="0.7"/>
<path d="M531.8,469.2 533.4,464.8" fill="none" stroke="#3670fc" stroke-width="0.7"/>
<path d="M533.4,464.8 535.0,457.8" fill="none" stroke="#2494e8" stroke-width="0.7"/>
<path d="M535.0,457.8 536.7,449.0" fill="none" stroke="#20beac" stroke-width="0.7"/>
<path d="M536.7,449.0 538.3,441.0" fill="none" stroke="#52c678" stroke-width="0.7"/>
<path d="M538.3,441.0 539.9,437.3 541.5,439.4" fill="none" stroke="#a0be40" stroke-width="0.7"/>
<path d="M541.5,439.4 543.2,445.4" fill="none" stroke="#20beac" stroke-width="0.7"/>
<path d="M543.2,445.4 544.8,451.8" fill="none" stroke="#19aed4" stroke-width="0.7"/>
<path d="M544.8,451.8 546.4,455.4 548.0,455.4 549.6,452.9" fill="none" stroke="#2494e8" stroke-width="0.7"/>
<path d="M549.6,452.9 551.3,450.0 552.9,448.8 554.5,450.1" fill="none" stroke="#19aed4" stroke-width="0.7"/>
<path d="M554.5,450.1 556.1,453.4" fill="none" stroke="#2494e8" stroke-width="0.7"/>
<path d="M556.1,453.4 557.8,457.4" fill="none" stroke="#3670fc" stroke-width="0.7"/>
<path d="M557.8,457.4 559.4,460.7 561.0,462.8" fill="none" stroke="#4745f0" stroke-width="0.7"/>
<path d="M561.0,462.8 562.6,463.8 564.2,464.2 565.9,464.2 567.5,464.0 569.1,463.8" fill="none" stroke="#3e26a8" stroke-width="0.7"/>
<path d="M523.1,475.8 524.7,475.3 526.3,474.8 528.0,474.1 529.6,473.3 531.2,471.9 532.8,469.4 534.4,464.6 536.1,457.1 537.7,447.6 539.3,439.0 540.9,435.1 542.6,437.3 544.2,443.7 545.8,450.3 547.4,453.6 549.1,452.7 550.7,448.8 552.3,444.7 553.9,443.0 555.5,444.8 557.2,449.5 558.8,454.9 560.4,459.5 562.0,462.4 563.7,463.9 565.3,464.5 566.9,464.5 568.5,464.4 570.1,464.2 571.8,463.9 571.8,464.2 523.1,476.1Z" fill="url(#sg0)"/>
<path d="M523.1,475.8 524.7,475.3 526.3,474.8 528.0,474.1 529.6,473.3 531.2,471.9" fill="none" stroke="#3e26a8" stroke-width="0.7"/>
<path d="M531.2,471.9 532.8,469.4" fill="none" stroke="#4745f0" stroke-width="0.7"/>
<path d="M532.8,469.4 534.4,464.6" fill="none" stroke="#3670fc" stroke-width="0.7"/>
<path d="M534.4,464.6 536.1,457.1" fill="none" stroke="#2494e8" stroke-width="0.7"/>
<path d="M536.1,457.1 537.7,447.6" fill="none" stroke="#20beac" stroke-width="0.7"/>
<path d="M537.7,447.6 539.3,439.0" fill="none" stroke="#a0be40" stroke-width="0.7"/>
<path d="M539.3,439.0 540.9,435.1" fill="none" stroke="#e2b832" stroke-width="0.7"/>
<path d="M540.9,435.1 542.6,437.3" fill="none" stroke="#a0be40" stroke-width="0.7"/>
<path d="M542.6,437.3 544.2,443.7" fill="none" stroke="#52c678" stroke-width="0.7"/>
<path d="M544.2,443.7 545.8,450.3" fill="none" stroke="#19aed4" stroke-width="0.7"/>
<path d="M545.8,450.3 547.4,453.6" fill="none" stroke="#2494e8" stroke-width="0.7"/>
<path d="M547.4,453.6 549.1,452.7 550.7,448.8" fill="none" stroke="#19aed4" stroke-width="0.7"/>
<path d="M550.7,448.8 552.3,444.7 553.9,443.0 555.5,444.8" fill="none" stroke="#20beac" stroke-width="0.7"/>
<path d="M555.5,444.8 557.2,449.5" fill="none" stroke="#19aed4" stroke-width="0.7"/>
<path d="M557.2,449.5 558.8,454.9" fill="none" stroke="#2494e8" stroke-width="0.7"/>
<path d="M558.8,454.9 560.4,459.5" fill="none" stroke="#3670fc" stroke-width="0.7"/>
<path d="M560.4,459.5 562.0,462.4" fill="none" stroke="#4745f0" stroke-width="0.7"/>
<path d="M562.0,462.4 563.7,463.9 565.3,464.5 566.9,464.5 568.5,464.4 570.1,464.2 571.8,463.9" fill="none" stroke="#3e26a8" stroke-width="0.7"/>
<path d="M524.1,476.3 525.7,475.7 527.4,475.2 529.0,474.5 530.6,473.7 532.2,472.3 533.9,469.7 535.5,464.9 537.1,457.2 538.7,447.5 540.3,438.8 542.0,434.7 543.6,436.9 545.2,443.2 546.8,449.5 548.5,452.1 550.1,449.9 551.7,444.4 553.3,439.0 554.9,436.8 556.6,439.2 558.2,445.2 559.8,452.3 561.4,458.2 563.1,462.1 564.7,464.0 566.3,464.8 567.9,464.9 569.5,464.8 571.2,464.6 572.8,464.3 572.8,464.6 524.1,476.6Z" fill="url(#sg0)"/>
<path d="M524.1,476.3 525.7,475.7 527.4,475.2 529.0,474.5 530.6,473.7 532.2,472.3" fill="none" stroke="#3e26a8" stroke-width="0.7"/>
<path d="M532.2,472.3 533.9,469.7" fill="none" stroke="#4745f0" stroke-width="0.7"/>
<path d="M533.9,469.7 535.5,464.9" fill="none" stroke="#3670fc" stroke-width="0.7"/>
<path d="M535.5,464.9 537.1,457.2" fill="none" stroke="#2494e8" stroke-width="0.7"/>
<path d="M537.1,457.2 538.7,447.5" fill="none" stroke="#20beac" stroke-width="0.7"/>
<path d="M538.7,447.5 540.3,438.8" fill="none" stroke="#a0be40" stroke-width="0.7"/>
<path d="M540.3,438.8 542.0,434.7" fill="none" stroke="#e2b832" stroke-width="0.7"/>
<path d="M542.0,434.7 543.6,436.9" fill="none" stroke="#a0be40" stroke-width="0.7"/>
<path d="M543.6,436.9 545.2,443.2" fill="none" stroke="#52c678" stroke-width="0.7"/>
<path d="M545.2,443.2 546.8,449.5 548.5,452.1 550.1,449.9" fill="none" stroke="#19aed4" stroke-width="0.7"/>
<path d="M550.1,449.9 551.7,444.4" fill="none" stroke="#20beac" stroke-width="0.7"/>
<path d="M551.7,444.4 553.3,439.0" fill="none" stroke="#52c678" stroke-width="0.7"/>
<path d="M553.3,439.0 554.9,436.8" fill="none" stroke="#a0be40" stroke-width="0.7"/>
<path d="M554.9,436.8 556.6,439.2" fill="none" stroke="#52c678" stroke-width="0.7"/>
<path d="M556.6,439.2 558.2,445.2" fill="none" stroke="#20beac" stroke-width="0.7"/>
<path d="M558.2,445.2 559.8,452.3" fill="none" stroke="#2494e8" stroke-width="0.7"/>
<path d="M559.8,452.3 561.4,458.2" fill="none" stroke="#3670fc" stroke-width="0.7"/>
<path d="M561.4,458.2 563.1,462.1 564.7,464.0" fill="none" stroke="#4745f0" stroke-width="0.7"/>
<path d="M564.7,464.0 566.3,464.8 567.9,464.9 569.5,464.8 571.2,464.6 572.8,464.3" fill="none" stroke="#3e26a8" stroke-width="0.7"/>
<path d="M525.1,476.7 526.8,476.2 528.4,475.6 530.0,475.0 531.6,474.1 533.3,472.7 534.9,470.2 536.5,465.5 538.1,458.1 539.7,448.8 541.4,440.4 543.0,436.4 544.6,438.4 546.2,444.2 547.9,449.7 549.5,451.1 551.1,447.4 552.7,440.3 554.4,433.5 556.0,430.8 557.6,433.7 559.2,441.1 560.8,449.8 562.5,457.0 564.1,461.8 565.7,464.2 567.3,465.1 569.0,465.3 570.6,465.3 572.2,465.1 573.8,464.8 573.8,465.1 525.1,477.0Z" fill="url(#sg0)"/>
<path d="M525.1,476.7 526.8,476.2 528.4,475.6 530.0,475.0 531.6,474.1 533.3,472.7" fill="none" stroke="#3e26a8" stroke-width="0.7"/>
<path d="M533.3,472.7 534.9,470.2" fill="none" stroke="#4745f0" stroke-width="0.7"/>
<path d="M534.9,470.2 536.5,465.5" fill="none" stroke="#3670fc" stroke-width="0.7"/>
<path d="M536.5,465.5 538.1,458.1" fill="none" stroke="#2494e8" stroke-width="0.7"/>
<path d="M538.1,458.1 539.7,448.8" fill="none" stroke="#20beac" stroke-width="0.7"/>
<path d="M539.7,448.8 541.4,440.4" fill="none" stroke="#a0be40" stroke-width="0.7"/>
<path d="M541.4,440.4 543.0,436.4" fill="none" stroke="#e2b832" stroke-width="0.7"/>
<path d="M543.0,436.4 544.6,438.4" fill="none" stroke="#a0be40" stroke-width="0.7"/>
<path d="M544.6,438.4 546.2,444.2" fill="none" stroke="#52c678" stroke-width="0.7"/>
<path d="M546.2,444.2 547.9,449.7" fill="none" stroke="#20beac" stroke-width="0.7"/>
<path d="M547.9,449.7 549.5,451.1" fill="none" stroke="#19aed4" stroke-width="0.7"/>
<path d="M549.5,451.1 551.1,447.4" fill="none" stroke="#20beac" stroke-width="0.7"/>
<path d="M551.1,447.4 552.7,440.3" fill="none" stroke="#52c678" stroke-width="0.7"/>
<path d="M552.7,440.3 554.4,433.5 556.0,430.8" fill="none" stroke="#e2b832" stroke-width="0.7"/>
<path d="M556.0,430.8 557.6,433.7" fill="none" stroke="#a0be40" stroke-width="0.7"/>
<path d="M557.6,433.7 559.2,441.1" fill="none" stroke="#52c678" stroke-width="0.7"/>
<path d="M559.2,441.1 560.8,449.8" fill="none" stroke="#19aed4" stroke-width="0.7"/>
<path d="M560.8,449.8 562.5,457.0" fill="none" stroke="#3670fc" stroke-width="0.7"/>
<path d="M562.5,457.0 564.1,461.8 565.7,464.2" fill="none" stroke="#4745f0" stroke-width="0.7"/>
<path d="M565.7,464.2 567.3,465.1 569.0,465.3 570.6,465.3 572.2,465.1 573.8,464.8" fill="none" stroke="#3e26a8" stroke-width="0.7"/>
<path d="M526.2,477.2 527.8,476.6 529.4,476.1 531.0,475.4 532.7,474.6 534.3,473.3 535.9,470.9 537.5,466.6 539.2,459.8 540.8,451.3 542.4,443.6 544.0,439.9 545.6,441.5 547.3,446.5 548.9,450.8 550.5,450.9 552.1,445.7 553.8,437.1 555.4,429.2 557.0,426.0 558.6,429.4 560.2,437.8 561.9,447.8 563.5,456.2 565.1,461.6 566.7,464.4 568.4,465.5 570.0,465.8 571.6,465.7 573.2,465.5 574.8,465.2 574.8,465.5 526.2,477.5Z" fill="url(#sg0)"/>
<path d="M526.2,477.2 527.8,476.6 529.4,476.1 531.0,475.4 532.7,474.6 534.3,473.3" fill="none" stroke="#3e26a8" stroke-width="0.7"/>
<path d="M534.3,473.3 535.9,470.9" fill="none" stroke="#4745f0" stroke-width="0.7"/>
<path d="M535.9,470.9 537.5,466.6" fill="none" stroke="#3670fc" stroke-width="0.7"/>
<path d="M537.5,466.6 539.2,459.8" fill="none" stroke="#2494e8" stroke-width="0.7"/>
<path d="M539.2,459.8 540.8,451.3" fill="none" stroke="#20beac" stroke-width="0.7"/>
<path d="M540.8,451.3 542.4,443.6" fill="none" stroke="#52c678" stroke-width="0.7"/>
<path d="M542.4,443.6 544.0,439.9" fill="none" stroke="#a0be40" stroke-width="0.7"/>
<path d="M544.0,439.9 545.6,441.5" fill="none" stroke="#52c678" stroke-width="0.7"/>
<path d="M545.6,441.5 547.3,446.5" fill="none" stroke="#20beac" stroke-width="0.7"/>
<path d="M547.3,446.5 548.9,450.8 550.5,450.9" fill="none" stroke="#19aed4" stroke-width="0.7"/>
<path d="M550.5,450.9 552.1,445.7" fill="none" stroke="#20beac" stroke-width="0.7"/>
<path d="M552.1,445.7 553.8,437.1" fill="none" stroke="#a0be40" stroke-width="0.7"/>
<path d="M553.8,437.1 555.4,429.2 557.0,426.0" fill="none" stroke="#fcce2e" stroke-width="0.7"/>
<path d="M557.0,426.0 558.6,429.4" fill="none" stroke="#e2b832" stroke-width="0.7"/>
<path d="M558.6,429.4 560.2,437.8" fill="none" stroke="#a0be40" stroke-width="0.7"/>
<path d="M560.2,437.8 561.9,447.8" fill="none" stroke="#19aed4" stroke-width="0.7"/>
<path d="M561.9,447.8 563.5,456.2" fill="none" stroke="#2494e8" stroke-width="0.7"/>
<path d="M563.5,456.2 565.1,461.6 566.7,464.4" fill="none" stroke="#4745f0" stroke-width="0.7"/>
<path d="M566.7,464.4 568.4,465.5 570.0,465.8 571.6,465.7 573.2,465.5 574.8,465.2" fill="none" stroke="#3e26a8" stroke-width="0.7"/>
<path d="M527.2,477.6 528.8,477.1 530.4,476.5 532.1,475.9 533.7,475.1 535.3,473.8 536.9,471.7 538.6,467.9 540.2,462.0 541.8,454.7 543.4,448.0 545.0,444.7 546.7,445.9 548.3,449.7 549.9,452.6 551.5,451.4 553.2,445.0 554.8,435.4 556.4,426.6 558.0,423.1 559.6,426.8 561.3,435.9 562.9,446.7 564.5,455.8 566.1,461.7 567.8,464.7 569.4,465.9 571.0,466.2 572.6,466.1 574.3,465.9 575.9,465.7 575.9,466.0 527.2,477.9Z" fill="url(#sg0)"/>
<path d="M527.2,477.6 528.8,477.1 530.4,476.5 532.1,475.9 533.7,475.1 535.3,473.8" fill="none" stroke="#3e26a8" stroke-width="0.7"/>
<path d="M535.3,473.8 536.9,471.7" fill="none" stroke="#4745f0" stroke-width="0.7"/>
<path d="M536.9,471.7 538.6,467.9" fill="none" stroke="#3670fc" stroke-width="0.7"/>
<path d="M538.6,467.9 540.2,462.0" fill="none" stroke="#2494e8" stroke-width="0.7"/>
<path d="M540.2,462.0 541.8,454.7" fill="none" stroke="#19aed4" stroke-width="0.7"/>
<path d="M541.8,454.7 543.4,448.0" fill="none" stroke="#20beac" stroke-width="0.7"/>
<path d="M543.4,448.0 545.0,444.7 546.7,445.9" fill="none" stroke="#52c678" stroke-width="0.7"/>
<path d="M546.7,445.9 548.3,449.7" fill="none" stroke="#20beac" stroke-width="0.7"/>
<path d="M548.3,449.7 549.9,452.6 551.5,451.4" fill="none" stroke="#19aed4" stroke-width="0.7"/>
<path d="M551.5,451.4 553.2,445.0" fill="none" stroke="#52c678" stroke-width="0.7"/>
<path d="M553.2,445.0 554.8,435.4" fill="none" stroke="#a0be40" stroke-width="0.7"/>
<path d="M554.8,435.4 556.4,426.6" fill="none" stroke="#fcce2e" stroke-width="0.7"/>
<path d="M556.4,426.6 558.0,423.1" fill="none" stroke="#f9fb0e" stroke-width="0.7"/>
<path d="M558.0,423.1 559.6,426.8" fill="none" stroke="#fcce2e" stroke-width="0.7"/>
<path d="M559.6,426.8 561.3,435.9" fill="none" stroke="#a0be40" stroke-width="0.7"/>
<path d="M561.3,435.9 562.9,446.7" fill="none" stroke="#20beac" stroke-width="0.7"/>
<path d="M562.9,446.7 564.5,455.8" fill="none" stroke="#2494e8" stroke-width="0.7"/>
<path d="M564.5,455.8 566.1,461.7 567.8,464.7" fill="none" stroke="#4745f0" stroke-width="0.7"/>
<path d="M567.8,464.7 569.4,465.9 571.0,466.2 572.6,466.1 574.3,465.9 575.9,465.7" fill="none" stroke="#3e26a8" stroke-width="0.7"/>
<path d="M528.2,478.1 529.8,477.5 531.5,477.0 533.1,476.3 534.7,475.6 536.3,474.5 538.0,472.6 539.6,469.4 541.2,464.6 542.8,458.5 544.5,453.0 546.1,450.2 547.7,450.9 549.3,453.5 550.9,455.1 552.6,452.7 554.2,445.6 555.8,435.4 557.4,426.4 559.1,422.8 560.7,426.5 562.3,435.8 563.9,446.9 565.5,456.1 567.2,462.1 568.8,465.1 570.4,466.3 572.0,466.7 573.7,466.6 575.3,466.4 576.9,466.1 576.9,466.4 528.2,478.4Z" fill="url(#sg0)"/>
<path d="M528.2,478.1 529.8,477.5 531.5,477.0 533.1,476.3 534.7,475.6 536.3,474.5" fill="none" stroke="#3e26a8" stroke-width="0.7"/>
<path d="M536.3,474.5 538.0,472.6 539.6,469.4" fill="none" stroke="#4745f0" stroke-width="0.7"/>
<path d="M539.6,469.4 541.2,464.6" fill="none" stroke="#3670fc" stroke-width="0.7"/>
<path d="M541.2,464.6 542.8,458.5" fill="none" stroke="#2494e8" stroke-width="0.7"/>
<path d="M542.8,458.5 544.5,453.0" fill="none" stroke="#19aed4" stroke-width="0.7"/>
<path d="M544.5,453.0 546.1,450.2 547.7,450.9" fill="none" stroke="#20beac" stroke-width="0.7"/>
<path d="M547.7,450.9 549.3,453.5 550.9,455.1 552.6,452.7" fill="none" stroke="#19aed4" stroke-width="0.7"/>
<path d="M552.6,452.7 554.2,445.6" fill="none" stroke="#52c678" stroke-width="0.7"/>
<path d="M554.2,445.6 555.8,435.4" fill="none" stroke="#e2b832" stroke-width="0.7"/>
<path d="M555.8,435.4 557.4,426.4" fill="none" stroke="#fcce2e" stroke-width="0.7"/>
<path d="M557.4,426.4 559.1,422.8" fill="none" stroke="#f9fb0e" stroke-width="0.7"/>
<path d="M559.1,422.8 560.7,426.5" fill="none" stroke="#fcce2e" stroke-width="0.7"/>
<path d="M560.7,426.5 562.3,435.8" fill="none" stroke="#a0be40" stroke-width="0.7"/>
<path d="M562.3,435.8 563.9,446.9" fill="none" stroke="#20beac" stroke-width="0.7"/>
<path d="M563.9,446.9 565.5,456.1" fill="none" stroke="#2494e8" stroke-width="0.7"/>
<path d="M565.5,456.1 567.2,462.1 568.8,465.1" fill="none" stroke="#4745f0" stroke-width="0.7"/>
<path d="M568.8,465.1 570.4,466.3 572.0,466.7 573.7,466.6 575.3,466.4 576.9,466.1" fill="none" stroke="#3e26a8" stroke-width="0.7"/>
<path d="M529.3,478.5 530.9,478.0 532.5,477.4 534.1,476.8 535.7,476.1 537.4,475.1 539.0,473.5 540.6,471.0 542.2,467.1 543.9,462.3 545.5,458.0 547.1,455.7 548.7,455.9 550.3,457.5 552.0,457.9 553.6,454.8 555.2,447.4 556.8,437.4 558.5,428.7 560.1,425.2 561.7,428.7 563.3,437.6 564.9,448.2 566.6,457.0 568.2,462.8 569.8,465.7 571.4,466.9 573.1,467.1 574.7,467.1 576.3,466.9 577.9,466.6 577.9,466.9 529.3,478.8Z" fill="url(#sg0)"/>
<path d="M529.3,478.5 530.9,478.0 532.5,477.4 534.1,476.8 535.7,476.1 537.4,475.1" fill="none" stroke="#3e26a8" stroke-width="0.7"/>
<path d="M537.4,475.1 539.0,473.5 540.6,471.0" fill="none" stroke="#4745f0" stroke-width="0.7"/>
<path d="M540.6,471.0 542.2,467.1" fill="none" stroke="#3670fc" stroke-width="0.7"/>
<path d="M542.2,467.1 543.9,462.3" fill="none" stroke="#2494e8" stroke-width="0.7"/>
<path d="M543.9,462.3 545.5,458.0 547.1,455.7 548.7,455.9" fill="none" stroke="#19aed4" stroke-width="0.7"/>
<path d="M548.7,455.9 550.3,457.5 552.0,457.9" fill="none" stroke="#2494e8" stroke-width="0.7"/>
<path d="M552.0,457.9 553.6,454.8" fill="none" stroke="#19aed4" stroke-width="0.7"/>
<path d="M553.6,454.8 555.2,447.4" fill="none" stroke="#20beac" stroke-width="0.7"/>
<path d="M555.2,447.4 556.8,437.4" fill="none" stroke="#a0be40" stroke-width="0.7"/>
<path d="M556.8,437.4 558.5,428.7" fill="none" stroke="#fcce2e" stroke-width="0.7"/>
<path d="M558.5,428.7 560.1,425.2" fill="none" stroke="#f9fb0e" stroke-width="0.7"/>
<path d="M560.1,425.2 561.7,428.7" fill="none" stroke="#fcce2e" stroke-width="0.7"/>
<path d="M561.7,428.7 563.3,437.6" fill="none" stroke="#a0be40" stroke-width="0.7"/>
<path d="M563.3,437.6 564.9,448.2" fill="none" stroke="#20beac" stroke-width="0.7"/>
<path d="M564.9,448.2 566.6,457.0" fill="none" stroke="#2494e8" stroke-width="0.7"/>
<path d="M566.6,457.0 568.2,462.8 569.8,465.7" fill="none" stroke="#4745f0" stroke-width="0.7"/>
<path d="M569.8,465.7 571.4,466.9 573.1,467.1 574.7,467.1 576.3,466.9 577.9,466.6" fill="none" stroke="#3e26a8" stroke-width="0.7"/>
<path d="M530.3,479.0 531.9,478.5 533.5,477.9 535.1,477.3 536.8,476.6 538.4,475.7 540.0,474.4 541.6,472.4 543.3,469.4 544.9,465.8 546.5,462.5 548.1,460.7 549.8,460.6 551.4,461.3 553.0,460.8 554.6,457.3 556.2,450.3 557.9,441.1 559.5,433.1 561.1,429.9 562.7,433.0 564.4,441.1 566.0,450.6 567.6,458.6 569.2,463.8 570.8,466.4 572.5,467.4 574.1,467.7 575.7,467.6 577.3,467.3 579.0,467.1 579.0,467.3 530.3,479.3Z" fill="url(#sg0)"/>
<path d="M530.3,479.0 531.9,478.5 533.5,477.9 535.1,477.3 536.8,476.6 538.4,475.7" fill="none" stroke="#3e26a8" stroke-width="0.7"/>
<path d="M538.4,475.7 540.0,474.4 541.6,472.4 543.3,469.4" fill="none" stroke="#4745f0" stroke-width="0.7"/>
<path d="M543.3,469.4 544.9,465.8" fill="none" stroke="#3670fc" stroke-width="0.7"/>
<path d="M544.9,465.8 546.5,462.5 548.1,460.7 549.8,460.6 551.4,461.3 553.0,460.8 554.6,457.3" fill="none" stroke="#2494e8" stroke-width="0.7"/>
<path d="M554.6,457.3 556.2,450.3" fill="none" stroke="#20beac" stroke-width="0.7"/>
<path d="M556.2,450.3 557.9,441.1" fill="none" stroke="#a0be40" stroke-width="0.7"/>
<path d="M557.9,441.1 559.5,433.1" fill="none" stroke="#e2b832" stroke-width="0.7"/>
<path d="M559.5,433.1 561.1,429.9" fill="none" stroke="#fcce2e" stroke-width="0.7"/>
<path d="M561.1,429.9 562.7,433.0" fill="none" stroke="#e2b832" stroke-width="0.7"/>
<path d="M562.7,433.0 564.4,441.1" fill="none" stroke="#52c678" stroke-width="0.7"/>
<path d="M564.4,441.1 566.0,450.6" fill="none" stroke="#19aed4" stroke-width="0.7"/>
<path d="M566.0,450.6 567.6,458.6" fill="none" stroke="#3670fc" stroke-width="0.7"/>
<path d="M567.6,458.6 569.2,463.8 570.8,466.4" fill="none" stroke="#4745f0" stroke-width="0.7"/>
<path d="M570.8,466.4 572.5,467.4 574.1,467.7 575.7,467.6 577.3,467.3 579.0,467.1" fill="none" stroke="#3e26a8" stroke-width="0.7"/>
<path d="M532.9,479.0 534.6,478.4 536.2,477.8 537.8,477.2 539.4,476.4 541.0,475.3 542.7,473.7 544.3,471.5 545.9,468.8 547.5,466.4 549.2,464.9 550.8,464.5 552.4,464.6 554.0,463.6 555.6,460.2 557.3,453.9 558.9,445.9 560.5,439.0 562.1,436.2 563.8,438.9 565.4,445.7 567.0,453.8 568.6,460.6 570.2,465.0 571.9,467.2 573.5,468.0 575.1,468.2 576.7,468.1 578.4,467.8 578.4,468.2 532.9,479.3Z" fill="url(#sg0)"/>
<path d="M532.9,479.0 534.6,478.4 536.2,477.8 537.8,477.2 539.4,476.4 541.0,475.3" fill="none" stroke="#3e26a8" stroke-width="0.7"/>
<path d="M541.0,475.3 542.7,473.7 544.3,471.5" fill="none" stroke="#4745f0" stroke-width="0.7"/>
<path d="M544.3,471.5 545.9,468.8 547.5,466.4 549.2,464.9 550.8,464.5 552.4,464.6 554.0,463.6" fill="none" stroke="#3670fc" stroke-width="0.7"/>
<path d="M554.0,463.6 555.6,460.2" fill="none" stroke="#2494e8" stroke-width="0.7"/>
<path d="M555.6,460.2 557.3,453.9" fill="none" stroke="#19aed4" stroke-width="0.7"/>
<path d="M557.3,453.9 558.9,445.9" fill="none" stroke="#52c678" stroke-width="0.7"/>
<path d="M558.9,445.9 560.5,439.0 562.1,436.2 563.8,438.9" fill="none" stroke="#a0be40" stroke-width="0.7"/>
<path d="M563.8,438.9 565.4,445.7" fill="none" stroke="#20beac" stroke-width="0.7"/>
<path d="M565.4,445.7 567.0,453.8" fill="none" stroke="#19aed4" stroke-width="0.7"/>
<path d="M567.0,453.8 568.6,460.6" fill="none" stroke="#3670fc" stroke-width="0.7"/>
<path d="M568.6,460.6 570.2,465.0 571.9,467.2" fill="none" stroke="#4745f0" stroke-width="0.7"/>
<path d="M571.9,467.2 573.5,468.0 575.1,468.2 576.7,468.1 578.4,467.8" fill="none" stroke="#3e26a8" stroke-width="0.7"/>
<path d="M534.0,479.4 535.6,478.9 537.2,478.3 538.8,477.7 540.4,477.0 542.1,476.1 543.7,474.8 545.3,473.2 546.9,471.3 548.6,469.5 550.2,468.3 551.8,467.8 553.4,467.4 555.0,466.2 556.7,463.2 558.3,457.9 559.9,451.3 561.5,445.7 563.2,443.4 564.8,445.5 566.4,451.0 568.0,457.4 569.7,462.8 571.3,466.3 572.9,468.0 574.5,468.6 576.1,468.7 577.8,468.6 579.4,468.3 579.4,468.6 534.0,479.8Z" fill="url(#sg0)"/>
<path d="M534.0,479.4 535.6,478.9 537.2,478.3 538.8,477.7 540.4,477.0 542.1,476.1" fill="none" stroke="#3e26a8" stroke-width="0.7"/>
<path d="M542.1,476.1 543.7,474.8 545.3,473.2 546.9,471.3 548.6,469.5" fill="none" stroke="#4745f0" stroke-width="0.7"/>
<path d="M548.6,469.5 550.2,468.3 551.8,467.8 553.4,467.4 555.0,466.2 556.7,463.2" fill="none" stroke="#3670fc" stroke-width="0.7"/>
<path d="M556.7,463.2 558.3,457.9" fill="none" stroke="#2494e8" stroke-width="0.7"/>
<path d="M558.3,457.9 559.9,451.3" fill="none" stroke="#20beac" stroke-width="0.7"/>
<path d="M559.9,451.3 561.5,445.7 563.2,443.4 564.8,445.5" fill="none" stroke="#52c678" stroke-width="0.7"/>
<path d="M564.8,445.5 566.4,451.0" fill="none" stroke="#19aed4" stroke-width="0.7"/>
<path d="M566.4,451.0 568.0,457.4" fill="none" stroke="#2494e8" stroke-width="0.7"/>
<path d="M568.0,457.4 569.7,462.8" fill="none" stroke="#3670fc" stroke-width="0.7"/>
<path d="M569.7,462.8 571.3,466.3" fill="none" stroke="#4745f0" stroke-width="0.7"/>
<path d="M571.3,466.3 572.9,468.0 574.5,468.6 576.1,468.7 577.8,468.6 579.4,468.3" fill="none" stroke="#3e26a8" stroke-width="0.7"/>
<path d="M535.0,479.9 536.6,479.4 538.2,478.9 539.9,478.3 541.5,477.6 543.1,476.8 544.7,475.8 546.3,474.6 548.0,473.2 549.6,471.8 551.2,470.9 552.8,470.3 554.5,469.7 556.1,468.5 557.7,465.9 559.3,461.8 560.9,456.7 562.6,452.4 564.2,450.6 565.8,452.1 567.4,456.2 569.1,461.0 570.7,465.1 572.3,467.6 573.9,468.9 575.5,469.3 577.2,469.2 578.8,469.1 580.4,468.8 580.4,469.1 535.0,480.2Z" fill="url(#sg0)"/>
<path d="M535.0,479.9 536.6,479.4 538.2,478.9 539.9,478.3 541.5,477.6 543.1,476.8 544.7,475.8" fill="none" stroke="#3e26a8" stroke-width="0.7"/>
<path d="M544.7,475.8 546.3,474.6 548.0,473.2 549.6,471.8 551.2,470.9 552.8,470.3 554.5,469.7 556.1,468.5" fill="none" stroke="#4745f0" stroke-width="0.7"/>
<path d="M556.1,468.5 557.7,465.9" fill="none" stroke="#3670fc" stroke-width="0.7"/>
<path d="M557.7,465.9 559.3,461.8" fill="none" stroke="#2494e8" stroke-width="0.7"/>
<path d="M559.3,461.8 560.9,456.7 562.6,452.4" fill="none" stroke="#19aed4" stroke-width="0.7"/>
<path d="M562.6,452.4 564.2,450.6" fill="none" stroke="#20beac" stroke-width="0.7"/>
<path d="M564.2,450.6 565.8,452.1" fill="none" stroke="#19aed4" stroke-width="0.7"/>
<path d="M565.8,452.1 567.4,456.2" fill="none" stroke="#2494e8" stroke-width="0.7"/>
<path d="M567.4,456.2 569.1,461.0" fill="none" stroke="#3670fc" stroke-width="0.7"/>
<path d="M569.1,461.0 570.7,465.1 572.3,467.6" fill="none" stroke="#4745f0" stroke-width="0.7"/>
<path d="M572.3,467.6 573.9,468.9 575.5,469.3 577.2,469.2 578.8,469.1 580.4,468.8" fill="none" stroke="#3e26a8" stroke-width="0.7"/>
<path d="M537.6,479.9 539.3,479.4 540.9,478.8 542.5,478.2 544.1,477.5 545.7,476.7 547.4,475.7 549.0,474.6 550.6,473.6 552.2,472.8 553.9,472.2 555.5,471.6 557.1,470.5 558.7,468.4 560.3,465.3 562.0,461.6 563.6,458.4 565.2,457.1 566.8,458.1 568.5,460.9 570.1,464.3 571.7,467.1 573.3,468.9 575.0,469.7 576.6,469.9 578.2,469.8 579.8,469.6 579.8,469.9 537.6,480.3Z" fill="url(#sg0)"/>
<path d="M537.6,479.9 539.3,479.4 540.9,478.8 542.5,478.2 544.1,477.5 545.7,476.7 547.4,475.7" fill="none" stroke="#3e26a8" stroke-width="0.7"/>
<path d="M547.4,475.7 549.0,474.6 550.6,473.6 552.2,472.8 553.9,472.2 555.5,471.6 557.1,470.5 558.7,468.4" fill="none" stroke="#4745f0" stroke-width="0.7"/>
<path d="M558.7,468.4 560.3,465.3" fill="none" stroke="#3670fc" stroke-width="0.7"/>
<path d="M560.3,465.3 562.0,461.6 563.6,458.4 565.2,457.1 566.8,458.1" fill="none" stroke="#2494e8" stroke-width="0.7"/>
<path d="M566.8,458.1 568.5,460.9 570.1,464.3" fill="none" stroke="#3670fc" stroke-width="0.7"/>
<path d="M570.1,464.3 571.7,467.1 573.3,468.9" fill="none" stroke="#4745f0" stroke-width="0.7"/>
<path d="M573.3,468.9 575.0,469.7 576.6,469.9 578.2,469.8 579.8,469.6" fill="none" stroke="#3e26a8" stroke-width="0.7"/>
<path d="M538.7,480.4 540.3,479.9 541.9,479.4 543.5,478.8 545.2,478.1 546.8,477.4 548.4,476.7 550.0,475.8 551.6,475.0 553.3,474.3 554.9,473.7 556.5,473.0 558.1,472.1 559.8,470.6 561.4,468.3 563.0,465.7 564.6,463.5 566.2,462.5 567.9,463.1 569.5,464.9 571.1,467.1 572.7,468.9 574.4,470.0 576.0,470.4 577.6,470.5 579.2,470.3 580.8,470.1 580.8,470.4 538.7,480.7Z" fill="url(#sg0)"/>
<path d="M538.7,480.4 540.3,479.9 541.9,479.4 543.5,478.8 545.2,478.1 546.8,477.4 548.4,476.7 550.0,475.8" fill="none" stroke="#3e26a8" stroke-width="0.7"/>
<path d="M550.0,475.8 551.6,475.0 553.3,474.3 554.9,473.7 556.5,473.0 558.1,472.1 559.8,470.6 561.4,468.3" fill="none" stroke="#4745f0" stroke-width="0.7"/>
<path d="M561.4,468.3 563.0,465.7 564.6,463.5 566.2,462.5 567.9,463.1 569.5,464.9" fill="none" stroke="#3670fc" stroke-width="0.7"/>
<path d="M569.5,464.9 571.1,467.1 572.7,468.9" fill="none" stroke="#4745f0" stroke-width="0.7"/>
<path d="M572.7,468.9 574.4,470.0 576.0,470.4 577.6,470.5 579.2,470.3 580.8,470.1" fill="none" stroke="#3e26a8" stroke-width="0.7"/>
<path d="M541.3,480.4 542.9,479.9 544.6,479.3 546.2,478.8 547.8,478.1 549.4,477.5 551.0,476.8 552.7,476.1 554.3,475.4 555.9,474.9 557.5,474.3 559.2,473.5 560.8,472.3 562.4,470.7 564.0,469.0 565.6,467.4 567.3,466.7 568.9,467.0 570.5,468.0 572.1,469.3 573.8,470.4 575.4,471.0 577.0,471.1 578.6,471.1 580.3,470.8 581.9,470.6 581.9,470.8 541.3,480.8Z" fill="url(#sg0)"/>
<path d="M541.3,480.4 542.9,479.9 544.6,479.3 546.2,478.8 547.8,478.1 549.4,477.5 551.0,476.8 552.7,476.1 554.3,475.4 555.9,474.9" fill="none" stroke="#3e26a8" stroke-width="0.7"/>
<path d="M555.9,474.9 557.5,474.3 559.2,473.5 560.8,472.3 562.4,470.7 564.0,469.0" fill="none" stroke="#4745f0" stroke-width="0.7"/>
<path d="M564.0,469.0 565.6,467.4 567.3,466.7" fill="none" stroke="#3670fc" stroke-width="0.7"/>
<path d="M567.3,466.7 568.9,467.0 570.5,468.0 572.1,469.3 573.8,470.4" fill="none" stroke="#4745f0" stroke-width="0.7"/>
<path d="M573.8,470.4 575.4,471.0 577.0,471.1 578.6,471.1 580.3,470.8 581.9,470.6" fill="none" stroke="#3e26a8" stroke-width="0.7"/>
<path d="M542.3,480.9 544.0,480.4 545.6,479.9 547.2,479.4 548.8,478.8 550.5,478.2 552.1,477.6 553.7,477.0 555.3,476.4 556.9,475.8 558.6,475.3 560.2,474.6 561.8,473.8 563.4,472.7 565.1,471.5 566.7,470.4 568.3,469.9 569.9,469.9 571.5,470.4 573.2,471.1 574.8,471.6 576.4,471.8 578.0,471.8 579.7,471.6 581.3,471.4 581.3,471.7 542.3,481.2Z" fill="url(#sg0)"/>
<path d="M542.3,480.9 544.0,480.4 545.6,479.9 547.2,479.4 548.8,478.8 550.5,478.2 552.1,477.6 553.7,477.0 555.3,476.4 556.9,475.8 558.6,475.3 560.2,474.6" fill="none" stroke="#3e26a8" stroke-width="0.7"/>
<path d="M560.2,474.6 561.8,473.8 563.4,472.7 565.1,471.5 566.7,470.4 568.3,469.9 569.9,469.9 571.5,470.4 573.2,471.1" fill="none" stroke="#4745f0" stroke-width="0.7"/>
<path d="M573.2,471.1 574.8,471.6 576.4,471.8 578.0,471.8 579.7,471.6 581.3,471.4" fill="none" stroke="#3e26a8" stroke-width="0.7"/>
<path d="M545.0,480.9 546.6,480.4 548.2,479.9 549.9,479.4 551.5,478.8 553.1,478.3 554.7,477.7 556.3,477.2 558.0,476.7 559.6,476.2 561.2,475.6 562.8,474.9 564.5,474.1 566.1,473.3 567.7,472.6 569.3,472.1 570.9,472.0 572.6,472.2 574.2,472.4 575.8,472.6 577.4,472.6 579.1,472.4 580.7,472.2 580.7,472.5 545.0,481.3Z" fill="url(#sg0)"/>
<path d="M545.0,480.9 546.6,480.4 548.2,479.9 549.9,479.4 551.5,478.8 553.1,478.3 554.7,477.7 556.3,477.2 558.0,476.7 559.6,476.2 561.2,475.6 562.8,474.9 564.5,474.1" fill="none" stroke="#3e26a8" stroke-width="0.7"/>
<path d="M564.5,474.1 566.1,473.3 567.7,472.6 569.3,472.1 570.9,472.0" fill="none" stroke="#4745f0" stroke-width="0.7"/>
<path d="M570.9,472.0 572.6,472.2 574.2,472.4 575.8,472.6 577.4,472.6 579.1,472.4 580.7,472.2" fill="none" stroke="#3e26a8" stroke-width="0.7"/>
<path d="M547.6,481.0 549.3,480.5 550.9,480.0 552.5,479.5 554.1,478.9 555.7,478.4 557.4,477.9 559.0,477.4 560.6,476.9 562.2,476.4 563.9,475.9 565.5,475.3 567.1,474.7 568.7,474.1 570.4,473.7 572.0,473.5 573.6,473.5 575.2,473.4 576.8,473.4 578.5,473.2 580.1,473.0 581.7,472.7 581.7,473.0 547.6,481.3Z" fill="url(#sg0)"/>
<path d="M547.6,481.0 549.3,480.5 550.9,480.0 552.5,479.5 554.1,478.9 555.7,478.4 557.4,477.9 559.0,477.4 560.6,476.9 562.2,476.4 563.9,475.9 565.5,475.3 567.1,474.7 568.7,474.1 570.4,473.7 572.0,473.5 573.6,473.5 575.2,473.4 576.8,473.4 578.5,473.2 580.1,473.0 581.7,472.7" fill="none" stroke="#3e26a8" stroke-width="0.7"/>
<path d="M550.3,481.0 551.9,480.5 553.5,480.1 555.2,479.6 556.8,479.1 558.4,478.6 560.0,478.1 561.6,477.7 563.3,477.2 564.9,476.7 566.5,476.2 568.1,475.7 569.8,475.3 571.4,474.9 573.0,474.6 574.6,474.4 576.2,474.3 577.9,474.1 579.5,473.8 581.1,473.5 581.1,473.8 550.3,481.4Z" fill="url(#sg0)"/>
<path d="M550.3,481.0 551.9,480.5 553.5,480.1 555.2,479.6 556.8,479.1 558.4,478.6 560.0,478.1 561.6,477.7 563.3,477.2 564.9,476.7 566.5,476.2 568.1,475.7 569.8,475.3 571.4,474.9 573.0,474.6 574.6,474.4 576.2,474.3 577.9,474.1 579.5,473.8 581.1,473.5" fill="none" stroke="#3e26a8" stroke-width="0.7"/>
<path d="M552.9,481.1 554.6,480.6 556.2,480.2 557.8,479.7 559.4,479.2 561.0,478.8 562.7,478.3 564.3,477.9 565.9,477.4 567.5,477.0 569.2,476.6 570.8,476.2 572.4,475.8 574.0,475.5 575.7,475.2 577.3,474.9 578.9,474.7 580.5,474.4 580.5,474.7 552.9,481.4Z" fill="url(#sg0)"/>
<path d="M552.9,481.1 554.6,480.6 556.2,480.2 557.8,479.7 559.4,479.2 561.0,478.8 562.7,478.3 564.3,477.9 565.9,477.4 567.5,477.0 569.2,476.6 570.8,476.2 572.4,475.8 574.0,475.5 575.7,475.2 577.3,474.9 578.9,474.7 580.5,474.4" fill="none" stroke="#3e26a8" stroke-width="0.7"/>
<path d="M557.2,480.7 558.8,480.3 560.5,479.8 562.1,479.4 563.7,478.9 565.3,478.5 566.9,478.1 568.6,477.7 570.2,477.3 571.8,476.9 573.4,476.5 575.1,476.2 576.7,475.9 578.3,475.6 578.3,475.9 557.2,481.1Z" fill="url(#sg0)"/>
<path d="M557.2,480.7 558.8,480.3 560.5,479.8 562.1,479.4 563.7,478.9 565.3,478.5 566.9,478.1 568.6,477.7 570.2,477.3 571.8,476.9 573.4,476.5 575.1,476.2 576.7,475.9 578.3,475.6" fill="none" stroke="#3e26a8" stroke-width="0.7"/>
<line x1="495.3" y1="471.7" x2="495.3" y2="423.7" stroke="#262626" stroke-width="1.3"/>
<line x1="492.9" y1="471.1" x2="495.3" y2="471.7" stroke="#262626" stroke-width="1.0"/>
<text x="489" y="474.1" text-anchor="end">0</text>
<line x1="492.9" y1="447.1" x2="495.3" y2="447.7" stroke="#262626" stroke-width="1.0"/>
<text x="489" y="450.1" text-anchor="end">0.5</text>
<line x1="492.9" y1="423.1" x2="495.3" y2="423.7" stroke="#262626" stroke-width="1.0"/>
<text x="489" y="426.1" text-anchor="end">1</text>
<text x="491.9" y="412.1">×10<tspan font-size="6.2" dy="-3.4">-3</tspan></text>
<line x1="495.3" y1="471.7" x2="544.6" y2="493.3" stroke="#262626" stroke-width="1.3"/>
<line x1="544.6" y1="493.3" x2="609.5" y2="477.4" stroke="#262626" stroke-width="1.3"/>
<line x1="500.2" y1="473.9" x2="501" y2="473.1" stroke="#262626" stroke-width="1.0"/>
<line x1="510.1" y1="478.2" x2="510.9" y2="477.4" stroke="#262626" stroke-width="1.0"/>
<line x1="520" y1="482.5" x2="520.7" y2="481.7" stroke="#262626" stroke-width="1.0"/>
<line x1="529.8" y1="486.8" x2="530.6" y2="486.1" stroke="#262626" stroke-width="1.0"/>
<line x1="539.7" y1="491.1" x2="540.5" y2="490.4" stroke="#262626" stroke-width="1.0"/>
<line x1="544.6" y1="493.3" x2="542.4" y2="492.4" stroke="#262626" stroke-width="1.0"/>
<line x1="577.1" y1="485.4" x2="574.9" y2="484.4" stroke="#262626" stroke-width="1.0"/>
<line x1="609.5" y1="477.4" x2="607.3" y2="476.5" stroke="#262626" stroke-width="1.0"/>
<text x="472.7" y="450.7" text-anchor="middle" transform="rotate(-90 472.7 450.7)">Observed</text>
<path d="M495.3,566.8L560.2,550.9L609.5,572.5" fill="none" stroke="#cccccc" stroke-width="0.7"/>
<path d="M495.3,542.8L560.2,526.9L609.5,548.5" fill="none" stroke="#cccccc" stroke-width="0.7"/>
<line x1="527.8" y1="582.8" x2="527.8" y2="534.8" stroke="#cccccc" stroke-width="0.7"/>
<line x1="565.1" y1="577.1" x2="565.1" y2="529.1" stroke="#cccccc" stroke-width="0.7"/>
<line x1="575" y1="581.4" x2="575" y2="533.4" stroke="#cccccc" stroke-width="0.7"/>
<line x1="584.9" y1="585.7" x2="584.9" y2="537.7" stroke="#cccccc" stroke-width="0.7"/>
<line x1="594.7" y1="590" x2="594.7" y2="542" stroke="#cccccc" stroke-width="0.7"/>
<line x1="604.6" y1="594.3" x2="604.6" y2="546.3" stroke="#cccccc" stroke-width="0.7"/>
<line x1="560.2" y1="574.9" x2="560.2" y2="526.9" stroke="#cccccc" stroke-width="0.7"/>
<line x1="609.5" y1="596.5" x2="609.5" y2="548.5" stroke="#cccccc" stroke-width="0.7"/>
<path d="M495.3,590.8L560.2,574.9L609.5,596.5L544.6,612.4Z" fill="#3e26a8"/>
<defs><linearGradient id="sg119" gradientUnits="userSpaceOnUse" x1="0" y1="592.4" x2="0" y2="544.4"><stop offset="0.00" stop-color="#8778c9"/><stop offset="0.20" stop-color="#82a6fd"/><stop offset="0.40" stop-color="#70cde4"/><stop offset="0.60" stop-color="#94dcab"/><stop offset="0.80" stop-color="#edd380"/><stop offset="1.00" stop-color="#fbfd6a"/></linearGradient></defs>
<path d="M522.0,588.8 523.6,588.4 525.2,587.9 526.8,587.5 528.4,587.0 530.1,586.6 531.7,586.2 533.3,585.7 534.9,585.3 536.6,584.9 538.2,584.5 539.8,584.1 541.4,583.7 543.1,583.4 544.7,583.0 546.3,582.7 547.9,582.4 549.5,582.1 549.5,582.4 522.0,589.2Z" fill="url(#sg119)"/>
<path d="M522.0,588.8 523.6,588.4 525.2,587.9 526.8,587.5 528.4,587.0 530.1,586.6 531.7,586.2 533.3,585.7 534.9,585.3 536.6,584.9 538.2,584.5 539.8,584.1 541.4,583.7 543.1,583.4 544.7,583.0 546.3,582.7 547.9,582.4 549.5,582.1" fill="none" stroke="#3e26a8" stroke-width="0.7"/>
<path d="M521.4,589.7 523.0,589.2 524.6,588.7 526.2,588.2 527.9,587.7 529.5,587.3 531.1,586.8 532.7,586.4 534.3,586.0 536.0,585.6 537.6,585.1 539.2,584.7 540.8,584.3 542.5,583.9 544.1,583.5 545.7,583.2 547.3,582.9 548.9,582.6 550.6,582.4 552.2,582.1 552.2,582.5 521.4,590.0Z" fill="url(#sg119)"/>
<path d="M521.4,589.7 523.0,589.2 524.6,588.7 526.2,588.2 527.9,587.7 529.5,587.3 531.1,586.8 532.7,586.4 534.3,586.0 536.0,585.6 537.6,585.1 539.2,584.7 540.8,584.3 542.5,583.9 544.1,583.5 545.7,583.2 547.3,582.9 548.9,582.6 550.6,582.4 552.2,582.1" fill="none" stroke="#3e26a8" stroke-width="0.7"/>
<path d="M519.1,591.0 520.8,590.5 522.4,590.0 524.0,589.4 525.6,588.9 527.3,588.4 528.9,587.9 530.5,587.4 532.1,587.0 533.7,586.5 535.4,586.1 537.0,585.7 538.6,585.3 540.2,584.8 541.9,584.3 543.5,583.9 545.1,583.5 546.7,583.2 548.4,583.0 550.0,582.8 551.6,582.6 553.2,582.4 554.8,582.2 554.8,582.5 519.1,591.3Z" fill="url(#sg119)"/>
<path d="M519.1,591.0 520.8,590.5 522.4,590.0 524.0,589.4 525.6,588.9 527.3,588.4 528.9,587.9 530.5,587.4 532.1,587.0 533.7,586.5 535.4,586.1 537.0,585.7 538.6,585.3 540.2,584.8 541.9,584.3 543.5,583.9 545.1,583.5 546.7,583.2 548.4,583.0 550.0,582.8 551.6,582.6 553.2,582.4 554.8,582.2" fill="none" stroke="#3e26a8" stroke-width="0.7"/>
<path d="M518.6,591.8 520.2,591.3 521.8,590.8 523.4,590.2 525.0,589.6 526.7,589.0 528.3,588.4 529.9,587.9 531.5,587.4 533.2,587.0 534.8,586.6 536.4,586.2 538.0,585.8 539.6,585.3 541.3,584.8 542.9,584.2 544.5,583.7 546.1,583.3 547.8,583.0 549.4,582.8 551.0,582.8 552.6,582.7 554.2,582.7 555.9,582.5 557.5,582.3 557.5,582.6 518.6,592.1Z" fill="url(#sg119)"/>
<path d="M518.6,591.8 520.2,591.3 521.8,590.8 523.4,590.2 525.0,589.6 526.7,589.0 528.3,588.4 529.9,587.9 531.5,587.4 533.2,587.0 534.8,586.6 536.4,586.2 538.0,585.8 539.6,585.3 541.3,584.8 542.9,584.2 544.5,583.7 546.1,583.3 547.8,583.0 549.4,582.8 551.0,582.8 552.6,582.7 554.2,582.7 555.9,582.5 557.5,582.3" fill="none" stroke="#3e26a8" stroke-width="0.7"/>
<path d="M518.0,592.7 519.6,592.2 521.2,591.6 522.8,590.9 524.4,590.3 526.1,589.6 527.7,588.9 529.3,588.2 530.9,587.6 532.6,587.2 534.2,586.8 535.8,586.4 537.4,586.1 539.0,585.7 540.7,585.2 542.3,584.6 543.9,583.9 545.5,583.3 547.2,582.8 548.8,582.5 550.4,582.5 552.0,582.6 553.7,582.7 555.3,582.8 556.9,582.8 558.5,582.6 560.1,582.4 560.1,582.6 518.0,593.0Z" fill="url(#sg119)"/>
<path d="M518.0,592.7 519.6,592.2 521.2,591.6 522.8,590.9 524.4,590.3 526.1,589.6 527.7,588.9 529.3,588.2 530.9,587.6 532.6,587.2 534.2,586.8 535.8,586.4 537.4,586.1 539.0,585.7 540.7,585.2 542.3,584.6" fill="none" stroke="#3e26a8" stroke-width="0.7"/>
<path d="M542.3,584.6 543.9,583.9 545.5,583.3 547.2,582.8 548.8,582.5 550.4,582.5" fill="none" stroke="#4745f0" stroke-width="0.7"/>
<path d="M550.4,582.5 552.0,582.6 553.7,582.7 555.3,582.8 556.9,582.8 558.5,582.6 560.1,582.4" fill="none" stroke="#3e26a8" stroke-width="0.7"/>
<path d="M519.0,593.1 520.6,592.5 522.2,591.8 523.9,591.0 525.5,590.2 527.1,589.3 528.7,588.4 530.3,587.7 532.0,587.1 533.6,586.6 535.2,586.3 536.8,586.1 538.5,585.8 540.1,585.5 541.7,584.9 543.3,584.2 544.9,583.4 546.6,582.6 548.2,582.0 549.8,581.7 551.4,581.8 553.1,582.2 554.7,582.6 556.3,582.9 557.9,583.0 559.5,582.9 561.2,582.8 561.2,583.1 519.0,593.4Z" fill="url(#sg119)"/>
<path d="M519.0,593.1 520.6,592.5 522.2,591.8 523.9,591.0 525.5,590.2 527.1,589.3" fill="none" stroke="#3e26a8" stroke-width="0.7"/>
<path d="M527.1,589.3 528.7,588.4 530.3,587.7 532.0,587.1 533.6,586.6 535.2,586.3 536.8,586.1 538.5,585.8 540.1,585.5 541.7,584.9 543.3,584.2 544.9,583.4 546.6,582.6 548.2,582.0 549.8,581.7 551.4,581.8 553.1,582.2" fill="none" stroke="#4745f0" stroke-width="0.7"/>
<path d="M553.1,582.2 554.7,582.6 556.3,582.9 557.9,583.0 559.5,582.9 561.2,582.8" fill="none" stroke="#3e26a8" stroke-width="0.7"/>
<path d="M518.4,594.0 520.0,593.4 521.6,592.7 523.3,591.9 524.9,590.9 526.5,589.8 528.1,588.7 529.7,587.6 531.4,586.7 533.0,586.0 534.6,585.6 536.2,585.4 537.9,585.4 539.5,585.3 541.1,585.0 542.7,584.5 544.3,583.6 546.0,582.6 547.6,581.6 549.2,580.8 550.8,580.6 552.5,580.9 554.1,581.5 555.7,582.2 557.3,582.8 558.9,583.2 560.6,583.2 562.2,583.1 563.8,582.9 563.8,583.1 518.4,594.3Z" fill="url(#sg119)"/>
<path d="M518.4,594.0 520.0,593.4 521.6,592.7 523.3,591.9 524.9,590.9" fill="none" stroke="#3e26a8" stroke-width="0.7"/>
<path d="M524.9,590.9 526.5,589.8 528.1,588.7 529.7,587.6 531.4,586.7 533.0,586.0 534.6,585.6 536.2,585.4 537.9,585.4 539.5,585.3 541.1,585.0 542.7,584.5 544.3,583.6 546.0,582.6 547.6,581.6 549.2,580.8 550.8,580.6 552.5,580.9 554.1,581.5 555.7,582.2" fill="none" stroke="#4745f0" stroke-width="0.7"/>
<path d="M555.7,582.2 557.3,582.8 558.9,583.2 560.6,583.2 562.2,583.1 563.8,582.9" fill="none" stroke="#3e26a8" stroke-width="0.7"/>
<path d="M517.8,594.9 519.4,594.3 521.0,593.6 522.7,592.8 524.3,591.8 525.9,590.5 527.5,589.1 529.1,587.6 530.8,586.2 532.4,585.1 534.0,584.3 535.6,584.0 537.3,584.0 538.9,584.2 540.5,584.4 542.1,584.3 543.8,583.8 545.4,582.8 547.0,581.5 548.6,580.2 550.2,579.3 551.9,579.1 553.5,579.6 555.1,580.6 556.7,581.7 558.4,582.7 560.0,583.3 561.6,583.5 563.2,583.5 564.8,583.3 564.8,583.6 517.8,595.1Z" fill="url(#sg119)"/>
<path d="M517.8,594.9 519.4,594.3 521.0,593.6 522.7,592.8 524.3,591.8" fill="none" stroke="#3e26a8" stroke-width="0.7"/>
<path d="M524.3,591.8 525.9,590.5 527.5,589.1 529.1,587.6 530.8,586.2 532.4,585.1 534.0,584.3 535.6,584.0 537.3,584.0 538.9,584.2 540.5,584.4 542.1,584.3 543.8,583.8 545.4,582.8 547.0,581.5" fill="none" stroke="#4745f0" stroke-width="0.7"/>
<path d="M547.0,581.5 548.6,580.2 550.2,579.3 551.9,579.1" fill="none" stroke="#3670fc" stroke-width="0.7"/>
<path d="M551.9,579.1 553.5,579.6 555.1,580.6 556.7,581.7 558.4,582.7" fill="none" stroke="#4745f0" stroke-width="0.7"/>
<path d="M558.4,582.7 560.0,583.3 561.6,583.5 563.2,583.5 564.8,583.3" fill="none" stroke="#3e26a8" stroke-width="0.7"/>
<path d="M518.8,595.3 520.4,594.6 522.1,593.9 523.7,592.8 525.3,591.5 526.9,589.9 528.6,588.0 530.2,586.0 531.8,584.1 533.4,582.7 535.0,581.8 536.7,581.6 538.3,581.9 539.9,582.6 541.5,583.1 543.2,583.3 544.8,582.9 546.4,581.8 548.0,580.3 549.6,578.7 551.3,577.6 552.9,577.4 554.5,578.2 556.1,579.6 557.8,581.1 559.4,582.5 561.0,583.3 562.6,583.8 564.2,583.8 565.9,583.7 565.9,584.0 518.8,595.6Z" fill="url(#sg119)"/>
<path d="M518.8,595.3 520.4,594.6 522.1,593.9 523.7,592.8" fill="none" stroke="#3e26a8" stroke-width="0.7"/>
<path d="M523.7,592.8 525.3,591.5 526.9,589.9 528.6,588.0 530.2,586.0" fill="none" stroke="#4745f0" stroke-width="0.7"/>
<path d="M530.2,586.0 531.8,584.1 533.4,582.7 535.0,581.8 536.7,581.6 538.3,581.9 539.9,582.6" fill="none" stroke="#3670fc" stroke-width="0.7"/>
<path d="M539.9,582.6 541.5,583.1 543.2,583.3 544.8,582.9 546.4,581.8" fill="none" stroke="#4745f0" stroke-width="0.7"/>
<path d="M546.4,581.8 548.0,580.3 549.6,578.7 551.3,577.6 552.9,577.4 554.5,578.2" fill="none" stroke="#3670fc" stroke-width="0.7"/>
<path d="M554.5,578.2 556.1,579.6 557.8,581.1 559.4,582.5" fill="none" stroke="#4745f0" stroke-width="0.7"/>
<path d="M559.4,582.5 561.0,583.3 562.6,583.8 564.2,583.8 565.9,583.7" fill="none" stroke="#3e26a8" stroke-width="0.7"/>
<path d="M519.8,595.6 521.5,594.9 523.1,594.0 524.7,592.7 526.3,591.1 528.0,588.9 529.6,586.4 531.2,583.7 532.8,581.2 534.4,579.4 536.1,578.4 537.7,578.4 539.3,579.1 540.9,580.3 542.6,581.4 544.2,582.0 545.8,581.8 547.4,580.7 549.1,578.9 550.7,577.1 552.3,575.8 553.9,575.7 555.5,576.7 557.2,578.5 558.8,580.5 560.4,582.2 562.0,583.4 563.7,584.0 565.3,584.2 566.9,584.1 568.5,583.8 568.5,584.1 519.8,596.0Z" fill="url(#sg119)"/>
<path d="M519.8,595.6 521.5,594.9 523.1,594.0 524.7,592.7" fill="none" stroke="#3e26a8" stroke-width="0.7"/>
<path d="M524.7,592.7 526.3,591.1 528.0,588.9" fill="none" stroke="#4745f0" stroke-width="0.7"/>
<path d="M528.0,588.9 529.6,586.4 531.2,583.7 532.8,581.2" fill="none" stroke="#3670fc" stroke-width="0.7"/>
<path d="M532.8,581.2 534.4,579.4 536.1,578.4 537.7,578.4 539.3,579.1" fill="none" stroke="#2494e8" stroke-width="0.7"/>
<path d="M539.3,579.1 540.9,580.3 542.6,581.4 544.2,582.0 545.8,581.8 547.4,580.7 549.1,578.9 550.7,577.1" fill="none" stroke="#3670fc" stroke-width="0.7"/>
<path d="M550.7,577.1 552.3,575.8 553.9,575.7" fill="none" stroke="#2494e8" stroke-width="0.7"/>
<path d="M553.9,575.7 555.5,576.7 557.2,578.5" fill="none" stroke="#3670fc" stroke-width="0.7"/>
<path d="M557.2,578.5 558.8,580.5 560.4,582.2" fill="none" stroke="#4745f0" stroke-width="0.7"/>
<path d="M560.4,582.2 562.0,583.4 563.7,584.0 565.3,584.2 566.9,584.1 568.5,583.8" fill="none" stroke="#3e26a8" stroke-width="0.7"/>
<path d="M519.3,596.6 520.9,596.0 522.5,595.2 524.1,594.1 525.7,592.5 527.4,590.4 529.0,587.6 530.6,584.3 532.2,580.8 533.9,577.6 535.5,575.2 537.1,574.1 538.7,574.3 540.3,575.6 542.0,577.5 543.6,579.3 545.2,580.5 546.8,580.6 548.5,579.5 550.1,577.6 551.7,575.6 553.3,574.2 554.9,574.0 556.6,575.3 558.2,577.5 559.8,579.9 561.4,582.0 563.1,583.5 564.7,584.3 566.3,584.5 567.9,584.5 569.5,584.3 569.5,584.5 519.3,596.9Z" fill="url(#sg119)"/>
<path d="M519.3,596.6 520.9,596.0 522.5,595.2 524.1,594.1" fill="none" stroke="#3e26a8" stroke-width="0.7"/>
<path d="M524.1,594.1 525.7,592.5 527.4,590.4 529.0,587.6" fill="none" stroke="#4745f0" stroke-width="0.7"/>
<path d="M529.0,587.6 530.6,584.3" fill="none" stroke="#3670fc" stroke-width="0.7"/>
<path d="M530.6,584.3 532.2,580.8 533.9,577.6" fill="none" stroke="#2494e8" stroke-width="0.7"/>
<path d="M533.9,577.6 535.5,575.2 537.1,574.1 538.7,574.3" fill="none" stroke="#19aed4" stroke-width="0.7"/>
<path d="M538.7,574.3 540.3,575.6 542.0,577.5" fill="none" stroke="#2494e8" stroke-width="0.7"/>
<path d="M542.0,577.5 543.6,579.3 545.2,580.5 546.8,580.6 548.5,579.5 550.1,577.6" fill="none" stroke="#3670fc" stroke-width="0.7"/>
<path d="M550.1,577.6 551.7,575.6 553.3,574.2 554.9,574.0 556.6,575.3" fill="none" stroke="#2494e8" stroke-width="0.7"/>
<path d="M556.6,575.3 558.2,577.5" fill="none" stroke="#3670fc" stroke-width="0.7"/>
<path d="M558.2,577.5 559.8,579.9 561.4,582.0 563.1,583.5" fill="none" stroke="#4745f0" stroke-width="0.7"/>
<path d="M563.1,583.5 564.7,584.3 566.3,584.5 567.9,584.5 569.5,584.3" fill="none" stroke="#3e26a8" stroke-width="0.7"/>
<path d="M520.3,597.0 521.9,596.3 523.5,595.4 525.1,594.1 526.8,592.2 528.4,589.5 530.0,586.0 531.6,581.8 533.3,577.3 534.9,573.2 536.5,570.3 538.1,569.0 539.7,569.5 541.4,571.4 543.0,574.2 544.6,576.9 546.2,578.8 547.9,579.4 549.5,578.5 551.1,576.6 552.7,574.4 554.4,572.9 556.0,572.8 557.6,574.3 559.2,576.8 560.8,579.6 562.5,582.0 564.1,583.6 565.7,584.6 567.3,584.9 569.0,584.9 570.6,584.7 570.6,585.0 520.3,597.3Z" fill="url(#sg119)"/>
<path d="M520.3,597.0 521.9,596.3 523.5,595.4 525.1,594.1" fill="none" stroke="#3e26a8" stroke-width="0.7"/>
<path d="M525.1,594.1 526.8,592.2 528.4,589.5" fill="none" stroke="#4745f0" stroke-width="0.7"/>
<path d="M528.4,589.5 530.0,586.0" fill="none" stroke="#3670fc" stroke-width="0.7"/>
<path d="M530.0,586.0 531.6,581.8" fill="none" stroke="#2494e8" stroke-width="0.7"/>
<path d="M531.6,581.8 533.3,577.3 534.9,573.2" fill="none" stroke="#19aed4" stroke-width="0.7"/>
<path d="M534.9,573.2 536.5,570.3 538.1,569.0 539.7,569.5" fill="none" stroke="#20beac" stroke-width="0.7"/>
<path d="M539.7,569.5 541.4,571.4 543.0,574.2" fill="none" stroke="#19aed4" stroke-width="0.7"/>
<path d="M543.0,574.2 544.6,576.9 546.2,578.8" fill="none" stroke="#2494e8" stroke-width="0.7"/>
<path d="M546.2,578.8 547.9,579.4 549.5,578.5" fill="none" stroke="#3670fc" stroke-width="0.7"/>
<path d="M549.5,578.5 551.1,576.6 552.7,574.4 554.4,572.9 556.0,572.8 557.6,574.3" fill="none" stroke="#2494e8" stroke-width="0.7"/>
<path d="M557.6,574.3 559.2,576.8 560.8,579.6" fill="none" stroke="#3670fc" stroke-width="0.7"/>
<path d="M560.8,579.6 562.5,582.0 564.1,583.6" fill="none" stroke="#4745f0" stroke-width="0.7"/>
<path d="M564.1,583.6 565.7,584.6 567.3,584.9 569.0,584.9 570.6,584.7" fill="none" stroke="#3e26a8" stroke-width="0.7"/>
<path d="M521.3,597.4 522.9,596.7 524.5,595.7 526.2,594.1 527.8,591.8 529.4,588.6 531.0,584.2 532.7,579.0 534.3,573.5 535.9,568.5 537.5,564.9 539.2,563.5 540.8,564.3 542.4,567.0 544.0,570.7 545.6,574.4 547.3,577.1 548.9,578.3 550.5,577.7 552.1,575.9 553.8,573.8 555.4,572.3 557.0,572.2 558.6,573.8 560.2,576.5 561.9,579.5 563.5,582.1 565.1,583.9 566.7,584.9 568.4,585.3 570.0,585.3 571.6,585.1 571.6,585.4 521.3,597.8Z" fill="url(#sg119)"/>
<path d="M521.3,597.4 522.9,596.7 524.5,595.7" fill="none" stroke="#3e26a8" stroke-width="0.7"/>
<path d="M524.5,595.7 526.2,594.1 527.8,591.8" fill="none" stroke="#4745f0" stroke-width="0.7"/>
<path d="M527.8,591.8 529.4,588.6 531.0,584.2" fill="none" stroke="#3670fc" stroke-width="0.7"/>
<path d="M531.0,584.2 532.7,579.0" fill="none" stroke="#2494e8" stroke-width="0.7"/>
<path d="M532.7,579.0 534.3,573.5" fill="none" stroke="#19aed4" stroke-width="0.7"/>
<path d="M534.3,573.5 535.9,568.5" fill="none" stroke="#20beac" stroke-width="0.7"/>
<path d="M535.9,568.5 537.5,564.9 539.2,563.5 540.8,564.3" fill="none" stroke="#52c678" stroke-width="0.7"/>
<path d="M540.8,564.3 542.4,567.0" fill="none" stroke="#20beac" stroke-width="0.7"/>
<path d="M542.4,567.0 544.0,570.7 545.6,574.4" fill="none" stroke="#19aed4" stroke-width="0.7"/>
<path d="M545.6,574.4 547.3,577.1 548.9,578.3 550.5,577.7 552.1,575.9 553.8,573.8" fill="none" stroke="#2494e8" stroke-width="0.7"/>
<path d="M553.8,573.8 555.4,572.3" fill="none" stroke="#19aed4" stroke-width="0.7"/>
<path d="M555.4,572.3 557.0,572.2 558.6,573.8" fill="none" stroke="#2494e8" stroke-width="0.7"/>
<path d="M558.6,573.8 560.2,576.5 561.9,579.5" fill="none" stroke="#3670fc" stroke-width="0.7"/>
<path d="M561.9,579.5 563.5,582.1 565.1,583.9" fill="none" stroke="#4745f0" stroke-width="0.7"/>
<path d="M565.1,583.9 566.7,584.9 568.4,585.3 570.0,585.3 571.6,585.1" fill="none" stroke="#3e26a8" stroke-width="0.7"/>
<path d="M520.7,598.4 522.3,597.8 524.0,597.0 525.6,595.9 527.2,594.1 528.8,591.5 530.4,587.6 532.1,582.5 533.7,576.3 535.3,569.8 536.9,563.8 538.6,559.7 540.2,558.0 541.8,559.2 543.4,562.6 545.0,567.3 546.7,572.0 548.3,575.6 549.9,577.4 551.5,577.3 553.2,575.8 554.8,573.8 556.4,572.4 558.0,572.4 559.6,574.1 561.3,576.8 562.9,579.8 564.5,582.5 566.1,584.3 567.8,585.3 569.4,585.7 571.0,585.7 572.6,585.6 572.6,585.9 520.7,598.6Z" fill="url(#sg119)"/>
<path d="M520.7,598.4 522.3,597.8 524.0,597.0 525.6,595.9" fill="none" stroke="#3e26a8" stroke-width="0.7"/>
<path d="M525.6,595.9 527.2,594.1 528.8,591.5" fill="none" stroke="#4745f0" stroke-width="0.7"/>
<path d="M528.8,591.5 530.4,587.6" fill="none" stroke="#3670fc" stroke-width="0.7"/>
<path d="M530.4,587.6 532.1,582.5" fill="none" stroke="#2494e8" stroke-width="0.7"/>
<path d="M532.1,582.5 533.7,576.3" fill="none" stroke="#19aed4" stroke-width="0.7"/>
<path d="M533.7,576.3 535.3,569.8" fill="none" stroke="#20beac" stroke-width="0.7"/>
<path d="M535.3,569.8 536.9,563.8" fill="none" stroke="#52c678" stroke-width="0.7"/>
<path d="M536.9,563.8 538.6,559.7 540.2,558.0 541.8,559.2" fill="none" stroke="#a0be40" stroke-width="0.7"/>
<path d="M541.8,559.2 543.4,562.6" fill="none" stroke="#52c678" stroke-width="0.7"/>
<path d="M543.4,562.6 545.0,567.3" fill="none" stroke="#20beac" stroke-width="0.7"/>
<path d="M545.0,567.3 546.7,572.0" fill="none" stroke="#19aed4" stroke-width="0.7"/>
<path d="M546.7,572.0 548.3,575.6 549.9,577.4 551.5,577.3 553.2,575.8 554.8,573.8" fill="none" stroke="#2494e8" stroke-width="0.7"/>
<path d="M554.8,573.8 556.4,572.4 558.0,572.4" fill="none" stroke="#19aed4" stroke-width="0.7"/>
<path d="M558.0,572.4 559.6,574.1" fill="none" stroke="#2494e8" stroke-width="0.7"/>
<path d="M559.6,574.1 561.3,576.8 562.9,579.8" fill="none" stroke="#3670fc" stroke-width="0.7"/>
<path d="M562.9,579.8 564.5,582.5 566.1,584.3" fill="none" stroke="#4745f0" stroke-width="0.7"/>
<path d="M566.1,584.3 567.8,585.3 569.4,585.7 571.0,585.7 572.6,585.6" fill="none" stroke="#3e26a8" stroke-width="0.7"/>
<path d="M521.7,598.8 523.4,598.2 525.0,597.4 526.6,596.1 528.2,594.2 529.8,591.2 531.5,586.8 533.1,581.0 534.7,574.0 536.3,566.5 538.0,559.8 539.6,555.1 541.2,553.3 542.8,554.7 544.5,558.8 546.1,564.3 547.7,569.9 549.3,574.4 550.9,576.9 552.6,577.4 554.2,576.3 555.8,574.5 557.4,573.3 559.1,573.4 560.7,575.0 562.3,577.6 563.9,580.5 565.5,583.1 567.2,584.8 568.8,585.8 570.4,586.2 572.0,586.2 573.7,586.0 573.7,586.3 521.7,599.1Z" fill="url(#sg119)"/>
<path d="M521.7,598.8 523.4,598.2 525.0,597.4 526.6,596.1" fill="none" stroke="#3e26a8" stroke-width="0.7"/>
<path d="M526.6,596.1 528.2,594.2 529.8,591.2" fill="none" stroke="#4745f0" stroke-width="0.7"/>
<path d="M529.8,591.2 531.5,586.8" fill="none" stroke="#3670fc" stroke-width="0.7"/>
<path d="M531.5,586.8 533.1,581.0" fill="none" stroke="#2494e8" stroke-width="0.7"/>
<path d="M533.1,581.0 534.7,574.0" fill="none" stroke="#20beac" stroke-width="0.7"/>
<path d="M534.7,574.0 536.3,566.5" fill="none" stroke="#52c678" stroke-width="0.7"/>
<path d="M536.3,566.5 538.0,559.8" fill="none" stroke="#a0be40" stroke-width="0.7"/>
<path d="M538.0,559.8 539.6,555.1" fill="none" stroke="#e2b832" stroke-width="0.7"/>
<path d="M539.6,555.1 541.2,553.3" fill="none" stroke="#fcce2e" stroke-width="0.7"/>
<path d="M541.2,553.3 542.8,554.7" fill="none" stroke="#e2b832" stroke-width="0.7"/>
<path d="M542.8,554.7 544.5,558.8" fill="none" stroke="#a0be40" stroke-width="0.7"/>
<path d="M544.5,558.8 546.1,564.3" fill="none" stroke="#52c678" stroke-width="0.7"/>
<path d="M546.1,564.3 547.7,569.9" fill="none" stroke="#20beac" stroke-width="0.7"/>
<path d="M547.7,569.9 549.3,574.4" fill="none" stroke="#19aed4" stroke-width="0.7"/>
<path d="M549.3,574.4 550.9,576.9 552.6,577.4 554.2,576.3 555.8,574.5" fill="none" stroke="#2494e8" stroke-width="0.7"/>
<path d="M555.8,574.5 557.4,573.3" fill="none" stroke="#19aed4" stroke-width="0.7"/>
<path d="M557.4,573.3 559.1,573.4 560.7,575.0" fill="none" stroke="#2494e8" stroke-width="0.7"/>
<path d="M560.7,575.0 562.3,577.6 563.9,580.5" fill="none" stroke="#3670fc" stroke-width="0.7"/>
<path d="M563.9,580.5 565.5,583.1 567.2,584.8" fill="none" stroke="#4745f0" stroke-width="0.7"/>
<path d="M567.2,584.8 568.8,585.8 570.4,586.2 572.0,586.2 573.7,586.0" fill="none" stroke="#3e26a8" stroke-width="0.7"/>
<path d="M522.8,599.3 524.4,598.7 526.0,597.8 527.6,596.5 529.3,594.4 530.9,591.1 532.5,586.4 534.1,580.0 535.7,572.4 537.4,564.2 539.0,556.8 540.6,551.7 542.2,549.8 543.9,551.5 545.5,556.1 547.1,562.3 548.7,568.6 550.3,573.8 552.0,576.9 553.6,577.9 555.2,577.3 556.8,575.9 558.5,574.9 560.1,575.1 561.7,576.5 563.3,578.9 564.9,581.6 566.6,583.9 568.2,585.4 569.8,586.3 571.4,586.7 573.1,586.7 574.7,586.5 574.7,586.8 522.8,599.5Z" fill="url(#sg119)"/>
<path d="M522.8,599.3 524.4,598.7 526.0,597.8 527.6,596.5" fill="none" stroke="#3e26a8" stroke-width="0.7"/>
<path d="M527.6,596.5 529.3,594.4 530.9,591.1" fill="none" stroke="#4745f0" stroke-width="0.7"/>
<path d="M530.9,591.1 532.5,586.4" fill="none" stroke="#3670fc" stroke-width="0.7"/>
<path d="M532.5,586.4 534.1,580.0" fill="none" stroke="#2494e8" stroke-width="0.7"/>
<path d="M534.1,580.0 535.7,572.4" fill="none" stroke="#20beac" stroke-width="0.7"/>
<path d="M535.7,572.4 537.4,564.2" fill="none" stroke="#a0be40" stroke-width="0.7"/>
<path d="M537.4,564.2 539.0,556.8" fill="none" stroke="#e2b832" stroke-width="0.7"/>
<path d="M539.0,556.8 540.6,551.7 542.2,549.8 543.9,551.5" fill="none" stroke="#fcce2e" stroke-width="0.7"/>
<path d="M543.9,551.5 545.5,556.1" fill="none" stroke="#e2b832" stroke-width="0.7"/>
<path d="M545.5,556.1 547.1,562.3" fill="none" stroke="#a0be40" stroke-width="0.7"/>
<path d="M547.1,562.3 548.7,568.6" fill="none" stroke="#20beac" stroke-width="0.7"/>
<path d="M548.7,568.6 550.3,573.8" fill="none" stroke="#19aed4" stroke-width="0.7"/>
<path d="M550.3,573.8 552.0,576.9 553.6,577.9 555.2,577.3 556.8,575.9 558.5,574.9 560.1,575.1 561.7,576.5" fill="none" stroke="#2494e8" stroke-width="0.7"/>
<path d="M561.7,576.5 563.3,578.9 564.9,581.6" fill="none" stroke="#3670fc" stroke-width="0.7"/>
<path d="M564.9,581.6 566.6,583.9 568.2,585.4" fill="none" stroke="#4745f0" stroke-width="0.7"/>
<path d="M568.2,585.4 569.8,586.3 571.4,586.7 573.1,586.7 574.7,586.5" fill="none" stroke="#3e26a8" stroke-width="0.7"/>
<path d="M523.8,599.7 525.4,599.1 527.0,598.2 528.7,596.8 530.3,594.7 531.9,591.3 533.5,586.4 535.1,579.7 536.8,571.7 538.4,563.2 540.0,555.5 541.6,550.1 543.3,548.2 544.9,550.0 546.5,554.9 548.1,561.5 549.8,568.2 551.4,573.8 553.0,577.5 554.6,579.0 556.2,578.8 557.9,577.9 559.5,577.1 561.1,577.2 562.7,578.5 564.4,580.6 566.0,582.9 567.6,584.8 569.2,586.2 570.8,586.9 572.5,587.2 574.1,587.1 575.7,586.9 575.7,587.2 523.8,600.0Z" fill="url(#sg119)"/>
<path d="M523.8,599.7 525.4,599.1 527.0,598.2 528.7,596.8" fill="none" stroke="#3e26a8" stroke-width="0.7"/>
<path d="M528.7,596.8 530.3,594.7 531.9,591.3" fill="none" stroke="#4745f0" stroke-width="0.7"/>
<path d="M531.9,591.3 533.5,586.4" fill="none" stroke="#3670fc" stroke-width="0.7"/>
<path d="M533.5,586.4 535.1,579.7" fill="none" stroke="#19aed4" stroke-width="0.7"/>
<path d="M535.1,579.7 536.8,571.7" fill="none" stroke="#20beac" stroke-width="0.7"/>
<path d="M536.8,571.7 538.4,563.2" fill="none" stroke="#a0be40" stroke-width="0.7"/>
<path d="M538.4,563.2 540.0,555.5" fill="none" stroke="#e2b832" stroke-width="0.7"/>
<path d="M540.0,555.5 541.6,550.1" fill="none" stroke="#fcce2e" stroke-width="0.7"/>
<path d="M541.6,550.1 543.3,548.2" fill="none" stroke="#f9fb0e" stroke-width="0.7"/>
<path d="M543.3,548.2 544.9,550.0" fill="none" stroke="#fcce2e" stroke-width="0.7"/>
<path d="M544.9,550.0 546.5,554.9" fill="none" stroke="#e2b832" stroke-width="0.7"/>
<path d="M546.5,554.9 548.1,561.5" fill="none" stroke="#a0be40" stroke-width="0.7"/>
<path d="M548.1,561.5 549.8,568.2" fill="none" stroke="#20beac" stroke-width="0.7"/>
<path d="M549.8,568.2 551.4,573.8" fill="none" stroke="#19aed4" stroke-width="0.7"/>
<path d="M551.4,573.8 553.0,577.5 554.6,579.0 556.2,578.8 557.9,577.9 559.5,577.1 561.1,577.2" fill="none" stroke="#2494e8" stroke-width="0.7"/>
<path d="M561.1,577.2 562.7,578.5 564.4,580.6" fill="none" stroke="#3670fc" stroke-width="0.7"/>
<path d="M564.4,580.6 566.0,582.9 567.6,584.8 569.2,586.2" fill="none" stroke="#4745f0" stroke-width="0.7"/>
<path d="M569.2,586.2 570.8,586.9 572.5,587.2 574.1,587.1 575.7,586.9" fill="none" stroke="#3e26a8" stroke-width="0.7"/>
<path d="M524.8,600.2 526.4,599.5 528.1,598.7 529.7,597.3 531.3,595.1 532.9,591.8 534.6,586.8 536.2,580.2 537.8,572.2 539.4,563.6 541.0,556.0 542.7,550.6 544.3,548.7 545.9,550.5 547.5,555.4 549.2,562.0 550.8,568.9 552.4,574.6 554.0,578.5 555.6,580.4 557.3,580.6 558.9,580.1 560.5,579.6 562.1,579.7 563.8,580.8 565.4,582.5 567.0,584.3 568.6,585.9 570.2,587.0 571.9,587.5 573.5,587.7 575.1,587.6 576.7,587.4 576.7,587.7 524.8,600.4Z" fill="url(#sg119)"/>
<path d="M524.8,600.2 526.4,599.5 528.1,598.7 529.7,597.3" fill="none" stroke="#3e26a8" stroke-width="0.7"/>
<path d="M529.7,597.3 531.3,595.1 532.9,591.8" fill="none" stroke="#4745f0" stroke-width="0.7"/>
<path d="M532.9,591.8 534.6,586.8" fill="none" stroke="#3670fc" stroke-width="0.7"/>
<path d="M534.6,586.8 536.2,580.2" fill="none" stroke="#19aed4" stroke-width="0.7"/>
<path d="M536.2,580.2 537.8,572.2" fill="none" stroke="#20beac" stroke-width="0.7"/>
<path d="M537.8,572.2 539.4,563.6" fill="none" stroke="#a0be40" stroke-width="0.7"/>
<path d="M539.4,563.6 541.0,556.0" fill="none" stroke="#e2b832" stroke-width="0.7"/>
<path d="M541.0,556.0 542.7,550.6" fill="none" stroke="#fcce2e" stroke-width="0.7"/>
<path d="M542.7,550.6 544.3,548.7" fill="none" stroke="#f9fb0e" stroke-width="0.7"/>
<path d="M544.3,548.7 545.9,550.5" fill="none" stroke="#fcce2e" stroke-width="0.7"/>
<path d="M545.9,550.5 547.5,555.4" fill="none" stroke="#e2b832" stroke-width="0.7"/>
<path d="M547.5,555.4 549.2,562.0" fill="none" stroke="#a0be40" stroke-width="0.7"/>
<path d="M549.2,562.0 550.8,568.9" fill="none" stroke="#20beac" stroke-width="0.7"/>
<path d="M550.8,568.9 552.4,574.6" fill="none" stroke="#19aed4" stroke-width="0.7"/>
<path d="M552.4,574.6 554.0,578.5 555.6,580.4" fill="none" stroke="#2494e8" stroke-width="0.7"/>
<path d="M555.6,580.4 557.3,580.6 558.9,580.1" fill="none" stroke="#3670fc" stroke-width="0.7"/>
<path d="M558.9,580.1 560.5,579.6" fill="none" stroke="#2494e8" stroke-width="0.7"/>
<path d="M560.5,579.6 562.1,579.7 563.8,580.8 565.4,582.5" fill="none" stroke="#3670fc" stroke-width="0.7"/>
<path d="M565.4,582.5 567.0,584.3 568.6,585.9" fill="none" stroke="#4745f0" stroke-width="0.7"/>
<path d="M568.6,585.9 570.2,587.0 571.9,587.5 573.5,587.7 575.1,587.6 576.7,587.4" fill="none" stroke="#3e26a8" stroke-width="0.7"/>
<path d="M525.8,600.6 527.5,600.0 529.1,599.1 530.7,597.8 532.3,595.7 534.0,592.5 535.6,587.8 537.2,581.4 538.8,573.7 540.4,565.6 542.1,558.3 543.7,553.1 545.3,551.3 546.9,553.0 548.6,557.7 550.2,564.0 551.8,570.6 553.4,576.2 555.0,580.0 556.7,582.1 558.3,582.6 559.9,582.4 561.5,582.1 563.2,582.3 564.8,583.1 566.4,584.4 568.0,585.8 569.7,587.0 571.3,587.8 572.9,588.1 574.5,588.2 576.1,588.1 577.8,587.9 577.8,588.1 525.8,600.9Z" fill="url(#sg119)"/>
<path d="M525.8,600.6 527.5,600.0 529.1,599.1 530.7,597.8" fill="none" stroke="#3e26a8" stroke-width="0.7"/>
<path d="M530.7,597.8 532.3,595.7 534.0,592.5" fill="none" stroke="#4745f0" stroke-width="0.7"/>
<path d="M534.0,592.5 535.6,587.8" fill="none" stroke="#3670fc" stroke-width="0.7"/>
<path d="M535.6,587.8 537.2,581.4" fill="none" stroke="#2494e8" stroke-width="0.7"/>
<path d="M537.2,581.4 538.8,573.7" fill="none" stroke="#20beac" stroke-width="0.7"/>
<path d="M538.8,573.7 540.4,565.6" fill="none" stroke="#a0be40" stroke-width="0.7"/>
<path d="M540.4,565.6 542.1,558.3" fill="none" stroke="#e2b832" stroke-width="0.7"/>
<path d="M542.1,558.3 543.7,553.1 545.3,551.3 546.9,553.0" fill="none" stroke="#fcce2e" stroke-width="0.7"/>
<path d="M546.9,553.0 548.6,557.7" fill="none" stroke="#e2b832" stroke-width="0.7"/>
<path d="M548.6,557.7 550.2,564.0" fill="none" stroke="#52c678" stroke-width="0.7"/>
<path d="M550.2,564.0 551.8,570.6" fill="none" stroke="#20beac" stroke-width="0.7"/>
<path d="M551.8,570.6 553.4,576.2" fill="none" stroke="#19aed4" stroke-width="0.7"/>
<path d="M553.4,576.2 555.0,580.0" fill="none" stroke="#2494e8" stroke-width="0.7"/>
<path d="M555.0,580.0 556.7,582.1 558.3,582.6 559.9,582.4 561.5,582.1 563.2,582.3 564.8,583.1" fill="none" stroke="#3670fc" stroke-width="0.7"/>
<path d="M564.8,583.1 566.4,584.4 568.0,585.8 569.7,587.0" fill="none" stroke="#4745f0" stroke-width="0.7"/>
<path d="M569.7,587.0 571.3,587.8 572.9,588.1 574.5,588.2 576.1,588.1 577.8,587.9" fill="none" stroke="#3e26a8" stroke-width="0.7"/>
<path d="M526.9,601.1 528.5,600.5 530.1,599.7 531.7,598.4 533.4,596.5 535.0,593.5 536.6,589.2 538.2,583.3 539.9,576.3 541.5,568.9 543.1,562.1 544.7,557.4 546.3,555.7 548.0,557.2 549.6,561.4 551.2,567.1 552.8,573.1 554.5,578.3 556.1,581.9 557.7,583.9 559.3,584.7 560.9,584.7 562.6,584.5 564.2,584.7 565.8,585.3 567.4,586.2 569.1,587.2 570.7,588.0 572.3,588.5 573.9,588.8 575.5,588.8 577.2,588.6 578.8,588.3 578.8,588.6 526.9,601.3Z" fill="url(#sg119)"/>
<path d="M526.9,601.1 528.5,600.5 530.1,599.7 531.7,598.4" fill="none" stroke="#3e26a8" stroke-width="0.7"/>
<path d="M531.7,598.4 533.4,596.5 535.0,593.5" fill="none" stroke="#4745f0" stroke-width="0.7"/>
<path d="M535.0,593.5 536.6,589.2" fill="none" stroke="#3670fc" stroke-width="0.7"/>
<path d="M536.6,589.2 538.2,583.3" fill="none" stroke="#2494e8" stroke-width="0.7"/>
<path d="M538.2,583.3 539.9,576.3" fill="none" stroke="#20beac" stroke-width="0.7"/>
<path d="M539.9,576.3 541.5,568.9" fill="none" stroke="#52c678" stroke-width="0.7"/>
<path d="M541.5,568.9 543.1,562.1" fill="none" stroke="#a0be40" stroke-width="0.7"/>
<path d="M543.1,562.1 544.7,557.4" fill="none" stroke="#e2b832" stroke-width="0.7"/>
<path d="M544.7,557.4 546.3,555.7" fill="none" stroke="#fcce2e" stroke-width="0.7"/>
<path d="M546.3,555.7 548.0,557.2" fill="none" stroke="#e2b832" stroke-width="0.7"/>
<path d="M548.0,557.2 549.6,561.4" fill="none" stroke="#a0be40" stroke-width="0.7"/>
<path d="M549.6,561.4 551.2,567.1" fill="none" stroke="#52c678" stroke-width="0.7"/>
<path d="M551.2,567.1 552.8,573.1" fill="none" stroke="#20beac" stroke-width="0.7"/>
<path d="M552.8,573.1 554.5,578.3 556.1,581.9" fill="none" stroke="#2494e8" stroke-width="0.7"/>
<path d="M556.1,581.9 557.7,583.9 559.3,584.7 560.9,584.7 562.6,584.5 564.2,584.7" fill="none" stroke="#3670fc" stroke-width="0.7"/>
<path d="M564.2,584.7 565.8,585.3 567.4,586.2 569.1,587.2 570.7,588.0" fill="none" stroke="#4745f0" stroke-width="0.7"/>
<path d="M570.7,588.0 572.3,588.5 573.9,588.8 575.5,588.8 577.2,588.6 578.8,588.3" fill="none" stroke="#3e26a8" stroke-width="0.7"/>
<path d="M529.5,601.0 531.1,600.2 532.8,599.1 534.4,597.3 536.0,594.7 537.6,590.9 539.3,585.8 540.9,579.6 542.5,573.1 544.1,567.2 545.7,563.0 547.4,561.4 549.0,562.7 550.6,566.2 552.2,571.2 553.9,576.3 555.5,580.8 557.1,584.0 558.7,585.8 560.3,586.6 562.0,586.8 563.6,586.7 565.2,586.8 566.8,587.2 568.5,587.8 570.1,588.5 571.7,589.0 573.3,589.3 575.0,589.4 576.6,589.3 578.2,589.1 578.2,589.4 529.5,601.4Z" fill="url(#sg119)"/>
<path d="M529.5,601.0 531.1,600.2 532.8,599.1" fill="none" stroke="#3e26a8" stroke-width="0.7"/>
<path d="M532.8,599.1 534.4,597.3 536.0,594.7" fill="none" stroke="#4745f0" stroke-width="0.7"/>
<path d="M536.0,594.7 537.6,590.9" fill="none" stroke="#3670fc" stroke-width="0.7"/>
<path d="M537.6,590.9 539.3,585.8" fill="none" stroke="#2494e8" stroke-width="0.7"/>
<path d="M539.3,585.8 540.9,579.6" fill="none" stroke="#19aed4" stroke-width="0.7"/>
<path d="M540.9,579.6 542.5,573.1" fill="none" stroke="#20beac" stroke-width="0.7"/>
<path d="M542.5,573.1 544.1,567.2" fill="none" stroke="#52c678" stroke-width="0.7"/>
<path d="M544.1,567.2 545.7,563.0 547.4,561.4 549.0,562.7" fill="none" stroke="#a0be40" stroke-width="0.7"/>
<path d="M549.0,562.7 550.6,566.2" fill="none" stroke="#52c678" stroke-width="0.7"/>
<path d="M550.6,566.2 552.2,571.2" fill="none" stroke="#20beac" stroke-width="0.7"/>
<path d="M552.2,571.2 553.9,576.3" fill="none" stroke="#19aed4" stroke-width="0.7"/>
<path d="M553.9,576.3 555.5,580.8" fill="none" stroke="#2494e8" stroke-width="0.7"/>
<path d="M555.5,580.8 557.1,584.0 558.7,585.8" fill="none" stroke="#3670fc" stroke-width="0.7"/>
<path d="M558.7,585.8 560.3,586.6 562.0,586.8 563.6,586.7 565.2,586.8 566.8,587.2 568.5,587.8 570.1,588.5" fill="none" stroke="#4745f0" stroke-width="0.7"/>
<path d="M570.1,588.5 571.7,589.0 573.3,589.3 575.0,589.4 576.6,589.3 578.2,589.1" fill="none" stroke="#3e26a8" stroke-width="0.7"/>
<path d="M530.5,601.5 532.2,600.8 533.8,599.8 535.4,598.2 537.0,596.0 538.7,592.7 540.3,588.4 541.9,583.2 543.5,577.7 545.2,572.8 546.8,569.3 548.4,567.9 550.0,568.8 551.6,571.6 553.3,575.6 554.9,579.8 556.5,583.5 558.1,586.1 559.8,587.7 561.4,588.4 563.0,588.6 564.6,588.6 566.2,588.6 567.9,588.9 569.5,589.2 571.1,589.6 572.7,589.9 574.4,590.0 576.0,590.0 577.6,589.8 579.2,589.6 579.2,589.9 530.5,601.8Z" fill="url(#sg119)"/>
<path d="M530.5,601.5 532.2,600.8 533.8,599.8 535.4,598.2" fill="none" stroke="#3e26a8" stroke-width="0.7"/>
<path d="M535.4,598.2 537.0,596.0 538.7,592.7" fill="none" stroke="#4745f0" stroke-width="0.7"/>
<path d="M538.7,592.7 540.3,588.4" fill="none" stroke="#3670fc" stroke-width="0.7"/>
<path d="M540.3,588.4 541.9,583.2" fill="none" stroke="#2494e8" stroke-width="0.7"/>
<path d="M541.9,583.2 543.5,577.7" fill="none" stroke="#19aed4" stroke-width="0.7"/>
<path d="M543.5,577.7 545.2,572.8" fill="none" stroke="#20beac" stroke-width="0.7"/>
<path d="M545.2,572.8 546.8,569.3 548.4,567.9 550.0,568.8" fill="none" stroke="#52c678" stroke-width="0.7"/>
<path d="M550.0,568.8 551.6,571.6" fill="none" stroke="#20beac" stroke-width="0.7"/>
<path d="M551.6,571.6 553.3,575.6" fill="none" stroke="#19aed4" stroke-width="0.7"/>
<path d="M553.3,575.6 554.9,579.8" fill="none" stroke="#2494e8" stroke-width="0.7"/>
<path d="M554.9,579.8 556.5,583.5 558.1,586.1" fill="none" stroke="#3670fc" stroke-width="0.7"/>
<path d="M558.1,586.1 559.8,587.7 561.4,588.4 563.0,588.6 564.6,588.6 566.2,588.6 567.9,588.9 569.5,589.2" fill="none" stroke="#4745f0" stroke-width="0.7"/>
<path d="M569.5,589.2 571.1,589.6 572.7,589.9 574.4,590.0 576.0,590.0 577.6,589.8 579.2,589.6" fill="none" stroke="#3e26a8" stroke-width="0.7"/>
<path d="M531.6,602.0 533.2,601.3 534.8,600.4 536.4,599.2 538.1,597.3 539.7,594.6 541.3,591.1 542.9,586.9 544.6,582.5 546.2,578.5 547.8,575.6 549.4,574.4 551.0,575.0 552.7,577.1 554.3,580.1 555.9,583.4 557.5,586.2 559.2,588.2 560.8,589.5 562.4,590.0 564.0,590.2 565.6,590.2 567.3,590.2 568.9,590.3 570.5,590.4 572.1,590.6 573.8,590.7 575.4,590.7 577.0,590.5 578.6,590.3 580.3,590.1 580.3,590.3 531.6,602.3Z" fill="url(#sg119)"/>
<path d="M531.6,602.0 533.2,601.3 534.8,600.4 536.4,599.2" fill="none" stroke="#3e26a8" stroke-width="0.7"/>
<path d="M536.4,599.2 538.1,597.3 539.7,594.6" fill="none" stroke="#4745f0" stroke-width="0.7"/>
<path d="M539.7,594.6 541.3,591.1" fill="none" stroke="#3670fc" stroke-width="0.7"/>
<path d="M541.3,591.1 542.9,586.9 544.6,582.5" fill="none" stroke="#2494e8" stroke-width="0.7"/>
<path d="M544.6,582.5 546.2,578.5" fill="none" stroke="#19aed4" stroke-width="0.7"/>
<path d="M546.2,578.5 547.8,575.6 549.4,574.4 551.0,575.0" fill="none" stroke="#20beac" stroke-width="0.7"/>
<path d="M551.0,575.0 552.7,577.1" fill="none" stroke="#19aed4" stroke-width="0.7"/>
<path d="M552.7,577.1 554.3,580.1 555.9,583.4" fill="none" stroke="#2494e8" stroke-width="0.7"/>
<path d="M555.9,583.4 557.5,586.2 559.2,588.2" fill="none" stroke="#3670fc" stroke-width="0.7"/>
<path d="M559.2,588.2 560.8,589.5 562.4,590.0 564.0,590.2 565.6,590.2 567.3,590.2 568.9,590.3" fill="none" stroke="#4745f0" stroke-width="0.7"/>
<path d="M568.9,590.3 570.5,590.4 572.1,590.6 573.8,590.7 575.4,590.7 577.0,590.5 578.6,590.3 580.3,590.1" fill="none" stroke="#3e26a8" stroke-width="0.7"/>
<path d="M532.6,602.5 534.2,601.9 535.8,601.1 537.5,600.0 539.1,598.5 540.7,596.4 542.3,593.6 544.0,590.4 545.6,586.9 547.2,583.8 548.8,581.4 550.5,580.4 552.1,580.7 553.7,582.2 555.3,584.4 556.9,586.7 558.6,588.7 560.2,590.2 561.8,591.1 563.4,591.5 565.1,591.6 566.7,591.5 568.3,591.4 569.9,591.4 571.5,591.4 573.2,591.4 574.8,591.4 576.4,591.3 578.0,591.1 579.7,590.8 579.7,591.2 532.6,602.7Z" fill="url(#sg119)"/>
<path d="M532.6,602.5 534.2,601.9 535.8,601.1 537.5,600.0" fill="none" stroke="#3e26a8" stroke-width="0.7"/>
<path d="M537.5,600.0 539.1,598.5 540.7,596.4 542.3,593.6" fill="none" stroke="#4745f0" stroke-width="0.7"/>
<path d="M542.3,593.6 544.0,590.4" fill="none" stroke="#3670fc" stroke-width="0.7"/>
<path d="M544.0,590.4 545.6,586.9 547.2,583.8" fill="none" stroke="#2494e8" stroke-width="0.7"/>
<path d="M547.2,583.8 548.8,581.4 550.5,580.4 552.1,580.7" fill="none" stroke="#19aed4" stroke-width="0.7"/>
<path d="M552.1,580.7 553.7,582.2 555.3,584.4" fill="none" stroke="#2494e8" stroke-width="0.7"/>
<path d="M555.3,584.4 556.9,586.7 558.6,588.7" fill="none" stroke="#3670fc" stroke-width="0.7"/>
<path d="M558.6,588.7 560.2,590.2 561.8,591.1 563.4,591.5 565.1,591.6 566.7,591.5 568.3,591.4" fill="none" stroke="#4745f0" stroke-width="0.7"/>
<path d="M568.3,591.4 569.9,591.4 571.5,591.4 573.2,591.4 574.8,591.4 576.4,591.3 578.0,591.1 579.7,590.8" fill="none" stroke="#3e26a8" stroke-width="0.7"/>
<path d="M535.3,602.4 536.9,601.8 538.5,600.9 540.1,599.6 541.7,598.0 543.4,595.9 545.0,593.4 546.6,590.8 548.2,588.4 549.9,586.6 551.5,585.7 553.1,585.8 554.7,586.7 556.3,588.1 558.0,589.6 559.6,591.0 561.2,591.9 562.8,592.5 564.5,592.7 566.1,592.7 567.7,592.6 569.3,592.5 570.9,592.4 572.6,592.3 574.2,592.2 575.8,592.0 577.4,591.9 579.1,591.6 580.7,591.3 580.7,591.6 535.3,602.8Z" fill="url(#sg119)"/>
<path d="M535.3,602.4 536.9,601.8 538.5,600.9 540.1,599.6" fill="none" stroke="#3e26a8" stroke-width="0.7"/>
<path d="M540.1,599.6 541.7,598.0 543.4,595.9 545.0,593.4" fill="none" stroke="#4745f0" stroke-width="0.7"/>
<path d="M545.0,593.4 546.6,590.8 548.2,588.4" fill="none" stroke="#3670fc" stroke-width="0.7"/>
<path d="M548.2,588.4 549.9,586.6 551.5,585.7 553.1,585.8" fill="none" stroke="#2494e8" stroke-width="0.7"/>
<path d="M553.1,585.8 554.7,586.7 556.3,588.1 558.0,589.6" fill="none" stroke="#3670fc" stroke-width="0.7"/>
<path d="M558.0,589.6 559.6,591.0 561.2,591.9 562.8,592.5 564.5,592.7 566.1,592.7" fill="none" stroke="#4745f0" stroke-width="0.7"/>
<path d="M566.1,592.7 567.7,592.6 569.3,592.5 570.9,592.4 572.6,592.3 574.2,592.2 575.8,592.0 577.4,591.9 579.1,591.6 580.7,591.3" fill="none" stroke="#3e26a8" stroke-width="0.7"/>
<path d="M536.3,603.0 537.9,602.4 539.5,601.6 541.1,600.6 542.8,599.4 544.4,597.8 546.0,595.9 547.6,594.0 549.3,592.2 550.9,590.8 552.5,590.0 554.1,589.9 555.7,590.4 557.4,591.2 559.0,592.1 560.6,592.9 562.2,593.4 563.9,593.7 565.5,593.8 567.1,593.7 568.7,593.6 570.4,593.4 572.0,593.2 573.6,593.0 575.2,592.9 576.8,592.6 578.5,592.4 580.1,592.1 580.1,592.5 536.3,603.2Z" fill="url(#sg119)"/>
<path d="M536.3,603.0 537.9,602.4 539.5,601.6 541.1,600.6 542.8,599.4" fill="none" stroke="#3e26a8" stroke-width="0.7"/>
<path d="M542.8,599.4 544.4,597.8 546.0,595.9 547.6,594.0" fill="none" stroke="#4745f0" stroke-width="0.7"/>
<path d="M547.6,594.0 549.3,592.2 550.9,590.8 552.5,590.0 554.1,589.9 555.7,590.4" fill="none" stroke="#3670fc" stroke-width="0.7"/>
<path d="M555.7,590.4 557.4,591.2 559.0,592.1 560.6,592.9 562.2,593.4 563.9,593.7" fill="none" stroke="#4745f0" stroke-width="0.7"/>
<path d="M563.9,593.7 565.5,593.8 567.1,593.7 568.7,593.6 570.4,593.4 572.0,593.2 573.6,593.0 575.2,592.9 576.8,592.6 578.5,592.4 580.1,592.1" fill="none" stroke="#3e26a8" stroke-width="0.7"/>
<path d="M538.9,602.9 540.6,602.3 542.2,601.5 543.8,600.5 545.4,599.3 547.0,598.0 548.7,596.5 550.3,595.2 551.9,594.1 553.5,593.4 555.2,593.2 556.8,593.4 558.4,593.7 560.0,594.2 561.6,594.5 563.3,594.8 564.9,594.8 566.5,594.7 568.1,594.6 569.8,594.4 571.4,594.2 573.0,593.9 574.6,593.7 576.2,593.5 577.9,593.2 579.5,592.9 579.5,593.3 538.9,603.3Z" fill="url(#sg119)"/>
<path d="M538.9,602.9 540.6,602.3 542.2,601.5 543.8,600.5 545.4,599.3" fill="none" stroke="#3e26a8" stroke-width="0.7"/>
<path d="M545.4,599.3 547.0,598.0 548.7,596.5 550.3,595.2 551.9,594.1 553.5,593.4 555.2,593.2 556.8,593.4 558.4,593.7 560.0,594.2 561.6,594.5 563.3,594.8" fill="none" stroke="#4745f0" stroke-width="0.7"/>
<path d="M563.3,594.8 564.9,594.8 566.5,594.7 568.1,594.6 569.8,594.4 571.4,594.2 573.0,593.9 574.6,593.7 576.2,593.5 577.9,593.2 579.5,592.9" fill="none" stroke="#3e26a8" stroke-width="0.7"/>
<path d="M540.0,603.5 541.6,602.9 543.2,602.3 544.8,601.5 546.4,600.6 548.1,599.6 549.7,598.5 551.3,597.5 552.9,596.6 554.6,596.0 556.2,595.7 557.8,595.6 559.4,595.7 561.0,595.8 562.7,595.9 564.3,595.9 565.9,595.8 567.5,595.6 569.2,595.4 570.8,595.1 572.4,594.9 574.0,594.6 575.7,594.3 577.3,594.1 578.9,593.8 580.5,593.5 580.5,593.8 540.0,603.7Z" fill="url(#sg119)"/>
<path d="M540.0,603.5 541.6,602.9 543.2,602.3 544.8,601.5 546.4,600.6 548.1,599.6" fill="none" stroke="#3e26a8" stroke-width="0.7"/>
<path d="M548.1,599.6 549.7,598.5 551.3,597.5 552.9,596.6 554.6,596.0 556.2,595.7 557.8,595.6 559.4,595.7 561.0,595.8" fill="none" stroke="#4745f0" stroke-width="0.7"/>
<path d="M561.0,595.8 562.7,595.9 564.3,595.9 565.9,595.8 567.5,595.6 569.2,595.4 570.8,595.1 572.4,594.9 574.0,594.6 575.7,594.3 577.3,594.1 578.9,593.8 580.5,593.5" fill="none" stroke="#3e26a8" stroke-width="0.7"/>
<path d="M542.6,603.5 544.2,602.9 545.9,602.3 547.5,601.6 549.1,600.8 550.7,600.0 552.3,599.2 554.0,598.5 555.6,598.0 557.2,597.6 558.8,597.3 560.5,597.2 562.1,597.1 563.7,597.0 565.3,596.8 566.9,596.6 568.6,596.3 570.2,596.1 571.8,595.8 573.4,595.5 575.1,595.2 576.7,594.9 578.3,594.6 579.9,594.3 579.9,594.6 542.6,603.8Z" fill="url(#sg119)"/>
<path d="M542.6,603.5 544.2,602.9 545.9,602.3 547.5,601.6 549.1,600.8 550.7,600.0 552.3,599.2" fill="none" stroke="#3e26a8" stroke-width="0.7"/>
<path d="M552.3,599.2 554.0,598.5 555.6,598.0 557.2,597.6 558.8,597.3" fill="none" stroke="#4745f0" stroke-width="0.7"/>
<path d="M558.8,597.3 560.5,597.2 562.1,597.1 563.7,597.0 565.3,596.8 566.9,596.6 568.6,596.3 570.2,596.1 571.8,595.8 573.4,595.5 575.1,595.2 576.7,594.9 578.3,594.6 579.9,594.3" fill="none" stroke="#3e26a8" stroke-width="0.7"/>
<path d="M545.3,603.5 546.9,603.0 548.5,602.4 550.1,601.8 551.7,601.1 553.4,600.5 555.0,599.9 556.6,599.4 558.2,599.0 559.9,598.6 561.5,598.4 563.1,598.1 564.7,597.9 566.3,597.6 568.0,597.3 569.6,597.0 571.2,596.7 572.8,596.4 574.5,596.1 576.1,595.8 577.7,595.5 579.3,595.2 579.3,595.5 545.3,603.8Z" fill="url(#sg119)"/>
<path d="M545.3,603.5 546.9,603.0 548.5,602.4 550.1,601.8 551.7,601.1 553.4,600.5 555.0,599.9 556.6,599.4 558.2,599.0 559.9,598.6 561.5,598.4 563.1,598.1 564.7,597.9 566.3,597.6 568.0,597.3 569.6,597.0 571.2,596.7 572.8,596.4 574.5,596.1 576.1,595.8 577.7,595.5 579.3,595.2" fill="none" stroke="#3e26a8" stroke-width="0.7"/>
<path d="M547.9,603.6 549.5,603.1 551.1,602.5 552.8,602.0 554.4,601.4 556.0,600.9 557.6,600.4 559.3,600.0 560.9,599.7 562.5,599.3 564.1,599.0 565.8,598.7 567.4,598.3 569.0,598.0 570.6,597.7 572.2,597.4 573.9,597.0 575.5,596.7 577.1,596.4 577.1,596.7 547.9,603.9Z" fill="url(#sg119)"/>
<path d="M547.9,603.6 549.5,603.1 551.1,602.5 552.8,602.0 554.4,601.4 556.0,600.9 557.6,600.4 559.3,600.0 560.9,599.7 562.5,599.3 564.1,599.0 565.8,598.7 567.4,598.3 569.0,598.0 570.6,597.7 572.2,597.4 573.9,597.0 575.5,596.7 577.1,596.4" fill="none" stroke="#3e26a8" stroke-width="0.7"/>
<path d="M552.2,603.2 553.8,602.7 555.4,602.2 557.0,601.7 558.7,601.3 560.3,600.9 561.9,600.5 563.5,600.1 565.2,599.7 566.8,599.4 568.4,599.0 570.0,598.6 571.6,598.3 573.3,597.9 574.9,597.6 574.9,598.0 552.2,603.5Z" fill="url(#sg119)"/>
<path d="M552.2,603.2 553.8,602.7 555.4,602.2 557.0,601.7 558.7,601.3 560.3,600.9 561.9,600.5 563.5,600.1 565.2,599.7 566.8,599.4 568.4,599.0 570.0,598.6 571.6,598.3 573.3,597.9 574.9,597.6" fill="none" stroke="#3e26a8" stroke-width="0.7"/>
<line x1="495.3" y1="590.8" x2="495.3" y2="542.8" stroke="#262626" stroke-width="1.3"/>
<line x1="492.9" y1="590.2" x2="495.3" y2="590.8" stroke="#262626" stroke-width="1.0"/>
<text x="489" y="593.2" text-anchor="end">0</text>
<line x1="492.9" y1="566.2" x2="495.3" y2="566.8" stroke="#262626" stroke-width="1.0"/>
<text x="489" y="569.2" text-anchor="end">0.5</text>
<line x1="492.9" y1="542.2" x2="495.3" y2="542.8" stroke="#262626" stroke-width="1.0"/>
<text x="489" y="545.2" text-anchor="end">1</text>
<text x="491.9" y="531.2">×10<tspan font-size="6.2" dy="-3.4">-3</tspan></text>
<line x1="495.3" y1="590.8" x2="544.6" y2="612.4" stroke="#262626" stroke-width="1.3"/>
<line x1="544.6" y1="612.4" x2="609.5" y2="596.5" stroke="#262626" stroke-width="1.3"/>
<line x1="500.2" y1="593" x2="501" y2="592.2" stroke="#262626" stroke-width="1.0"/>
<line x1="510.1" y1="597.3" x2="510.9" y2="596.5" stroke="#262626" stroke-width="1.0"/>
<line x1="520" y1="601.6" x2="520.7" y2="600.8" stroke="#262626" stroke-width="1.0"/>
<line x1="529.8" y1="605.9" x2="530.6" y2="605.2" stroke="#262626" stroke-width="1.0"/>
<line x1="539.7" y1="610.2" x2="540.5" y2="609.5" stroke="#262626" stroke-width="1.0"/>
<line x1="544.6" y1="612.4" x2="542.4" y2="611.5" stroke="#262626" stroke-width="1.0"/>
<line x1="577.1" y1="604.4" x2="574.9" y2="603.5" stroke="#262626" stroke-width="1.0"/>
<line x1="609.5" y1="596.5" x2="607.3" y2="595.6" stroke="#262626" stroke-width="1.0"/>
<text x="472.7" y="569.8" text-anchor="middle" transform="rotate(-90 472.7 569.8)">Permuted</text>
<text x="486.3" y="483.5" text-anchor="middle">40</text>
<text x="497.8" y="488.4" text-anchor="middle">20</text>
<text x="510.9" y="493.3" text-anchor="middle">0</text>
<text x="517.5" y="498.2" text-anchor="middle">-20</text>
<text x="529" y="503.2" text-anchor="middle">-40</text>
<text x="556.9" y="504.8" text-anchor="middle">-50</text>
<text x="581.5" y="496.6" text-anchor="middle">0</text>
<text x="611.1" y="490" text-anchor="middle">50</text>
<text x="486.3" y="602.6" text-anchor="middle">40</text>
<text x="497.8" y="607.5" text-anchor="middle">20</text>
<text x="510.9" y="612.4" text-anchor="middle">0</text>
<text x="517.5" y="617.3" text-anchor="middle">-20</text>
<text x="529" y="622.3" text-anchor="middle">-40</text>
<text x="556.9" y="623.9" text-anchor="middle">-50</text>
<text x="581.5" y="615.7" text-anchor="middle">0</text>
<text x="611.1" y="609.1" text-anchor="middle">50</text>
<text x="498.2" y="624.5" text-anchor="middle" transform="rotate(25 498.2 624.5)">VTC Neural Space</text>
<text x="491.8" y="633.4" text-anchor="middle" transform="rotate(25 491.8 633.4)">Dimension 1</text>
<text x="588.4" y="629.9" text-anchor="middle" transform="rotate(-15 588.4 629.9)">VTC Neural Space</text>
<text x="592" y="640.3" text-anchor="middle" transform="rotate(-15 592 640.3)">Dimension 2</text>
<rect x="37.8" y="734.1" width="11" height="48.1" fill="#0b6fbd" stroke="#3a3a3a" stroke-width="0.4"/>
<rect x="51.2" y="714.7" width="11" height="67.5" fill="#d95319" stroke="#3a3a3a" stroke-width="0.4"/>
<rect x="84.8" y="719.6" width="11" height="62.6" fill="#0b6fbd" stroke="#3a3a3a" stroke-width="0.4"/>
<rect x="98.2" y="664.2" width="11" height="118" fill="#d95319" stroke="#3a3a3a" stroke-width="0.4"/>
<rect x="132.3" y="695.3" width="11" height="86.9" fill="#0b6fbd" stroke="#3a3a3a" stroke-width="0.4"/>
<rect x="145.7" y="686.9" width="11" height="95.3" fill="#d95319" stroke="#3a3a3a" stroke-width="0.4"/>
<line x1="26.9" y1="782.2" x2="167.9" y2="782.2" stroke="#262626" stroke-width="1.3"/>
<line x1="26.9" y1="782.2" x2="26.9" y2="661" stroke="#262626" stroke-width="1.3"/>
<line x1="50" y1="782.2" x2="50" y2="779.7" stroke="#262626" stroke-width="1.3"/>
<text x="50" y="794.2" text-anchor="middle">PH</text>
<line x1="97" y1="782.2" x2="97" y2="779.7" stroke="#262626" stroke-width="1.3"/>
<text x="97" y="794.2" text-anchor="middle">AH</text>
<line x1="144.5" y1="782.2" x2="144.5" y2="779.7" stroke="#262626" stroke-width="1.3"/>
<text x="144.5" y="794.2" text-anchor="middle">Amygdala</text>
<line x1="26.9" y1="782.2" x2="29.4" y2="782.2" stroke="#262626" stroke-width="1.3"/>
<text x="23.4" y="785.4" text-anchor="end">0</text>
<line x1="26.9" y1="762" x2="29.4" y2="762" stroke="#262626" stroke-width="1.3"/>
<text x="23.4" y="765.2" text-anchor="end">5</text>
<line x1="26.9" y1="741.8" x2="29.4" y2="741.8" stroke="#262626" stroke-width="1.3"/>
<text x="23.4" y="745" text-anchor="end">10</text>
<line x1="26.9" y1="721.6" x2="29.4" y2="721.6" stroke="#262626" stroke-width="1.3"/>
<text x="23.4" y="724.8" text-anchor="end">15</text>
<line x1="26.9" y1="701.4" x2="29.4" y2="701.4" stroke="#262626" stroke-width="1.3"/>
<text x="23.4" y="704.6" text-anchor="end">20</text>
<line x1="26.9" y1="681.2" x2="29.4" y2="681.2" stroke="#262626" stroke-width="1.3"/>
<text x="23.4" y="684.4" text-anchor="end">25</text>
<line x1="26.9" y1="661" x2="29.4" y2="661" stroke="#262626" stroke-width="1.3"/>
<text x="23.4" y="664.2" text-anchor="end">30</text>
<text x="7.3" y="719" text-anchor="middle" transform="rotate(-90 7.3 719)">% Feature Neurons</text>
<rect x="33" y="662.8" width="9.9" height="7.2" fill="#0b6fbd" stroke="#3a3a3a" stroke-width="0.4"/>
<rect x="33" y="673" width="9.9" height="7.2" fill="#d95319" stroke="#3a3a3a" stroke-width="0.4"/>
<text x="44.7" y="669.5">Left</text>
<text x="44.7" y="679.8">Right</text>
<clipPath id="hc0"><rect x="224.8" y="671.4" width="95.8" height="93.9"/></clipPath>
<g clip-path="url(#hc0)">
<rect x="224.8" y="671.4" width="95.8" height="93.9" fill="#3e26a8"/>
<ellipse cx="261.5" cy="685.7" rx="12.6" ry="18.6" fill="#2f86f0"/>
<path d="M272.6,672.1L279.1,672.9L278.4,677.2L274.1,677.9Z" fill="#2f86f0"/>
<ellipse cx="261.9" cy="691.5" rx="7.9" ry="12.2" fill="#22b4a6"/>
<ellipse cx="261.9" cy="686.5" rx="5.2" ry="3.4" fill="#d8b62c"/>
<ellipse cx="248.3" cy="718.6" rx="9.3" ry="11.4" fill="#2f86f0" transform="rotate(-20 248.3 718.6)"/>
<ellipse cx="258.3" cy="724.4" rx="10.3" ry="10.3" fill="#2f86f0"/>
<ellipse cx="262.6" cy="715.8" rx="7.2" ry="7.9" fill="#2f86f0"/>
<ellipse cx="248.3" cy="717.2" rx="7.4" ry="8.9" fill="#22b4a6" transform="rotate(-25 248.3 717.2)"/>
<ellipse cx="250.5" cy="720.4" rx="2.6" ry="3.7" fill="#d8b62c" transform="rotate(20 250.5 720.4)"/>
<ellipse cx="261.5" cy="720.8" rx="6" ry="6" fill="#22b4a6"/>
<ellipse cx="278.4" cy="720.8" rx="8.9" ry="24.6" fill="#2f86f0"/>
<ellipse cx="280.5" cy="715.1" rx="6.9" ry="11.4" fill="#22b4a6"/>
<ellipse cx="281.5" cy="714.6" rx="2.6" ry="2.9" fill="#f4e41c"/>
<ellipse cx="291.2" cy="713.6" rx="7.2" ry="16" fill="#2f86f0"/>
<ellipse cx="290.5" cy="712.9" rx="5.2" ry="7.2" fill="#22b4a6"/>
<ellipse cx="291" cy="712.6" rx="1" ry="2.3" fill="#d8b62c"/>
<ellipse cx="306.7" cy="710.3" rx="8.9" ry="16.9" fill="#2f86f0"/>
</g>
<line x1="224.8" y1="765.3" x2="320.6" y2="765.3" stroke="#262626" stroke-width="1.3"/>
<line x1="224.8" y1="765.3" x2="224.8" y2="671.4" stroke="#262626" stroke-width="1.3"/>
<line x1="244.5" y1="765.3" x2="244.5" y2="763.3" stroke="#262626" stroke-width="1.3"/>
<text x="244.5" y="777.1" text-anchor="middle">-20</text>
<line x1="266.9" y1="765.3" x2="266.9" y2="763.3" stroke="#262626" stroke-width="1.3"/>
<text x="266.9" y="777.1" text-anchor="middle">0</text>
<line x1="289.3" y1="765.3" x2="289.3" y2="763.3" stroke="#262626" stroke-width="1.3"/>
<text x="289.3" y="777.1" text-anchor="middle">20</text>
<line x1="311.6" y1="765.3" x2="311.6" y2="763.3" stroke="#262626" stroke-width="1.3"/>
<text x="311.6" y="777.1" text-anchor="middle">40</text>
<line x1="224.8" y1="688.5" x2="226.8" y2="688.5" stroke="#262626" stroke-width="1.3"/>
<text x="221.3" y="691.7" text-anchor="end">20</text>
<line x1="224.8" y1="719.9" x2="226.8" y2="719.9" stroke="#262626" stroke-width="1.3"/>
<text x="221.3" y="723.1" text-anchor="end">0</text>
<line x1="224.8" y1="751.3" x2="226.8" y2="751.3" stroke="#262626" stroke-width="1.3"/>
<text x="221.3" y="754.5" text-anchor="end">-20</text>
<text x="272.3" y="666.9" text-anchor="middle">PH (<tspan font-style="italic">n</tspan> = 14)</text>
<text x="300" y="682.2" text-anchor="middle" fill="#ffffff">29.14%</text>
<text x="272.3" y="787" text-anchor="middle">VTC Neural Space Dimension 1</text>
<defs><linearGradient id="cb0" x1="0" y1="0" x2="0" y2="1"><stop offset="0.00" stop-color="#f9fb0e"/><stop offset="0.10" stop-color="#fcce2e"/><stop offset="0.20" stop-color="#e2b832"/><stop offset="0.30" stop-color="#a0be40"/><stop offset="0.40" stop-color="#52c678"/><stop offset="0.50" stop-color="#20beac"/><stop offset="0.60" stop-color="#19aed4"/><stop offset="0.70" stop-color="#2494e8"/><stop offset="0.80" stop-color="#3670fc"/><stop offset="0.90" stop-color="#4745f0"/><stop offset="1.00" stop-color="#3e26a8"/></linearGradient></defs>
<rect x="325.3" y="696.4" width="5.3" height="53.1" fill="url(#cb0)" stroke="#262626" stroke-width="0.6"/>
<text x="332.1" y="699.8">4</text>
<text x="332.1" y="726.2">2</text>
<text x="332.1" y="752.6">0</text>
<clipPath id="hc1"><rect x="364.2" y="671.4" width="95.8" height="93.9"/></clipPath>
<g clip-path="url(#hc1)">
<rect x="364.2" y="671.4" width="95.8" height="93.9" fill="#3e26a8"/>
<path d="M376.3,672.9L400.6,672.1L401.3,681.4L377.7,680.7Z" fill="#4452e8"/>
<ellipse cx="387" cy="688.6" rx="6.4" ry="7.9" fill="#4452e8"/>
<ellipse cx="389.6" cy="706.5" rx="7.4" ry="11.2" fill="#4452e8"/>
<path d="M383.4,737.2L389.2,725.8L397.7,717.2L406.3,717.2L406.3,732.9L396.3,740.1Z" fill="#4452e8"/>
<path d="M397.7,672.1L437.8,672.1L447.8,685.7L455,695.8L456.1,712.9L453.5,724.4L443.5,735.8L430.6,740.1L420.6,744.4L412.8,752.3L409.9,744.4L404.9,732.9L400.6,717.2L399.2,698.6L397.7,684.3Z" fill="#2f86f0"/>
<path d="M437.8,675.7L449.2,688.6L455,698.6L455,712.9L452.1,724.4L443.5,732.9L430.6,737.2L426.3,717.2L429.2,691.5Z" fill="#1a9ed8"/>
<ellipse cx="439.2" cy="711.5" rx="10" ry="16.5" fill="#22b4a6"/>
<ellipse cx="410.6" cy="678.6" rx="11.4" ry="6.4" fill="#3cb8a0"/>
<ellipse cx="419.2" cy="702.9" rx="13.6" ry="21.5" fill="#70c05c" transform="rotate(-10 419.2 702.9)"/>
<ellipse cx="412.8" cy="684.3" rx="6.4" ry="5.4" fill="#f0a838"/>
<ellipse cx="424.2" cy="694.3" rx="4.3" ry="5.7" fill="#f0a838"/>
<path d="M419.9,693.6L427.1,694.3L429.9,702.9L429.2,712.9L424.9,717.2L419.9,715.8L417,708.6L417.8,700Z" fill="#f4e41c"/>
<ellipse cx="434.9" cy="725.8" rx="7.2" ry="7.9" fill="#70c05c"/>
<ellipse cx="414.9" cy="732.9" rx="5.7" ry="5.7" fill="#70c05c"/>
<ellipse cx="410.6" cy="717.2" rx="4.3" ry="5.7" fill="#3cb8a0"/>
<ellipse cx="422.1" cy="727.2" rx="4" ry="6.4" fill="#2f86f0"/>
<ellipse cx="432.1" cy="720.1" rx="2.9" ry="3.6" fill="#f0a838"/>
</g>
<line x1="364.2" y1="765.3" x2="460" y2="765.3" stroke="#262626" stroke-width="1.3"/>
<line x1="364.2" y1="765.3" x2="364.2" y2="671.4" stroke="#262626" stroke-width="1.3"/>
<line x1="383.9" y1="765.3" x2="383.9" y2="763.3" stroke="#262626" stroke-width="1.3"/>
<text x="383.9" y="777.1" text-anchor="middle">-20</text>
<line x1="406.3" y1="765.3" x2="406.3" y2="763.3" stroke="#262626" stroke-width="1.3"/>
<text x="406.3" y="777.1" text-anchor="middle">0</text>
<line x1="428.7" y1="765.3" x2="428.7" y2="763.3" stroke="#262626" stroke-width="1.3"/>
<text x="428.7" y="777.1" text-anchor="middle">20</text>
<line x1="451" y1="765.3" x2="451" y2="763.3" stroke="#262626" stroke-width="1.3"/>
<text x="451" y="777.1" text-anchor="middle">40</text>
<line x1="364.2" y1="688.5" x2="366.2" y2="688.5" stroke="#262626" stroke-width="1.3"/>
<text x="360.7" y="691.7" text-anchor="end">20</text>
<line x1="364.2" y1="719.9" x2="366.2" y2="719.9" stroke="#262626" stroke-width="1.3"/>
<text x="360.7" y="723.1" text-anchor="end">0</text>
<line x1="364.2" y1="751.3" x2="366.2" y2="751.3" stroke="#262626" stroke-width="1.3"/>
<text x="360.7" y="754.5" text-anchor="end">-20</text>
<text x="411.7" y="666.9" text-anchor="middle">AH (<tspan font-style="italic">n</tspan> = 22)</text>
<text x="439.4" y="682.2" text-anchor="middle" fill="#ffffff">44.69%</text>
<text x="411.7" y="787" text-anchor="middle">VTC Neural Space Dimension 1</text>
<defs><linearGradient id="cb1" x1="0" y1="0" x2="0" y2="1"><stop offset="0.00" stop-color="#f9fb0e"/><stop offset="0.10" stop-color="#fcce2e"/><stop offset="0.20" stop-color="#e2b832"/><stop offset="0.30" stop-color="#a0be40"/><stop offset="0.40" stop-color="#52c678"/><stop offset="0.50" stop-color="#20beac"/><stop offset="0.60" stop-color="#19aed4"/><stop offset="0.70" stop-color="#2494e8"/><stop offset="0.80" stop-color="#3670fc"/><stop offset="0.90" stop-color="#4745f0"/><stop offset="1.00" stop-color="#3e26a8"/></linearGradient></defs>
<rect x="464.7" y="696.4" width="5.3" height="53.1" fill="url(#cb1)" stroke="#262626" stroke-width="0.6"/>
<text x="471.5" y="699.8">6</text>
<text x="471.5" y="726.2">3</text>
<text x="471.5" y="752.6">0</text>
<clipPath id="hc2"><rect x="503.9" y="671.4" width="95.8" height="93.9"/></clipPath>
<g clip-path="url(#hc2)">
<rect x="503.9" y="671.4" width="95.8" height="93.9" fill="#3e26a8"/>
<path d="M509.5,678.6L516,673.6L527.4,672.1L551.7,672.1L564.6,675.7L577.5,682.9L588.9,691.5L594.7,701.5L594.7,712.9L590.4,724.4L583.2,734.4L573.2,741.5L563.2,745.8L553.2,750.1L546,755.8L531.7,759.4L529.6,747.3L520.3,738.7L514.5,730.1L508.8,717.2L506.7,701.5L507.4,688.6Z" fill="#3468ee"/>
<path d="M511.7,690L527.4,678.6L546,675.7L567.5,682.9L583.2,691.5L591.8,702.9L591.8,715.8L583.2,730.1L567.5,737.2L550.3,738.7L531.7,737.2L517.4,727.2L511.7,712.9Z" fill="#2490e8"/>
<ellipse cx="524.6" cy="705.8" rx="12.2" ry="17.2" fill="#1ca4d8"/>
<ellipse cx="570.3" cy="708.6" rx="18.6" ry="17.2" fill="#1ca4d8"/>
<ellipse cx="548.9" cy="724.4" rx="12.9" ry="8.6" fill="#1ca4d8"/>
<ellipse cx="531.7" cy="725.8" rx="10.7" ry="7.2" fill="#1eaec4"/>
<ellipse cx="583.2" cy="711.5" rx="9.3" ry="13.6" fill="#20b2b2"/>
<ellipse cx="521.7" cy="704.3" rx="7.2" ry="10" fill="#20b0bc"/>
<ellipse cx="564.6" cy="707.2" rx="10.7" ry="7.9" fill="#3cb89a"/>
<ellipse cx="574.6" cy="700.8" rx="6.4" ry="6.4" fill="#5cbc80"/>
<ellipse cx="561.8" cy="710.1" rx="2.9" ry="4" fill="#98c050"/>
<ellipse cx="568.9" cy="704.3" rx="2.6" ry="3.4" fill="#98c050"/>
<ellipse cx="528.9" cy="725.8" rx="3.1" ry="3.4" fill="#70bc68"/>
<ellipse cx="553.2" cy="690" rx="6.9" ry="8.3" fill="#48b890"/>
<ellipse cx="551.7" cy="691.2" rx="3.7" ry="5.2" fill="#eab83a"/>
<ellipse cx="556.9" cy="691.2" rx="2" ry="4.3" fill="#b0c048"/>
<ellipse cx="541.7" cy="700.8" rx="3.6" ry="4.3" fill="#3458e4"/>
<ellipse cx="545.3" cy="719.4" rx="3.6" ry="5" fill="#3458e4"/>
<ellipse cx="550.3" cy="712.9" rx="2.6" ry="3.1" fill="#3458e4"/>
<ellipse cx="537.4" cy="744.4" rx="7.2" ry="5.7" fill="#2c84e8"/>
<ellipse cx="516" cy="684.3" rx="5.7" ry="5.7" fill="#3070ee"/>
</g>
<line x1="503.9" y1="765.3" x2="599.7" y2="765.3" stroke="#262626" stroke-width="1.3"/>
<line x1="503.9" y1="765.3" x2="503.9" y2="671.4" stroke="#262626" stroke-width="1.3"/>
<line x1="523.6" y1="765.3" x2="523.6" y2="763.3" stroke="#262626" stroke-width="1.3"/>
<text x="523.6" y="777.1" text-anchor="middle">-20</text>
<line x1="546" y1="765.3" x2="546" y2="763.3" stroke="#262626" stroke-width="1.3"/>
<text x="546" y="777.1" text-anchor="middle">0</text>
<line x1="568.4" y1="765.3" x2="568.4" y2="763.3" stroke="#262626" stroke-width="1.3"/>
<text x="568.4" y="777.1" text-anchor="middle">20</text>
<line x1="590.7" y1="765.3" x2="590.7" y2="763.3" stroke="#262626" stroke-width="1.3"/>
<text x="590.7" y="777.1" text-anchor="middle">40</text>
<line x1="503.9" y1="688.5" x2="505.9" y2="688.5" stroke="#262626" stroke-width="1.3"/>
<text x="500.4" y="691.7" text-anchor="end">20</text>
<line x1="503.9" y1="719.9" x2="505.9" y2="719.9" stroke="#262626" stroke-width="1.3"/>
<text x="500.4" y="723.1" text-anchor="end">0</text>
<line x1="503.9" y1="751.3" x2="505.9" y2="751.3" stroke="#262626" stroke-width="1.3"/>
<text x="500.4" y="754.5" text-anchor="end">-20</text>
<text x="551.4" y="666.9" text-anchor="middle">Amygdala (<tspan font-style="italic">n</tspan> = 52)</text>
<text x="579.1" y="682.2" text-anchor="middle" fill="#ffffff">60.73%</text>
<text x="551.4" y="787" text-anchor="middle">VTC Neural Space Dimension 1</text>
<defs><linearGradient id="cb2" x1="0" y1="0" x2="0" y2="1"><stop offset="0.00" stop-color="#f9fb0e"/><stop offset="0.10" stop-color="#fcce2e"/><stop offset="0.20" stop-color="#e2b832"/><stop offset="0.30" stop-color="#a0be40"/><stop offset="0.40" stop-color="#52c678"/><stop offset="0.50" stop-color="#20beac"/><stop offset="0.60" stop-color="#19aed4"/><stop offset="0.70" stop-color="#2494e8"/><stop offset="0.80" stop-color="#3670fc"/><stop offset="0.90" stop-color="#4745f0"/><stop offset="1.00" stop-color="#3e26a8"/></linearGradient></defs>
<rect x="604.4" y="696.4" width="5.3" height="53.1" fill="url(#cb2)" stroke="#262626" stroke-width="0.6"/>
<text x="611.2" y="699.8">12</text>
<text x="611.2" y="726.2">6</text>
<text x="611.2" y="752.6">0</text>
<text x="193.5" y="718" text-anchor="middle" transform="rotate(-90 193.5 718)">VTC Neural Space</text>
<text x="204.2" y="718" text-anchor="middle" transform="rotate(-90 204.2 718)">Dimension 2</text>
</svg>
</body></html>
